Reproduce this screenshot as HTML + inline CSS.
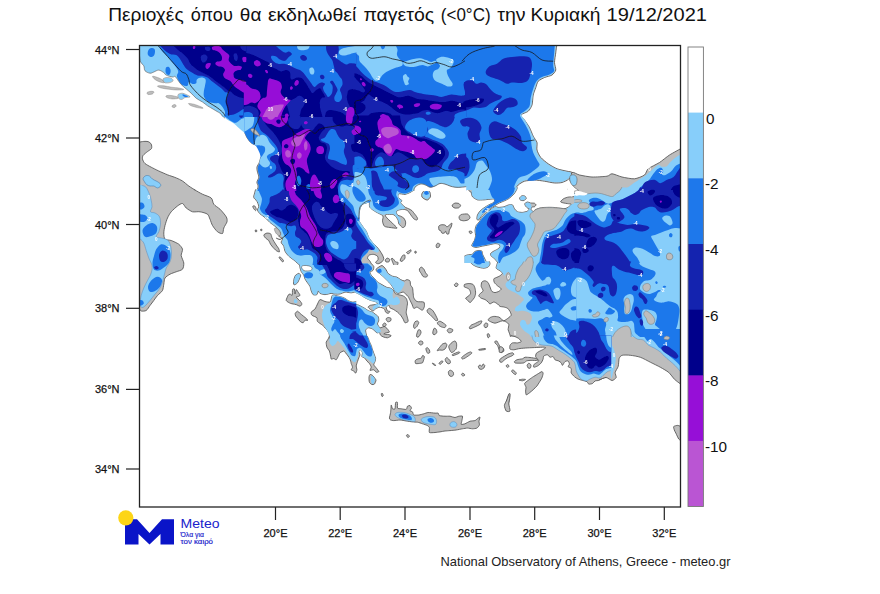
<!DOCTYPE html>
<html><head><meta charset="utf-8">
<style>
html,body{margin:0;padding:0;background:#fff;}
body{width:880px;height:594px;overflow:hidden;font-family:"Liberation Sans",sans-serif;}
svg{display:block;}
text{font-family:"Liberation Sans",sans-serif;}
</style></head><body>
<svg width="880" height="594" viewBox="0 0 880 594">
<rect width="880" height="594" fill="#fff"/>
<!-- TITLE -->
<g font-size="19" fill="#111"><text x="108.3" y="20.6" textLength="75.3" lengthAdjust="spacingAndGlyphs">Περιοχές</text><text x="190.8" y="20.6" textLength="42.0" lengthAdjust="spacingAndGlyphs">όπου</text><text x="239.8" y="20.6" textLength="21.6" lengthAdjust="spacingAndGlyphs">θα</text><text x="267.9" y="20.6" textLength="88.5" lengthAdjust="spacingAndGlyphs">εκδηλωθεί</text><text x="363.4" y="20.6" textLength="70.8" lengthAdjust="spacingAndGlyphs">παγετός</text><text x="440.8" y="20.6" textLength="49.8" lengthAdjust="spacingAndGlyphs">(&lt;0°C)</text><text x="497.2" y="20.6" textLength="28.4" lengthAdjust="spacingAndGlyphs">την</text><text x="530.6" y="20.6" textLength="69.8" lengthAdjust="spacingAndGlyphs">Κυριακή</text><text x="606.6" y="20.6" textLength="100.4" lengthAdjust="spacingAndGlyphs">19/12/2021</text></g>
<defs><filter id="soft" x="-2%" y="-2%" width="104%" height="104%"><feGaussianBlur stdDeviation="0.4"/></filter><clipPath id="mapclip"><rect x="139.5" y="45.5" width="541" height="461.5"/></clipPath></defs>
<g clip-path="url(#mapclip)" id="map"><g filter="url(#soft)">
<path d="M464.5,43.8 C464.5,43.8 557.0,43.8 557.0,43.8 C557.0,43.8 556.0,50.3 555.8,52.5 C555.5,54.7 554.5,60.5 554.5,62.5 C554.5,64.5 556.0,68.5 555.8,70.0 C555.5,71.5 553.3,74.1 552.0,75.0 C550.7,75.9 546.1,76.8 544.5,77.5 C542.9,78.2 539.3,80.1 538.2,81.2 C537.2,82.4 536.3,85.9 535.8,87.5 C535.2,89.1 533.7,93.0 533.2,95.0 C532.8,97.0 532.6,103.1 532.0,105.0 C531.4,106.9 529.6,110.1 528.2,111.2 C526.9,112.4 521.2,114.0 520.8,115.0 C520.3,116.0 523.5,118.5 524.5,120.0 C525.5,121.5 528.5,125.6 529.5,127.5 C530.5,129.4 532.4,134.5 533.2,136.2 C534.1,138.0 536.6,140.9 537.0,142.5 C537.4,144.1 536.6,148.2 537.0,150.0 C537.4,151.8 539.4,155.9 540.8,157.5 C542.1,159.1 546.4,162.4 548.2,163.8 C550.1,165.1 554.8,167.9 557.0,168.8 C559.2,169.6 565.2,170.8 567.0,171.2 C568.8,171.7 571.7,171.6 572.0,172.5 C572.3,173.4 570.7,177.6 569.5,178.8 C568.3,179.9 563.8,182.0 562.0,182.5 C560.2,183.0 556.5,183.1 554.5,183.0 C552.5,182.9 546.8,181.6 544.5,181.2 C542.2,180.9 536.8,180.0 534.5,180.0 C532.2,180.0 526.4,180.7 524.5,181.2 C522.6,181.8 519.4,184.0 518.2,185.0 C517.1,186.0 514.5,190.0 514.5,190.0 C514.5,190.0 464.5,190.0 464.5,190.0 C464.5,190.0 464.5,43.8 464.5,43.8Z" fill="#bdbdbd"/>
<path d="M557.0,43.8C557.0,43.8 556.0,50.3 555.8,52.5C555.5,54.7 554.5,60.5 554.5,62.5C554.5,64.5 556.0,68.5 555.8,70.0C555.5,71.5 553.3,74.1 552.0,75.0C550.7,75.9 546.1,76.8 544.5,77.5C542.9,78.2 539.3,80.1 538.2,81.2C537.2,82.4 536.3,85.9 535.8,87.5C535.2,89.1 533.7,93.0 533.2,95.0C532.8,97.0 532.6,103.1 532.0,105.0C531.4,106.9 529.6,110.1 528.2,111.2C526.9,112.4 521.2,114.0 520.8,115.0C520.3,116.0 523.5,118.5 524.5,120.0C525.5,121.5 528.5,125.6 529.5,127.5C530.5,129.4 532.4,134.5 533.2,136.2C534.1,138.0 536.6,140.9 537.0,142.5C537.4,144.1 536.6,148.2 537.0,150.0C537.4,151.8 539.4,155.9 540.8,157.5C542.1,159.1 546.4,162.4 548.2,163.8C550.1,165.1 554.8,167.9 557.0,168.8C559.2,169.6 565.2,170.8 567.0,171.2C568.8,171.7 571.7,171.6 572.0,172.5C572.3,173.4 570.7,177.6 569.5,178.8C568.3,179.9 563.8,182.0 562.0,182.5C560.2,183.0 556.5,183.1 554.5,183.0C552.5,182.9 546.8,181.6 544.5,181.2C542.2,180.9 536.8,180.0 534.5,180.0C532.2,180.0 526.4,180.7 524.5,181.2C522.6,181.8 519.4,184.0 518.2,185.0C517.1,186.0 514.5,190.0 514.5,190.0" fill="none" stroke="#4a4a4a" stroke-width="0.8" stroke-linejoin="round"/>
<path d="M572.0,172.5 C573.2,171.6 577.2,174.5 579.5,175.0 C581.8,175.5 588.8,176.9 592.0,177.0 C595.2,177.1 604.7,176.6 607.0,176.2 C609.3,175.9 610.2,173.7 612.0,173.8 C613.8,173.8 619.4,176.4 622.0,177.0 C624.6,177.6 631.9,179.0 634.5,178.8 C637.1,178.5 642.9,176.2 644.5,175.0 C646.1,173.8 646.5,170.2 648.2,168.8 C650.0,167.3 657.0,164.1 659.5,162.5 C662.0,160.9 666.9,156.7 669.5,155.0 C672.1,153.3 682.0,148.0 682.0,148.0 C682.0,148.0 682.0,190.0 682.0,190.0 C682.0,190.0 568.2,190.0 568.2,190.0 C568.2,190.0 569.1,184.5 569.5,182.5 C569.9,180.5 570.8,173.4 572.0,172.5Z" fill="#bdbdbd"/>
<path d="M572.0,172.5C573.2,171.6 577.2,174.5 579.5,175.0C581.8,175.5 588.8,176.9 592.0,177.0C595.2,177.1 604.7,176.6 607.0,176.2C609.3,175.9 610.2,173.7 612.0,173.8C613.8,173.8 619.4,176.4 622.0,177.0C624.6,177.6 631.9,179.0 634.5,178.8C637.1,178.5 642.9,176.2 644.5,175.0C646.1,173.8 646.5,170.2 648.2,168.8C650.0,167.3 657.0,164.1 659.5,162.5C662.0,160.9 666.9,156.7 669.5,155.0C672.1,153.3 682.0,148.0 682.0,148.0M568.2,190.0C568.2,190.0 569.1,184.5 569.5,182.5C569.9,180.5 570.8,173.4 572.0,172.5" fill="none" stroke="#4a4a4a" stroke-width="0.8" stroke-linejoin="round"/>
<path d="M389.4,418.1 C389.4,417.4 390.4,413.8 390.6,412.5 C390.8,411.2 391.1,405.4 391.2,405.0 C391.4,404.6 392.1,408.4 392.5,408.8 C392.9,409.1 394.7,409.4 395.0,408.8 C395.3,408.1 395.4,403.1 395.6,402.5 C395.9,401.9 397.3,401.9 397.5,402.5 C397.7,403.1 397.1,407.5 397.5,408.1 C397.9,408.8 400.4,408.6 401.2,408.8 C402.1,408.9 405.6,409.6 406.2,409.4 C406.9,409.1 407.1,406.6 407.5,406.2 C407.9,405.9 409.6,405.4 410.0,405.6 C410.4,405.8 411.5,407.6 411.5,408.1 C411.5,408.6 409.9,410.2 410.0,410.6 C410.1,411.0 412.1,411.4 412.5,411.9 C412.9,412.3 413.1,414.7 413.8,415.0 C414.4,415.3 417.8,415.1 418.8,415.0 C419.8,414.9 422.8,414.0 423.8,413.8 C424.7,413.5 427.0,412.6 428.1,412.5 C429.2,412.4 434.0,413.1 435.0,413.1 C436.0,413.2 437.7,412.9 438.1,413.1 C438.6,413.4 438.7,415.3 439.4,415.6 C440.1,415.9 443.9,416.2 445.0,416.2 C446.1,416.3 449.0,416.1 450.0,416.2 C451.0,416.4 454.1,417.5 455.0,417.5 C455.9,417.5 458.0,416.4 458.8,416.2 C459.5,416.1 462.2,415.8 462.5,416.2 C462.8,416.7 462.0,419.8 461.9,420.6 C461.8,421.4 460.9,424.1 461.2,424.4 C461.6,424.7 464.1,424.1 465.0,423.8 C465.9,423.4 469.0,421.6 470.0,421.2 C471.0,420.9 474.2,420.9 475.0,420.6 C475.8,420.3 477.6,418.5 478.1,418.1 C478.6,417.8 479.9,416.9 480.0,417.2 C480.1,417.6 479.1,420.5 479.0,421.2 C478.9,422.0 479.6,424.3 479.4,425.0 C479.2,425.7 477.6,427.8 476.9,428.1 C476.2,428.5 473.4,428.8 472.5,428.8 C471.6,428.8 468.5,428.1 467.5,428.1 C466.5,428.1 463.6,428.6 462.5,428.8 C461.4,428.9 457.5,429.8 456.2,430.0 C455.0,430.2 451.1,430.5 450.0,430.6 C448.9,430.7 446.0,430.9 445.0,431.0 C444.0,431.1 441.0,431.7 440.0,431.9 C439.0,432.0 436.1,432.4 435.0,432.5 C433.9,432.6 429.9,433.0 429.4,432.5 C428.8,432.0 429.6,428.2 429.4,427.5 C429.2,426.8 428.2,426.0 427.5,425.6 C426.8,425.2 423.5,424.1 422.5,423.8 C421.5,423.4 418.5,422.4 417.5,422.2 C416.5,422.1 413.6,422.0 412.5,421.9 C411.4,421.8 407.5,421.2 406.2,421.0 C405.0,420.8 401.2,420.0 400.0,420.0 C398.8,420.0 394.7,420.6 393.8,420.6 C392.8,420.6 391.1,420.2 390.6,420.0 C390.2,419.8 389.4,418.9 389.4,418.1Z" fill="#bdbdbd" stroke="#4a4a4a" stroke-width="0.8" stroke-linejoin="round"/>
<path d="M406.5,435.2 C406.5,434.9 407.8,434.5 408.1,434.6 C408.5,434.8 409.4,436.2 409.4,436.5 C409.3,436.8 408.1,437.6 407.8,437.5 C407.4,437.4 406.5,435.6 406.5,435.2Z" fill="#bdbdbd" stroke="#4a4a4a" stroke-width="0.8" stroke-linejoin="round"/>
<path d="M472.5,187.4 C472.5,187.4 471.2,190.7 471.2,191.8 C471.2,192.8 471.8,195.8 472.5,196.8 C473.2,197.7 476.2,199.5 477.5,199.9 C478.8,200.2 482.3,199.9 483.8,199.9 C485.2,199.8 488.8,199.3 490.0,199.2 C491.2,199.2 493.9,198.9 494.4,199.2 C494.8,199.6 494.4,201.7 493.8,202.4 C493.1,203.0 489.9,204.2 488.8,204.9 C487.6,205.5 484.8,207.3 483.8,208.0 C482.7,208.7 480.7,210.3 480.0,211.1 C479.3,211.9 477.9,213.9 477.5,214.9 C477.1,215.8 476.7,218.7 476.9,219.2 C477.0,219.8 478.2,220.3 478.8,219.9 C479.3,219.4 481.1,216.4 481.9,215.5 C482.7,214.6 484.7,212.6 485.6,211.8 C486.6,210.9 488.9,209.4 490.0,208.6 C491.1,207.9 494.0,206.1 495.0,205.5 C496.0,204.9 497.7,203.8 498.8,203.2 C499.8,202.7 502.6,201.7 503.8,201.1 C504.9,200.6 507.6,199.4 508.8,198.6 C509.9,197.8 512.9,195.2 513.8,194.2 C514.6,193.3 515.8,191.3 516.2,190.5 C516.7,189.7 517.5,187.4 517.5,187.4 C517.5,187.4 472.5,187.4 472.5,187.4Z" fill="#bdbdbd"/>
<path d="M472.5,187.4C472.5,187.4 471.2,190.7 471.2,191.8C471.2,192.8 471.8,195.8 472.5,196.8C473.2,197.7 476.2,199.5 477.5,199.9C478.8,200.2 482.3,199.9 483.8,199.9C485.2,199.8 488.8,199.3 490.0,199.2C491.2,199.2 493.9,198.9 494.4,199.2C494.8,199.6 494.4,201.7 493.8,202.4C493.1,203.0 489.9,204.2 488.8,204.9C487.6,205.5 484.8,207.3 483.8,208.0C482.7,208.7 480.7,210.3 480.0,211.1C479.3,211.9 477.9,213.9 477.5,214.9C477.1,215.8 476.7,218.7 476.9,219.2C477.0,219.8 478.2,220.3 478.8,219.9C479.3,219.4 481.1,216.4 481.9,215.5C482.7,214.6 484.7,212.6 485.6,211.8C486.6,210.9 488.9,209.4 490.0,208.6C491.1,207.9 494.0,206.1 495.0,205.5C496.0,204.9 497.7,203.8 498.8,203.2C499.8,202.7 502.6,201.7 503.8,201.1C504.9,200.6 507.6,199.4 508.8,198.6C509.9,197.8 512.9,195.2 513.8,194.2C514.6,193.3 515.8,191.3 516.2,190.5C516.7,189.7 517.5,187.4 517.5,187.4" fill="none" stroke="#4a4a4a" stroke-width="0.8" stroke-linejoin="round"/>
<path d="M467.5,187.4 C467.5,187.4 468.2,189.9 468.8,190.5 C469.3,191.1 471.1,192.4 471.9,192.4 C472.6,192.3 474.5,190.5 475.0,189.9 C475.5,189.3 476.2,187.4 476.2,187.4 C476.2,187.4 467.5,187.4 467.5,187.4Z" fill="#bdbdbd"/>
<path d="M467.5,187.4C467.5,187.4 468.2,189.9 468.8,190.5C469.3,191.1 471.1,192.4 471.9,192.4C472.6,192.3 474.5,190.5 475.0,189.9C475.5,189.3 476.2,187.4 476.2,187.4" fill="none" stroke="#4a4a4a" stroke-width="0.8" stroke-linejoin="round"/>
<path d="M519.6,198.0 C519.8,197.5 521.2,196.0 521.9,195.8 C522.5,195.5 524.5,195.8 525.0,196.1 C525.5,196.5 526.4,198.1 526.2,198.6 C526.1,199.1 524.4,200.3 523.8,200.5 C523.1,200.7 521.1,200.5 520.6,200.2 C520.1,200.0 519.5,198.5 519.6,198.0Z" fill="#bdbdbd" stroke="#4a4a4a" stroke-width="0.8" stroke-linejoin="round"/>
<path d="M524.8,203.6 C525.0,203.1 526.8,202.1 527.5,202.0 C528.2,201.9 529.8,202.9 530.6,203.0 C531.4,203.1 533.7,203.0 534.4,203.2 C535.0,203.5 536.0,204.5 536.0,204.9 C536.0,205.3 534.9,206.5 534.4,206.8 C533.9,207.0 532.3,206.7 531.9,207.0 C531.4,207.3 531.1,209.4 530.6,209.5 C530.1,209.6 528.1,208.4 527.5,208.0 C526.9,207.6 525.9,206.6 525.6,206.1 C525.3,205.6 524.5,204.1 524.8,203.6Z" fill="#bdbdbd" stroke="#4a4a4a" stroke-width="0.8" stroke-linejoin="round"/>
<path d="M495.0,206.8 C496.0,206.5 497.7,207.4 498.8,207.4 C499.8,207.4 502.6,207.0 503.8,206.8 C504.9,206.5 507.7,205.1 508.8,204.9 C509.8,204.7 511.8,204.4 512.5,204.9 C513.2,205.3 513.8,207.8 514.4,208.6 C515.0,209.4 516.6,211.3 517.5,211.8 C518.4,212.2 521.3,212.4 522.5,212.4 C523.7,212.3 526.6,211.6 527.5,211.1 C528.4,210.7 529.3,208.6 530.0,208.6 C530.7,208.7 532.5,211.6 533.1,211.8 C533.7,211.9 534.2,210.3 535.0,209.9 C535.8,209.4 538.7,208.3 540.0,208.0 C541.3,207.7 544.8,207.4 546.2,207.4 C547.7,207.3 551.0,207.3 552.5,207.4 C554.0,207.4 557.3,207.9 558.8,208.0 C560.2,208.1 563.8,208.8 565.0,208.6 C566.2,208.5 568.0,207.3 568.8,206.8 C569.5,206.2 571.4,204.6 571.2,204.2 C571.1,203.9 568.4,203.8 567.5,203.6 C566.6,203.5 564.6,203.2 563.8,203.0 C562.9,202.8 560.6,202.3 560.6,201.8 C560.6,201.2 562.8,199.2 563.8,198.6 C564.7,198.1 567.3,197.2 568.8,197.0 C570.2,196.8 576.2,196.5 576.2,196.5 C576.2,196.5 576.2,263.0 576.2,263.0 C576.2,263.0 498.1,263.0 498.1,263.0 C498.1,263.0 495.2,259.4 494.4,258.6 C493.6,257.8 491.7,256.7 491.2,256.1 C490.8,255.5 490.3,254.2 490.6,253.6 C490.9,253.0 492.9,251.6 493.8,251.1 C494.6,250.6 496.8,249.8 497.5,249.2 C498.2,248.7 499.9,247.3 500.0,246.8 C500.1,246.2 499.3,244.6 498.8,244.2 C498.2,243.9 496.2,243.6 495.0,243.6 C493.8,243.7 490.2,244.6 488.8,244.9 C487.3,245.2 484.0,245.8 482.5,246.1 C481.0,246.4 477.5,247.4 476.2,247.4 C475.0,247.4 472.3,246.6 471.9,246.1 C471.4,245.7 472.2,244.3 472.5,243.6 C472.8,243.0 474.0,241.4 474.4,240.5 C474.7,239.6 475.6,236.7 475.6,235.5 C475.7,234.3 474.9,231.7 475.0,230.5 C475.1,229.3 475.7,226.5 476.2,225.5 C476.8,224.5 478.7,222.7 479.4,221.8 C480.0,220.8 481.1,218.3 481.9,217.4 C482.6,216.4 484.7,214.5 485.6,213.6 C486.6,212.8 488.9,210.7 490.0,209.9 C491.1,209.1 494.0,207.0 495.0,206.8Z" fill="#bdbdbd"/>
<path d="M495.0,206.8C496.0,206.5 497.7,207.4 498.8,207.4C499.8,207.4 502.6,207.0 503.8,206.8C504.9,206.5 507.7,205.1 508.8,204.9C509.8,204.7 511.8,204.4 512.5,204.9C513.2,205.3 513.8,207.8 514.4,208.6C515.0,209.4 516.6,211.3 517.5,211.8C518.4,212.2 521.3,212.4 522.5,212.4C523.7,212.3 526.6,211.6 527.5,211.1C528.4,210.7 529.3,208.6 530.0,208.6C530.7,208.7 532.5,211.6 533.1,211.8C533.7,211.9 534.2,210.3 535.0,209.9C535.8,209.4 538.7,208.3 540.0,208.0C541.3,207.7 544.8,207.4 546.2,207.4C547.7,207.3 551.0,207.3 552.5,207.4C554.0,207.4 557.3,207.9 558.8,208.0C560.2,208.1 563.8,208.8 565.0,208.6C566.2,208.5 568.0,207.3 568.8,206.8C569.5,206.2 571.4,204.6 571.2,204.2C571.1,203.9 568.4,203.8 567.5,203.6C566.6,203.5 564.6,203.2 563.8,203.0C562.9,202.8 560.6,202.3 560.6,201.8C560.6,201.2 562.8,199.2 563.8,198.6C564.7,198.1 567.3,197.2 568.8,197.0C570.2,196.8 576.2,196.5 576.2,196.5M498.1,263.0C498.1,263.0 495.2,259.4 494.4,258.6C493.6,257.8 491.7,256.7 491.2,256.1C490.8,255.5 490.3,254.2 490.6,253.6C490.9,253.0 492.9,251.6 493.8,251.1C494.6,250.6 496.8,249.8 497.5,249.2C498.2,248.7 499.9,247.3 500.0,246.8C500.1,246.2 499.3,244.6 498.8,244.2C498.2,243.9 496.2,243.6 495.0,243.6C493.8,243.7 490.2,244.6 488.8,244.9C487.3,245.2 484.0,245.8 482.5,246.1C481.0,246.4 477.5,247.4 476.2,247.4C475.0,247.4 472.3,246.6 471.9,246.1C471.4,245.7 472.2,244.3 472.5,243.6C472.8,243.0 474.0,241.4 474.4,240.5C474.7,239.6 475.6,236.7 475.6,235.5C475.7,234.3 474.9,231.7 475.0,230.5C475.1,229.3 475.7,226.5 476.2,225.5C476.8,224.5 478.7,222.7 479.4,221.8C480.0,220.8 481.1,218.3 481.9,217.4C482.6,216.4 484.7,214.5 485.6,213.6C486.6,212.8 488.9,210.7 490.0,209.9C491.1,209.1 494.0,207.0 495.0,206.8" fill="none" stroke="#4a4a4a" stroke-width="0.8" stroke-linejoin="round"/>
<path d="M464.4,256.1 C464.4,256.1 466.6,255.1 467.5,254.9 C468.4,254.7 471.7,254.6 472.5,254.2 C473.3,253.9 473.7,252.2 474.4,251.8 C475.0,251.3 477.2,250.6 478.1,250.5 C479.0,250.4 481.4,250.7 481.9,251.1 C482.4,251.6 482.2,253.4 482.5,254.2 C482.8,255.1 483.9,257.0 484.4,258.0 C484.9,259.0 486.9,263.0 486.9,263.0 C486.9,263.0 464.4,263.0 464.4,263.0 C464.4,263.0 464.4,256.1 464.4,256.1Z" fill="#bdbdbd"/>
<path d="M464.4,256.1C464.4,256.1 466.6,255.1 467.5,254.9C468.4,254.7 471.7,254.6 472.5,254.2C473.3,253.9 473.7,252.2 474.4,251.8C475.0,251.3 477.2,250.6 478.1,250.5C479.0,250.4 481.4,250.7 481.9,251.1C482.4,251.6 482.2,253.4 482.5,254.2C482.8,255.1 483.9,257.0 484.4,258.0C484.9,259.0 486.9,263.0 486.9,263.0" fill="none" stroke="#4a4a4a" stroke-width="0.8" stroke-linejoin="round"/>
<path d="M459.0,217.0 C459.1,216.4 460.3,214.8 461.2,214.5 C462.2,214.2 466.5,213.7 467.5,214.0 C468.5,214.3 469.9,216.7 470.0,217.4 C470.1,218.1 468.9,219.5 468.1,219.9 C467.4,220.3 464.7,220.8 463.8,220.8 C462.8,220.8 460.6,220.3 460.0,219.9 C459.4,219.4 458.9,217.6 459.0,217.0Z" fill="#bdbdbd" stroke="#4a4a4a" stroke-width="0.8" stroke-linejoin="round"/>
<path d="M469.0,231.5 C469.1,231.2 470.9,231.0 471.2,231.1 C471.6,231.3 472.4,232.3 472.2,232.6 C472.1,232.9 470.6,233.8 470.2,233.6 C469.9,233.5 468.9,231.8 469.0,231.5Z" fill="#bdbdbd" stroke="#4a4a4a" stroke-width="0.8" stroke-linejoin="round"/>
<path d="M498.1,261.4 C498.1,261.4 497.1,263.7 496.9,264.5 C496.7,265.3 495.9,267.5 496.2,268.2 C496.6,269.0 499.3,270.2 500.0,270.8 C500.7,271.3 502.5,272.7 502.5,273.2 C502.5,273.8 500.7,275.2 500.0,275.8 C499.3,276.3 497.0,277.3 496.2,277.6 C495.5,278.0 494.0,278.3 493.8,278.9 C493.5,279.5 493.9,281.8 494.4,282.6 C494.8,283.4 496.7,285.0 497.5,285.8 C498.3,286.5 501.1,288.2 501.2,288.9 C501.4,289.5 499.5,290.9 498.8,291.4 C498.0,291.8 495.8,292.6 495.0,292.6 C494.2,292.6 492.5,292.0 491.9,291.4 C491.3,290.7 490.4,288.0 490.0,287.0 C489.6,286.0 488.7,283.4 488.1,282.6 C487.5,281.9 485.7,280.8 485.0,280.8 C484.3,280.7 482.3,281.3 481.9,282.0 C481.4,282.7 481.1,285.4 481.2,286.4 C481.4,287.4 483.2,289.9 483.1,290.8 C483.1,291.6 481.1,292.7 480.6,293.2 C480.1,293.8 478.7,295.2 478.8,295.8 C478.8,296.3 480.5,297.8 481.2,298.2 C482.0,298.7 484.2,299.1 485.0,299.5 C485.8,299.9 487.5,301.5 488.1,302.0 C488.7,302.5 489.3,303.9 490.0,303.9 C490.7,303.9 492.9,302.0 493.8,302.0 C494.6,302.0 496.8,303.4 497.5,303.9 C498.2,304.4 499.3,306.0 500.0,306.4 C500.7,306.7 502.9,306.8 503.8,307.0 C504.6,307.2 506.8,307.7 507.5,308.2 C508.2,308.8 509.6,310.6 510.0,311.4 C510.4,312.2 511.4,314.4 511.2,315.1 C511.1,315.9 509.3,317.1 508.8,317.6 C508.2,318.1 506.8,319.1 506.2,319.5 C505.7,319.9 504.3,320.8 503.8,320.8 C503.2,320.7 501.8,319.3 501.2,318.9 C500.7,318.4 499.6,317.3 498.8,317.0 C497.9,316.7 494.8,316.3 493.8,316.4 C492.7,316.4 490.7,317.2 490.0,317.6 C489.3,318.1 488.0,319.6 488.1,320.1 C488.3,320.6 490.4,321.6 491.2,322.0 C492.1,322.4 494.1,323.2 495.0,323.2 C495.9,323.2 497.9,322.3 498.8,322.0 C499.6,321.7 501.6,320.8 502.5,320.8 C503.4,320.8 505.5,321.6 506.2,322.0 C507.0,322.4 508.5,323.6 508.8,324.5 C509.0,325.4 508.1,328.5 508.1,329.5 C508.2,330.5 509.1,332.4 509.4,333.2 C509.7,334.1 510.6,337.0 510.6,337.0 C510.6,337.0 576.2,337.0 576.2,337.0 C576.2,337.0 576.2,261.4 576.2,261.4 C576.2,261.4 498.1,261.4 498.1,261.4Z" fill="#bdbdbd"/>
<path d="M498.1,261.4C498.1,261.4 497.1,263.7 496.9,264.5C496.7,265.3 495.9,267.5 496.2,268.2C496.6,269.0 499.3,270.2 500.0,270.8C500.7,271.3 502.5,272.7 502.5,273.2C502.5,273.8 500.7,275.2 500.0,275.8C499.3,276.3 497.0,277.3 496.2,277.6C495.5,278.0 494.0,278.3 493.8,278.9C493.5,279.5 493.9,281.8 494.4,282.6C494.8,283.4 496.7,285.0 497.5,285.8C498.3,286.5 501.1,288.2 501.2,288.9C501.4,289.5 499.5,290.9 498.8,291.4C498.0,291.8 495.8,292.6 495.0,292.6C494.2,292.6 492.5,292.0 491.9,291.4C491.3,290.7 490.4,288.0 490.0,287.0C489.6,286.0 488.7,283.4 488.1,282.6C487.5,281.9 485.7,280.8 485.0,280.8C484.3,280.7 482.3,281.3 481.9,282.0C481.4,282.7 481.1,285.4 481.2,286.4C481.4,287.4 483.2,289.9 483.1,290.8C483.1,291.6 481.1,292.7 480.6,293.2C480.1,293.8 478.7,295.2 478.8,295.8C478.8,296.3 480.5,297.8 481.2,298.2C482.0,298.7 484.2,299.1 485.0,299.5C485.8,299.9 487.5,301.5 488.1,302.0C488.7,302.5 489.3,303.9 490.0,303.9C490.7,303.9 492.9,302.0 493.8,302.0C494.6,302.0 496.8,303.4 497.5,303.9C498.2,304.4 499.3,306.0 500.0,306.4C500.7,306.7 502.9,306.8 503.8,307.0C504.6,307.2 506.8,307.7 507.5,308.2C508.2,308.8 509.6,310.6 510.0,311.4C510.4,312.2 511.4,314.4 511.2,315.1C511.1,315.9 509.3,317.1 508.8,317.6C508.2,318.1 506.8,319.1 506.2,319.5C505.7,319.9 504.3,320.8 503.8,320.8C503.2,320.7 501.8,319.3 501.2,318.9C500.7,318.4 499.6,317.3 498.8,317.0C497.9,316.7 494.8,316.3 493.8,316.4C492.7,316.4 490.7,317.2 490.0,317.6C489.3,318.1 488.0,319.6 488.1,320.1C488.3,320.6 490.4,321.6 491.2,322.0C492.1,322.4 494.1,323.2 495.0,323.2C495.9,323.2 497.9,322.3 498.8,322.0C499.6,321.7 501.6,320.8 502.5,320.8C503.4,320.8 505.5,321.6 506.2,322.0C507.0,322.4 508.5,323.6 508.8,324.5C509.0,325.4 508.1,328.5 508.1,329.5C508.2,330.5 509.1,332.4 509.4,333.2C509.7,334.1 510.6,337.0 510.6,337.0" fill="none" stroke="#4a4a4a" stroke-width="0.8" stroke-linejoin="round"/>
<path d="M469.4,261.4 C469.4,261.4 471.6,263.8 472.5,264.5 C473.4,265.2 476.2,266.6 477.5,267.0 C478.8,267.4 482.5,268.2 483.8,268.2 C485.0,268.2 487.4,267.5 488.1,267.0 C488.9,266.5 489.9,264.5 490.0,263.9 C490.1,263.2 489.4,261.4 489.4,261.4 C489.4,261.4 469.4,261.4 469.4,261.4Z" fill="#bdbdbd"/>
<path d="M469.4,261.4C469.4,261.4 471.6,263.8 472.5,264.5C473.4,265.2 476.2,266.6 477.5,267.0C478.8,267.4 482.5,268.2 483.8,268.2C485.0,268.2 487.4,267.5 488.1,267.0C488.9,266.5 489.9,264.5 490.0,263.9C490.1,263.2 489.4,261.4 489.4,261.4" fill="none" stroke="#4a4a4a" stroke-width="0.8" stroke-linejoin="round"/>
<path d="M464.4,284.5 C464.9,284.1 467.7,283.5 468.8,283.5 C469.8,283.5 472.4,283.9 473.1,284.5 C473.9,285.1 474.7,287.2 475.0,288.2 C475.3,289.3 475.7,292.2 475.6,293.2 C475.6,294.3 474.8,296.8 474.4,297.6 C473.9,298.5 472.4,300.2 471.9,300.8 C471.4,301.3 470.6,302.8 470.0,302.6 C469.4,302.5 467.4,300.0 466.9,299.5 C466.4,299.0 465.4,298.7 465.6,298.2 C465.8,297.8 468.2,296.3 468.8,295.8 C469.3,295.2 470.6,294.0 470.6,293.2 C470.7,292.5 469.9,290.2 469.4,289.5 C468.9,288.8 466.8,287.9 466.2,287.6 C465.7,287.3 464.6,287.4 464.4,287.0 C464.2,286.6 463.9,284.9 464.4,284.5Z" fill="#bdbdbd" stroke="#4a4a4a" stroke-width="0.8" stroke-linejoin="round"/>
<path d="M469.4,327.6 C469.5,327.2 470.5,325.6 471.2,325.1 C472.0,324.6 474.7,323.7 475.6,323.2 C476.6,322.8 478.6,321.6 479.4,321.4 C480.1,321.1 481.7,320.7 481.9,321.0 C482.0,321.3 481.2,323.3 480.6,323.9 C480.0,324.5 477.8,325.5 476.9,326.0 C475.9,326.5 473.3,327.7 472.5,328.0 C471.7,328.3 470.4,328.9 470.0,328.9 C469.6,328.8 469.2,328.1 469.4,327.6Z" fill="#bdbdbd" stroke="#4a4a4a" stroke-width="0.8" stroke-linejoin="round"/>
<path d="M484.0,325.1 C484.1,324.6 485.2,323.1 485.6,323.0 C486.1,322.9 487.6,323.4 487.8,323.9 C487.9,324.3 487.6,326.6 487.2,327.0 C486.9,327.4 485.4,327.8 485.0,327.6 C484.6,327.4 483.9,325.7 484.0,325.1Z" fill="#bdbdbd" stroke="#4a4a4a" stroke-width="0.8" stroke-linejoin="round"/>
<path d="M138.8,142.2 C138.8,142.2 142.5,141.5 143.8,141.4 C145.0,141.3 147.1,141.3 148.1,141.6 C149.1,142.0 150.8,143.2 151.2,144.1 C151.7,145.0 152.0,147.5 151.5,148.5 C151.0,149.5 148.6,150.7 147.5,151.6 C146.4,152.5 143.8,154.4 143.1,155.4 C142.5,156.4 142.2,158.0 142.5,159.1 C142.8,160.2 143.8,162.4 145.0,163.5 C146.2,164.6 149.4,166.2 151.2,167.2 C153.1,168.2 156.6,170.0 158.8,171.0 C160.9,172.0 165.2,173.8 167.5,174.8 C169.8,175.7 174.2,177.0 176.2,177.9 C178.2,178.7 180.8,179.9 182.5,181.0 C184.2,182.1 187.1,184.8 188.8,186.0 C190.4,187.2 194.2,189.5 195.0,190.0 C195.8,190.5 194.0,189.4 195.0,190.0 C196.0,190.6 200.3,193.2 202.5,194.2 C204.7,195.3 209.8,196.7 211.2,198.0 C212.8,199.3 212.6,202.8 213.8,204.2 C214.9,205.8 218.3,207.6 220.0,209.2 C221.7,210.9 225.3,215.1 226.2,216.8 C227.2,218.4 227.3,220.2 227.0,221.8 C226.7,223.2 224.3,226.4 223.8,228.0 C223.2,229.6 223.3,233.0 222.5,233.5 C221.7,234.0 218.8,232.8 217.5,231.8 C216.2,230.7 213.5,227.2 212.5,225.5 C211.5,223.8 210.7,220.8 210.0,219.2 C209.3,217.8 208.8,215.2 207.5,214.2 C206.2,213.2 202.0,212.1 200.0,211.8 C198.0,211.4 194.3,212.2 192.5,211.8 C190.7,211.2 187.6,209.1 186.2,208.0 C184.9,206.9 183.7,203.8 182.5,203.5 C181.3,203.2 179.0,204.9 177.5,206.0 C176.0,207.1 172.6,210.2 171.2,211.8 C169.9,213.3 168.3,216.2 167.5,218.0 C166.7,219.8 165.5,223.5 165.0,225.5 C164.5,227.5 163.8,231.2 163.8,233.0 C163.8,234.8 164.0,238.2 165.0,239.2 C166.0,240.2 169.4,239.8 171.2,240.5 C173.1,241.2 177.2,243.1 178.8,244.2 C180.2,245.4 182.2,247.8 182.5,249.2 C182.8,250.8 181.1,253.7 181.2,255.5 C181.4,257.3 183.6,261.2 183.8,263.0 C183.9,264.8 183.5,268.1 182.5,269.2 C181.5,270.4 177.9,271.1 176.2,271.8 C174.6,272.4 171.5,273.4 170.0,274.2 C168.5,275.1 165.8,276.7 165.0,278.0 C164.2,279.3 164.1,282.6 163.8,284.2 C163.4,285.9 163.3,289.0 162.5,290.5 C161.7,292.0 158.7,294.2 157.5,295.5 C156.3,296.8 154.8,299.2 153.8,300.5 C152.8,301.8 151.0,304.2 150.0,305.5 C149.0,306.8 147.4,309.8 146.2,310.5 C145.1,311.2 142.2,311.3 141.2,311.0 C140.3,310.7 139.0,308.0 139.0,308.0 C139.0,308.0 138.8,142.2 138.8,142.2Z" fill="#bdbdbd"/>
<path d="M138.8,142.2C138.8,142.2 142.5,141.5 143.8,141.4C145.0,141.3 147.1,141.3 148.1,141.6C149.1,142.0 150.8,143.2 151.2,144.1C151.7,145.0 152.0,147.5 151.5,148.5C151.0,149.5 148.6,150.7 147.5,151.6C146.4,152.5 143.8,154.4 143.1,155.4C142.5,156.4 142.2,158.0 142.5,159.1C142.8,160.2 143.8,162.4 145.0,163.5C146.2,164.6 149.4,166.2 151.2,167.2C153.1,168.2 156.6,170.0 158.8,171.0C160.9,172.0 165.2,173.8 167.5,174.8C169.8,175.7 174.2,177.0 176.2,177.9C178.2,178.7 180.8,179.9 182.5,181.0C184.2,182.1 187.1,184.8 188.8,186.0C190.4,187.2 194.2,189.5 195.0,190.0C195.8,190.5 194.0,189.4 195.0,190.0C196.0,190.6 200.3,193.2 202.5,194.2C204.7,195.3 209.8,196.7 211.2,198.0C212.8,199.3 212.6,202.8 213.8,204.2C214.9,205.8 218.3,207.6 220.0,209.2C221.7,210.9 225.3,215.1 226.2,216.8C227.2,218.4 227.3,220.2 227.0,221.8C226.7,223.2 224.3,226.4 223.8,228.0C223.2,229.6 223.3,233.0 222.5,233.5C221.7,234.0 218.8,232.8 217.5,231.8C216.2,230.7 213.5,227.2 212.5,225.5C211.5,223.8 210.7,220.8 210.0,219.2C209.3,217.8 208.8,215.2 207.5,214.2C206.2,213.2 202.0,212.1 200.0,211.8C198.0,211.4 194.3,212.2 192.5,211.8C190.7,211.2 187.6,209.1 186.2,208.0C184.9,206.9 183.7,203.8 182.5,203.5C181.3,203.2 179.0,204.9 177.5,206.0C176.0,207.1 172.6,210.2 171.2,211.8C169.9,213.3 168.3,216.2 167.5,218.0C166.7,219.8 165.5,223.5 165.0,225.5C164.5,227.5 163.8,231.2 163.8,233.0C163.8,234.8 164.0,238.2 165.0,239.2C166.0,240.2 169.4,239.8 171.2,240.5C173.1,241.2 177.2,243.1 178.8,244.2C180.2,245.4 182.2,247.8 182.5,249.2C182.8,250.8 181.1,253.7 181.2,255.5C181.4,257.3 183.6,261.2 183.8,263.0C183.9,264.8 183.5,268.1 182.5,269.2C181.5,270.4 177.9,271.1 176.2,271.8C174.6,272.4 171.5,273.4 170.0,274.2C168.5,275.1 165.8,276.7 165.0,278.0C164.2,279.3 164.1,282.6 163.8,284.2C163.4,285.9 163.3,289.0 162.5,290.5C161.7,292.0 158.7,294.2 157.5,295.5C156.3,296.8 154.8,299.2 153.8,300.5C152.8,301.8 151.0,304.2 150.0,305.5C149.0,306.8 147.4,309.8 146.2,310.5C145.1,311.2 142.2,311.3 141.2,311.0C140.3,310.7 139.0,308.0 139.0,308.0" fill="none" stroke="#4a4a4a" stroke-width="0.8" stroke-linejoin="round"/>
<path d="M329.8,335.4 C329.8,335.4 328.5,338.3 328.1,339.1 C327.7,339.9 326.4,341.3 326.2,342.2 C326.1,343.2 326.5,346.2 326.9,347.2 C327.2,348.3 328.9,350.0 329.4,351.0 C329.8,352.0 330.4,355.1 330.6,356.0 C330.8,356.9 330.9,358.8 331.2,359.1 C331.6,359.4 333.2,358.4 333.8,358.5 C334.3,358.6 335.7,360.0 336.2,359.8 C336.8,359.5 337.7,357.4 338.1,356.6 C338.6,355.8 339.3,353.5 340.0,352.9 C340.7,352.2 343.1,351.0 343.8,351.0 C344.4,351.0 345.1,352.3 345.6,352.9 C346.1,353.5 347.6,355.3 348.1,356.0 C348.6,356.7 349.6,358.2 350.0,359.1 C350.4,360.0 351.0,362.6 351.2,363.5 C351.5,364.4 352.5,366.5 352.5,367.2 C352.5,368.0 351.1,369.3 351.2,369.8 C351.4,370.2 353.2,370.6 353.8,371.0 C354.3,371.4 355.3,373.4 355.6,373.2 C356.0,373.1 356.8,370.6 356.9,369.8 C356.9,368.9 356.2,366.9 356.2,366.0 C356.3,365.1 357.2,362.6 357.5,361.6 C357.8,360.7 358.5,358.7 358.8,357.9 C359.0,357.1 360.0,355.6 360.0,354.8 C360.0,353.9 358.7,351.6 358.8,351.0 C358.8,350.4 360.2,349.5 360.6,349.8 C361.1,350.0 362.4,352.1 362.5,352.9 C362.6,353.7 361.7,356.0 361.9,356.6 C362.1,357.2 363.8,357.4 364.4,357.9 C365.0,358.4 366.3,360.3 366.9,361.0 C367.5,361.7 368.9,362.8 369.4,363.5 C369.9,364.2 371.2,366.4 371.2,367.2 C371.3,368.1 369.7,370.1 370.0,370.4 C370.3,370.7 373.0,369.5 373.8,369.8 C374.5,370.0 375.7,372.0 376.2,372.2 C376.8,372.5 378.8,372.1 378.8,371.6 C378.8,371.1 376.8,368.7 376.2,367.9 C375.7,367.1 373.9,365.5 373.8,364.8 C373.6,364.0 374.8,362.4 375.0,361.6 C375.2,360.9 375.7,359.3 375.6,358.5 C375.6,357.7 374.7,355.8 374.4,354.8 C374.0,353.7 372.9,350.8 372.5,349.8 C372.1,348.7 371.6,346.3 371.2,345.4 C370.9,344.4 369.7,342.5 369.4,341.6 C369.0,340.8 368.5,338.6 368.1,337.9 C367.8,337.1 366.2,335.4 366.2,335.4 C366.2,335.4 329.8,335.4 329.8,335.4Z" fill="#bdbdbd"/>
<path d="M329.8,335.4C329.8,335.4 328.5,338.3 328.1,339.1C327.7,339.9 326.4,341.3 326.2,342.2C326.1,343.2 326.5,346.2 326.9,347.2C327.2,348.3 328.9,350.0 329.4,351.0C329.8,352.0 330.4,355.1 330.6,356.0C330.8,356.9 330.9,358.8 331.2,359.1C331.6,359.4 333.2,358.4 333.8,358.5C334.3,358.6 335.7,360.0 336.2,359.8C336.8,359.5 337.7,357.4 338.1,356.6C338.6,355.8 339.3,353.5 340.0,352.9C340.7,352.2 343.1,351.0 343.8,351.0C344.4,351.0 345.1,352.3 345.6,352.9C346.1,353.5 347.6,355.3 348.1,356.0C348.6,356.7 349.6,358.2 350.0,359.1C350.4,360.0 351.0,362.6 351.2,363.5C351.5,364.4 352.5,366.5 352.5,367.2C352.5,368.0 351.1,369.3 351.2,369.8C351.4,370.2 353.2,370.6 353.8,371.0C354.3,371.4 355.3,373.4 355.6,373.2C356.0,373.1 356.8,370.6 356.9,369.8C356.9,368.9 356.2,366.9 356.2,366.0C356.3,365.1 357.2,362.6 357.5,361.6C357.8,360.7 358.5,358.7 358.8,357.9C359.0,357.1 360.0,355.6 360.0,354.8C360.0,353.9 358.7,351.6 358.8,351.0C358.8,350.4 360.2,349.5 360.6,349.8C361.1,350.0 362.4,352.1 362.5,352.9C362.6,353.7 361.7,356.0 361.9,356.6C362.1,357.2 363.8,357.4 364.4,357.9C365.0,358.4 366.3,360.3 366.9,361.0C367.5,361.7 368.9,362.8 369.4,363.5C369.9,364.2 371.2,366.4 371.2,367.2C371.3,368.1 369.7,370.1 370.0,370.4C370.3,370.7 373.0,369.5 373.8,369.8C374.5,370.0 375.7,372.0 376.2,372.2C376.8,372.5 378.8,372.1 378.8,371.6C378.8,371.1 376.8,368.7 376.2,367.9C375.7,367.1 373.9,365.5 373.8,364.8C373.6,364.0 374.8,362.4 375.0,361.6C375.2,360.9 375.7,359.3 375.6,358.5C375.6,357.7 374.7,355.8 374.4,354.8C374.0,353.7 372.9,350.8 372.5,349.8C372.1,348.7 371.6,346.3 371.2,345.4C370.9,344.4 369.7,342.5 369.4,341.6C369.0,340.8 368.5,338.6 368.1,337.9C367.8,337.1 366.2,335.4 366.2,335.4" fill="none" stroke="#4a4a4a" stroke-width="0.8" stroke-linejoin="round"/>
<path d="M369.0,377.2 C369.1,376.3 369.6,374.7 370.0,374.5 C370.4,374.3 371.9,374.9 372.5,375.4 C373.1,375.8 374.6,377.9 375.0,378.5 C375.4,379.1 376.1,379.7 376.0,380.4 C375.9,381.0 374.9,383.6 374.4,384.1 C373.9,384.6 372.5,384.7 371.9,384.5 C371.3,384.3 369.7,383.1 369.4,382.2 C369.0,381.4 368.9,378.2 369.0,377.2Z" fill="#bdbdbd" stroke="#4a4a4a" stroke-width="0.8" stroke-linejoin="round"/>
<path d="M381.2,393.8 C381.3,393.4 382.3,393.3 382.5,393.5 C382.7,393.7 383.3,395.4 383.2,395.8 C383.2,396.1 382.2,396.7 382.0,396.5 C381.8,396.3 381.2,394.1 381.2,393.8Z" fill="#bdbdbd" stroke="#4a4a4a" stroke-width="0.8" stroke-linejoin="round"/>
<path d="M418.4,343.1 C418.3,342.7 419.5,341.2 420.0,341.0 C420.5,340.8 422.2,341.2 422.5,341.5 C422.8,341.8 423.1,343.3 422.9,343.8 C422.7,344.2 421.1,345.1 420.6,345.0 C420.1,344.9 418.4,343.6 418.4,343.1Z" fill="#bdbdbd" stroke="#4a4a4a" stroke-width="0.8" stroke-linejoin="round"/>
<path d="M425.9,348.8 C426.0,348.3 426.8,347.4 427.2,347.5 C427.7,347.6 429.1,349.4 429.4,350.0 C429.7,350.6 429.9,352.1 429.8,352.5 C429.6,352.9 428.1,353.5 427.8,353.4 C427.4,353.2 426.7,351.8 426.5,351.2 C426.3,350.7 425.8,349.2 425.9,348.8Z" fill="#bdbdbd" stroke="#4a4a4a" stroke-width="0.8" stroke-linejoin="round"/>
<path d="M415.2,360.6 C415.5,360.1 416.8,359.3 417.5,359.0 C418.2,358.7 420.7,358.5 421.2,358.1 C421.8,357.7 422.1,355.8 422.5,355.6 C422.9,355.4 424.2,356.1 424.4,356.5 C424.5,356.9 424.0,358.6 423.8,359.4 C423.5,360.1 423.1,362.3 422.5,362.8 C421.9,363.2 419.6,363.4 418.8,363.5 C417.9,363.6 416.0,363.8 415.6,363.5 C415.2,363.2 415.0,361.1 415.2,360.6Z" fill="#bdbdbd" stroke="#4a4a4a" stroke-width="0.8" stroke-linejoin="round"/>
<path d="M437.2,350.6 C437.2,350.3 439.4,347.6 440.0,346.9 C440.6,346.1 441.8,344.4 442.5,344.0 C443.2,343.6 445.1,343.0 445.6,343.1 C446.1,343.2 446.9,344.3 446.9,345.0 C446.8,345.7 445.8,348.1 445.2,348.8 C444.7,349.4 443.1,350.1 442.5,350.2 C441.9,350.4 440.6,350.0 440.0,350.0 C439.4,350.0 437.2,351.0 437.2,350.6Z" fill="#bdbdbd" stroke="#4a4a4a" stroke-width="0.8" stroke-linejoin="round"/>
<path d="M448.8,346.2 C449.0,345.4 451.1,343.1 451.9,342.5 C452.6,341.9 454.4,340.9 455.0,341.0 C455.6,341.1 456.5,342.8 456.6,343.8 C456.8,344.7 456.6,347.8 456.2,348.8 C455.9,349.7 454.3,351.1 453.8,351.5 C453.2,351.9 452.0,352.7 451.5,352.5 C451.0,352.3 450.1,350.7 449.8,350.0 C449.4,349.3 448.5,347.1 448.8,346.2Z" fill="#bdbdbd" stroke="#4a4a4a" stroke-width="0.8" stroke-linejoin="round"/>
<path d="M445.2,359.4 C445.4,358.9 446.3,357.4 446.9,357.5 C447.4,357.6 449.6,360.0 450.0,360.6 C450.4,361.3 450.5,362.8 450.2,363.1 C450.0,363.5 448.6,363.9 448.1,363.8 C447.6,363.6 446.3,362.4 446.0,361.9 C445.7,361.4 445.1,359.9 445.2,359.4Z" fill="#bdbdbd" stroke="#4a4a4a" stroke-width="0.8" stroke-linejoin="round"/>
<path d="M439.0,363.1 C439.2,362.7 441.4,361.0 441.9,360.9 C442.3,360.7 443.1,361.5 442.9,361.9 C442.7,362.3 440.7,364.2 440.2,364.4 C439.8,364.5 438.8,363.5 439.0,363.1Z" fill="#bdbdbd" stroke="#4a4a4a" stroke-width="0.8" stroke-linejoin="round"/>
<path d="M432.8,363.1 C433.1,363.3 435.4,364.7 435.6,365.0 C435.9,365.3 435.4,365.8 435.0,365.6 C434.6,365.5 432.8,364.0 432.5,363.8 C432.2,363.5 432.4,363.0 432.8,363.1Z" fill="#bdbdbd" stroke="#4a4a4a" stroke-width="0.8" stroke-linejoin="round"/>
<path d="M461.5,357.8 C461.6,357.4 463.1,356.2 463.8,355.6 C464.4,355.1 466.7,353.6 467.5,353.1 C468.3,352.7 470.1,351.9 470.6,351.9 C471.1,351.9 472.1,352.7 471.9,353.1 C471.7,353.6 469.6,355.0 468.8,355.6 C467.9,356.2 465.7,357.7 465.0,358.1 C464.3,358.5 462.9,359.0 462.5,359.0 C462.1,359.0 461.4,358.1 461.5,357.8Z" fill="#bdbdbd" stroke="#4a4a4a" stroke-width="0.8" stroke-linejoin="round"/>
<path d="M448.4,371.9 C448.5,371.3 449.7,370.2 450.2,370.2 C450.8,370.2 452.7,371.3 453.1,371.9 C453.5,372.4 453.7,374.5 453.5,375.0 C453.3,375.5 451.8,376.5 451.2,376.5 C450.7,376.5 449.3,375.8 449.0,375.2 C448.7,374.7 448.2,372.5 448.4,371.9Z" fill="#bdbdbd" stroke="#4a4a4a" stroke-width="0.8" stroke-linejoin="round"/>
<path d="M461.5,374.8 C461.5,374.4 462.3,373.1 462.8,373.1 C463.2,373.2 465.0,374.7 465.0,375.0 C465.0,375.3 463.5,376.0 463.1,376.0 C462.7,376.0 461.5,375.1 461.5,374.8Z" fill="#bdbdbd" stroke="#4a4a4a" stroke-width="0.8" stroke-linejoin="round"/>
<path d="M478.4,366.2 C478.5,365.8 479.6,365.0 480.0,365.0 C480.4,365.0 481.5,366.4 481.9,366.2 C482.2,366.1 482.8,364.1 483.1,364.0 C483.5,363.9 484.7,365.1 484.8,365.6 C484.8,366.1 484.2,367.7 483.8,368.1 C483.3,368.6 481.8,369.3 481.2,369.4 C480.7,369.4 479.3,368.9 479.0,368.5 C478.7,368.1 478.3,366.7 478.4,366.2Z" fill="#bdbdbd" stroke="#4a4a4a" stroke-width="0.8" stroke-linejoin="round"/>
<path d="M494.8,341.5 C494.9,341.3 496.4,340.7 496.9,341.0 C497.3,341.3 498.3,343.6 498.8,344.4 C499.2,345.1 500.1,347.0 500.6,347.5 C501.2,348.0 503.1,348.3 503.5,348.8 C503.9,349.2 504.0,350.8 503.8,351.2 C503.5,351.7 501.8,352.6 501.2,352.5 C500.7,352.4 499.8,350.8 499.4,350.0 C498.9,349.2 498.0,346.4 497.5,345.6 C497.0,344.8 495.6,343.6 495.2,343.1 C494.9,342.6 494.6,341.7 494.8,341.5Z" fill="#bdbdbd" stroke="#4a4a4a" stroke-width="0.8" stroke-linejoin="round"/>
<path d="M499.6,360.0 C499.8,359.6 500.7,358.6 501.2,358.1 C501.8,357.7 503.6,356.7 504.4,356.2 C505.2,355.8 507.2,354.4 508.1,354.0 C509.1,353.6 511.8,352.7 512.5,352.8 C513.2,352.8 513.9,354.0 513.8,354.4 C513.6,354.8 512.0,355.9 511.2,356.2 C510.5,356.6 508.3,357.3 507.5,357.8 C506.7,358.2 505.0,359.5 504.4,360.0 C503.7,360.5 502.4,362.0 501.9,362.2 C501.4,362.5 500.3,362.1 500.0,361.9 C499.7,361.6 499.5,360.4 499.6,360.0Z" fill="#bdbdbd" stroke="#4a4a4a" stroke-width="0.8" stroke-linejoin="round"/>
<path d="M506.0,366.0 C506.0,365.7 507.1,364.6 507.5,364.6 C507.9,364.6 509.1,365.7 509.1,366.0 C509.2,366.3 508.1,367.5 507.8,367.5 C507.4,367.5 506.0,366.3 506.0,366.0Z" fill="#bdbdbd" stroke="#4a4a4a" stroke-width="0.8" stroke-linejoin="round"/>
<path d="M487.1,334.4 C487.2,333.9 488.4,333.5 488.8,333.8 C489.1,334.0 489.8,335.8 489.8,336.2 C489.7,336.7 488.4,338.0 488.1,337.8 C487.8,337.5 487.1,334.8 487.1,334.4Z" fill="#bdbdbd" stroke="#4a4a4a" stroke-width="0.8" stroke-linejoin="round"/>
<path d="M505.6,405.0 C505.5,404.4 506.5,401.2 506.9,400.0 C507.2,398.8 508.4,395.7 508.8,395.0 C509.1,394.3 509.7,393.9 509.8,394.4 C509.8,394.8 509.6,397.5 509.4,398.8 C509.2,400.0 508.6,404.3 508.1,405.0 C507.7,405.7 505.8,405.6 505.6,405.0Z" fill="#bdbdbd" stroke="#4a4a4a" stroke-width="0.8" stroke-linejoin="round"/>
<path d="M479.0,349.4 C479.7,349.2 484.3,348.5 485.0,348.5 C485.7,348.5 485.9,349.3 485.2,349.5 C484.6,349.7 480.1,350.3 479.4,350.2 C478.6,350.2 478.3,349.6 479.0,349.4Z" fill="#bdbdbd" stroke="#4a4a4a" stroke-width="0.8" stroke-linejoin="round"/>
<path d="M452.5,354.4 C453.2,353.9 457.9,352.0 458.8,351.9 C459.6,351.7 460.0,352.7 459.4,353.1 C458.7,353.6 453.9,355.5 453.1,355.6 C452.3,355.8 451.8,354.8 452.5,354.4Z" fill="#bdbdbd" stroke="#4a4a4a" stroke-width="0.8" stroke-linejoin="round"/>
<path d="M510.6,335.4 C510.6,335.4 514.1,336.3 515.0,336.6 C515.9,337.0 518.0,337.9 518.8,338.5 C519.5,339.1 521.4,341.1 521.2,341.6 C521.1,342.1 518.5,342.7 517.5,342.9 C516.5,343.0 513.4,342.6 512.5,342.9 C511.6,343.2 510.3,344.6 510.0,345.4 C509.7,346.1 509.6,348.6 510.0,349.1 C510.4,349.6 512.6,349.8 513.8,349.8 C514.9,349.7 518.4,348.7 520.0,348.5 C521.6,348.3 525.6,348.0 527.5,347.9 C529.4,347.8 534.4,347.6 536.2,347.5 C538.1,347.4 542.7,347.2 543.8,347.2 C544.8,347.3 545.8,347.6 545.6,347.9 C545.5,348.2 543.3,349.3 542.5,349.8 C541.7,350.2 539.5,351.2 538.8,351.6 C538.0,352.1 536.6,352.9 536.2,353.5 C535.9,354.1 535.5,356.0 535.6,356.6 C535.8,357.3 537.1,358.6 537.5,359.1 C537.9,359.6 538.9,360.6 538.8,361.0 C538.6,361.4 536.8,362.4 536.2,362.9 C535.7,363.3 534.0,364.2 533.8,364.8 C533.5,365.3 533.3,367.1 533.8,367.2 C534.2,367.4 536.6,366.5 537.5,366.0 C538.4,365.5 540.6,363.7 541.2,362.9 C541.9,362.1 542.8,359.9 543.1,359.1 C543.4,358.3 543.2,356.5 543.8,356.0 C544.3,355.5 546.8,354.6 547.5,354.8 C548.2,354.9 549.3,357.0 550.0,357.2 C550.7,357.5 552.5,356.3 553.1,356.6 C553.7,356.9 554.3,359.2 555.0,359.8 C555.7,360.3 558.0,360.6 558.8,361.0 C559.5,361.4 560.8,362.4 561.2,362.9 C561.7,363.4 562.1,365.5 562.5,365.4 C562.9,365.2 564.3,362.1 565.0,361.6 C565.7,361.1 567.6,360.7 568.1,361.0 C568.6,361.3 569.4,363.5 569.4,364.1 C569.4,364.8 567.9,366.1 568.1,366.6 C568.3,367.1 570.9,367.8 571.2,368.5 C571.6,369.2 570.9,371.9 571.2,372.9 C571.6,373.8 573.6,375.9 574.4,376.6 C575.2,377.4 577.2,378.7 578.1,379.1 C579.1,379.6 581.5,380.1 582.5,380.4 C583.5,380.7 586.1,381.2 586.9,381.6 C587.6,382.1 588.1,383.9 588.8,384.1 C589.4,384.3 591.8,383.9 592.5,383.5 C593.2,383.1 594.3,381.4 595.0,381.0 C595.7,380.6 597.9,380.7 598.8,380.4 C599.6,380.1 601.6,378.9 602.5,378.5 C603.4,378.1 605.2,377.5 606.2,377.2 C607.3,377.0 611.2,376.0 611.2,376.0 C611.2,376.0 611.2,335.4 611.2,335.4 C611.2,335.4 510.6,335.4 510.6,335.4Z" fill="#bdbdbd"/>
<path d="M510.6,335.4C510.6,335.4 514.1,336.3 515.0,336.6C515.9,337.0 518.0,337.9 518.8,338.5C519.5,339.1 521.4,341.1 521.2,341.6C521.1,342.1 518.5,342.7 517.5,342.9C516.5,343.0 513.4,342.6 512.5,342.9C511.6,343.2 510.3,344.6 510.0,345.4C509.7,346.1 509.6,348.6 510.0,349.1C510.4,349.6 512.6,349.8 513.8,349.8C514.9,349.7 518.4,348.7 520.0,348.5C521.6,348.3 525.6,348.0 527.5,347.9C529.4,347.8 534.4,347.6 536.2,347.5C538.1,347.4 542.7,347.2 543.8,347.2C544.8,347.3 545.8,347.6 545.6,347.9C545.5,348.2 543.3,349.3 542.5,349.8C541.7,350.2 539.5,351.2 538.8,351.6C538.0,352.1 536.6,352.9 536.2,353.5C535.9,354.1 535.5,356.0 535.6,356.6C535.8,357.3 537.1,358.6 537.5,359.1C537.9,359.6 538.9,360.6 538.8,361.0C538.6,361.4 536.8,362.4 536.2,362.9C535.7,363.3 534.0,364.2 533.8,364.8C533.5,365.3 533.3,367.1 533.8,367.2C534.2,367.4 536.6,366.5 537.5,366.0C538.4,365.5 540.6,363.7 541.2,362.9C541.9,362.1 542.8,359.9 543.1,359.1C543.4,358.3 543.2,356.5 543.8,356.0C544.3,355.5 546.8,354.6 547.5,354.8C548.2,354.9 549.3,357.0 550.0,357.2C550.7,357.5 552.5,356.3 553.1,356.6C553.7,356.9 554.3,359.2 555.0,359.8C555.7,360.3 558.0,360.6 558.8,361.0C559.5,361.4 560.8,362.4 561.2,362.9C561.7,363.4 562.1,365.5 562.5,365.4C562.9,365.2 564.3,362.1 565.0,361.6C565.7,361.1 567.6,360.7 568.1,361.0C568.6,361.3 569.4,363.5 569.4,364.1C569.4,364.8 567.9,366.1 568.1,366.6C568.3,367.1 570.9,367.8 571.2,368.5C571.6,369.2 570.9,371.9 571.2,372.9C571.6,373.8 573.6,375.9 574.4,376.6C575.2,377.4 577.2,378.7 578.1,379.1C579.1,379.6 581.5,380.1 582.5,380.4C583.5,380.7 586.1,381.2 586.9,381.6C587.6,382.1 588.1,383.9 588.8,384.1C589.4,384.3 591.8,383.9 592.5,383.5C593.2,383.1 594.3,381.4 595.0,381.0C595.7,380.6 597.9,380.7 598.8,380.4C599.6,380.1 601.6,378.9 602.5,378.5C603.4,378.1 605.2,377.5 606.2,377.2C607.3,377.0 611.2,376.0 611.2,376.0" fill="none" stroke="#4a4a4a" stroke-width="0.8" stroke-linejoin="round"/>
<path d="M524.6,383.5 C524.9,382.7 527.2,381.1 528.1,380.4 C529.0,379.6 531.4,378.0 532.5,377.2 C533.6,376.5 536.4,374.8 537.5,374.1 C538.6,373.5 541.2,371.7 541.9,371.6 C542.5,371.6 543.1,372.8 543.1,373.5 C543.1,374.2 542.3,376.9 541.9,377.9 C541.4,378.9 540.0,381.3 539.4,382.2 C538.8,383.2 537.6,385.1 536.9,386.0 C536.1,386.9 534.0,388.9 533.1,389.8 C532.2,390.6 530.2,392.3 529.4,392.9 C528.6,393.5 526.7,395.0 526.2,394.8 C525.8,394.5 525.7,391.9 525.6,391.0 C525.6,390.1 526.1,388.1 526.0,387.2 C525.9,386.4 524.4,384.3 524.6,383.5Z" fill="#bdbdbd" stroke="#4a4a4a" stroke-width="0.8" stroke-linejoin="round"/>
<path d="M504.4,405.4 C504.4,404.1 506.4,401.1 506.9,399.8 C507.4,398.4 508.4,394.8 508.8,394.1 C509.1,393.4 509.9,393.2 510.0,393.8 C510.1,394.3 509.9,397.4 509.8,398.5 C509.6,399.6 508.7,402.0 508.8,403.5 C508.8,405.0 510.3,410.1 510.0,411.0 C509.7,411.9 506.9,411.7 506.2,411.0 C505.6,410.3 504.3,406.7 504.4,405.4Z" fill="#bdbdbd" stroke="#4a4a4a" stroke-width="0.8" stroke-linejoin="round"/>
<path d="M511.5,371.0 C511.5,370.6 512.6,369.8 513.1,370.0 C513.7,370.2 516.0,372.4 516.2,372.9 C516.5,373.4 515.9,374.4 515.6,374.5 C515.3,374.6 514.0,373.9 513.5,373.5 C513.0,373.1 511.5,371.4 511.5,371.0Z" fill="#bdbdbd" stroke="#4a4a4a" stroke-width="0.8" stroke-linejoin="round"/>
<path d="M527.1,365.4 C527.2,364.8 528.3,363.3 528.8,363.2 C529.2,363.2 530.8,364.4 531.0,365.0 C531.2,365.6 530.6,367.9 530.2,368.2 C529.9,368.6 528.5,368.2 528.1,367.9 C527.8,367.5 527.1,365.9 527.1,365.4Z" fill="#bdbdbd" stroke="#4a4a4a" stroke-width="0.8" stroke-linejoin="round"/>
<path d="M514.4,361.6 C514.6,361.3 515.9,360.1 516.9,359.8 C517.8,359.4 521.6,359.0 522.5,358.8 C523.4,358.5 524.1,357.4 525.0,357.2 C525.9,357.1 528.7,357.4 530.0,357.5 C531.3,357.6 535.4,358.2 536.2,358.5 C537.1,358.8 538.1,360.2 537.5,360.4 C536.9,360.6 532.5,360.3 531.2,360.4 C530.0,360.4 527.8,360.5 526.9,360.8 C526.0,361.0 524.7,362.6 523.8,362.9 C522.8,363.2 519.8,363.2 518.8,363.2 C517.7,363.2 515.5,363.1 515.0,362.9 C514.5,362.7 514.2,362.0 514.4,361.6Z" fill="#bdbdbd" stroke="#4a4a4a" stroke-width="0.8" stroke-linejoin="round"/>
<path d="M499.4,347.2 C499.7,346.6 501.4,346.8 501.9,347.0 C502.4,347.2 503.5,348.5 503.5,349.1 C503.5,349.7 502.7,351.6 502.2,352.0 C501.8,352.4 499.7,352.8 499.4,352.2 C499.0,351.7 499.1,347.9 499.4,347.2Z" fill="#bdbdbd" stroke="#4a4a4a" stroke-width="0.8" stroke-linejoin="round"/>
<path d="M519.0,380.0 C519.0,379.8 521.7,379.3 522.5,379.2 C523.3,379.2 525.6,379.3 525.6,379.5 C525.6,379.7 523.3,380.7 522.5,380.8 C521.7,380.8 519.0,380.2 519.0,380.0Z" fill="#bdbdbd" stroke="#4a4a4a" stroke-width="0.8" stroke-linejoin="round"/>
<path d="M610.1,329.0 C610.1,329.0 681.8,329.0 681.8,329.0 C681.8,329.0 681.8,384.9 681.8,384.9 C681.8,384.9 676.3,381.0 674.7,379.5 C673.2,378.0 670.3,373.8 668.7,372.4 C667.0,371.0 662.7,368.6 660.6,367.4 C658.5,366.2 652.9,363.5 650.5,362.3 C648.1,361.1 642.8,358.1 640.4,357.3 C638.0,356.4 632.4,355.5 630.3,355.3 C628.2,355.0 623.5,354.9 622.2,355.3 C620.9,355.6 619.7,357.0 619.2,358.3 C618.7,359.6 618.7,364.7 618.2,366.4 C617.7,368.0 615.4,371.1 615.2,372.4 C614.9,373.7 616.5,376.5 616.2,377.5 C615.8,378.4 613.3,380.5 612.1,380.5 C610.9,380.5 607.5,377.6 606.1,377.5 C604.6,377.4 600.8,379.3 600.0,379.5 C599.2,379.7 599.0,379.5 599.0,379.5 C599.0,379.5 599.0,329.0 599.0,329.0 C599.0,329.0 610.1,329.0 610.1,329.0Z" fill="#bdbdbd"/>
<path d="M681.8,384.9C681.8,384.9 676.3,381.0 674.7,379.5C673.2,378.0 670.3,373.8 668.7,372.4C667.0,371.0 662.7,368.6 660.6,367.4C658.5,366.2 652.9,363.5 650.5,362.3C648.1,361.1 642.8,358.1 640.4,357.3C638.0,356.4 632.4,355.5 630.3,355.3C628.2,355.0 623.5,354.9 622.2,355.3C620.9,355.6 619.7,357.0 619.2,358.3C618.7,359.6 618.7,364.7 618.2,366.4C617.7,368.0 615.4,371.1 615.2,372.4C614.9,373.7 616.5,376.5 616.2,377.5C615.8,378.4 613.3,380.5 612.1,380.5C610.9,380.5 607.5,377.6 606.1,377.5C604.6,377.4 600.8,379.3 600.0,379.5C599.2,379.7 599.0,379.5 599.0,379.5" fill="none" stroke="#4a4a4a" stroke-width="0.8" stroke-linejoin="round"/>
<path d="M673.7,426.6 C674.1,426.0 676.8,425.3 677.8,425.4 C678.7,425.4 681.8,427.0 681.8,427.0 C681.8,427.0 681.8,441.1 681.8,441.1 C681.8,441.1 679.5,440.0 678.8,439.1 C678.1,438.1 676.3,434.1 675.8,433.0 C675.2,432.0 674.6,430.8 674.3,430.0 C674.1,429.2 673.3,427.1 673.7,426.6Z" fill="#bdbdbd"/>
<path d="M673.7,426.6C674.1,426.0 676.8,425.3 677.8,425.4C678.7,425.4 681.8,427.0 681.8,427.0M681.8,441.1C681.8,441.1 679.5,440.0 678.8,439.1C678.1,438.1 676.3,434.1 675.8,433.0C675.2,432.0 674.6,430.8 674.3,430.0C674.1,429.2 673.3,427.1 673.7,426.6" fill="none" stroke="#4a4a4a" stroke-width="0.8" stroke-linejoin="round"/>
<path d="M152.5,76.4 C152.7,76.0 154.7,76.5 156.2,77.0 C157.8,77.5 160.5,78.6 161.9,79.5 C163.2,80.4 164.7,82.2 164.4,82.6 C164.1,83.0 161.6,82.5 160.0,82.0 C158.4,81.5 156.2,80.4 155.0,79.5 C153.8,78.6 152.3,76.8 152.5,76.4Z" fill="#bdbdbd" stroke="#777" stroke-width="0.4" stroke-linejoin="round"/>
<path d="M157.5,86.0 C157.9,85.6 161.5,85.5 163.8,85.8 C166.0,86.0 168.8,86.9 171.2,87.2 C173.8,87.6 176.7,87.6 178.8,88.0 C180.8,88.4 184.0,89.2 183.8,89.5 C183.5,89.8 180.0,90.0 177.5,90.0 C175.0,90.0 171.5,89.6 168.8,89.2 C166.0,88.9 163.1,88.5 161.2,88.0 C159.4,87.5 157.1,86.4 157.5,86.0Z" fill="#bdbdbd" stroke="#777" stroke-width="0.4" stroke-linejoin="round"/>
<path d="M147.1,92.6 C147.4,92.1 148.9,91.5 150.0,91.4 C151.1,91.2 153.3,91.3 153.8,91.8 C154.2,92.2 153.4,93.4 152.5,93.9 C151.6,94.3 149.0,94.7 148.1,94.5 C147.2,94.3 146.8,93.1 147.1,92.6Z" fill="#bdbdbd" stroke="#777" stroke-width="0.4" stroke-linejoin="round"/>
<path d="M166.2,95.8 C167.0,95.4 169.4,95.3 171.2,95.5 C173.1,95.7 176.4,96.5 177.5,97.0 C178.6,97.5 178.7,98.2 177.8,98.5 C176.8,98.8 173.7,99.0 171.9,98.9 C170.1,98.7 167.8,98.1 166.9,97.6 C165.9,97.1 165.5,96.1 166.2,95.8Z" fill="#bdbdbd" stroke="#777" stroke-width="0.4" stroke-linejoin="round"/>
<path d="M172.1,105.8 C172.4,105.3 173.7,104.5 174.4,104.5 C175.1,104.5 176.2,105.2 176.2,105.8 C176.3,106.2 175.4,107.2 174.8,107.5 C174.1,107.8 172.9,107.5 172.5,107.2 C172.1,107.0 171.8,106.2 172.1,105.8Z" fill="#bdbdbd" stroke="#777" stroke-width="0.4" stroke-linejoin="round"/>
<path d="M188.5,103.5 C188.9,103.2 191.8,103.8 193.8,104.2 C195.7,104.7 198.4,105.7 200.0,106.4 C201.6,107.0 203.5,108.0 203.1,108.2 C202.7,108.5 199.5,108.0 197.5,107.6 C195.5,107.2 192.8,106.4 191.2,105.8 C189.8,105.1 188.1,103.8 188.5,103.5Z" fill="#bdbdbd" stroke="#777" stroke-width="0.4" stroke-linejoin="round"/>
<path d="M209.6,99.8 C209.8,99.5 212.2,100.1 213.8,100.5 C215.3,100.9 218.1,101.8 218.8,102.2 C219.4,102.7 218.5,103.3 217.5,103.2 C216.5,103.2 213.8,102.6 212.5,102.0 C211.2,101.4 209.4,100.0 209.6,99.8Z" fill="#bdbdbd" stroke="#777" stroke-width="0.4" stroke-linejoin="round"/>
<path d="M163.1,78.9 C163.6,78.2 164.9,77.7 166.2,77.6 C167.6,77.5 170.1,77.7 171.2,78.2 C172.4,78.8 173.3,80.0 173.1,80.8 C172.9,81.5 171.2,82.2 170.0,82.6 C168.8,83.0 166.7,83.2 165.6,83.0 C164.5,82.8 163.9,82.1 163.5,81.4 C163.1,80.7 162.7,79.5 163.1,78.9Z" fill="#bdbdbd" stroke="#777" stroke-width="0.4" stroke-linejoin="round"/>
<path d="M178.1,94.5 C178.8,93.7 180.9,93.1 182.5,93.2 C184.1,93.4 186.2,94.5 187.5,95.1 C188.8,95.8 190.4,96.6 190.0,97.0 C189.6,97.4 186.4,97.2 185.0,97.6 C183.6,98.0 183.0,99.4 181.9,99.5 C180.8,99.6 179.1,99.1 178.5,98.2 C177.9,97.4 177.5,95.3 178.1,94.5Z" fill="#bdbdbd" stroke="#777" stroke-width="0.4" stroke-linejoin="round"/>
<path d="M244.4,115.4 C244.4,115.4 356.2,115.4 356.2,115.4 C356.2,115.4 356.2,191.0 356.2,191.0 C356.2,191.0 256.9,191.0 256.9,191.0 C256.9,191.0 258.1,187.5 258.1,186.0 C258.1,184.5 256.8,183.7 256.9,182.2 C257.0,180.8 258.6,178.9 258.8,177.2 C258.9,175.6 257.8,173.9 257.5,172.2 C257.2,170.6 256.6,168.9 256.9,167.2 C257.2,165.6 258.8,163.8 259.4,162.2 C260.0,160.7 260.1,159.0 260.6,157.9 C261.1,156.7 261.8,156.5 262.5,155.4 C263.2,154.2 264.7,152.5 265.0,151.0 C265.3,149.5 265.2,147.6 264.4,146.6 C263.5,145.7 261.6,145.7 260.0,145.4 C258.4,145.1 256.5,145.2 255.0,144.8 C253.5,144.3 252.5,143.9 251.2,142.9 C250.0,141.8 248.5,140.1 247.5,138.5 C246.5,136.9 245.5,134.5 245.0,133.5 C244.5,132.5 244.4,132.2 244.4,132.2 C244.4,132.2 244.4,115.4 244.4,115.4Z" fill="#bdbdbd"/>
<path d="M256.9,191.0C256.9,191.0 258.1,187.5 258.1,186.0C258.1,184.5 256.8,183.7 256.9,182.2C257.0,180.8 258.6,178.9 258.8,177.2C258.9,175.6 257.8,173.9 257.5,172.2C257.2,170.6 256.6,168.9 256.9,167.2C257.2,165.6 258.8,163.8 259.4,162.2C260.0,160.7 260.1,159.0 260.6,157.9C261.1,156.7 261.8,156.5 262.5,155.4C263.2,154.2 264.7,152.5 265.0,151.0C265.3,149.5 265.2,147.6 264.4,146.6C263.5,145.7 261.6,145.7 260.0,145.4C258.4,145.1 256.5,145.2 255.0,144.8C253.5,144.3 252.5,143.9 251.2,142.9C250.0,141.8 248.5,140.1 247.5,138.5C246.5,136.9 245.5,134.5 245.0,133.5C244.5,132.5 244.4,132.2 244.4,132.2" fill="none" stroke="#555" stroke-width="0.8" stroke-linejoin="round"/>
<path d="M255.6,189.4 C255.6,189.4 356.2,189.4 356.2,189.4 C356.2,189.4 356.2,265.0 356.2,265.0 C356.2,265.0 299.4,265.0 299.4,265.0 C299.4,265.0 295.5,261.5 293.8,260.0 C292.0,258.5 290.2,257.7 288.8,256.2 C287.3,254.8 285.8,252.9 285.0,251.2 C284.2,249.6 284.4,247.7 283.8,246.2 C283.1,244.8 281.5,243.8 281.2,242.5 C281.0,241.2 282.9,239.8 282.5,238.8 C282.1,237.7 279.1,237.1 278.8,236.2 C278.4,235.4 280.6,234.8 280.6,233.8 C280.6,232.7 279.7,231.2 278.8,230.0 C277.8,228.8 276.5,227.5 275.0,226.2 C273.5,225.0 271.7,224.0 270.0,222.5 C268.3,221.0 266.7,219.0 265.0,217.5 C263.3,216.0 261.2,215.0 260.0,213.8 C258.8,212.5 257.7,211.2 257.5,210.0 C257.3,208.8 258.9,207.7 258.8,206.2 C258.6,204.8 257.7,202.7 256.9,201.2 C256.0,199.8 254.2,198.8 253.8,197.5 C253.3,196.2 254.1,195.1 254.4,193.8 C254.7,192.4 255.6,189.4 255.6,189.4 C255.6,189.4 255.6,189.4 255.6,189.4Z" fill="#bdbdbd"/>
<path d="M299.4,265.0C299.4,265.0 295.5,261.5 293.8,260.0C292.0,258.5 290.2,257.7 288.8,256.2C287.3,254.8 285.8,252.9 285.0,251.2C284.2,249.6 284.4,247.7 283.8,246.2C283.1,244.8 281.5,243.8 281.2,242.5C281.0,241.2 282.9,239.8 282.5,238.8C282.1,237.7 279.1,237.1 278.8,236.2C278.4,235.4 280.6,234.8 280.6,233.8C280.6,232.7 279.7,231.2 278.8,230.0C277.8,228.8 276.5,227.5 275.0,226.2C273.5,225.0 271.7,224.0 270.0,222.5C268.3,221.0 266.7,219.0 265.0,217.5C263.3,216.0 261.2,215.0 260.0,213.8C258.8,212.5 257.7,211.2 257.5,210.0C257.3,208.8 258.9,207.7 258.8,206.2C258.6,204.8 257.7,202.7 256.9,201.2C256.0,199.8 254.2,198.8 253.8,197.5C253.3,196.2 254.1,195.1 254.4,193.8C254.7,192.4 255.6,189.4 255.6,189.4" fill="none" stroke="#4a4a4a" stroke-width="0.8" stroke-linejoin="round"/>
<path d="M263.8,235.0 C263.9,234.4 266.1,233.3 266.9,233.1 C267.7,233.0 270.0,233.2 270.6,233.8 C271.2,234.3 271.5,236.6 271.9,237.5 C272.2,238.4 273.2,240.4 273.8,241.2 C274.3,242.1 275.7,244.1 276.2,245.0 C276.8,245.9 278.4,247.9 278.8,248.8 C279.1,249.6 279.7,251.7 279.4,251.9 C279.1,252.1 277.0,251.1 276.2,250.6 C275.5,250.1 273.8,248.2 273.1,247.5 C272.5,246.8 271.1,245.2 270.6,244.4 C270.1,243.6 269.3,241.4 268.8,240.6 C268.2,239.9 266.2,238.8 265.6,238.1 C265.0,237.5 263.6,235.6 263.8,235.0Z" fill="#bdbdbd" stroke="#4a4a4a" stroke-width="0.8" stroke-linejoin="round"/>
<path d="M252.8,206.2 C252.9,205.9 254.3,205.7 254.8,206.0 C255.2,206.3 256.1,208.2 256.2,208.8 C256.4,209.3 255.9,210.6 255.6,210.6 C255.3,210.6 254.1,209.3 253.8,208.8 C253.4,208.2 252.6,206.6 252.8,206.2Z" fill="#bdbdbd" stroke="#4a4a4a" stroke-width="0.8" stroke-linejoin="round"/>
<path d="M279.0,257.5 C278.8,257.0 280.1,256.9 280.6,257.2 C281.1,257.6 283.3,260.1 283.5,260.6 C283.7,261.2 283.0,262.2 282.5,261.9 C282.0,261.5 279.2,258.0 279.0,257.5Z" fill="#bdbdbd" stroke="#4a4a4a" stroke-width="0.8" stroke-linejoin="round"/>
<path d="M255.2,230.2 C255.4,230.0 256.3,229.9 256.5,230.0 C256.7,230.1 256.9,231.3 256.8,231.5 C256.6,231.7 255.7,231.9 255.5,231.8 C255.3,231.6 255.1,230.5 255.2,230.2Z" fill="#bdbdbd" stroke="#4a4a4a" stroke-width="0.8" stroke-linejoin="round"/>
<path d="M260.6,229.4 C260.7,229.2 261.6,229.1 261.8,229.2 C261.9,229.4 262.0,230.3 261.9,230.5 C261.8,230.7 260.9,230.8 260.8,230.6 C260.6,230.5 260.5,229.5 260.6,229.4Z" fill="#bdbdbd" stroke="#4a4a4a" stroke-width="0.8" stroke-linejoin="round"/>
<path d="M299.4,263.4 C299.4,263.4 299.8,266.8 300.0,267.8 C300.2,268.7 300.8,270.6 301.2,271.5 C301.7,272.4 303.3,274.4 303.8,275.2 C304.2,276.1 304.6,278.1 305.0,279.0 C305.4,279.9 306.9,281.9 307.5,282.8 C308.1,283.6 309.6,285.6 310.0,286.5 C310.4,287.4 310.9,289.9 311.2,290.9 C311.6,291.8 312.5,294.2 313.1,294.6 C313.8,295.1 316.3,295.1 316.9,294.6 C317.5,294.2 317.8,291.0 318.1,290.9 C318.5,290.7 319.2,292.9 320.0,293.4 C320.8,293.8 323.7,294.6 325.0,294.6 C326.3,294.6 330.2,293.4 331.2,293.4 C332.3,293.3 333.4,293.9 334.4,294.0 C335.4,294.1 338.8,294.2 340.0,294.0 C341.2,293.8 343.7,292.3 345.0,292.1 C346.3,292.0 349.9,292.8 351.2,292.8 C352.6,292.7 356.2,291.5 356.2,291.5 C356.2,291.5 356.2,263.4 356.2,263.4 C356.2,263.4 299.4,263.4 299.4,263.4Z" fill="#bdbdbd"/>
<path d="M299.4,263.4C299.4,263.4 299.8,266.8 300.0,267.8C300.2,268.7 300.8,270.6 301.2,271.5C301.7,272.4 303.3,274.4 303.8,275.2C304.2,276.1 304.6,278.1 305.0,279.0C305.4,279.9 306.9,281.9 307.5,282.8C308.1,283.6 309.6,285.6 310.0,286.5C310.4,287.4 310.9,289.9 311.2,290.9C311.6,291.8 312.5,294.2 313.1,294.6C313.8,295.1 316.3,295.1 316.9,294.6C317.5,294.2 317.8,291.0 318.1,290.9C318.5,290.7 319.2,292.9 320.0,293.4C320.8,293.8 323.7,294.6 325.0,294.6C326.3,294.6 330.2,293.4 331.2,293.4C332.3,293.3 333.4,293.9 334.4,294.0C335.4,294.1 338.8,294.2 340.0,294.0C341.2,293.8 343.7,292.3 345.0,292.1C346.3,292.0 349.9,292.8 351.2,292.8C352.6,292.7 356.2,291.5 356.2,291.5" fill="none" stroke="#4a4a4a" stroke-width="0.8" stroke-linejoin="round"/>
<path d="M293.5,284.0 C293.4,283.3 293.8,280.0 294.0,279.0 C294.2,278.0 295.1,275.9 295.6,275.2 C296.2,274.6 298.2,273.4 298.8,273.4 C299.3,273.4 300.6,274.6 300.6,275.2 C300.7,275.9 299.7,278.1 299.4,279.0 C299.0,279.9 298.0,282.1 297.5,282.8 C297.0,283.4 295.5,284.5 295.0,284.6 C294.5,284.8 293.6,284.7 293.5,284.0Z" fill="#bdbdbd" stroke="#4a4a4a" stroke-width="0.8" stroke-linejoin="round"/>
<path d="M286.2,300.2 C286.2,299.4 287.7,296.0 288.1,295.2 C288.6,294.5 289.5,294.0 290.0,294.0 C290.5,294.0 292.0,295.8 292.2,295.2 C292.5,294.7 292.3,290.4 292.5,289.6 C292.7,288.9 294.1,288.5 294.4,289.0 C294.7,289.5 294.8,293.9 295.0,294.0 C295.2,294.1 295.9,289.8 296.2,289.6 C296.6,289.4 297.7,291.5 298.1,292.1 C298.6,292.8 300.0,294.7 300.0,295.2 C300.0,295.8 298.6,296.3 298.1,296.5 C297.7,296.7 296.0,296.6 296.2,297.1 C296.5,297.6 299.3,300.1 300.0,300.9 C300.7,301.7 301.9,303.4 301.9,304.0 C301.9,304.6 300.7,306.2 300.0,306.2 C299.3,306.3 297.1,304.9 296.2,304.6 C295.4,304.4 293.8,304.1 293.1,304.0 C292.5,303.9 291.2,303.6 290.6,303.4 C290.0,303.2 288.6,302.5 288.1,302.1 C287.6,301.8 286.2,301.1 286.2,300.2Z" fill="#bdbdbd" stroke="#4a4a4a" stroke-width="0.8" stroke-linejoin="round"/>
<path d="M295.2,313.4 C295.5,312.8 296.9,311.2 297.5,311.2 C298.1,311.2 299.3,312.8 300.0,313.4 C300.7,313.9 302.3,315.2 303.1,315.9 C303.9,316.5 306.4,318.5 306.9,319.0 C307.4,319.5 307.7,320.4 307.5,320.5 C307.3,320.6 305.5,320.0 305.0,320.2 C304.5,320.5 303.6,322.6 303.1,322.8 C302.6,322.9 301.3,322.3 300.6,321.8 C300.0,321.2 298.1,319.1 297.5,318.4 C296.9,317.7 295.9,316.5 295.6,315.9 C295.4,315.3 295.0,313.9 295.2,313.4Z" fill="#bdbdbd" stroke="#4a4a4a" stroke-width="0.8" stroke-linejoin="round"/>
<path d="M332.5,295.2 C333.2,294.9 336.2,295.6 337.5,295.9 C338.8,296.2 342.4,297.2 343.8,297.8 C345.1,298.3 347.7,300.4 348.8,300.9 C349.8,301.4 351.6,302.1 352.5,302.1 C353.4,302.2 356.2,301.5 356.2,301.5 C356.2,301.5 356.2,339.0 356.2,339.0 C356.2,339.0 330.0,339.0 330.0,339.0 C330.0,339.0 329.2,333.9 328.8,332.8 C328.3,331.6 327.0,329.9 326.2,329.0 C325.5,328.1 323.5,326.1 322.5,325.2 C321.5,324.4 318.2,322.4 317.5,321.5 C316.8,320.6 317.5,318.5 316.9,317.8 C316.2,317.0 312.5,315.9 311.9,315.2 C311.2,314.6 310.9,312.9 311.2,312.1 C311.6,311.4 314.3,309.9 315.0,309.0 C315.7,308.1 316.9,305.1 317.5,304.0 C318.1,302.9 319.1,299.9 320.0,299.6 C320.9,299.3 323.8,301.2 325.0,301.5 C326.2,301.8 329.3,302.4 330.0,302.1 C330.7,301.8 331.0,299.8 331.2,299.0 C331.5,298.2 331.8,295.6 332.5,295.2Z" fill="#bdbdbd"/>
<path d="M332.5,295.2C333.2,294.9 336.2,295.6 337.5,295.9C338.8,296.2 342.4,297.2 343.8,297.8C345.1,298.3 347.7,300.4 348.8,300.9C349.8,301.4 351.6,302.1 352.5,302.1C353.4,302.2 356.2,301.5 356.2,301.5M330.0,339.0C330.0,339.0 329.2,333.9 328.8,332.8C328.3,331.6 327.0,329.9 326.2,329.0C325.5,328.1 323.5,326.1 322.5,325.2C321.5,324.4 318.2,322.4 317.5,321.5C316.8,320.6 317.5,318.5 316.9,317.8C316.2,317.0 312.5,315.9 311.9,315.2C311.2,314.6 310.9,312.9 311.2,312.1C311.6,311.4 314.3,309.9 315.0,309.0C315.7,308.1 316.9,305.1 317.5,304.0C318.1,302.9 319.1,299.9 320.0,299.6C320.9,299.3 323.8,301.2 325.0,301.5C326.2,301.8 329.3,302.4 330.0,302.1C330.7,301.8 331.0,299.8 331.2,299.0C331.5,298.2 331.8,295.6 332.5,295.2" fill="none" stroke="#4a4a4a" stroke-width="0.8" stroke-linejoin="round"/>
<path d="M354.4,189.4 C354.4,189.4 415.0,189.4 415.0,189.4 C415.0,189.4 411.2,191.9 410.0,192.5 C408.8,193.1 406.3,194.2 405.0,194.4 C403.7,194.5 399.6,193.4 398.8,193.8 C397.9,194.1 397.8,196.7 398.1,197.5 C398.5,198.3 401.6,200.0 401.9,200.6 C402.2,201.2 400.6,202.0 400.6,202.5 C400.7,203.0 401.9,204.4 402.5,205.0 C403.1,205.6 404.9,207.1 405.6,207.5 C406.4,207.9 408.0,208.4 408.8,208.8 C409.5,209.1 411.1,210.0 411.9,210.6 C412.6,211.3 414.3,213.5 415.0,214.4 C415.7,215.2 417.3,217.5 417.5,218.1 C417.7,218.8 417.3,219.9 416.9,220.0 C416.4,220.1 414.6,219.5 413.8,218.8 C412.9,218.0 410.7,214.7 410.0,213.8 C409.3,212.8 408.2,211.1 407.5,210.6 C406.8,210.1 404.8,209.4 403.8,209.4 C402.7,209.3 399.6,209.7 398.8,210.0 C397.9,210.3 396.4,211.3 396.2,211.9 C396.1,212.5 397.0,214.5 397.5,215.0 C398.0,215.5 399.9,215.9 400.6,216.2 C401.4,216.6 403.2,217.5 403.8,218.1 C404.3,218.8 405.5,220.9 405.6,221.9 C405.8,222.8 405.4,225.6 405.0,226.2 C404.6,226.9 403.2,227.8 402.5,227.5 C401.8,227.2 399.3,224.6 398.8,223.8 C398.2,222.9 398.6,220.9 398.1,220.0 C397.7,219.1 395.7,216.3 395.0,215.6 C394.3,215.0 393.5,214.5 392.5,214.4 C391.5,214.2 387.1,214.2 386.2,214.4 C385.4,214.6 385.3,215.6 385.6,216.2 C385.9,216.9 387.9,218.9 388.8,219.8 C389.6,220.6 391.7,222.5 392.5,223.2 C393.3,224.0 394.7,225.4 395.2,226.0 C395.8,226.6 397.5,228.1 396.9,228.2 C396.3,228.4 391.5,227.7 390.0,227.5 C388.5,227.3 385.2,227.0 384.4,226.2 C383.5,225.5 382.6,222.3 382.5,221.2 C382.4,220.2 383.2,217.6 383.1,216.9 C383.1,216.1 382.5,215.4 381.9,215.0 C381.3,214.6 379.1,213.6 378.1,213.1 C377.2,212.6 374.7,211.3 373.8,210.6 C372.8,210.0 370.5,208.3 370.0,207.5 C369.5,206.7 369.2,204.7 369.4,203.8 C369.5,202.8 371.5,199.5 371.2,199.4 C371.0,199.2 368.5,201.9 367.5,202.5 C366.5,203.1 363.4,203.6 362.5,204.4 C361.6,205.1 360.4,207.5 360.0,208.8 C359.6,210.0 359.0,213.8 358.8,215.0 C358.5,216.2 358.0,217.9 358.1,218.8 C358.3,219.6 359.5,221.6 360.0,222.5 C360.5,223.4 361.8,225.2 362.5,226.2 C363.2,227.3 365.5,229.9 366.2,231.2 C367.0,232.6 368.0,236.2 368.8,237.5 C369.5,238.8 371.6,241.5 372.5,242.5 C373.4,243.5 375.4,245.4 376.2,246.2 C377.1,247.1 378.6,249.0 379.4,250.0 C380.1,251.0 382.0,254.0 382.5,255.0 C383.0,256.0 383.8,257.9 383.8,258.8 C383.7,259.6 382.5,261.3 381.9,261.9 C381.2,262.5 378.9,263.7 378.1,263.8 C377.4,263.8 375.6,263.0 375.6,262.5 C375.6,262.0 377.9,260.1 378.1,259.4 C378.3,258.6 378.0,256.8 377.5,256.2 C377.0,255.7 374.7,254.5 373.8,254.4 C372.8,254.2 370.1,254.6 369.4,255.0 C368.6,255.4 367.4,257.4 367.5,258.1 C367.6,258.9 369.5,260.4 370.0,261.2 C370.5,262.1 371.9,265.0 371.9,265.0 C371.9,265.0 354.4,265.0 354.4,265.0 C354.4,265.0 354.4,189.4 354.4,189.4Z" fill="#bdbdbd"/>
<path d="M415.0,189.4C415.0,189.4 411.2,191.9 410.0,192.5C408.8,193.1 406.3,194.2 405.0,194.4C403.7,194.5 399.6,193.4 398.8,193.8C397.9,194.1 397.8,196.7 398.1,197.5C398.5,198.3 401.6,200.0 401.9,200.6C402.2,201.2 400.6,202.0 400.6,202.5C400.7,203.0 401.9,204.4 402.5,205.0C403.1,205.6 404.9,207.1 405.6,207.5C406.4,207.9 408.0,208.4 408.8,208.8C409.5,209.1 411.1,210.0 411.9,210.6C412.6,211.3 414.3,213.5 415.0,214.4C415.7,215.2 417.3,217.5 417.5,218.1C417.7,218.8 417.3,219.9 416.9,220.0C416.4,220.1 414.6,219.5 413.8,218.8C412.9,218.0 410.7,214.7 410.0,213.8C409.3,212.8 408.2,211.1 407.5,210.6C406.8,210.1 404.8,209.4 403.8,209.4C402.7,209.3 399.6,209.7 398.8,210.0C397.9,210.3 396.4,211.3 396.2,211.9C396.1,212.5 397.0,214.5 397.5,215.0C398.0,215.5 399.9,215.9 400.6,216.2C401.4,216.6 403.2,217.5 403.8,218.1C404.3,218.8 405.5,220.9 405.6,221.9C405.8,222.8 405.4,225.6 405.0,226.2C404.6,226.9 403.2,227.8 402.5,227.5C401.8,227.2 399.3,224.6 398.8,223.8C398.2,222.9 398.6,220.9 398.1,220.0C397.7,219.1 395.7,216.3 395.0,215.6C394.3,215.0 393.5,214.5 392.5,214.4C391.5,214.2 387.1,214.2 386.2,214.4C385.4,214.6 385.3,215.6 385.6,216.2C385.9,216.9 387.9,218.9 388.8,219.8C389.6,220.6 391.7,222.5 392.5,223.2C393.3,224.0 394.7,225.4 395.2,226.0C395.8,226.6 397.5,228.1 396.9,228.2C396.3,228.4 391.5,227.7 390.0,227.5C388.5,227.3 385.2,227.0 384.4,226.2C383.5,225.5 382.6,222.3 382.5,221.2C382.4,220.2 383.2,217.6 383.1,216.9C383.1,216.1 382.5,215.4 381.9,215.0C381.3,214.6 379.1,213.6 378.1,213.1C377.2,212.6 374.7,211.3 373.8,210.6C372.8,210.0 370.5,208.3 370.0,207.5C369.5,206.7 369.2,204.7 369.4,203.8C369.5,202.8 371.5,199.5 371.2,199.4C371.0,199.2 368.5,201.9 367.5,202.5C366.5,203.1 363.4,203.6 362.5,204.4C361.6,205.1 360.4,207.5 360.0,208.8C359.6,210.0 359.0,213.8 358.8,215.0C358.5,216.2 358.0,217.9 358.1,218.8C358.3,219.6 359.5,221.6 360.0,222.5C360.5,223.4 361.8,225.2 362.5,226.2C363.2,227.3 365.5,229.9 366.2,231.2C367.0,232.6 368.0,236.2 368.8,237.5C369.5,238.8 371.6,241.5 372.5,242.5C373.4,243.5 375.4,245.4 376.2,246.2C377.1,247.1 378.6,249.0 379.4,250.0C380.1,251.0 382.0,254.0 382.5,255.0C383.0,256.0 383.8,257.9 383.8,258.8C383.7,259.6 382.5,261.3 381.9,261.9C381.2,262.5 378.9,263.7 378.1,263.8C377.4,263.8 375.6,263.0 375.6,262.5C375.6,262.0 377.9,260.1 378.1,259.4C378.3,258.6 378.0,256.8 377.5,256.2C377.0,255.7 374.7,254.5 373.8,254.4C372.8,254.2 370.1,254.6 369.4,255.0C368.6,255.4 367.4,257.4 367.5,258.1C367.6,258.9 369.5,260.4 370.0,261.2C370.5,262.1 371.9,265.0 371.9,265.0" fill="none" stroke="#4a4a4a" stroke-width="0.8" stroke-linejoin="round"/>
<path d="M421.9,193.8 C422.1,193.1 423.1,191.4 423.8,191.0 C424.4,190.6 426.8,189.8 427.5,190.0 C428.2,190.2 429.7,191.7 430.0,192.5 C430.3,193.3 430.7,196.0 430.4,196.9 C430.1,197.8 428.2,199.8 427.5,200.0 C426.8,200.2 425.0,199.4 424.4,199.0 C423.7,198.6 422.2,197.5 421.9,196.9 C421.6,196.3 421.7,194.4 421.9,193.8Z" fill="#bdbdbd" stroke="#4a4a4a" stroke-width="0.8" stroke-linejoin="round"/>
<path d="M452.2,205.0 C452.5,204.6 454.2,203.3 455.0,203.1 C455.8,202.9 458.1,203.2 458.8,203.5 C459.4,203.8 460.6,205.1 460.6,205.6 C460.6,206.1 459.4,207.5 458.8,207.8 C458.1,208.0 455.7,208.2 455.0,208.1 C454.3,208.0 453.1,207.2 452.8,206.9 C452.4,206.5 452.0,205.4 452.2,205.0Z" fill="#bdbdbd" stroke="#4a4a4a" stroke-width="0.8" stroke-linejoin="round"/>
<path d="M438.8,226.2 C439.0,225.6 440.5,224.9 441.2,224.8 C442.0,224.6 444.3,224.8 445.0,225.0 C445.7,225.2 446.4,226.8 446.9,226.9 C447.3,226.9 448.2,226.1 448.8,225.6 C449.3,225.2 451.6,223.0 451.9,223.1 C452.2,223.3 451.5,226.1 451.2,226.9 C451.0,227.7 449.7,229.2 449.4,230.0 C449.1,230.8 449.0,233.3 448.8,233.8 C448.5,234.2 447.2,234.3 446.9,234.0 C446.5,233.7 445.9,231.4 445.6,231.2 C445.3,231.1 444.8,232.9 444.4,233.1 C443.9,233.3 442.3,233.4 441.9,233.1 C441.4,232.8 441.0,231.0 440.6,230.6 C440.3,230.3 439.2,230.5 439.0,230.0 C438.8,229.5 438.5,226.9 438.8,226.2Z" fill="#bdbdbd" stroke="#4a4a4a" stroke-width="0.8" stroke-linejoin="round"/>
<path d="M436.2,245.0 C436.4,244.5 437.3,243.2 437.8,243.1 C438.2,243.1 439.9,243.9 440.0,244.4 C440.1,244.9 439.2,246.9 438.8,247.2 C438.3,247.6 436.8,247.8 436.5,247.5 C436.2,247.2 436.1,245.5 436.2,245.0Z" fill="#bdbdbd" stroke="#4a4a4a" stroke-width="0.8" stroke-linejoin="round"/>
<path d="M385.2,260.0 C385.4,259.6 386.7,258.2 387.2,258.1 C387.8,258.1 389.6,258.9 389.8,259.4 C389.9,259.8 389.2,261.6 388.8,261.9 C388.3,262.2 386.4,262.1 386.0,261.9 C385.6,261.7 385.1,260.4 385.2,260.0Z" fill="#bdbdbd" stroke="#4a4a4a" stroke-width="0.8" stroke-linejoin="round"/>
<path d="M391.5,258.5 C391.6,258.1 392.6,258.4 393.1,258.8 C393.6,259.1 395.0,261.4 395.6,261.9 C396.2,262.3 397.9,262.1 398.1,262.5 C398.3,262.9 397.5,265.0 397.5,265.0 C397.5,265.0 393.8,265.0 393.8,265.0 C393.8,265.0 392.8,262.6 392.5,261.9 C392.2,261.1 391.4,258.9 391.5,258.5Z" fill="#bdbdbd"/>
<path d="M391.5,258.5C391.6,258.1 392.6,258.4 393.1,258.8C393.6,259.1 395.0,261.4 395.6,261.9C396.2,262.3 397.9,262.1 398.1,262.5C398.3,262.9 397.5,265.0 397.5,265.0M393.8,265.0C393.8,265.0 392.8,262.6 392.5,261.9C392.2,261.1 391.4,258.9 391.5,258.5" fill="none" stroke="#4a4a4a" stroke-width="0.8" stroke-linejoin="round"/>
<path d="M400.2,260.0 C400.4,259.3 402.0,256.2 402.5,255.6 C403.0,255.0 404.5,254.7 404.8,255.0 C405.0,255.3 405.2,257.5 405.0,258.1 C404.8,258.8 403.6,260.2 403.1,260.6 C402.7,261.0 401.3,261.6 401.0,261.5 C400.7,261.4 400.1,260.7 400.2,260.0Z" fill="#bdbdbd" stroke="#4a4a4a" stroke-width="0.8" stroke-linejoin="round"/>
<path d="M406.5,252.5 C406.6,252.2 408.2,251.3 408.8,251.0 C409.3,250.7 410.8,249.6 411.0,249.8 C411.2,249.9 411.0,251.4 410.6,251.9 C410.3,252.3 408.6,253.7 408.1,253.8 C407.6,253.8 406.4,252.8 406.5,252.5Z" fill="#bdbdbd" stroke="#4a4a4a" stroke-width="0.8" stroke-linejoin="round"/>
<path d="M414.8,251.5 C414.9,251.3 415.8,251.1 416.0,251.2 C416.2,251.4 416.4,252.7 416.2,252.9 C416.1,253.1 415.2,253.3 415.0,253.1 C414.8,253.0 414.6,251.7 414.8,251.5Z" fill="#bdbdbd" stroke="#4a4a4a" stroke-width="0.8" stroke-linejoin="round"/>
<path d="M354.4,263.4 C354.4,263.4 371.2,263.4 371.2,263.4 C371.2,263.4 373.5,265.7 373.8,266.5 C374.0,267.3 373.6,269.6 373.1,270.2 C372.7,270.9 370.2,271.5 370.0,272.1 C369.8,272.7 370.7,274.4 371.2,275.2 C371.8,276.1 374.3,278.2 375.0,279.0 C375.7,279.8 376.7,281.5 377.5,282.1 C378.3,282.8 380.9,284.0 381.9,284.6 C382.9,285.2 385.2,286.7 386.2,287.1 C387.3,287.6 390.4,287.9 391.2,288.4 C392.1,288.8 393.3,290.3 393.8,290.9 C394.2,291.5 394.5,292.9 395.0,293.4 C395.5,293.8 397.2,294.3 398.1,294.6 C399.1,294.9 402.2,295.4 403.1,295.9 C404.1,296.3 405.7,297.6 406.2,298.4 C406.8,299.2 407.4,301.7 407.5,302.8 C407.6,303.8 407.0,306.6 406.9,307.8 C406.7,308.9 406.2,311.6 406.2,312.8 C406.3,313.9 407.3,316.7 407.5,317.8 C407.7,318.8 408.4,320.9 408.1,321.5 C407.8,322.1 405.6,323.0 405.0,322.8 C404.4,322.5 403.6,319.9 403.1,319.0 C402.6,318.1 401.3,316.1 400.6,315.2 C400.0,314.4 398.3,312.8 397.5,312.1 C396.7,311.5 394.6,310.1 393.8,309.6 C392.9,309.1 390.6,308.3 390.0,307.8 C389.4,307.2 389.2,305.3 388.8,305.2 C388.3,305.2 386.4,306.5 386.2,307.1 C386.1,307.8 387.1,310.4 387.5,310.9 C387.9,311.4 389.9,311.2 390.0,311.5 C390.1,311.8 388.6,313.3 388.1,313.4 C387.6,313.4 386.1,312.6 385.6,312.1 C385.2,311.6 385.0,309.6 384.4,309.0 C383.7,308.4 380.9,307.2 380.0,307.1 C379.1,307.1 377.1,307.9 376.2,308.4 C375.4,308.8 373.8,310.7 373.1,310.9 C372.5,311.0 371.2,310.1 370.6,309.6 C370.0,309.2 368.1,307.6 368.1,307.1 C368.1,306.6 369.8,305.5 370.6,305.2 C371.4,305.0 374.1,304.8 375.0,304.6 C375.9,304.4 378.1,303.7 378.1,303.4 C378.1,303.0 375.9,301.9 375.0,301.5 C374.1,301.1 371.2,300.7 370.0,300.2 C368.8,299.8 366.2,298.4 365.0,297.8 C363.8,297.1 361.2,295.3 360.0,294.6 C358.8,294.0 355.7,292.5 355.0,292.1 C354.3,291.8 354.4,291.8 354.4,291.8 C354.4,291.8 354.4,263.4 354.4,263.4Z" fill="#bdbdbd"/>
<path d="M371.2,263.4C371.2,263.4 373.5,265.7 373.8,266.5C374.0,267.3 373.6,269.6 373.1,270.2C372.7,270.9 370.2,271.5 370.0,272.1C369.8,272.7 370.7,274.4 371.2,275.2C371.8,276.1 374.3,278.2 375.0,279.0C375.7,279.8 376.7,281.5 377.5,282.1C378.3,282.8 380.9,284.0 381.9,284.6C382.9,285.2 385.2,286.7 386.2,287.1C387.3,287.6 390.4,287.9 391.2,288.4C392.1,288.8 393.3,290.3 393.8,290.9C394.2,291.5 394.5,292.9 395.0,293.4C395.5,293.8 397.2,294.3 398.1,294.6C399.1,294.9 402.2,295.4 403.1,295.9C404.1,296.3 405.7,297.6 406.2,298.4C406.8,299.2 407.4,301.7 407.5,302.8C407.6,303.8 407.0,306.6 406.9,307.8C406.7,308.9 406.2,311.6 406.2,312.8C406.3,313.9 407.3,316.7 407.5,317.8C407.7,318.8 408.4,320.9 408.1,321.5C407.8,322.1 405.6,323.0 405.0,322.8C404.4,322.5 403.6,319.9 403.1,319.0C402.6,318.1 401.3,316.1 400.6,315.2C400.0,314.4 398.3,312.8 397.5,312.1C396.7,311.5 394.6,310.1 393.8,309.6C392.9,309.1 390.6,308.3 390.0,307.8C389.4,307.2 389.2,305.3 388.8,305.2C388.3,305.2 386.4,306.5 386.2,307.1C386.1,307.8 387.1,310.4 387.5,310.9C387.9,311.4 389.9,311.2 390.0,311.5C390.1,311.8 388.6,313.3 388.1,313.4C387.6,313.4 386.1,312.6 385.6,312.1C385.2,311.6 385.0,309.6 384.4,309.0C383.7,308.4 380.9,307.2 380.0,307.1C379.1,307.1 377.1,307.9 376.2,308.4C375.4,308.8 373.8,310.7 373.1,310.9C372.5,311.0 371.2,310.1 370.6,309.6C370.0,309.2 368.1,307.6 368.1,307.1C368.1,306.6 369.8,305.5 370.6,305.2C371.4,305.0 374.1,304.8 375.0,304.6C375.9,304.4 378.1,303.7 378.1,303.4C378.1,303.0 375.9,301.9 375.0,301.5C374.1,301.1 371.2,300.7 370.0,300.2C368.8,299.8 366.2,298.4 365.0,297.8C363.8,297.1 361.2,295.3 360.0,294.6C358.8,294.0 355.7,292.5 355.0,292.1C354.3,291.8 354.4,291.8 354.4,291.8" fill="none" stroke="#4a4a4a" stroke-width="0.8" stroke-linejoin="round"/>
<path d="M376.2,269.0 C376.8,268.3 380.8,265.5 381.9,265.5 C383.0,265.5 384.9,268.1 385.6,269.0 C386.4,269.9 387.3,272.5 388.1,273.4 C388.9,274.2 391.5,275.8 392.5,276.2 C393.5,276.7 395.9,276.7 396.9,277.1 C397.8,277.5 399.8,279.2 400.6,279.6 C401.5,280.1 403.6,280.9 404.4,280.9 C405.1,280.9 406.2,279.6 406.9,279.6 C407.5,279.6 409.6,280.2 410.0,280.9 C410.4,281.5 410.3,284.4 410.6,285.2 C410.9,286.1 412.2,286.9 412.5,287.8 C412.8,288.6 413.0,291.6 413.1,292.8 C413.3,293.9 413.3,296.7 413.8,297.8 C414.2,298.8 415.7,301.0 416.9,301.5 C418.0,302.0 422.9,301.5 423.8,302.1 C424.6,302.7 424.5,305.6 424.4,306.5 C424.2,307.4 423.0,310.0 422.5,310.2 C422.0,310.5 420.7,309.4 420.0,309.0 C419.3,308.6 417.6,307.2 416.9,307.1 C416.1,307.1 414.3,308.7 413.8,308.4 C413.2,308.0 412.3,304.9 411.9,304.0 C411.4,303.1 410.4,301.1 410.0,300.2 C409.6,299.4 408.6,297.2 408.1,296.5 C407.6,295.8 406.2,294.5 405.6,294.0 C405.0,293.5 404.0,292.2 403.1,292.1 C402.2,292.1 399.1,293.4 398.1,293.4 C397.2,293.3 395.5,292.0 395.0,291.5 C394.5,291.0 394.3,289.9 393.8,289.0 C393.2,288.1 391.4,285.0 390.6,284.0 C389.8,283.0 387.8,281.1 386.9,280.2 C386.0,279.4 384.0,277.3 383.1,276.5 C382.2,275.7 380.1,274.0 379.4,273.4 C378.6,272.8 377.2,272.0 376.9,271.5 C376.5,271.0 375.7,269.7 376.2,269.0Z" fill="#bdbdbd" stroke="#4a4a4a" stroke-width="0.8" stroke-linejoin="round"/>
<path d="M354.4,304.0 C354.4,304.0 357.7,304.8 358.8,305.2 C359.8,305.7 362.6,307.1 363.8,307.8 C364.9,308.4 367.7,310.4 368.8,310.9 C369.8,311.4 371.8,311.8 372.5,312.1 C373.2,312.5 374.3,313.5 375.0,314.0 C375.7,314.5 377.7,315.8 378.1,316.5 C378.6,317.2 378.8,319.4 378.8,320.2 C378.7,321.1 377.4,323.1 377.5,324.0 C377.6,324.9 379.2,327.5 380.0,327.8 C380.8,328.0 383.5,326.4 384.4,326.5 C385.2,326.6 386.9,328.3 387.5,329.0 C388.1,329.7 389.5,331.7 389.4,332.1 C389.2,332.6 386.9,332.5 386.2,332.8 C385.6,333.0 383.5,333.8 383.8,334.0 C384.0,334.2 387.9,334.4 388.8,334.6 C389.6,334.8 391.4,335.5 391.2,335.9 C391.1,336.2 388.4,337.6 387.5,337.8 C386.6,337.9 384.6,337.4 383.8,337.1 C382.9,336.8 381.1,335.8 380.6,335.2 C380.1,334.7 379.8,332.8 379.4,332.5 C378.9,332.2 377.7,333.2 376.9,332.8 C376.1,332.3 373.5,329.6 372.5,329.0 C371.5,328.4 368.9,327.6 368.1,327.8 C367.3,327.9 365.8,329.5 365.6,330.2 C365.4,331.0 366.0,333.0 366.2,334.0 C366.5,335.0 367.5,339.0 367.5,339.0 C367.5,339.0 354.4,339.0 354.4,339.0 C354.4,339.0 354.4,304.0 354.4,304.0Z" fill="#bdbdbd"/>
<path d="M354.4,304.0C354.4,304.0 357.7,304.8 358.8,305.2C359.8,305.7 362.6,307.1 363.8,307.8C364.9,308.4 367.7,310.4 368.8,310.9C369.8,311.4 371.8,311.8 372.5,312.1C373.2,312.5 374.3,313.5 375.0,314.0C375.7,314.5 377.7,315.8 378.1,316.5C378.6,317.2 378.8,319.4 378.8,320.2C378.7,321.1 377.4,323.1 377.5,324.0C377.6,324.9 379.2,327.5 380.0,327.8C380.8,328.0 383.5,326.4 384.4,326.5C385.2,326.6 386.9,328.3 387.5,329.0C388.1,329.7 389.5,331.7 389.4,332.1C389.2,332.6 386.9,332.5 386.2,332.8C385.6,333.0 383.5,333.8 383.8,334.0C384.0,334.2 387.9,334.4 388.8,334.6C389.6,334.8 391.4,335.5 391.2,335.9C391.1,336.2 388.4,337.6 387.5,337.8C386.6,337.9 384.6,337.4 383.8,337.1C382.9,336.8 381.1,335.8 380.6,335.2C380.1,334.7 379.8,332.8 379.4,332.5C378.9,332.2 377.7,333.2 376.9,332.8C376.1,332.3 373.5,329.6 372.5,329.0C371.5,328.4 368.9,327.6 368.1,327.8C367.3,327.9 365.8,329.5 365.6,330.2C365.4,331.0 366.0,333.0 366.2,334.0C366.5,335.0 367.5,339.0 367.5,339.0" fill="none" stroke="#4a4a4a" stroke-width="0.8" stroke-linejoin="round"/>
<path d="M419.4,269.0 C419.6,268.5 420.7,267.1 421.2,267.1 C421.8,267.1 423.2,268.3 423.8,269.0 C424.3,269.7 425.2,272.0 425.6,272.8 C426.1,273.5 427.4,274.7 427.5,275.2 C427.6,275.8 426.8,277.0 426.2,277.1 C425.7,277.3 423.7,276.9 423.1,276.5 C422.5,276.1 421.6,274.0 421.2,273.4 C420.9,272.8 420.0,272.0 419.8,271.5 C419.5,271.0 419.2,269.5 419.4,269.0Z" fill="#bdbdbd" stroke="#4a4a4a" stroke-width="0.8" stroke-linejoin="round"/>
<path d="M454.4,284.6 C454.5,284.2 455.8,283.0 456.2,283.0 C456.7,283.0 458.1,283.8 458.1,284.2 C458.2,284.7 457.2,286.3 456.9,286.5 C456.5,286.7 455.3,286.5 455.0,286.2 C454.7,286.0 454.2,285.0 454.4,284.6Z" fill="#bdbdbd" stroke="#4a4a4a" stroke-width="0.8" stroke-linejoin="round"/>
<path d="M427.1,310.2 C427.3,309.7 428.7,308.4 429.4,308.4 C430.0,308.4 431.8,309.6 432.5,310.2 C433.2,310.9 434.5,313.1 435.0,314.0 C435.5,314.9 436.6,317.0 436.9,317.8 C437.2,318.5 437.9,319.9 437.8,320.2 C437.6,320.6 436.2,320.8 435.6,320.5 C435.1,320.2 433.8,318.4 433.1,317.8 C432.5,317.1 430.6,315.2 430.0,314.6 C429.4,314.0 428.1,313.3 427.8,312.8 C427.4,312.2 426.9,310.8 427.1,310.2Z" fill="#bdbdbd" stroke="#4a4a4a" stroke-width="0.8" stroke-linejoin="round"/>
<path d="M437.2,322.8 C437.4,322.3 439.2,321.2 440.0,321.2 C440.8,321.3 443.1,322.9 443.8,323.4 C444.4,323.8 445.9,324.8 446.0,325.2 C446.1,325.7 445.5,327.3 445.0,327.5 C444.5,327.7 442.6,327.4 441.9,327.1 C441.1,326.9 439.3,325.8 438.8,325.2 C438.2,324.7 437.1,323.2 437.2,322.8Z" fill="#bdbdbd" stroke="#4a4a4a" stroke-width="0.8" stroke-linejoin="round"/>
<path d="M447.2,330.2 C447.3,329.7 448.7,328.4 449.4,328.4 C450.0,328.3 452.5,329.2 452.8,329.6 C453.0,330.1 452.3,331.8 451.9,332.1 C451.4,332.5 449.3,333.0 448.8,332.8 C448.2,332.5 447.2,330.8 447.2,330.2Z" fill="#bdbdbd" stroke="#4a4a4a" stroke-width="0.8" stroke-linejoin="round"/>
<path d="M413.5,325.9 C413.6,325.1 414.5,322.3 415.0,321.8 C415.5,321.2 417.1,320.8 417.5,320.9 C417.9,321.0 418.8,322.1 418.8,322.8 C418.7,323.4 417.4,325.8 416.9,326.5 C416.4,327.2 414.8,328.4 414.4,328.4 C414.0,328.3 413.4,326.6 413.5,325.9Z" fill="#bdbdbd" stroke="#4a4a4a" stroke-width="0.8" stroke-linejoin="round"/>
<path d="M416.5,335.2 C416.6,334.4 417.7,330.9 418.1,330.2 C418.6,329.6 419.9,329.7 420.2,330.0 C420.6,330.3 421.1,332.0 421.0,332.8 C420.9,333.5 419.5,336.0 419.0,336.5 C418.5,337.0 417.3,337.3 417.0,337.1 C416.7,337.0 416.4,336.1 416.5,335.2Z" fill="#bdbdbd" stroke="#4a4a4a" stroke-width="0.8" stroke-linejoin="round"/>
<path d="M432.8,332.1 C432.9,331.4 433.6,328.7 434.0,328.4 C434.4,328.0 435.7,328.6 436.0,329.0 C436.3,329.4 437.0,331.5 436.9,332.1 C436.8,332.8 435.4,334.4 435.0,334.6 C434.6,334.9 433.4,334.5 433.1,334.2 C432.9,334.0 432.6,332.8 432.8,332.1Z" fill="#bdbdbd" stroke="#4a4a4a" stroke-width="0.8" stroke-linejoin="round"/>
<path d="M386.0,319.0 C386.0,318.5 387.5,317.6 388.1,317.5 C388.7,317.4 390.7,318.0 391.0,318.4 C391.3,318.8 391.0,320.5 390.6,320.9 C390.2,321.3 388.3,322.0 387.8,321.8 C387.2,321.5 386.0,319.5 386.0,319.0Z" fill="#bdbdbd" stroke="#4a4a4a" stroke-width="0.8" stroke-linejoin="round"/>
<path d="M382.8,324.6 C382.9,324.2 384.0,323.0 384.4,323.0 C384.8,323.0 386.2,323.8 386.2,324.2 C386.3,324.7 385.4,326.3 385.0,326.5 C384.6,326.7 383.4,326.5 383.1,326.2 C382.9,326.0 382.6,325.0 382.8,324.6Z" fill="#bdbdbd" stroke="#4a4a4a" stroke-width="0.8" stroke-linejoin="round"/>
<path d="M250.0,129.8 C250.2,129.0 252.5,128.1 253.8,128.5 C255.0,128.9 256.6,131.0 257.5,132.2 C258.4,133.5 259.6,135.6 259.4,136.0 C259.2,136.4 257.4,135.3 256.2,134.8 C255.1,134.2 253.5,133.7 252.5,132.9 C251.5,132.0 249.8,130.5 250.0,129.8Z" fill="#bdbdbd"/>
<path d="M464.5,43.8 C464.5,43.8 556.2,43.8 556.2,43.8 C556.2,43.8 555.4,49.4 555.0,52.5 C554.6,55.6 553.8,59.6 553.8,62.5 C553.8,65.4 555.4,68.0 555.0,70.0 C554.6,72.0 553.2,73.3 551.5,74.5 C549.8,75.7 546.8,76.0 544.5,77.0 C542.2,78.0 539.3,79.0 537.8,80.8 C536.2,82.5 536.1,85.1 535.2,87.5 C534.4,89.9 533.4,92.1 532.8,95.0 C532.1,97.9 532.3,102.4 531.5,105.0 C530.7,107.6 529.4,109.2 527.8,110.8 C526.1,112.3 522.0,113.0 521.5,114.5 C521.0,116.0 523.2,117.3 524.5,119.5 C525.8,121.7 527.6,124.7 529.0,127.5 C530.4,130.3 531.5,133.8 532.8,136.2 C534.0,138.8 535.7,140.2 536.2,142.5 C536.8,144.8 535.6,147.5 536.2,150.0 C536.9,152.5 538.1,155.1 540.0,157.5 C541.9,159.9 544.9,162.3 547.8,164.2 C550.6,166.2 553.9,168.0 557.0,169.2 C560.1,170.5 564.2,171.1 566.5,171.8 C568.8,172.4 570.6,171.9 571.0,173.0 C571.4,174.1 570.2,176.8 568.8,178.2 C567.2,179.7 564.4,181.1 562.0,181.8 C559.6,182.4 557.4,182.5 554.5,182.2 C551.6,182.0 547.8,181.0 544.5,180.5 C541.2,180.0 537.8,179.2 534.5,179.2 C531.2,179.2 527.3,179.6 524.5,180.5 C521.7,181.4 519.5,182.9 517.8,184.5 C516.0,186.1 514.0,190.0 514.0,190.0 C514.0,190.0 464.5,190.0 464.5,190.0 C464.5,190.0 464.5,43.8 464.5,43.8Z" fill="#87cefa"/>
<path d="M624.5,190.0 C624.5,190.0 631.2,184.8 634.5,182.5 C637.8,180.2 641.6,178.3 644.5,176.2 C647.4,174.2 649.7,171.9 652.0,170.0 C654.3,168.1 656.6,165.5 658.2,165.0 C659.9,164.5 660.6,166.5 662.0,166.8 C663.4,167.0 665.2,167.1 666.5,166.5 C667.8,165.9 668.4,164.2 669.5,163.0 C670.6,161.8 671.9,160.6 673.2,159.5 C674.6,158.4 676.0,157.2 677.5,156.2 C679.0,155.3 682.0,153.8 682.0,153.8 C682.0,153.8 682.0,190.0 682.0,190.0 C682.0,190.0 624.5,190.0 624.5,190.0Z" fill="#87cefa"/>
<path d="M570.0,176.2 C570.6,174.7 573.3,174.6 574.5,175.0 C575.7,175.4 576.8,177.1 577.0,178.8 C577.2,180.4 576.8,184.0 575.8,185.0 C574.7,186.0 571.7,186.0 570.8,184.5 C569.8,183.0 569.4,177.8 570.0,176.2Z" fill="#87cefa" stroke="#555" stroke-width="0.5" stroke-linejoin="round"/>
<path d="M395.0,414.4 C395.2,413.7 396.0,412.8 397.5,412.5 C399.0,412.2 401.7,412.2 403.8,412.5 C405.8,412.8 408.2,413.6 410.0,414.4 C411.8,415.1 413.5,415.7 414.4,416.9 C415.2,418.0 415.7,420.6 415.0,421.2 C414.3,421.9 411.9,421.2 410.0,421.0 C408.1,420.8 405.6,420.2 403.8,419.8 C401.9,419.3 400.0,418.7 398.8,418.1 C397.5,417.6 396.9,417.1 396.2,416.5 C395.6,415.9 394.8,415.0 395.0,414.4Z" fill="#87cefa" stroke="#4a7ab0" stroke-width="0.4" stroke-linejoin="round"/>
<path d="M421.2,419.4 C421.5,418.6 422.5,418.0 423.8,417.5 C425.0,417.0 427.0,416.5 428.8,416.5 C430.5,416.5 433.1,416.6 434.4,417.2 C435.7,417.9 436.3,419.4 436.5,420.6 C436.7,421.8 436.5,423.8 435.6,424.4 C434.8,425.0 432.8,424.5 431.2,424.4 C429.7,424.2 427.7,423.9 426.2,423.5 C424.8,423.1 423.3,422.6 422.5,421.9 C421.7,421.2 421.0,420.1 421.2,419.4Z" fill="#87cefa" stroke="#4a7ab0" stroke-width="0.4" stroke-linejoin="round"/>
<path d="M450.0,423.8 C450.3,423.1 451.0,422.2 451.9,421.9 C452.7,421.6 454.2,421.5 455.0,421.9 C455.8,422.3 456.8,423.5 456.9,424.4 C457.0,425.2 456.4,426.4 455.6,426.9 C454.9,427.4 453.4,427.4 452.5,427.2 C451.6,427.1 450.7,426.6 450.2,426.0 C449.8,425.4 449.7,424.4 450.0,423.8Z" fill="#87cefa" stroke="#4a7ab0" stroke-width="0.4" stroke-linejoin="round"/>
<path d="M472.9,187.4 C472.9,187.4 471.6,190.2 471.6,191.8 C471.6,193.3 471.9,195.2 472.9,196.5 C473.9,197.8 475.7,199.0 477.5,199.5 C479.3,200.0 481.7,199.6 483.8,199.5 C485.8,199.4 488.2,199.0 490.0,198.9 C491.8,198.8 493.9,198.4 494.6,199.0 C495.3,199.6 495.1,201.4 494.1,202.4 C493.2,203.4 490.7,204.1 489.0,205.1 C487.3,206.1 485.5,207.2 484.0,208.2 C482.5,209.3 481.3,210.2 480.2,211.4 C479.2,212.5 478.4,213.9 477.9,215.1 C477.4,216.4 477.3,218.2 477.4,218.9 C477.5,219.6 477.8,219.9 478.5,219.2 C479.2,218.6 480.5,216.5 481.6,215.2 C482.8,214.0 484.0,212.6 485.4,211.5 C486.7,210.4 488.2,209.4 489.8,208.4 C491.3,207.3 493.3,206.2 494.8,205.2 C496.2,204.3 497.0,203.6 498.5,202.9 C500.0,202.1 501.8,201.5 503.5,200.8 C505.2,200.0 506.9,199.4 508.5,198.2 C510.1,197.1 512.1,195.3 513.4,194.0 C514.6,192.7 515.2,191.6 515.9,190.5 C516.5,189.4 517.1,187.4 517.1,187.4 C517.1,187.4 472.9,187.4 472.9,187.4Z" fill="#87cefa"/>
<path d="M520.1,198.0 C520.3,197.4 521.2,196.5 522.0,196.2 C522.8,196.0 524.1,196.1 524.8,196.5 C525.4,196.9 525.9,198.0 525.8,198.6 C525.6,199.2 524.4,199.8 523.6,200.0 C522.8,200.2 521.5,200.2 520.9,199.9 C520.3,199.5 519.9,198.6 520.1,198.0Z" fill="#87cefa"/>
<path d="M525.2,203.8 C525.5,203.2 526.6,202.6 527.5,202.5 C528.4,202.4 529.7,202.7 530.4,203.4 C531.0,204.1 531.4,205.8 531.4,206.8 C531.4,207.7 531.0,208.9 530.4,209.0 C529.8,209.1 528.5,208.1 527.8,207.6 C527.0,207.1 526.4,206.6 526.0,206.0 C525.6,205.4 525.0,204.3 525.2,203.8Z" fill="#87cefa"/>
<path d="M495.0,207.1 C496.4,206.7 497.3,207.8 498.8,207.8 C500.2,207.8 502.1,207.5 503.8,207.1 C505.4,206.7 507.3,205.6 508.8,205.2 C510.2,204.9 511.4,204.6 512.2,205.2 C513.1,205.9 513.3,207.7 514.1,208.9 C515.0,210.0 516.0,211.5 517.4,212.1 C518.8,212.8 520.8,212.9 522.5,212.8 C524.2,212.6 526.3,212.1 527.5,211.5 C528.7,210.9 528.9,209.0 529.9,209.1 C530.8,209.2 532.3,211.9 533.1,212.1 C534.0,212.3 533.9,210.9 535.0,210.2 C536.1,209.6 538.1,208.8 540.0,208.4 C541.9,208.0 544.2,207.9 546.2,207.8 C548.3,207.6 550.4,207.6 552.5,207.8 C554.6,207.9 556.7,208.2 558.8,208.4 C560.8,208.6 563.3,209.2 565.0,209.0 C566.7,208.8 567.9,207.8 569.0,207.0 C570.1,206.2 570.7,204.8 571.9,204.2 C573.1,203.7 576.2,203.6 576.2,203.6 C576.2,203.6 576.2,263.0 576.2,263.0 C576.2,263.0 498.5,263.0 498.5,263.0 C498.5,263.0 495.9,259.8 494.8,258.6 C493.6,257.5 492.2,256.9 491.6,256.1 C491.0,255.3 490.6,254.5 491.0,253.8 C491.4,253.0 492.9,252.1 494.0,251.4 C495.1,250.7 496.7,250.3 497.8,249.5 C498.8,248.7 500.2,247.7 500.4,246.8 C500.6,245.8 499.9,244.5 499.0,243.9 C498.1,243.3 496.7,243.1 495.0,243.2 C493.3,243.4 490.8,244.1 488.8,244.5 C486.7,244.9 484.6,245.3 482.5,245.8 C480.4,246.2 478.0,247.0 476.2,247.0 C474.5,247.0 472.8,246.4 472.2,245.9 C471.7,245.3 472.5,244.5 472.9,243.6 C473.3,242.7 474.2,241.9 474.8,240.5 C475.3,239.1 475.9,237.2 476.0,235.5 C476.1,233.8 475.3,232.2 475.4,230.5 C475.5,228.8 475.9,226.9 476.6,225.5 C477.4,224.1 478.8,223.2 479.8,221.9 C480.7,220.6 481.2,219.0 482.2,217.6 C483.3,216.3 484.6,215.1 485.9,213.9 C487.2,212.6 488.6,211.4 490.1,210.2 C491.6,209.1 493.6,207.5 495.0,207.1Z" fill="#87cefa"/>
<path d="M464.4,256.5 C464.4,256.5 466.1,255.6 467.5,255.2 C468.9,254.9 471.3,255.1 472.5,254.6 C473.7,254.1 473.7,252.8 474.6,252.1 C475.6,251.5 477.0,251.0 478.1,250.9 C479.3,250.8 481.0,250.9 481.6,251.5 C482.3,252.1 481.7,253.2 482.1,254.2 C482.5,255.3 483.3,256.5 484.0,258.0 C484.7,259.5 486.4,263.0 486.4,263.0 C486.4,263.0 464.4,263.0 464.4,263.0 C464.4,263.0 464.4,256.5 464.4,256.5Z" fill="#87cefa"/>
<path d="M498.5,261.4 C498.5,261.4 497.6,263.4 497.2,264.5 C496.9,265.6 496.1,267.2 496.6,268.2 C497.1,269.2 499.2,269.7 500.2,270.5 C501.3,271.3 502.1,272.4 502.8,273.2 C503.4,274.1 503.8,275.8 504.4,275.8 C505.0,275.8 505.6,273.9 506.2,273.2 C506.9,272.6 507.5,271.9 508.1,272.0 C508.8,272.1 509.7,272.8 510.0,273.9 C510.3,274.9 510.3,277.1 510.0,278.2 C509.7,279.4 508.9,279.8 508.1,280.8 C507.4,281.7 505.9,282.8 505.6,283.9 C505.3,284.9 505.7,286.1 506.2,287.0 C506.8,287.9 507.7,288.8 508.8,289.5 C509.8,290.2 511.2,290.8 512.5,291.4 C513.8,292.0 515.0,292.5 516.2,293.2 C517.5,294.0 518.8,294.8 520.0,295.8 C521.2,296.7 523.4,297.8 523.8,298.9 C524.1,299.9 522.7,301.0 521.9,302.0 C521.0,303.0 519.8,304.2 518.8,305.1 C517.7,306.1 516.2,306.7 515.6,307.6 C515.0,308.6 514.7,310.1 515.0,310.8 C515.3,311.4 516.2,311.4 517.5,311.4 C518.8,311.4 521.0,310.8 522.5,310.8 C524.0,310.8 525.0,311.0 526.2,311.4 C527.5,311.8 529.1,312.3 530.0,313.2 C530.9,314.2 531.7,315.8 531.9,317.0 C532.1,318.2 531.7,319.6 531.2,320.8 C530.8,321.9 530.1,323.2 529.4,323.9 C528.6,324.5 527.5,324.9 526.9,324.5 C526.2,324.1 526.2,322.1 525.6,321.4 C525.0,320.6 524.0,320.1 523.1,320.1 C522.3,320.1 521.1,320.6 520.6,321.4 C520.1,322.1 519.8,323.4 520.0,324.5 C520.2,325.6 521.0,327.1 521.9,328.2 C522.7,329.4 523.9,330.4 525.0,331.4 C526.1,332.3 527.7,332.9 528.8,333.9 C529.8,334.8 531.2,337.0 531.2,337.0 C531.2,337.0 576.2,337.0 576.2,337.0 C576.2,337.0 576.2,261.4 576.2,261.4 C576.2,261.4 498.5,261.4 498.5,261.4Z" fill="#87cefa"/>
<path d="M469.9,261.4 C469.9,261.4 471.5,263.4 472.8,264.2 C474.0,265.1 475.7,266.0 477.5,266.6 C479.3,267.2 482.0,267.9 483.8,267.9 C485.5,267.9 486.9,267.4 487.9,266.8 C488.9,266.1 489.4,264.8 489.6,263.9 C489.8,263.0 489.0,261.4 489.0,261.4 C489.0,261.4 469.9,261.4 469.9,261.4Z" fill="#87cefa"/>
<path d="M574.4,261.4 L681.2,261.4 L681.2,337.0 L574.4,337.0Z" fill="#87cefa"/>
<path d="M139.0,185.5 C139.0,185.5 143.8,185.3 145.5,186.8 C147.2,188.2 148.5,192.0 149.5,194.2 C150.5,196.5 150.8,198.4 151.2,200.5 C151.7,202.6 152.1,204.9 152.0,206.8 C151.9,208.6 150.0,210.7 150.5,211.8 C151.0,212.8 153.5,212.2 155.0,213.0 C156.5,213.8 158.6,214.9 159.5,216.8 C160.4,218.6 160.6,221.8 160.5,224.2 C160.4,226.8 159.5,229.7 158.8,231.8 C158.0,233.8 155.8,235.7 156.2,236.8 C156.7,237.8 159.4,237.5 161.2,238.0 C163.1,238.5 166.0,238.8 167.5,240.0 C169.0,241.2 169.8,243.1 170.5,245.5 C171.2,247.9 171.6,251.5 171.5,254.2 C171.4,257.0 170.9,259.5 170.0,261.8 C169.1,264.0 167.2,265.9 166.2,268.0 C165.3,270.1 165.1,272.0 164.5,274.2 C163.9,276.5 163.2,279.5 162.5,281.8 C161.8,284.0 161.2,285.9 160.0,288.0 C158.8,290.1 156.7,292.2 155.0,294.2 C153.3,296.3 151.6,298.6 150.0,300.5 C148.4,302.4 146.8,304.3 145.5,305.5 C144.2,306.7 142.9,307.7 142.0,307.5 C141.1,307.3 140.1,306.2 140.0,304.2 C139.9,302.2 140.6,298.2 141.2,295.5 C141.9,292.8 142.7,290.5 143.8,288.0 C144.8,285.5 146.2,283.0 147.5,280.5 C148.8,278.0 150.5,275.5 151.2,273.0 C152.0,270.5 152.4,268.0 152.0,265.5 C151.6,263.0 149.7,260.5 148.8,258.0 C147.8,255.5 147.1,253.0 146.2,250.5 C145.4,248.0 144.7,244.9 143.8,243.0 C142.8,241.1 141.3,240.1 140.5,239.2 C139.7,238.4 139.0,238.0 139.0,238.0 C139.0,238.0 139.0,185.5 139.0,185.5Z" fill="#87cefa"/>
<path d="M139.0,185.5C139.0,185.5 143.8,185.3 145.5,186.8C147.2,188.2 148.5,192.0 149.5,194.2C150.5,196.5 150.8,198.4 151.2,200.5C151.7,202.6 152.1,204.9 152.0,206.8C151.9,208.6 150.0,210.7 150.5,211.8C151.0,212.8 153.5,212.2 155.0,213.0C156.5,213.8 158.6,214.9 159.5,216.8C160.4,218.6 160.6,221.8 160.5,224.2C160.4,226.8 159.5,229.7 158.8,231.8C158.0,233.8 155.8,235.7 156.2,236.8C156.7,237.8 159.4,237.5 161.2,238.0C163.1,238.5 166.0,238.8 167.5,240.0C169.0,241.2 169.8,243.1 170.5,245.5C171.2,247.9 171.6,251.5 171.5,254.2C171.4,257.0 170.9,259.5 170.0,261.8C169.1,264.0 167.2,265.9 166.2,268.0C165.3,270.1 165.1,272.0 164.5,274.2C163.9,276.5 163.2,279.5 162.5,281.8C161.8,284.0 161.2,285.9 160.0,288.0C158.8,290.1 156.7,292.2 155.0,294.2C153.3,296.3 151.6,298.6 150.0,300.5C148.4,302.4 146.8,304.3 145.5,305.5C144.2,306.7 142.9,307.7 142.0,307.5C141.1,307.3 140.1,306.2 140.0,304.2C139.9,302.2 140.6,298.2 141.2,295.5C141.9,292.8 142.7,290.5 143.8,288.0C144.8,285.5 146.2,283.0 147.5,280.5C148.8,278.0 150.5,275.5 151.2,273.0C152.0,270.5 152.4,268.0 152.0,265.5C151.6,263.0 149.7,260.5 148.8,258.0C147.8,255.5 147.1,253.0 146.2,250.5C145.4,248.0 144.7,244.9 143.8,243.0C142.8,241.1 141.3,240.1 140.5,239.2C139.7,238.4 139.0,238.0 139.0,238.0" fill="none" stroke="#4a7ab0" stroke-width="0.4" stroke-linejoin="round"/>
<path d="M330.6,335.4 C330.6,335.4 329.5,338.4 329.4,339.8 C329.3,341.1 329.5,342.5 330.0,343.5 C330.5,344.5 331.6,345.9 332.5,346.0 C333.4,346.1 334.8,345.0 335.6,344.1 C336.5,343.3 336.8,341.2 337.5,341.0 C338.2,340.8 339.1,341.9 340.0,342.9 C340.9,343.8 342.2,345.4 343.1,346.6 C344.1,347.9 344.8,349.0 345.6,350.4 C346.5,351.7 347.4,353.5 348.1,354.8 C348.9,356.0 349.3,356.8 350.0,357.9 C350.7,358.9 351.7,360.3 352.5,361.0 C353.3,361.7 354.3,362.6 355.0,362.2 C355.7,361.9 356.4,360.4 356.9,359.1 C357.4,357.9 357.8,356.1 358.1,354.8 C358.4,353.4 358.3,351.8 358.8,351.0 C359.2,350.2 360.0,349.7 360.6,350.0 C361.2,350.3 362.2,351.8 362.5,352.9 C362.8,354.0 361.9,355.9 362.2,356.6 C362.6,357.4 363.5,357.1 364.4,357.5 C365.2,357.9 366.5,358.4 367.5,359.1 C368.5,359.8 369.7,360.9 370.6,361.6 C371.6,362.4 372.4,363.6 373.1,363.5 C373.9,363.4 374.6,361.8 375.0,361.0 C375.4,360.2 375.5,359.5 375.4,358.5 C375.2,357.5 374.6,356.2 374.1,354.8 C373.6,353.3 372.8,351.3 372.2,349.8 C371.7,348.2 371.5,346.7 371.0,345.4 C370.5,344.0 369.6,342.9 369.1,341.6 C368.6,340.4 368.4,338.9 367.9,337.9 C367.4,336.8 366.0,335.4 366.0,335.4 C366.0,335.4 330.6,335.4 330.6,335.4Z" fill="#87cefa"/>
<path d="M371.0,376.6 C371.2,375.9 371.9,375.6 372.5,376.0 C373.1,376.4 374.5,377.9 374.8,379.1 C375.0,380.3 374.2,382.5 373.8,383.2 C373.3,384.0 372.3,384.0 371.9,383.5 C371.4,383.0 371.1,381.5 371.0,380.4 C370.9,379.2 370.8,377.4 371.0,376.6Z" fill="#87cefa"/>
<path d="M531.9,335.4 C531.9,335.4 532.4,338.5 533.1,339.8 C533.9,341.0 534.9,342.0 536.2,342.9 C537.6,343.7 539.6,344.3 541.2,344.8 C542.9,345.2 544.6,345.2 546.2,345.4 C547.9,345.6 549.8,345.6 551.2,346.0 C552.7,346.4 553.8,347.1 555.0,347.9 C556.2,348.6 557.4,349.5 558.8,350.4 C560.1,351.2 561.7,351.9 563.1,352.9 C564.6,353.8 566.1,355.0 567.5,356.0 C568.9,357.0 570.1,358.1 571.2,359.1 C572.4,360.2 573.6,361.0 574.4,362.2 C575.1,363.5 575.3,365.2 575.6,366.6 C575.9,368.1 575.7,369.4 576.2,371.0 C576.8,372.6 577.9,374.6 578.8,376.0 C579.6,377.4 580.0,378.3 581.2,379.1 C582.5,380.0 584.8,381.0 586.2,381.0 C587.7,381.0 588.5,379.8 590.0,379.1 C591.5,378.5 593.3,377.5 595.0,377.2 C596.7,377.0 598.5,378.3 600.0,377.9 C601.5,377.5 602.5,375.8 603.8,374.8 C605.0,373.7 606.2,372.4 607.5,371.6 C608.8,370.9 611.2,370.4 611.2,370.4 C611.2,370.4 611.2,335.4 611.2,335.4 C611.2,335.4 531.9,335.4 531.9,335.4Z" fill="#87cefa"/>
<path d="M531.9,335.4C531.9,335.4 532.4,338.5 533.1,339.8C533.9,341.0 534.9,342.0 536.2,342.9C537.6,343.7 539.6,344.3 541.2,344.8C542.9,345.2 544.6,345.2 546.2,345.4C547.9,345.6 549.8,345.6 551.2,346.0C552.7,346.4 553.8,347.1 555.0,347.9C556.2,348.6 557.4,349.5 558.8,350.4C560.1,351.2 561.7,351.9 563.1,352.9C564.6,353.8 566.1,355.0 567.5,356.0C568.9,357.0 570.1,358.1 571.2,359.1C572.4,360.2 573.6,361.0 574.4,362.2C575.1,363.5 575.3,365.2 575.6,366.6C575.9,368.1 575.7,369.4 576.2,371.0C576.8,372.6 577.9,374.6 578.8,376.0C579.6,377.4 580.0,378.3 581.2,379.1C582.5,380.0 584.8,381.0 586.2,381.0C587.7,381.0 588.5,379.8 590.0,379.1C591.5,378.5 593.3,377.5 595.0,377.2C596.7,377.0 598.5,378.3 600.0,377.9C601.5,377.5 602.5,375.8 603.8,374.8C605.0,373.7 606.2,372.4 607.5,371.6C608.8,370.9 611.2,370.4 611.2,370.4" fill="none" stroke="#4a7ab0" stroke-width="0.4" stroke-linejoin="round"/>
<path d="M609.1,329.0 C609.1,329.0 610.1,333.5 610.5,336.1 C610.9,338.6 611.1,341.8 611.7,344.1 C612.3,346.5 613.5,348.0 614.1,350.2 C614.8,352.4 615.6,354.7 615.8,357.3 C615.9,359.8 615.4,363.0 614.9,365.4 C614.5,367.7 614.0,369.7 613.3,371.4 C612.7,373.1 611.3,382.7 610.9,375.7 C610.5,368.6 610.9,329.0 610.9,329.0 C610.9,329.0 609.1,329.0 609.1,329.0Z" fill="#87cefa"/>
<path d="M630.3,329.0 C630.3,329.0 631.1,333.4 632.3,335.1 C633.5,336.7 635.5,338.2 637.4,339.1 C639.2,339.9 641.6,339.1 643.4,340.1 C645.3,341.1 646.6,343.8 648.5,345.2 C650.3,346.5 652.5,347.0 654.5,348.2 C656.6,349.4 658.6,350.5 660.6,352.2 C662.6,353.9 664.6,356.4 666.7,358.3 C668.7,360.1 670.9,361.6 672.7,363.3 C674.6,365.0 676.3,366.7 677.8,368.4 C679.3,370.1 681.8,373.4 681.8,373.4 C681.8,373.4 681.8,329.0 681.8,329.0 C681.8,329.0 630.3,329.0 630.3,329.0Z" fill="#87cefa"/>
<path d="M630.3,329.0C630.3,329.0 631.1,333.4 632.3,335.1C633.5,336.7 635.5,338.2 637.4,339.1C639.2,339.9 641.6,339.1 643.4,340.1C645.3,341.1 646.6,343.8 648.5,345.2C650.3,346.5 652.5,347.0 654.5,348.2C656.6,349.4 658.6,350.5 660.6,352.2C662.6,353.9 664.6,356.4 666.7,358.3C668.7,360.1 670.9,361.6 672.7,363.3C674.6,365.0 676.3,366.7 677.8,368.4C679.3,370.1 681.8,373.4 681.8,373.4" fill="none" stroke="#4a7ab0" stroke-width="0.4" stroke-linejoin="round"/>
<path d="M138.8,44.5 C138.8,44.5 246.2,44.5 246.2,44.5 C246.2,44.5 246.2,117.0 246.2,117.0 C246.2,117.0 222.5,117.0 222.5,117.0 C222.5,117.0 221.5,114.5 220.0,113.2 C218.5,112.0 215.8,110.8 213.8,109.5 C211.7,108.2 209.4,107.0 207.5,105.8 C205.6,104.5 204.4,103.2 202.5,102.0 C200.6,100.8 198.1,99.7 196.2,98.2 C194.4,96.8 192.9,94.8 191.2,93.2 C189.6,91.7 187.9,90.3 186.2,88.9 C184.6,87.4 182.7,86.1 181.2,84.5 C179.8,82.9 178.5,80.9 177.5,79.5 C176.5,78.1 175.8,76.8 175.0,76.4 C174.2,76.0 174.0,77.2 172.5,77.0 C171.0,76.8 167.7,75.9 166.2,75.1 C164.8,74.4 165.0,73.5 163.8,72.6 C162.5,71.8 160.4,70.2 158.8,70.1 C157.1,70.0 155.2,71.5 153.8,72.0 C152.3,72.5 151.5,73.5 150.0,73.2 C148.5,73.0 146.0,72.0 145.0,70.8 C144.0,69.5 144.5,67.2 143.8,65.8 C143.0,64.3 141.3,63.7 140.6,62.0 C139.9,60.3 139.8,57.0 139.5,55.8 C139.2,54.5 138.8,54.5 138.8,54.5 C138.8,54.5 138.8,44.5 138.8,44.5Z" fill="#87cefa"/>
<path d="M163.8,79.1 C164.1,78.6 165.0,78.2 166.2,78.1 C167.5,78.0 170.0,78.2 171.0,78.6 C172.0,79.1 172.7,80.2 172.5,80.8 C172.3,81.3 170.9,81.8 169.8,82.1 C168.6,82.4 166.7,82.7 165.8,82.5 C164.8,82.3 164.3,81.7 164.0,81.1 C163.7,80.6 163.4,79.6 163.8,79.1Z" fill="#87cefa"/>
<path d="M178.6,94.8 C179.2,94.1 181.1,93.6 182.5,93.8 C183.9,93.9 186.2,95.0 187.2,95.5 C188.3,96.0 189.4,96.6 189.0,96.9 C188.6,97.1 186.2,96.8 185.0,97.1 C183.8,97.5 182.8,98.8 181.8,98.9 C180.8,99.0 179.5,98.6 179.0,97.9 C178.5,97.2 178.0,95.4 178.6,94.8Z" fill="#87cefa"/>
<path d="M222.5,115.4 C222.5,115.4 225.6,118.4 227.5,119.8 C229.4,121.1 231.9,122.1 233.8,123.5 C235.6,124.9 236.7,126.1 238.8,127.9 C240.8,129.6 246.2,134.1 246.2,134.1 C246.2,134.1 246.2,115.4 246.2,115.4 C246.2,115.4 222.5,115.4 222.5,115.4Z" fill="#87cefa"/>
<path d="M256.1,189.4 C256.1,189.4 356.2,189.4 356.2,189.4 C356.2,189.4 356.2,265.0 356.2,265.0 C356.2,265.0 299.9,265.0 299.9,265.0 C299.9,265.0 296.0,261.5 294.2,260.0 C292.5,258.5 290.7,257.7 289.2,256.2 C287.8,254.8 286.3,252.9 285.5,251.2 C284.7,249.6 284.8,247.7 284.2,246.2 C283.7,244.8 282.2,243.8 282.0,242.5 C281.8,241.2 283.1,239.9 283.0,238.8 C282.9,237.6 281.5,236.6 281.2,235.6 C281.0,234.7 281.6,234.1 281.2,233.1 C280.9,232.2 280.2,231.1 279.2,230.0 C278.3,228.9 277.0,227.5 275.5,226.2 C274.0,225.0 272.2,224.0 270.5,222.5 C268.8,221.0 267.2,219.0 265.5,217.5 C263.8,216.0 261.8,215.0 260.5,213.8 C259.2,212.5 258.2,211.2 258.0,210.0 C257.8,208.8 259.4,207.7 259.2,206.2 C259.1,204.8 258.2,202.7 257.4,201.2 C256.6,199.8 254.9,198.8 254.5,197.5 C254.1,196.2 255.0,193.8 255.0,193.8 C255.0,193.8 256.1,189.4 256.1,189.4Z" fill="#87cefa"/>
<path d="M299.8,263.4 C299.8,263.4 300.1,266.4 300.4,267.8 C300.7,269.1 301.0,270.2 301.6,271.5 C302.2,272.8 303.5,274.0 304.1,275.2 C304.8,276.5 304.8,277.8 305.4,279.0 C306.0,280.2 307.0,281.5 307.9,282.8 C308.7,284.0 309.8,285.2 310.4,286.5 C311.0,287.8 311.1,289.3 311.6,290.6 C312.1,291.9 312.5,293.6 313.4,294.2 C314.2,294.9 315.9,294.9 316.6,294.2 C317.4,293.6 317.4,290.6 318.0,290.4 C318.6,290.2 319.1,292.4 320.2,293.0 C321.4,293.6 323.2,294.2 325.0,294.2 C326.8,294.2 329.7,293.1 331.2,293.0 C332.8,292.9 332.9,293.5 334.4,293.6 C335.8,293.7 338.2,293.9 340.0,293.6 C341.8,293.3 343.1,292.0 345.0,291.8 C346.9,291.5 349.4,292.5 351.2,292.4 C353.1,292.3 356.2,291.1 356.2,291.1 C356.2,291.1 356.2,263.4 356.2,263.4 C356.2,263.4 299.8,263.4 299.8,263.4Z" fill="#87cefa"/>
<path d="M293.9,283.6 C293.8,282.8 294.0,280.3 294.4,279.0 C294.7,277.7 295.1,276.5 295.9,275.6 C296.6,274.8 298.0,273.9 298.8,273.9 C299.5,273.9 300.1,274.6 300.1,275.5 C300.2,276.4 299.5,277.8 299.0,279.0 C298.5,280.2 297.9,281.6 297.2,282.5 C296.6,283.4 295.7,283.9 295.1,284.1 C294.6,284.3 294.0,284.5 293.9,283.6Z" fill="#87cefa"/>
<path d="M294.0,300.2 C294.2,299.7 295.0,299.1 295.6,299.2 C296.2,299.4 297.4,300.2 297.5,300.9 C297.6,301.5 297.0,302.7 296.5,303.0 C296.0,303.3 294.8,303.2 294.4,302.8 C294.0,302.3 293.8,300.8 294.0,300.2Z" fill="#87cefa"/>
<path d="M332.5,295.5 C333.5,294.6 335.6,295.7 337.5,296.1 C339.4,296.5 341.9,297.2 343.8,298.0 C345.6,298.8 347.3,300.4 348.8,301.1 C350.2,301.9 351.2,302.3 352.5,302.4 C353.8,302.5 356.2,301.8 356.2,301.8 C356.2,301.8 356.2,339.0 356.2,339.0 C356.2,339.0 330.6,339.0 330.6,339.0 C330.6,339.0 329.6,335.5 329.0,334.0 C328.4,332.5 327.6,331.5 326.9,330.2 C326.2,329.0 325.4,328.0 324.8,326.5 C324.1,325.0 323.6,323.2 323.1,321.5 C322.6,319.8 322.0,318.2 321.9,316.5 C321.8,314.8 322.1,313.0 322.5,311.5 C322.9,310.0 323.3,308.9 324.0,307.8 C324.7,306.6 325.7,305.7 326.9,304.6 C328.1,303.6 330.3,303.0 331.2,301.5 C332.2,300.0 331.5,296.4 332.5,295.5Z" fill="#87cefa"/>
<path d="M354.4,189.4 C354.4,189.4 414.8,189.4 414.8,189.4 C414.8,189.4 411.6,191.5 410.0,192.2 C408.4,193.0 406.8,193.8 405.0,194.0 C403.2,194.2 400.1,192.9 399.0,193.5 C397.9,194.1 397.9,196.3 398.4,197.5 C398.8,198.7 401.3,199.8 401.6,200.6 C402.0,201.5 400.3,201.8 400.4,202.5 C400.5,203.2 401.5,204.2 402.2,205.0 C403.0,205.8 404.5,206.8 404.8,207.5 C405.0,208.2 404.8,208.8 403.8,209.1 C402.8,209.5 400.0,209.3 398.8,209.8 C397.5,210.2 396.2,211.0 396.0,211.9 C395.8,212.8 396.8,214.3 397.5,215.2 C398.2,216.2 399.5,216.5 400.0,217.8 C400.5,219.0 400.8,221.6 400.6,222.5 C400.5,223.4 399.4,223.5 399.0,223.1 C398.6,222.7 399.0,221.2 398.4,220.0 C397.8,218.8 396.2,216.6 395.2,215.6 C394.3,214.6 394.0,214.4 392.5,214.1 C391.0,213.9 387.8,214.0 386.2,214.1 C384.7,214.2 384.5,215.0 383.1,214.8 C381.8,214.5 379.7,213.6 378.1,212.9 C376.6,212.1 375.1,211.3 373.8,210.4 C372.4,209.5 370.9,208.6 370.2,207.5 C369.6,206.4 369.5,205.0 369.6,203.8 C369.8,202.5 371.4,200.2 371.0,200.0 C370.6,199.8 368.9,202.0 367.5,202.8 C366.1,203.5 363.7,203.6 362.5,204.6 C361.3,205.6 360.8,207.0 360.2,208.8 C359.7,210.5 359.3,213.3 359.0,215.0 C358.7,216.7 359.1,218.0 358.4,218.8 C357.6,219.5 354.4,219.4 354.4,219.4 C354.4,219.4 354.4,189.4 354.4,189.4Z" fill="#87cefa"/>
<path d="M354.4,219.4 C354.4,219.4 357.4,218.2 358.4,218.8 C359.4,219.3 359.5,221.2 360.2,222.5 C361.0,223.8 361.7,224.8 362.8,226.2 C363.8,227.7 365.5,229.4 366.5,231.2 C367.5,233.1 368.0,235.6 369.0,237.5 C370.0,239.4 371.5,241.0 372.8,242.5 C374.0,244.0 375.2,245.2 376.2,246.5 C377.2,247.8 378.5,249.2 378.8,250.2 C379.0,251.2 378.3,252.3 377.5,252.5 C376.7,252.7 375.0,251.8 373.8,251.2 C372.5,250.7 371.0,248.8 370.0,249.0 C369.0,249.2 368.3,251.5 367.5,252.5 C366.7,253.5 365.8,254.2 365.0,255.0 C364.2,255.8 363.1,256.5 362.5,257.5 C361.9,258.5 361.2,260.0 361.2,261.2 C361.2,262.5 362.5,265.0 362.5,265.0 C362.5,265.0 354.4,265.0 354.4,265.0 C354.4,265.0 354.4,219.4 354.4,219.4Z" fill="#87cefa"/>
<path d="M422.8,193.8 C423.0,193.0 423.6,192.0 424.4,191.5 C425.2,191.0 426.6,190.7 427.5,191.0 C428.4,191.3 429.1,192.2 429.5,193.1 C429.9,194.0 430.1,195.5 429.8,196.5 C429.4,197.5 428.1,198.7 427.2,199.0 C426.4,199.3 425.5,198.6 424.8,198.1 C424.0,197.7 423.1,197.0 422.8,196.2 C422.4,195.5 422.5,194.5 422.8,193.8Z" fill="#87cefa"/>
<path d="M354.4,263.4 C354.4,263.4 370.0,263.4 370.0,263.4 C370.0,263.4 372.2,266.0 372.5,267.1 C372.8,268.3 372.4,269.4 371.9,270.2 C371.4,271.1 369.5,271.3 369.4,272.1 C369.2,273.0 370.1,274.1 371.0,275.2 C371.9,276.4 373.7,277.9 374.8,279.0 C375.8,280.1 376.1,281.1 377.2,282.1 C378.4,283.1 380.1,284.0 381.6,284.9 C383.1,285.8 384.7,286.8 386.2,287.4 C387.8,288.0 389.9,288.0 391.0,288.6 C392.1,289.2 392.9,289.8 393.1,290.9 C393.4,292.0 392.4,294.0 392.5,295.2 C392.6,296.5 393.1,298.2 393.8,298.4 C394.4,298.6 395.4,296.5 396.2,296.5 C397.1,296.5 398.1,297.4 398.8,298.4 C399.4,299.3 400.1,301.1 400.0,302.1 C399.9,303.2 399.2,304.1 398.1,304.6 C397.1,305.1 395.0,305.2 393.8,305.2 C392.5,305.2 391.6,304.6 390.6,304.6 C389.7,304.6 389.0,304.8 388.1,305.2 C387.3,305.7 386.7,306.8 385.6,307.1 C384.6,307.4 382.9,307.2 381.9,307.1 C380.8,307.1 380.3,306.7 379.4,306.9 C378.4,307.0 377.2,307.5 376.2,308.0 C375.3,308.5 374.4,310.0 373.8,310.0 C373.1,310.0 372.3,308.6 372.5,307.8 C372.7,306.9 374.1,305.6 375.0,304.9 C375.9,304.2 378.1,304.1 378.1,303.6 C378.1,303.1 376.4,302.3 375.0,301.8 C373.6,301.2 371.7,301.1 370.0,300.5 C368.3,299.9 366.7,298.9 365.0,298.0 C363.3,297.1 361.7,295.8 360.0,294.9 C358.3,293.9 355.9,292.8 355.0,292.4 C354.1,291.9 354.4,292.1 354.4,292.1 C354.4,292.1 354.4,263.4 354.4,263.4Z" fill="#87cefa"/>
<path d="M377.5,269.6 C378.2,269.0 380.6,267.8 381.9,267.8 C383.1,267.8 384.0,268.6 385.0,269.6 C386.0,270.6 386.5,272.6 387.8,273.8 C389.0,274.9 390.7,275.9 392.2,276.5 C393.8,277.1 395.5,276.9 396.9,277.5 C398.3,278.1 399.4,279.1 400.6,280.0 C401.9,280.9 404.0,281.6 404.4,282.8 C404.8,283.9 403.8,285.8 403.1,287.1 C402.5,288.5 401.5,289.9 400.6,290.9 C399.8,291.8 399.1,292.7 398.1,292.8 C397.2,292.8 395.7,291.9 395.0,291.2 C394.3,290.6 394.5,290.0 393.8,288.8 C393.0,287.5 391.8,285.4 390.6,284.0 C389.5,282.6 388.1,281.5 386.9,280.2 C385.6,279.0 384.3,277.6 383.1,276.5 C381.9,275.4 380.6,274.2 379.6,273.4 C378.7,272.5 377.9,272.1 377.5,271.5 C377.1,270.9 376.8,270.2 377.5,269.6Z" fill="#87cefa"/>
<path d="M354.4,304.2 C354.4,304.2 357.2,304.9 358.8,305.5 C360.3,306.1 362.1,307.1 363.8,308.0 C365.4,308.9 367.3,310.4 368.8,311.1 C370.2,311.9 371.5,312.0 372.5,312.5 C373.5,313.0 373.9,313.5 374.8,314.2 C375.6,315.0 377.2,315.8 377.8,316.8 C378.3,317.8 378.4,319.0 378.2,320.2 C378.1,321.5 376.8,322.8 377.0,324.0 C377.2,325.2 378.8,326.5 379.5,327.8 C380.2,329.0 381.0,330.5 381.0,331.2 C381.0,332.0 380.2,332.3 379.5,332.5 C378.8,332.7 378.0,333.0 376.9,332.4 C375.8,331.8 374.2,329.6 372.8,328.8 C371.3,327.9 369.4,327.2 368.1,327.4 C366.9,327.6 365.6,328.9 365.2,330.0 C364.9,331.1 365.6,332.5 365.9,334.0 C366.2,335.5 367.1,339.0 367.1,339.0 C367.1,339.0 354.4,339.0 354.4,339.0 C354.4,339.0 354.4,304.2 354.4,304.2Z" fill="#87cefa"/>
<path d="M533.1,212.0 C533.9,211.4 533.9,210.8 535.0,210.1 C536.1,209.5 538.1,208.7 540.0,208.2 C541.9,207.8 544.2,207.7 546.2,207.6 C548.3,207.5 550.4,207.5 552.5,207.6 C554.6,207.7 556.7,208.0 558.8,208.2 C560.8,208.5 563.6,208.5 565.0,208.9 C566.4,209.2 567.1,209.5 566.9,210.5 C566.7,211.5 564.7,213.4 563.8,214.9 C562.8,216.3 562.3,217.7 561.2,219.2 C560.2,220.8 558.8,222.7 557.5,224.2 C556.2,225.8 555.2,227.6 553.8,228.6 C552.3,229.7 550.3,230.0 548.8,230.5 C547.2,231.0 545.5,230.8 544.4,231.8 C543.2,232.7 542.7,234.7 541.9,236.1 C541.0,237.6 540.1,239.0 539.4,240.5 C538.6,242.0 537.6,243.4 537.5,244.9 C537.4,246.3 538.6,247.9 538.8,249.2 C538.9,250.6 538.5,252.0 538.1,253.0 C537.7,254.0 537.1,255.0 536.2,255.5 C535.4,256.0 534.2,256.8 533.1,256.1 C532.1,255.5 530.9,253.3 530.0,251.8 C529.1,250.2 527.9,248.2 527.5,246.8 C527.1,245.3 527.1,244.2 527.5,243.0 C527.9,241.8 529.2,240.7 530.0,239.2 C530.8,237.8 531.8,235.9 532.5,234.2 C533.2,232.6 534.0,230.9 534.4,229.2 C534.8,227.6 535.3,225.7 535.0,224.2 C534.7,222.8 533.3,221.8 532.5,220.5 C531.7,219.2 530.3,217.9 530.0,216.8 C529.7,215.6 530.1,214.4 530.6,213.6 C531.1,212.8 532.4,212.6 533.1,212.0Z" fill="#bdbdbd" stroke="#777" stroke-width="0.5" stroke-linejoin="round"/>
<path d="M525.0,263.0 C525.0,263.0 526.0,259.7 526.9,258.6 C527.7,257.6 529.1,256.9 530.0,256.8 C530.9,256.6 532.0,257.0 532.5,258.0 C533.0,259.0 533.1,263.0 533.1,263.0 C533.1,263.0 525.0,263.0 525.0,263.0Z" fill="#bdbdbd"/>
<path d="M525.0,263.0C525.0,263.0 526.0,259.7 526.9,258.6C527.7,257.6 529.1,256.9 530.0,256.8C530.9,256.6 532.0,257.0 532.5,258.0C533.0,259.0 533.1,263.0 533.1,263.0" fill="none" stroke="#777" stroke-width="0.5" stroke-linejoin="round"/>
<path d="M523.8,261.4 C523.8,261.4 522.7,263.4 521.9,264.5 C521.0,265.6 519.6,267.0 518.8,268.2 C517.9,269.5 517.4,270.8 516.9,272.0 C516.4,273.2 515.9,274.5 515.6,275.8 C515.3,277.0 515.6,278.7 515.0,279.5 C514.4,280.3 512.5,280.2 511.9,280.8 C511.2,281.3 510.8,282.0 511.0,282.6 C511.2,283.2 512.2,284.0 513.1,284.5 C514.0,285.0 515.8,285.0 516.2,285.8 C516.7,286.5 515.5,287.9 515.6,288.9 C515.7,289.8 516.1,291.1 516.9,291.4 C517.6,291.7 519.3,291.5 520.0,290.8 C520.7,290.0 520.7,288.2 521.2,287.0 C521.8,285.8 522.2,284.5 523.1,283.2 C524.1,282.0 525.7,281.0 526.9,279.5 C528.0,278.0 529.2,276.2 530.0,274.5 C530.8,272.8 531.4,271.2 531.9,269.5 C532.4,267.8 532.9,265.9 533.1,264.5 C533.3,263.1 533.1,261.4 533.1,261.4 C533.1,261.4 523.8,261.4 523.8,261.4Z" fill="#bdbdbd"/>
<path d="M523.8,261.4C523.8,261.4 522.7,263.4 521.9,264.5C521.0,265.6 519.6,267.0 518.8,268.2C517.9,269.5 517.4,270.8 516.9,272.0C516.4,273.2 515.9,274.5 515.6,275.8C515.3,277.0 515.6,278.7 515.0,279.5C514.4,280.3 512.5,280.2 511.9,280.8C511.2,281.3 510.8,282.0 511.0,282.6C511.2,283.2 512.2,284.0 513.1,284.5C514.0,285.0 515.8,285.0 516.2,285.8C516.7,286.5 515.5,287.9 515.6,288.9C515.7,289.8 516.1,291.1 516.9,291.4C517.6,291.7 519.3,291.5 520.0,290.8C520.7,290.0 520.7,288.2 521.2,287.0C521.8,285.8 522.2,284.5 523.1,283.2C524.1,282.0 525.7,281.0 526.9,279.5C528.0,278.0 529.2,276.2 530.0,274.5C530.8,272.8 531.4,271.2 531.9,269.5C532.4,267.8 532.9,265.9 533.1,264.5C533.3,263.1 533.1,261.4 533.1,261.4" fill="none" stroke="#777" stroke-width="0.5" stroke-linejoin="round"/>
<path d="M506.5,275.8 C506.7,274.7 507.5,272.8 508.1,272.6 C508.7,272.4 509.7,273.5 510.0,274.5 C510.3,275.5 510.1,277.8 509.8,278.9 C509.4,279.9 508.6,280.8 508.1,280.8 C507.6,280.8 507.1,279.7 506.9,278.9 C506.6,278.0 506.3,276.8 506.5,275.8Z" fill="#bdbdbd" stroke="#777" stroke-width="0.5" stroke-linejoin="round"/>
<path d="M534.8,332.0 C534.9,330.9 535.7,330.4 536.2,330.5 C536.8,330.6 537.7,331.5 538.1,332.6 C538.5,333.7 538.8,337.0 538.8,337.0 C538.8,337.0 535.6,337.0 535.6,337.0 C535.6,337.0 534.6,333.1 534.8,332.0Z" fill="#bdbdbd"/>
<path d="M534.8,332.0C534.9,330.9 535.7,330.4 536.2,330.5C536.8,330.6 537.7,331.5 538.1,332.6C538.5,333.7 538.8,337.0 538.8,337.0M535.6,337.0C535.6,337.0 534.6,333.1 534.8,332.0" fill="none" stroke="#777" stroke-width="0.5" stroke-linejoin="round"/>
<path d="M464.5,43.8 C464.5,43.8 555.0,43.8 555.0,43.8 C555.0,43.8 554.3,51.5 554.0,55.0 C553.7,58.5 553.2,62.3 553.2,65.0 C553.2,67.7 554.6,69.7 554.0,71.2 C553.4,72.8 551.5,73.5 549.5,74.5 C547.5,75.5 544.2,75.9 542.0,77.0 C539.8,78.1 538.0,79.3 536.5,81.2 C535.0,83.2 534.2,86.0 533.2,88.8 C532.3,91.5 531.4,94.6 530.8,97.5 C530.1,100.4 530.5,104.0 529.5,106.2 C528.5,108.5 526.1,109.8 524.5,111.2 C522.9,112.7 520.2,113.3 520.0,115.0 C519.8,116.7 522.0,119.0 523.2,121.2 C524.5,123.5 526.2,126.0 527.5,128.8 C528.8,131.5 530.1,134.8 530.8,137.5 C531.4,140.2 531.1,142.5 531.5,145.0 C531.9,147.5 532.3,150.0 533.2,152.5 C534.2,155.0 536.0,157.9 537.0,160.0 C538.0,162.1 539.9,163.3 539.5,165.0 C539.1,166.7 536.6,168.3 534.5,170.0 C532.4,171.7 529.5,173.8 527.0,175.0 C524.5,176.2 521.4,176.2 519.5,177.5 C517.6,178.8 516.8,180.4 515.8,182.5 C514.7,184.6 513.2,190.0 513.2,190.0 C513.2,190.0 464.5,190.0 464.5,190.0 C464.5,190.0 464.5,43.8 464.5,43.8Z" fill="#1e78eb"/>
<path d="M527.5,180.0 C527.5,178.9 531.9,175.2 534.5,173.8 C537.1,172.3 541.0,171.2 543.2,171.2 C545.5,171.2 548.5,172.7 548.2,173.8 C548.0,174.8 544.3,176.4 542.0,177.5 C539.7,178.6 536.9,180.1 534.5,180.5 C532.1,180.9 527.5,181.1 527.5,180.0Z" fill="#1e78eb"/>
<path d="M637.0,190.0 C637.0,190.0 642.5,185.4 644.5,183.8 C646.5,182.1 647.5,181.6 649.0,180.0 C650.5,178.4 651.9,175.8 653.2,174.0 C654.6,172.2 655.9,170.3 657.2,169.2 C658.6,168.2 660.2,167.5 661.2,167.8 C662.2,168.0 663.1,169.9 663.2,171.0 C663.4,172.1 661.6,173.8 662.0,174.5 C662.4,175.2 663.9,175.6 665.5,175.0 C667.1,174.4 669.8,172.5 671.5,171.0 C673.2,169.5 674.0,167.1 675.8,165.8 C677.5,164.4 682.0,163.0 682.0,163.0 C682.0,163.0 682.0,190.0 682.0,190.0 C682.0,190.0 637.0,190.0 637.0,190.0Z" fill="#1e78eb"/>
<path d="M398.5,415.0 C398.7,414.3 400.0,413.7 401.2,413.5 C402.5,413.3 404.7,413.5 406.2,414.0 C407.8,414.5 409.7,415.4 410.6,416.2 C411.6,417.1 412.2,418.8 411.9,419.4 C411.6,420.0 410.1,420.1 408.8,420.0 C407.4,419.9 405.2,419.4 403.8,419.0 C402.3,418.6 400.9,418.2 400.0,417.5 C399.1,416.8 398.3,415.7 398.5,415.0Z" fill="#1e78eb"/>
<path d="M427.5,419.4 C427.7,418.8 429.1,418.2 430.0,418.1 C430.9,418.1 432.5,418.5 433.1,419.0 C433.8,419.5 434.2,420.6 434.0,421.2 C433.8,421.9 432.8,422.6 431.9,422.8 C431.0,422.9 429.5,422.4 428.8,421.9 C428.0,421.3 427.3,420.0 427.5,419.4Z" fill="#1e78eb"/>
<path d="M488.8,187.4 C488.8,187.4 489.5,190.2 490.0,191.8 C490.5,193.3 491.1,195.4 491.9,196.8 C492.7,198.1 494.5,198.8 494.8,199.9 C495.0,200.9 494.1,202.1 493.1,203.0 C492.1,203.9 490.1,204.6 488.8,205.5 C487.4,206.4 486.1,207.5 485.0,208.6 C483.9,209.8 482.1,211.8 481.9,212.4 C481.7,213.0 482.8,212.9 483.8,212.4 C484.7,211.9 486.1,210.2 487.5,209.2 C488.9,208.3 490.4,207.6 491.9,206.8 C493.3,205.9 495.0,204.8 496.2,204.0 C497.5,203.2 498.1,202.8 499.4,202.2 C500.6,201.7 502.2,201.2 503.8,200.5 C505.3,199.8 507.2,199.1 508.8,198.0 C510.3,196.9 512.1,195.4 513.1,193.6 C514.2,191.9 515.0,187.4 515.0,187.4 C515.0,187.4 488.8,187.4 488.8,187.4Z" fill="#1e78eb"/>
<path d="M482.5,218.0 C483.6,216.8 484.8,215.4 486.2,214.2 C487.7,213.1 489.4,211.9 491.2,211.1 C493.1,210.4 495.4,210.0 497.5,209.9 C499.6,209.8 501.9,210.1 503.8,210.5 C505.6,210.9 507.5,211.4 508.8,212.4 C510.0,213.3 510.2,215.2 511.2,216.1 C512.3,217.1 513.5,217.3 515.0,218.0 C516.5,218.7 518.4,219.5 520.0,220.5 C521.6,221.5 523.4,222.8 524.4,224.2 C525.3,225.7 525.5,227.6 525.6,229.2 C525.7,230.9 525.5,232.8 525.0,234.2 C524.5,235.7 523.2,236.5 522.5,238.0 C521.8,239.5 521.2,241.3 520.6,243.0 C520.0,244.7 519.7,246.5 518.8,248.0 C517.8,249.5 516.4,250.7 515.0,251.8 C513.6,252.8 512.1,253.5 510.6,254.2 C509.2,255.0 507.6,255.5 506.2,256.1 C504.9,256.8 503.5,256.9 502.5,258.0 C501.5,259.1 500.0,263.0 500.0,263.0 C500.0,263.0 498.8,263.0 498.8,263.0 C498.8,263.0 498.0,259.7 498.1,258.0 C498.2,256.3 498.6,254.5 499.4,253.0 C500.1,251.5 501.8,250.5 502.5,249.2 C503.2,248.0 504.1,246.4 503.8,245.5 C503.4,244.6 502.1,244.0 500.6,243.6 C499.2,243.2 497.0,242.9 495.0,243.0 C493.0,243.1 490.8,243.8 488.8,244.2 C486.7,244.7 484.6,245.1 482.5,245.5 C480.4,245.9 477.9,246.7 476.2,246.8 C474.6,246.8 472.8,246.8 472.5,245.8 C472.2,244.7 473.8,242.2 474.4,240.5 C475.0,238.8 475.8,237.2 476.0,235.5 C476.2,233.8 475.4,232.2 475.5,230.5 C475.6,228.8 476.2,227.0 476.9,225.5 C477.6,224.0 478.8,223.0 479.8,221.8 C480.7,220.5 481.4,219.2 482.5,218.0Z" fill="#1e78eb"/>
<path d="M576.2,212.4 C576.2,212.4 573.8,213.0 572.5,213.6 C571.2,214.2 570.0,215.0 568.8,216.1 C567.5,217.3 566.0,218.9 565.0,220.5 C564.0,222.1 563.8,224.0 562.5,225.5 C561.2,227.0 559.2,228.3 557.5,229.2 C555.8,230.2 554.2,230.5 552.5,231.1 C550.8,231.8 548.8,232.2 547.5,233.0 C546.2,233.8 545.7,234.9 545.0,236.1 C544.3,237.4 543.6,238.9 543.1,240.5 C542.6,242.1 542.2,243.6 541.9,245.5 C541.6,247.4 541.6,249.7 541.2,251.8 C540.9,253.8 540.3,256.1 540.0,258.0 C539.7,259.9 539.4,263.0 539.4,263.0 C539.4,263.0 576.2,263.0 576.2,263.0 C576.2,263.0 576.2,212.4 576.2,212.4Z" fill="#1e78eb"/>
<path d="M472.5,254.9 C473.1,254.1 474.1,252.7 475.0,252.0 C475.9,251.3 477.0,251.0 478.1,250.9 C479.2,250.8 480.8,250.9 481.5,251.5 C482.2,252.1 481.9,253.2 482.2,254.2 C482.6,255.3 483.3,256.5 483.8,258.0 C484.2,259.5 485.0,263.0 485.0,263.0 C485.0,263.0 473.8,263.0 473.8,263.0 C473.8,263.0 474.8,259.7 474.4,258.6 C474.0,257.6 471.6,257.4 471.2,256.8 C470.9,256.1 471.9,255.7 472.5,254.9Z" fill="#1e78eb"/>
<path d="M540.0,261.4 C540.0,261.4 537.6,263.8 536.9,265.1 C536.1,266.5 535.5,267.9 535.6,269.5 C535.7,271.1 536.8,273.0 537.5,274.5 C538.2,276.0 539.2,277.2 540.0,278.2 C540.8,279.3 541.7,280.5 542.5,280.8 C543.3,281.0 544.2,279.3 545.0,279.5 C545.8,279.7 547.3,281.1 547.5,282.0 C547.7,282.9 547.3,284.4 546.2,285.1 C545.2,285.9 542.9,286.0 541.2,286.4 C539.6,286.8 537.9,287.1 536.2,287.6 C534.6,288.1 532.6,288.7 531.2,289.5 C529.9,290.3 528.4,291.6 528.1,292.6 C527.8,293.7 528.6,294.9 529.4,295.8 C530.1,296.6 532.4,296.8 532.5,297.6 C532.6,298.5 530.9,299.7 530.0,300.8 C529.1,301.8 527.5,302.8 526.9,303.9 C526.2,304.9 525.9,306.0 526.2,307.0 C526.6,308.0 527.5,309.4 528.8,310.1 C530.0,310.9 532.1,311.2 533.8,311.4 C535.4,311.6 537.1,311.6 538.8,311.4 C540.4,311.2 542.3,310.5 543.8,310.1 C545.2,309.7 546.5,308.7 547.5,308.9 C548.5,309.1 549.2,310.2 550.0,311.4 C550.8,312.5 552.5,314.7 552.5,315.8 C552.5,316.8 551.0,317.4 550.0,317.6 C549.0,317.8 547.5,316.8 546.2,317.0 C545.0,317.2 543.8,318.2 542.5,318.9 C541.2,319.5 539.5,320.0 538.8,320.8 C538.0,321.5 537.8,322.2 538.1,323.2 C538.4,324.3 539.9,325.6 540.6,327.0 C541.4,328.4 541.8,329.7 542.5,331.4 C543.2,333.0 545.0,337.0 545.0,337.0 C545.0,337.0 576.2,337.0 576.2,337.0 C576.2,337.0 576.2,261.4 576.2,261.4 C576.2,261.4 540.0,261.4 540.0,261.4Z" fill="#1e78eb"/>
<path d="M473.8,261.4 C473.8,261.4 475.2,263.4 476.2,263.9 C477.3,264.4 479.0,264.7 480.0,264.5 C481.0,264.3 482.0,263.1 482.5,262.6 C483.0,262.1 483.1,261.4 483.1,261.4 C483.1,261.4 473.8,261.4 473.8,261.4Z" fill="#1e78eb"/>
<path d="M574.9,189.0 L681.2,189.0 L681.2,263.0 L574.9,263.0Z" fill="#1e78eb"/>
<path d="M574.4,278.0 C574.4,278.0 577.4,277.2 578.8,277.2 C580.1,277.3 581.2,277.7 582.5,278.2 C583.8,278.8 585.3,279.7 586.2,280.8 C587.2,281.8 587.6,283.1 588.1,284.5 C588.6,285.9 588.9,287.5 589.4,288.9 C589.9,290.2 590.1,291.5 591.2,292.6 C592.4,293.8 594.6,294.7 596.2,295.8 C597.9,296.8 599.6,297.6 601.2,298.9 C602.9,300.1 604.6,301.9 606.2,303.2 C607.9,304.6 609.8,306.1 611.2,307.0 C612.7,307.9 614.0,308.0 615.0,308.9 C616.0,309.7 617.0,310.6 617.5,312.0 C618.0,313.4 618.1,315.5 618.1,317.0 C618.1,318.5 617.0,319.9 617.5,320.8 C618.0,321.6 619.6,321.8 621.2,322.0 C622.9,322.2 625.8,322.0 627.5,321.8 C629.2,321.5 630.2,320.5 631.2,320.8 C632.3,321.0 633.2,322.0 633.8,323.2 C634.3,324.5 634.2,326.7 634.4,328.2 C634.6,329.8 634.5,331.5 635.0,332.6 C635.5,333.8 636.7,334.4 637.5,335.1 C638.3,335.9 640.0,337.0 640.0,337.0 C640.0,337.0 650.0,337.0 650.0,337.0 C650.0,337.0 648.3,333.5 647.5,332.0 C646.7,330.5 645.7,329.5 645.0,328.2 C644.3,327.0 643.5,326.0 643.1,324.5 C642.7,323.0 642.7,321.2 642.5,319.5 C642.3,317.8 641.9,316.0 641.9,314.5 C641.9,313.0 642.0,311.6 642.5,310.8 C643.0,309.9 643.8,309.6 645.0,309.5 C646.2,309.4 648.3,309.7 650.0,310.1 C651.7,310.5 653.9,311.1 655.0,312.0 C656.1,312.9 656.7,314.3 656.9,315.8 C657.1,317.2 656.6,319.3 656.2,320.8 C655.9,322.2 654.8,323.5 655.0,324.5 C655.2,325.5 656.2,325.9 657.5,327.0 C658.8,328.1 660.8,330.1 662.5,331.4 C664.2,332.6 666.0,333.6 667.5,334.5 C669.0,335.4 671.2,337.0 671.2,337.0 C671.2,337.0 675.0,337.0 675.0,337.0 C675.0,337.0 674.6,334.1 675.0,332.0 C675.4,329.9 676.9,327.0 677.5,324.5 C678.1,322.0 678.4,319.5 678.8,317.0 C679.1,314.5 679.6,311.6 679.4,309.5 C679.2,307.4 678.6,305.8 677.5,304.5 C676.4,303.2 674.2,302.5 672.5,302.0 C670.8,301.5 669.2,301.3 667.5,301.4 C665.8,301.5 664.2,302.5 662.5,302.6 C660.8,302.7 659.0,302.5 657.5,302.0 C656.0,301.5 654.0,300.4 653.8,299.5 C653.5,298.6 655.5,297.5 656.2,296.4 C657.0,295.2 657.3,293.6 658.1,292.6 C659.0,291.7 661.1,291.2 661.2,290.8 C661.4,290.3 659.8,289.9 658.8,290.1 C657.7,290.3 656.5,291.4 655.0,292.0 C653.5,292.6 651.6,293.7 650.0,293.9 C648.4,294.1 646.9,293.7 645.6,293.2 C644.4,292.8 643.4,292.1 642.5,291.4 C641.6,290.6 640.3,289.9 640.0,288.9 C639.7,287.8 640.2,286.2 640.6,285.1 C641.0,284.1 641.8,283.4 642.5,282.6 C643.2,281.9 643.8,281.2 645.0,280.8 C646.2,280.3 648.5,280.8 650.0,280.1 C651.5,279.5 652.8,278.1 653.8,277.0 C654.7,275.9 655.6,274.3 655.6,273.2 C655.6,272.2 654.9,271.5 653.8,270.8 C652.6,270.0 650.4,269.5 648.8,268.9 C647.1,268.2 645.2,267.7 643.8,267.0 C642.3,266.3 640.8,265.4 640.0,264.5 C639.2,263.6 638.8,261.4 638.8,261.4 C638.8,261.4 574.4,261.4 574.4,261.4 C574.4,261.4 574.4,278.0 574.4,278.0Z" fill="#1e78eb"/>
<path d="M605.2,313.2 C605.0,312.4 606.8,310.4 607.5,309.5 C608.2,308.6 608.5,307.6 609.4,307.6 C610.2,307.6 611.6,308.9 612.5,309.5 C613.4,310.1 615.0,310.6 615.0,311.4 C615.0,312.1 613.5,313.4 612.5,313.9 C611.5,314.4 610.0,314.6 608.8,314.5 C607.5,314.4 605.5,314.1 605.2,313.2Z" fill="#1e78eb"/>
<path d="M588.5,310.1 C588.7,309.6 589.4,308.8 590.0,308.9 C590.6,308.9 591.7,309.9 591.9,310.5 C592.0,311.1 591.5,312.3 591.0,312.6 C590.5,312.9 589.4,312.7 589.0,312.2 C588.6,311.8 588.3,310.7 588.5,310.1Z" fill="#1e78eb"/>
<path d="M574.4,318.9 C574.4,318.9 577.8,318.3 580.0,318.2 C582.2,318.2 585.0,318.4 587.5,318.5 C590.0,318.6 592.7,318.9 595.0,318.9 C597.3,318.8 599.6,317.9 601.2,318.2 C602.9,318.6 604.2,319.7 605.0,320.8 C605.8,321.8 606.2,323.0 606.2,324.5 C606.2,326.0 605.1,327.9 605.0,329.5 C604.9,331.1 605.7,332.6 605.6,333.9 C605.5,335.1 604.4,337.0 604.4,337.0 C604.4,337.0 574.4,337.0 574.4,337.0 C574.4,337.0 574.4,318.9 574.4,318.9Z" fill="#1e78eb"/>
<path d="M655.2,282.0 C655.4,281.6 656.5,281.2 656.9,281.4 C657.3,281.5 657.9,282.6 657.8,283.0 C657.6,283.4 656.7,284.2 656.2,284.0 C655.8,283.8 655.1,282.4 655.2,282.0Z" fill="#1e78eb"/>
<path d="M662.8,286.4 C662.9,286.0 664.4,285.6 665.0,285.8 C665.6,285.9 666.4,286.7 666.2,287.0 C666.1,287.3 664.6,287.9 664.0,287.8 C663.4,287.6 662.6,286.7 662.8,286.4Z" fill="#1e78eb"/>
<path d="M139.0,202.5 C139.0,202.5 142.1,202.3 143.0,203.0 C143.9,203.7 144.7,205.7 144.5,206.8 C144.3,207.8 142.9,208.8 142.0,209.2 C141.1,209.7 139.0,209.2 139.0,209.2 C139.0,209.2 139.0,202.5 139.0,202.5Z" fill="#1e78eb"/>
<path d="M139.0,214.2 C139.0,214.2 143.6,214.3 145.0,215.0 C146.4,215.7 147.6,217.4 147.5,218.5 C147.4,219.6 145.9,221.2 144.5,221.8 C143.1,222.3 139.0,221.8 139.0,221.8 C139.0,221.8 139.0,214.2 139.0,214.2Z" fill="#1e78eb"/>
<path d="M142.5,230.5 C142.7,228.6 144.6,226.8 146.2,225.5 C147.9,224.2 150.7,222.8 152.5,223.0 C154.3,223.2 156.4,225.1 157.0,226.8 C157.6,228.4 157.2,231.5 156.2,233.0 C155.3,234.5 153.1,235.4 151.2,236.0 C149.4,236.6 146.5,237.7 145.0,236.8 C143.5,235.8 142.3,232.4 142.5,230.5Z" fill="#1e78eb"/>
<path d="M153.8,256.8 C154.4,254.5 155.0,251.3 156.2,249.2 C157.5,247.2 159.4,244.7 161.2,244.2 C163.1,243.8 166.0,245.2 167.5,246.8 C169.0,248.3 170.2,251.0 170.5,253.5 C170.8,256.0 170.4,259.5 169.5,261.8 C168.6,264.0 166.8,265.3 165.0,266.8 C163.2,268.2 160.6,270.1 158.8,270.5 C156.9,270.9 154.8,270.5 153.8,269.2 C152.7,268.0 152.5,265.1 152.5,263.0 C152.5,260.9 153.1,259.0 153.8,256.8Z" fill="#1e78eb"/>
<path d="M148.0,286.8 C148.2,284.9 149.7,282.2 151.2,280.5 C152.8,278.8 155.7,276.8 157.5,276.8 C159.3,276.7 161.6,278.3 162.0,280.0 C162.4,281.7 161.2,284.9 160.0,286.8 C158.8,288.6 156.7,290.2 155.0,291.0 C153.3,291.8 151.2,292.5 150.0,291.8 C148.8,291.0 147.8,288.6 148.0,286.8Z" fill="#1e78eb"/>
<path d="M139.0,300.0 C139.0,300.0 141.7,299.9 142.5,300.5 C143.3,301.1 144.0,302.7 143.8,303.5 C143.5,304.3 142.0,305.2 141.2,305.5 C140.5,305.8 139.0,305.5 139.0,305.5 C139.0,305.5 139.0,300.0 139.0,300.0Z" fill="#1e78eb"/>
<path d="M340.0,335.4 C340.0,335.4 341.1,338.4 341.9,339.8 C342.6,341.1 343.5,342.1 344.4,343.5 C345.2,344.9 346.0,346.4 346.9,347.9 C347.7,349.3 348.5,351.0 349.4,352.2 C350.2,353.5 350.9,354.8 351.9,355.4 C352.8,356.0 354.3,356.5 355.0,356.0 C355.7,355.5 355.9,353.4 356.2,352.2 C356.6,351.1 356.5,349.9 356.9,349.1 C357.3,348.4 358.0,348.0 358.8,347.9 C359.5,347.8 360.4,347.9 361.2,348.5 C362.1,349.1 362.9,350.6 363.8,351.6 C364.6,352.7 365.3,353.9 366.2,354.8 C367.2,355.6 368.4,356.5 369.4,356.6 C370.3,356.7 371.4,356.3 371.9,355.4 C372.4,354.4 372.6,352.5 372.5,351.0 C372.4,349.5 371.8,348.1 371.2,346.6 C370.7,345.2 369.9,343.6 369.4,342.2 C368.9,340.9 368.5,339.6 368.1,338.5 C367.7,337.4 366.9,335.4 366.9,335.4 C366.9,335.4 340.0,335.4 340.0,335.4Z" fill="#1e78eb"/>
<path d="M543.1,335.4 C543.1,335.4 543.6,338.5 544.4,339.8 C545.1,341.0 546.1,342.1 547.5,342.9 C548.9,343.6 550.9,343.6 552.5,344.1 C554.1,344.6 555.6,345.3 556.9,346.0 C558.1,346.7 558.9,347.7 560.0,348.5 C561.1,349.3 562.4,350.1 563.8,351.0 C565.1,351.9 566.7,353.1 568.1,354.1 C569.6,355.2 571.1,356.1 572.5,357.2 C573.9,358.4 575.3,359.5 576.2,361.0 C577.2,362.5 577.5,364.4 578.1,366.0 C578.8,367.6 579.1,369.1 580.0,370.4 C580.9,371.6 582.3,372.8 583.8,373.5 C585.2,374.2 587.1,374.8 588.8,374.8 C590.4,374.8 592.1,373.5 593.8,373.5 C595.4,373.5 597.3,375.0 598.8,374.8 C600.2,374.5 601.2,373.2 602.5,372.2 C603.8,371.3 604.8,369.9 606.2,369.1 C607.7,368.4 611.2,367.9 611.2,367.9 C611.2,367.9 611.2,335.4 611.2,335.4 C611.2,335.4 543.1,335.4 543.1,335.4Z" fill="#1e78eb"/>
<path d="M635.4,329.0 C635.4,329.0 637.0,332.9 638.4,334.0 C639.7,335.2 641.9,334.9 643.4,336.1 C644.9,337.2 646.3,340.6 647.5,341.1 C648.7,341.6 649.3,338.9 650.5,339.1 C651.7,339.3 653.2,340.8 654.5,342.1 C655.9,343.5 656.9,345.7 658.6,347.2 C660.3,348.7 662.8,349.7 664.6,351.2 C666.5,352.7 668.0,354.7 669.7,356.3 C671.4,357.8 673.2,359.0 674.7,360.3 C676.3,361.6 677.6,363.0 678.8,364.3 C680.0,365.7 681.8,368.4 681.8,368.4 C681.8,368.4 681.8,329.0 681.8,329.0 C681.8,329.0 635.4,329.0 635.4,329.0Z" fill="#1e78eb"/>
<path d="M158.1,44.5 C158.1,44.5 160.3,48.8 161.9,50.8 C163.4,52.7 165.7,54.4 167.5,56.4 C169.3,58.4 170.7,60.2 172.5,62.6 C174.3,65.0 177.4,68.6 178.1,70.8 C178.9,72.9 176.8,74.1 176.9,75.8 C177.0,77.4 177.8,79.2 178.8,80.8 C179.7,82.3 181.0,84.3 182.5,85.1 C184.0,86.0 186.5,86.3 187.5,85.8 C188.5,85.2 187.9,82.3 188.8,82.0 C189.6,81.7 191.2,83.7 192.5,83.9 C193.8,84.1 195.5,84.0 196.2,83.2 C197.0,82.5 196.0,80.4 196.9,79.5 C197.7,78.6 199.8,77.6 201.2,77.6 C202.7,77.6 205.0,78.1 205.6,79.5 C206.2,80.9 205.3,83.7 205.0,85.8 C204.7,87.8 203.9,90.0 203.8,92.0 C203.6,94.0 203.5,96.0 204.4,97.6 C205.2,99.3 207.0,101.1 208.8,102.0 C210.5,102.9 213.3,103.0 215.0,103.2 C216.7,103.5 217.5,102.6 218.8,103.2 C220.0,103.9 221.5,105.5 222.5,107.0 C223.5,108.5 224.7,110.3 225.0,112.0 C225.3,113.7 224.4,117.0 224.4,117.0 C224.4,117.0 246.2,117.0 246.2,117.0 C246.2,117.0 246.2,44.5 246.2,44.5 C246.2,44.5 158.1,44.5 158.1,44.5Z" fill="#1e78eb"/>
<path d="M148.8,49.5 C149.3,48.8 150.3,48.1 151.2,48.0 C152.2,47.9 153.8,48.2 154.4,48.9 C155.0,49.5 155.1,50.9 155.0,52.0 C154.9,53.1 154.5,54.9 153.8,55.8 C153.0,56.6 151.6,57.1 150.6,57.0 C149.7,56.9 148.6,56.0 148.1,55.1 C147.6,54.3 147.6,52.9 147.8,52.0 C147.9,51.1 148.2,50.2 148.8,49.5Z" fill="#1e78eb"/>
<path d="M166.0,67.6 C166.5,66.8 168.0,66.6 168.8,67.0 C169.5,67.4 170.4,69.0 170.6,70.1 C170.8,71.3 170.5,73.1 170.0,73.9 C169.5,74.6 168.2,75.1 167.5,74.8 C166.8,74.4 165.9,73.2 165.6,72.0 C165.4,70.8 165.5,68.5 166.0,67.6Z" fill="#1e78eb"/>
<path d="M182.5,94.5 C183.0,94.4 185.3,95.1 186.2,95.5 C187.2,95.9 188.3,96.5 188.1,96.8 C187.9,97.0 185.8,97.1 185.0,97.0 C184.2,96.9 183.5,96.4 183.1,96.0 C182.7,95.6 182.0,94.6 182.5,94.5Z" fill="#1e78eb"/>
<path d="M224.4,115.4 C224.4,115.4 226.2,117.5 227.5,118.5 C228.8,119.5 230.6,120.9 231.9,121.6 C233.1,122.4 234.0,122.9 235.0,122.9 C236.0,122.9 237.1,122.2 238.1,121.6 C239.2,121.0 239.9,119.9 241.2,119.1 C242.6,118.4 246.2,117.2 246.2,117.2 C246.2,117.2 246.2,115.4 246.2,115.4 C246.2,115.4 224.4,115.4 224.4,115.4Z" fill="#1e78eb"/>
<path d="M244.4,115.4 C244.4,115.4 356.2,115.4 356.2,115.4 C356.2,115.4 356.2,191.0 356.2,191.0 C356.2,191.0 257.5,191.0 257.5,191.0 C257.5,191.0 258.8,187.5 258.8,186.0 C258.8,184.5 257.4,183.7 257.5,182.2 C257.6,180.8 259.4,178.9 259.5,177.2 C259.6,175.6 258.5,173.9 258.2,172.2 C258.0,170.6 257.5,168.9 257.8,167.2 C258.0,165.6 259.5,163.8 260.0,162.2 C260.5,160.7 260.7,159.3 260.6,157.9 C260.6,156.4 260.3,155.1 259.8,153.5 C259.2,151.9 258.3,149.9 257.5,148.5 C256.7,147.1 256.0,145.9 255.0,145.0 C254.0,144.1 252.5,144.0 251.2,142.9 C250.0,141.8 248.5,140.1 247.5,138.5 C246.5,136.9 245.5,134.5 245.0,133.5 C244.5,132.5 244.4,132.2 244.4,132.2 C244.4,132.2 244.4,115.4 244.4,115.4Z" fill="#1e78eb"/>
<path d="M258.1,189.4 C258.1,189.4 259.4,192.2 260.0,193.8 C260.6,195.3 261.7,197.1 261.9,198.8 C262.1,200.4 261.6,202.1 261.2,203.8 C260.9,205.4 259.8,207.2 260.0,208.8 C260.2,210.3 261.5,212.0 262.5,213.1 C263.5,214.3 265.0,214.6 266.2,215.6 C267.5,216.7 268.8,218.2 270.0,219.4 C271.2,220.5 272.5,221.5 273.8,222.5 C275.0,223.5 276.2,224.6 277.5,225.6 C278.8,226.7 280.3,227.5 281.2,228.8 C282.2,230.0 282.5,231.8 283.1,233.1 C283.8,234.5 284.3,235.7 285.0,236.9 C285.7,238.0 286.9,238.6 287.5,240.0 C288.1,241.4 288.1,243.3 288.8,245.0 C289.4,246.7 290.2,248.5 291.2,250.0 C292.3,251.5 293.5,252.8 295.0,253.8 C296.5,254.7 298.1,255.4 300.0,255.6 C301.9,255.8 304.4,255.0 306.2,255.0 C308.1,255.0 310.1,254.9 311.2,255.6 C312.4,256.4 312.9,257.8 313.1,259.4 C313.3,260.9 312.5,265.0 312.5,265.0 C312.5,265.0 356.2,265.0 356.2,265.0 C356.2,265.0 356.2,189.4 356.2,189.4 C356.2,189.4 258.1,189.4 258.1,189.4Z" fill="#1e78eb"/>
<path d="M313.1,263.4 C313.1,263.4 314.1,266.6 315.0,267.8 C315.9,268.9 317.9,269.2 318.8,270.2 C319.6,271.3 319.0,272.8 320.0,274.0 C321.0,275.2 323.5,276.5 325.0,277.8 C326.5,279.0 327.5,280.2 328.8,281.5 C330.0,282.8 331.2,284.1 332.5,285.2 C333.8,286.4 335.0,287.5 336.2,288.4 C337.5,289.2 338.8,289.8 340.0,290.2 C341.2,290.7 342.3,290.7 343.8,290.9 C345.2,291.1 346.7,291.7 348.8,291.5 C350.8,291.3 356.2,289.6 356.2,289.6 C356.2,289.6 356.2,263.4 356.2,263.4 C356.2,263.4 313.1,263.4 313.1,263.4Z" fill="#1e78eb"/>
<path d="M304.0,275.2 C304.2,274.5 305.1,273.2 306.2,272.8 C307.4,272.3 309.5,272.2 310.6,272.5 C311.8,272.8 312.9,273.8 313.1,274.6 C313.3,275.5 312.7,276.9 311.9,277.5 C311.0,278.1 309.3,278.4 308.1,278.4 C307.0,278.4 305.7,278.0 305.0,277.5 C304.3,277.0 303.8,276.0 304.0,275.2Z" fill="#1e78eb"/>
<path d="M335.0,296.8 C336.2,296.2 338.3,296.8 340.0,297.1 C341.7,297.5 343.4,298.3 345.0,299.0 C346.6,299.7 347.5,300.9 349.4,301.5 C351.2,302.1 356.2,302.8 356.2,302.8 C356.2,302.8 356.2,339.0 356.2,339.0 C356.2,339.0 341.2,339.0 341.2,339.0 C341.2,339.0 340.6,336.4 340.0,335.2 C339.4,334.1 338.3,333.2 337.5,332.1 C336.7,331.1 335.8,329.1 335.0,329.0 C334.2,328.9 333.1,331.5 332.5,331.5 C331.9,331.5 331.2,330.0 331.2,329.0 C331.2,328.0 332.0,326.5 332.5,325.2 C333.0,324.0 334.3,322.8 334.4,321.5 C334.5,320.2 333.6,319.0 333.1,317.8 C332.6,316.5 331.8,315.2 331.2,314.0 C330.7,312.8 330.0,311.7 330.0,310.2 C330.0,308.8 330.8,306.9 331.2,305.2 C331.7,303.6 331.9,301.7 332.5,300.2 C333.1,298.8 333.8,297.3 335.0,296.8Z" fill="#1e78eb"/>
<path d="M354.4,44.5 L466.2,44.5 L466.2,117.0 L354.4,117.0Z" fill="#1e78eb"/>
<path d="M354.4,115.4 L466.2,115.4 L466.2,191.0 L354.4,191.0Z" fill="#1e78eb"/>
<path d="M368.1,189.4 C368.1,189.4 369.3,193.0 370.0,195.0 C370.7,197.0 371.9,199.4 372.5,201.2 C373.1,203.1 372.8,204.8 373.8,206.2 C374.7,207.7 376.5,209.2 378.1,210.0 C379.8,210.8 381.8,211.2 383.8,211.2 C385.7,211.2 388.1,210.6 390.0,210.0 C391.9,209.4 393.5,208.5 395.0,207.5 C396.5,206.5 398.2,205.2 398.8,203.8 C399.3,202.3 398.5,200.2 398.1,198.8 C397.7,197.3 396.4,196.6 396.2,195.0 C396.1,193.4 397.5,189.4 397.5,189.4 C397.5,189.4 368.1,189.4 368.1,189.4Z" fill="#1e78eb"/>
<path d="M397.5,189.4 C397.5,189.4 397.1,191.2 398.4,191.9 C399.6,192.6 403.1,193.5 405.0,193.5 C406.9,193.5 408.4,192.4 409.8,191.8 C411.1,191.1 413.2,189.4 413.2,189.4 C413.2,189.4 397.5,189.4 397.5,189.4Z" fill="#1e78eb"/>
<path d="M354.4,189.4 C354.4,189.4 364.4,189.4 364.4,189.4 C364.4,189.4 365.2,192.2 365.0,193.8 C364.8,195.3 364.0,197.5 363.1,198.8 C362.3,200.0 361.1,201.2 360.0,201.5 C358.9,201.8 357.2,200.7 356.2,200.6 C355.3,200.6 354.4,201.2 354.4,201.2 C354.4,201.2 354.4,189.4 354.4,189.4Z" fill="#1e78eb"/>
<path d="M354.4,216.9 C354.4,216.9 355.5,218.8 356.2,220.0 C357.0,221.2 357.8,222.9 358.8,224.4 C359.7,225.8 360.8,227.2 361.9,228.8 C362.9,230.3 364.0,232.0 365.0,233.8 C366.0,235.5 367.0,237.7 368.1,239.4 C369.3,241.0 370.7,242.4 371.9,243.8 C373.0,245.1 374.7,246.5 375.0,247.5 C375.3,248.5 374.6,249.8 373.8,250.0 C372.9,250.2 371.0,248.3 370.0,248.8 C369.0,249.2 368.3,251.5 367.5,252.5 C366.7,253.5 365.8,254.2 365.0,255.0 C364.2,255.8 363.1,256.5 362.5,257.5 C361.9,258.5 361.2,260.0 361.2,261.2 C361.2,262.5 362.5,265.0 362.5,265.0 C362.5,265.0 354.4,265.0 354.4,265.0 C354.4,265.0 354.4,216.9 354.4,216.9Z" fill="#1e78eb"/>
<path d="M424.4,191.9 C424.9,191.5 426.8,190.9 427.5,191.2 C428.2,191.6 429.0,193.1 428.8,193.8 C428.5,194.4 427.0,195.0 426.2,195.0 C425.5,195.0 424.7,194.3 424.4,193.8 C424.1,193.2 423.9,192.3 424.4,191.9Z" fill="#1e78eb"/>
<path d="M354.4,263.4 C354.4,263.4 367.5,263.4 367.5,263.4 C367.5,263.4 370.5,265.5 371.2,266.5 C372.0,267.5 372.2,268.8 371.9,269.6 C371.6,270.5 369.7,271.0 369.4,271.8 C369.0,272.5 369.5,273.3 369.8,274.0 C370.0,274.7 369.9,275.0 370.6,275.9 C371.4,276.7 373.3,277.9 374.4,279.0 C375.4,280.1 376.4,281.4 376.9,282.8 C377.4,284.1 377.5,285.8 377.5,287.1 C377.5,288.5 376.7,289.6 376.9,290.9 C377.1,292.1 377.8,293.6 378.8,294.6 C379.7,295.7 381.2,296.4 382.5,297.1 C383.8,297.9 385.4,298.2 386.2,299.0 C387.1,299.8 387.6,301.1 387.5,302.1 C387.4,303.2 386.6,304.6 385.6,305.2 C384.7,305.9 382.9,306.1 381.9,305.9 C380.8,305.7 379.9,304.8 379.4,304.0 C378.9,303.2 379.5,301.6 378.8,300.9 C378.0,300.1 376.5,300.1 375.0,299.6 C373.5,299.1 371.7,298.4 370.0,297.8 C368.3,297.1 366.7,296.6 365.0,295.9 C363.3,295.1 361.7,294.2 360.0,293.4 C358.3,292.5 355.9,291.4 355.0,290.9 C354.1,290.4 354.4,290.5 354.4,290.5 C354.4,290.5 354.4,263.4 354.4,263.4Z" fill="#1e78eb"/>
<path d="M377.2,270.2 C377.6,269.7 378.7,268.9 379.4,268.8 C380.0,268.6 380.9,269.1 381.2,269.6 C381.6,270.2 381.8,271.6 381.5,272.1 C381.2,272.7 380.0,273.0 379.4,273.0 C378.7,273.0 377.9,272.6 377.5,272.1 C377.1,271.7 376.9,270.8 377.2,270.2Z" fill="#1e78eb"/>
<path d="M354.4,305.2 C354.4,305.2 357.4,306.3 358.8,307.1 C360.1,308.0 361.5,309.2 362.5,310.2 C363.5,311.3 364.0,312.5 365.0,313.4 C366.0,314.2 367.5,314.7 368.8,315.2 C370.0,315.8 371.5,315.8 372.5,316.5 C373.5,317.2 374.7,318.4 375.0,319.6 C375.3,320.9 375.0,323.0 374.4,324.0 C373.8,325.0 372.4,325.7 371.2,325.9 C370.1,326.1 368.6,325.8 367.5,325.2 C366.4,324.7 365.3,323.7 364.4,322.8 C363.4,321.8 362.7,319.9 361.9,319.6 C361.0,319.3 359.9,319.9 359.4,320.9 C358.9,321.8 358.6,323.7 358.8,325.2 C358.9,326.8 359.4,328.8 360.0,330.2 C360.6,331.7 361.8,332.5 362.5,334.0 C363.2,335.5 364.4,339.0 364.4,339.0 C364.4,339.0 354.4,339.0 354.4,339.0 C354.4,339.0 354.4,305.2 354.4,305.2Z" fill="#1e78eb"/>
<path d="M574.0,191.8 C574.0,191.8 576.1,191.5 577.5,191.8 C578.9,192.0 580.6,192.8 582.5,193.0 C584.4,193.2 586.7,193.1 588.8,193.0 C590.8,192.9 592.9,192.4 595.0,192.4 C597.1,192.4 599.2,192.6 601.2,193.0 C603.3,193.4 605.6,194.4 607.5,194.9 C609.4,195.3 611.0,196.1 612.5,195.8 C614.0,195.4 615.0,194.0 616.2,193.0 C617.5,192.0 619.0,190.8 620.0,189.9 C621.0,188.9 622.1,187.4 622.1,187.4 C622.1,187.4 640.0,187.4 640.0,187.4 C640.0,187.4 638.8,190.0 637.5,191.1 C636.2,192.3 634.2,193.3 632.5,194.2 C630.8,195.2 629.2,195.9 627.5,196.8 C625.8,197.6 624.2,198.6 622.5,199.2 C620.8,199.9 619.2,200.0 617.5,200.5 C615.8,201.0 614.2,201.9 612.5,202.4 C610.8,202.9 609.2,203.9 607.5,203.6 C605.8,203.3 604.2,201.4 602.5,200.5 C600.8,199.6 599.2,198.4 597.5,198.0 C595.8,197.6 594.0,197.6 592.5,198.0 C591.0,198.4 589.0,199.5 588.8,200.5 C588.5,201.5 590.4,202.8 591.2,204.2 C592.1,205.7 594.2,208.1 593.8,209.2 C593.3,210.4 590.6,210.5 588.8,211.1 C586.9,211.8 584.4,212.8 582.5,213.0 C580.6,213.2 578.9,212.4 577.5,212.4 C576.1,212.4 574.0,213.0 574.0,213.0 C574.0,213.0 574.0,191.8 574.0,191.8Z" fill="#87cefa"/>
<path d="M464.5,178.8 C464.5,178.8 467.8,177.7 469.5,176.2 C471.2,174.8 473.2,172.3 474.5,170.0 C475.8,167.7 475.8,164.1 477.0,162.5 C478.2,160.9 480.5,160.1 482.0,160.5 C483.5,160.9 484.4,163.2 485.8,165.0 C487.1,166.8 489.0,168.8 490.0,171.2 C491.0,173.8 492.3,176.9 492.0,180.0 C491.7,183.1 488.2,190.0 488.2,190.0 C488.2,190.0 464.5,190.0 464.5,190.0 C464.5,190.0 464.5,178.8 464.5,178.8Z" fill="#87cefa"/>
<path d="M545.0,280.8 C544.9,279.6 545.5,278.2 546.2,277.6 C547.0,277.0 548.5,276.6 549.4,277.0 C550.2,277.4 551.1,279.0 551.2,280.1 C551.4,281.3 550.7,283.2 550.0,283.9 C549.3,284.6 547.7,284.8 546.9,284.2 C546.0,283.7 545.1,281.9 545.0,280.8Z" fill="#87cefa"/>
<path d="M560.2,284.5 C560.5,283.8 561.5,282.6 562.2,282.2 C563.0,281.9 564.3,282.1 565.0,282.6 C565.7,283.1 566.5,284.5 566.2,285.1 C566.0,285.8 564.6,286.2 563.8,286.4 C562.9,286.6 561.6,286.7 561.0,286.4 C560.4,286.1 560.0,285.2 560.2,284.5Z" fill="#87cefa"/>
<path d="M553.5,290.1 C553.9,289.2 555.3,288.3 556.2,288.0 C557.2,287.7 558.6,287.6 559.4,288.5 C560.1,289.4 560.6,291.6 560.6,293.2 C560.6,294.9 560.0,297.2 559.4,298.2 C558.8,299.3 557.6,300.1 556.9,299.8 C556.1,299.4 555.3,297.5 554.8,296.4 C554.2,295.3 554.0,294.3 553.8,293.2 C553.5,292.2 553.1,291.0 553.5,290.1Z" fill="#87cefa"/>
<path d="M576.2,278.2 C576.2,278.2 574.0,280.5 573.1,282.0 C572.3,283.5 571.6,285.3 571.2,287.0 C570.9,288.7 570.8,290.5 571.0,292.0 C571.2,293.5 571.6,294.8 572.5,295.8 C573.4,296.7 576.2,297.6 576.2,297.6 C576.2,297.6 576.2,278.2 576.2,278.2Z" fill="#87cefa"/>
<path d="M576.2,298.9 C576.2,298.9 573.8,299.0 572.5,299.5 C571.2,300.0 570.0,301.1 568.8,302.0 C567.5,302.9 566.1,304.0 565.0,305.1 C563.9,306.3 562.8,307.7 561.9,308.9 C560.9,310.0 559.5,311.1 559.4,312.0 C559.3,312.9 560.3,313.7 561.2,314.5 C562.2,315.3 563.8,316.3 565.0,317.0 C566.2,317.7 567.5,318.4 568.8,318.9 C570.0,319.4 571.2,319.8 572.5,320.1 C573.8,320.4 576.2,320.8 576.2,320.8 C576.2,320.8 576.2,298.9 576.2,298.9Z" fill="#87cefa"/>
<path d="M551.2,323.9 C551.5,322.7 552.7,321.7 553.8,321.4 C554.8,321.1 556.2,321.5 557.5,322.0 C558.8,322.5 560.1,323.5 561.2,324.5 C562.4,325.5 563.6,327.0 564.4,328.2 C565.1,329.5 565.5,330.5 565.6,332.0 C565.7,333.5 565.0,337.0 565.0,337.0 C565.0,337.0 556.9,337.0 556.9,337.0 C556.9,337.0 556.4,333.5 555.6,332.0 C554.9,330.5 553.2,329.6 552.5,328.2 C551.8,326.9 551.0,325.0 551.2,323.9Z" fill="#87cefa"/>
<path d="M594.4,211.1 C594.5,210.1 596.4,210.3 597.5,209.9 C598.6,209.5 600.1,209.4 601.2,208.6 C602.4,207.9 603.2,206.2 604.4,205.5 C605.5,204.8 607.1,204.0 608.1,204.2 C609.2,204.5 610.4,205.6 610.6,206.8 C610.8,207.9 610.0,209.8 609.4,211.1 C608.8,212.5 607.5,213.5 606.9,214.9 C606.2,216.2 606.2,218.1 605.6,219.2 C605.0,220.4 604.1,221.6 603.1,221.8 C602.2,221.9 601.0,220.8 600.0,219.9 C599.0,218.9 597.8,217.6 596.9,216.1 C595.9,214.7 594.3,212.2 594.4,211.1Z" fill="#87cefa"/>
<path d="M662.2,218.0 C662.5,217.1 663.8,216.1 665.0,215.8 C666.2,215.4 668.2,215.4 669.4,216.1 C670.5,216.8 671.4,218.6 671.9,219.9 C672.4,221.1 672.8,222.7 672.5,223.6 C672.2,224.6 670.9,225.5 670.0,225.5 C669.1,225.5 667.9,224.4 666.9,223.6 C665.8,222.9 664.5,222.1 663.8,221.1 C663.0,220.2 662.0,218.9 662.2,218.0Z" fill="#87cefa"/>
<path d="M681.2,228.6 C681.2,228.6 676.9,227.9 675.0,228.0 C673.1,228.1 671.7,228.7 670.0,229.2 C668.3,229.8 666.7,230.5 665.0,231.1 C663.3,231.8 661.7,232.4 660.0,233.0 C658.3,233.6 656.5,234.4 655.0,234.9 C653.5,235.4 651.6,235.2 651.2,236.1 C650.9,237.1 652.4,239.0 653.1,240.5 C653.9,242.0 654.8,243.4 655.6,244.9 C656.5,246.3 657.4,247.9 658.1,249.2 C658.9,250.6 659.8,251.9 660.0,253.0 C660.2,254.1 660.2,255.6 659.4,256.1 C658.5,256.6 656.6,256.6 655.0,256.1 C653.4,255.6 651.7,254.0 650.0,253.0 C648.3,252.0 646.7,250.7 645.0,249.9 C643.3,249.0 641.7,248.4 640.0,248.0 C638.3,247.6 636.2,247.3 635.0,247.8 C633.8,248.2 632.6,249.4 632.5,250.5 C632.4,251.6 633.5,253.0 634.4,254.2 C635.2,255.5 636.6,256.5 637.5,258.0 C638.4,259.5 640.0,263.0 640.0,263.0 C640.0,263.0 681.2,263.0 681.2,263.0 C681.2,263.0 681.2,228.6 681.2,228.6Z" fill="#87cefa"/>
<path d="M623.5,299.5 C623.7,298.0 624.5,296.7 625.6,295.8 C626.7,294.8 628.8,293.9 630.0,293.9 C631.2,293.9 632.5,294.6 633.1,295.8 C633.8,296.9 633.9,299.1 633.8,300.8 C633.6,302.4 632.9,304.1 632.5,305.8 C632.1,307.4 631.9,309.4 631.2,310.8 C630.6,312.1 629.8,313.4 628.8,313.9 C627.7,314.4 625.8,314.6 625.0,313.9 C624.2,313.1 624.1,311.1 624.0,309.5 C623.9,307.9 624.5,306.2 624.4,304.5 C624.3,302.8 623.3,301.0 623.5,299.5Z" fill="#87cefa"/>
<path d="M138.8,184.8 C138.8,184.8 140.9,184.8 141.9,185.4 C142.8,186.0 144.1,187.6 144.4,188.5 C144.7,189.4 143.8,191.0 143.8,191.0 C143.8,191.0 138.8,191.0 138.8,191.0 C138.8,191.0 138.8,184.8 138.8,184.8Z" fill="#87cefa"/>
<path d="M553.8,335.4 C553.8,335.4 554.8,338.4 555.6,339.8 C556.5,341.1 557.6,342.2 558.8,343.5 C559.9,344.8 561.2,346.1 562.5,347.2 C563.8,348.4 565.0,349.3 566.2,350.4 C567.5,351.4 569.0,352.8 570.0,353.5 C571.0,354.2 572.3,355.1 572.5,354.8 C572.7,354.4 572.0,352.7 571.2,351.6 C570.5,350.6 569.3,349.6 568.1,348.5 C567.0,347.4 565.5,346.0 564.4,344.8 C563.2,343.5 562.1,342.2 561.2,341.0 C560.4,339.8 559.8,338.2 559.4,337.2 C559.0,336.3 558.8,335.4 558.8,335.4 C558.8,335.4 553.8,335.4 553.8,335.4Z" fill="#87cefa"/>
<path d="M143.1,178.5 C143.3,177.5 144.6,176.2 145.6,175.8 C146.7,175.3 148.2,175.4 149.4,176.0 C150.5,176.6 151.4,178.3 152.5,179.1 C153.6,180.0 155.0,180.3 156.2,181.0 C157.5,181.7 159.3,182.7 160.0,183.5 C160.7,184.3 161.0,185.3 160.6,186.0 C160.2,186.7 158.6,187.9 157.5,187.9 C156.4,187.9 155.0,186.3 153.8,186.0 C152.5,185.7 151.1,186.2 150.0,186.0 C148.9,185.8 147.8,185.5 146.9,184.8 C145.9,184.0 145.0,182.7 144.4,181.6 C143.8,180.6 142.9,179.5 143.1,178.5Z" fill="#87cefa" stroke="#3a6a9a" stroke-width="0.5" stroke-linejoin="round"/>
<path d="M244.4,115.4 C244.4,115.4 254.4,115.4 254.4,115.4 C254.4,115.4 254.3,119.2 254.0,121.0 C253.7,122.8 253.3,124.8 252.5,126.0 C251.7,127.2 250.4,127.7 249.4,128.5 C248.3,129.3 247.1,130.2 246.2,130.8 C245.4,131.3 244.4,131.6 244.4,131.6 C244.4,131.6 244.4,115.4 244.4,115.4Z" fill="#87cefa"/>
<path d="M255.0,145.0 C254.3,144.1 255.2,141.1 255.6,139.8 C256.0,138.4 256.4,137.5 257.5,136.6 C258.6,135.8 260.9,134.6 262.5,134.8 C264.1,134.9 265.7,136.0 266.9,137.2 C268.0,138.5 268.4,140.8 269.4,142.2 C270.3,143.7 271.6,144.9 272.5,146.0 C273.4,147.1 274.9,148.1 275.0,149.1 C275.1,150.2 274.1,151.4 273.1,152.2 C272.2,153.1 270.4,153.4 269.4,154.1 C268.3,154.9 267.1,155.7 266.9,156.6 C266.7,157.6 267.6,158.7 268.1,159.8 C268.6,160.8 269.9,161.8 270.0,162.9 C270.1,163.9 269.5,165.2 268.8,166.0 C268.0,166.8 266.7,167.4 265.6,167.5 C264.6,167.6 263.4,167.2 262.5,166.6 C261.6,166.1 260.5,164.9 260.0,164.1 C259.5,163.4 259.3,163.3 259.4,162.2 C259.5,161.2 260.1,159.0 260.6,157.9 C261.1,156.7 261.8,156.5 262.5,155.4 C263.2,154.2 264.7,152.5 265.0,151.0 C265.3,149.5 265.2,147.6 264.4,146.6 C263.5,145.7 261.6,145.6 260.0,145.4 C258.4,145.1 255.7,145.9 255.0,145.0Z" fill="#87cefa"/>
<path d="M269.6,166.6 C269.7,166.1 270.9,165.8 271.2,166.0 C271.6,166.2 272.1,167.4 272.0,167.9 C271.9,168.4 271.0,169.3 270.6,169.1 C270.2,168.9 269.5,167.1 269.6,166.6Z" fill="#87cefa"/>
<path d="M350.0,189.4 C350.0,189.4 350.2,193.0 350.6,195.0 C351.0,197.0 351.9,199.2 352.5,201.2 C353.1,203.3 353.8,205.4 354.4,207.5 C355.0,209.6 356.2,213.8 356.2,213.8 C356.2,213.8 356.2,189.4 356.2,189.4 C356.2,189.4 350.0,189.4 350.0,189.4Z" fill="#87cefa"/>
<path d="M319.0,272.1 C319.1,271.4 320.2,270.5 321.2,270.0 C322.2,269.5 324.2,269.0 325.0,269.2 C325.8,269.5 326.5,270.5 326.2,271.2 C326.0,272.0 324.7,273.2 323.8,273.8 C322.8,274.3 321.4,274.9 320.6,274.6 C319.8,274.4 318.9,272.9 319.0,272.1Z" fill="#87cefa"/>
<path d="M340.0,330.2 C340.2,329.7 341.2,328.9 341.9,329.0 C342.5,329.1 343.9,330.2 344.0,330.9 C344.1,331.5 343.1,332.7 342.5,333.0 C341.9,333.3 341.0,333.0 340.6,332.5 C340.2,332.0 339.8,330.8 340.0,330.2Z" fill="#87cefa"/>
<path d="M354.4,44.5 C354.4,44.5 380.0,44.5 380.0,44.5 C380.0,44.5 381.1,48.2 381.9,48.9 C382.6,49.5 383.8,49.0 384.4,48.2 C385.0,47.5 385.6,44.5 385.6,44.5 C385.6,44.5 395.0,44.5 395.0,44.5 C395.0,44.5 397.2,47.8 397.5,49.5 C397.8,51.2 396.7,53.0 396.9,54.5 C397.1,56.0 397.8,57.0 398.8,58.2 C399.7,59.5 402.0,60.8 402.5,62.0 C403.0,63.2 402.9,64.8 401.9,65.8 C400.8,66.7 398.0,67.0 396.2,67.6 C394.5,68.2 392.9,68.8 391.2,69.5 C389.6,70.2 387.7,71.1 386.2,72.0 C384.8,72.9 383.6,73.9 382.5,75.1 C381.4,76.4 380.4,78.6 379.4,79.5 C378.3,80.4 377.3,81.0 376.2,80.8 C375.2,80.5 374.2,79.5 373.1,78.2 C372.1,77.0 371.1,74.9 370.0,73.2 C368.9,71.6 367.5,69.7 366.2,68.2 C365.0,66.8 363.6,65.8 362.5,64.5 C361.4,63.2 360.0,62.2 359.4,60.8 C358.8,59.3 359.5,57.0 358.8,55.8 C358.0,54.5 355.7,53.5 355.0,53.0 C354.3,52.5 354.4,52.6 354.4,52.6 C354.4,52.6 354.4,44.5 354.4,44.5Z" fill="#87cefa"/>
<path d="M403.1,62.6 C403.5,61.8 405.7,61.4 407.5,60.8 C409.3,60.1 411.7,59.3 413.8,58.9 C415.8,58.5 417.9,58.0 420.0,58.2 C422.1,58.5 424.4,59.5 426.2,60.1 C428.1,60.8 429.8,61.9 431.2,62.0 C432.7,62.1 434.2,60.6 435.0,60.8 C435.8,60.9 436.7,62.0 436.2,62.6 C435.8,63.2 434.0,63.9 432.5,64.5 C431.0,65.1 429.2,66.3 427.5,66.4 C425.8,66.5 424.4,65.1 422.5,65.1 C420.6,65.1 418.3,66.1 416.2,66.4 C414.2,66.7 411.9,67.1 410.0,67.0 C408.1,66.9 406.1,66.5 405.0,65.8 C403.9,65.0 402.7,63.5 403.1,62.6Z" fill="#87cefa"/>
<path d="M436.2,59.5 C436.7,58.6 438.5,57.7 440.0,57.2 C441.5,56.8 443.3,56.8 445.0,57.0 C446.7,57.2 448.5,57.6 450.0,58.2 C451.5,58.9 453.3,59.6 453.8,60.8 C454.2,61.9 453.1,63.9 452.5,65.1 C451.9,66.4 450.9,67.4 450.0,68.2 C449.1,69.1 447.3,69.1 446.9,70.1 C446.5,71.2 447.0,72.9 447.5,74.5 C448.0,76.1 449.2,78.0 450.0,79.5 C450.8,81.0 452.2,82.2 452.5,83.2 C452.8,84.3 452.7,85.5 451.9,86.0 C451.0,86.5 449.1,86.7 447.5,86.4 C445.9,86.0 444.2,84.6 442.5,83.9 C440.8,83.1 439.0,82.8 437.5,82.0 C436.0,81.2 434.5,80.1 433.8,78.9 C433.0,77.6 432.6,75.9 432.8,74.5 C432.9,73.1 433.5,71.7 434.4,70.8 C435.3,69.8 437.2,69.7 438.1,68.9 C439.1,68.0 440.1,66.8 440.0,65.8 C439.9,64.7 438.1,63.7 437.5,62.6 C436.9,61.6 435.8,60.4 436.2,59.5Z" fill="#87cefa"/>
<path d="M403.1,75.8 C403.5,74.9 404.9,73.8 405.6,73.9 C406.4,74.0 406.9,75.6 407.5,76.4 C408.1,77.1 409.3,77.4 409.4,78.2 C409.5,79.1 408.2,80.4 408.1,81.4 C408.0,82.3 409.2,83.2 408.8,83.9 C408.3,84.5 406.4,85.4 405.6,85.1 C404.8,84.8 404.4,83.0 404.0,82.0 C403.6,81.0 403.3,79.9 403.1,78.9 C403.0,77.8 402.7,76.6 403.1,75.8Z" fill="#87cefa"/>
<path d="M428.5,130.4 C429.1,129.6 431.0,128.5 432.5,128.2 C434.0,128.0 435.9,128.6 437.5,129.1 C439.1,129.7 440.6,130.7 441.9,131.6 C443.2,132.6 444.7,133.8 445.2,134.8 C445.8,135.7 445.7,136.8 445.0,137.5 C444.3,138.2 442.7,138.8 441.2,138.8 C439.8,138.7 437.8,137.9 436.2,137.2 C434.7,136.6 433.1,135.5 431.9,134.8 C430.6,134.0 429.3,133.6 428.8,132.9 C428.2,132.1 427.9,131.1 428.5,130.4Z" fill="#87cefa"/>
<path d="M429.4,178.5 C430.0,177.5 432.8,177.6 435.0,177.2 C437.2,176.9 440.0,176.8 442.5,176.6 C445.0,176.4 447.7,175.9 450.0,176.0 C452.3,176.1 454.8,176.5 456.2,177.2 C457.7,178.0 457.9,179.3 458.8,180.4 C459.6,181.4 460.0,183.1 461.2,183.5 C462.5,183.9 466.2,182.9 466.2,182.9 C466.2,182.9 466.2,187.9 466.2,187.9 C466.2,187.9 463.1,187.9 461.2,187.9 C459.4,187.9 456.9,188.1 455.0,187.9 C453.1,187.7 451.7,187.1 450.0,186.6 C448.3,186.1 446.7,185.2 445.0,184.8 C443.3,184.3 441.7,183.8 440.0,184.1 C438.3,184.4 436.5,186.7 435.0,186.6 C433.5,186.5 432.2,184.9 431.2,183.5 C430.3,182.1 428.8,179.5 429.4,178.5Z" fill="#87cefa"/>
<path d="M411.9,191.0 C411.9,191.0 412.6,187.2 413.8,186.0 C414.9,184.8 417.0,183.8 418.8,183.5 C420.5,183.2 423.0,183.5 424.4,184.1 C425.7,184.8 426.6,186.1 426.9,187.2 C427.2,188.4 426.2,191.0 426.2,191.0 C426.2,191.0 411.9,191.0 411.9,191.0Z" fill="#87cefa"/>
<path d="M354.4,172.2 C354.4,172.2 357.5,171.2 358.8,171.6 C360.0,172.0 360.8,173.6 361.9,174.8 C362.9,175.9 364.2,177.0 365.0,178.5 C365.8,180.0 366.5,181.4 366.9,183.5 C367.3,185.6 367.5,191.0 367.5,191.0 C367.5,191.0 354.4,191.0 354.4,191.0 C354.4,191.0 354.4,172.2 354.4,172.2Z" fill="#87cefa"/>
<path d="M570.6,308.2 C570.7,307.6 572.2,306.7 573.1,306.4 C574.1,306.1 576.2,306.4 576.2,306.4 C576.2,306.4 576.2,310.1 576.2,310.1 C576.2,310.1 573.4,310.8 572.5,310.5 C571.6,310.2 570.5,308.9 570.6,308.2Z" fill="#1e78eb"/>
<path d="M574.0,187.0 C574.0,187.0 621.9,187.0 621.9,187.0 C621.9,187.0 620.9,189.4 620.0,190.5 C619.1,191.6 617.5,192.6 616.2,193.6 C615.0,194.6 614.0,196.2 612.5,196.5 C611.0,196.8 609.4,196.0 607.5,195.5 C605.6,195.0 603.3,194.0 601.2,193.6 C599.2,193.2 597.1,193.0 595.0,193.0 C592.9,193.0 590.8,193.4 588.8,193.6 C586.7,193.8 584.4,194.4 582.5,194.2 C580.6,194.1 578.9,193.1 577.5,193.0 C576.1,192.9 574.0,193.6 574.0,193.6 C574.0,193.6 574.0,187.0 574.0,187.0Z" fill="#bdbdbd"/>
<path d="M621.9,187.0C621.9,187.0 620.9,189.4 620.0,190.5C619.1,191.6 617.5,192.6 616.2,193.6C615.0,194.6 614.0,196.2 612.5,196.5C611.0,196.8 609.4,196.0 607.5,195.5C605.6,195.0 603.3,194.0 601.2,193.6C599.2,193.2 597.1,193.0 595.0,193.0C592.9,193.0 590.8,193.4 588.8,193.6C586.7,193.8 584.4,194.4 582.5,194.2C580.6,194.1 578.9,193.1 577.5,193.0C576.1,192.9 574.0,193.6 574.0,193.6" fill="none" stroke="#777" stroke-width="0.5" stroke-linejoin="round"/>
<path d="M577.8,205.5 C578.0,204.6 579.3,203.5 580.6,203.0 C581.9,202.5 584.2,202.4 585.6,202.8 C587.0,203.1 588.6,204.0 589.0,204.9 C589.4,205.8 589.0,207.3 588.1,208.0 C587.2,208.7 585.2,209.0 583.8,209.0 C582.3,209.0 580.4,208.8 579.4,208.2 C578.4,207.7 577.5,206.4 577.8,205.5Z" fill="#bdbdbd" stroke="#777" stroke-width="0.5" stroke-linejoin="round"/>
<path d="M574.4,199.9 C574.4,199.9 576.9,199.4 578.1,199.5 C579.4,199.6 581.5,200.1 581.9,200.5 C582.3,200.9 581.6,201.7 580.6,202.0 C579.7,202.3 577.3,202.3 576.2,202.4 C575.2,202.4 574.4,202.4 574.4,202.4 C574.4,202.4 574.4,199.9 574.4,199.9Z" fill="#bdbdbd"/>
<path d="M574.4,199.9C574.4,199.9 576.9,199.4 578.1,199.5C579.4,199.6 581.5,200.1 581.9,200.5C582.3,200.9 581.6,201.7 580.6,202.0C579.7,202.3 577.3,202.3 576.2,202.4C575.2,202.4 574.4,202.4 574.4,202.4" fill="none" stroke="#777" stroke-width="0.5" stroke-linejoin="round"/>
<path d="M669.0,234.9 C669.1,234.2 670.0,233.1 670.6,233.0 C671.2,232.9 672.3,233.8 672.5,234.5 C672.7,235.2 672.3,236.6 671.9,237.0 C671.4,237.4 670.2,237.4 669.8,237.0 C669.3,236.6 668.9,235.5 669.0,234.9Z" fill="#1e78eb"/>
<path d="M678.5,246.8 C678.9,245.8 681.2,245.5 681.2,245.5 C681.2,245.5 681.2,252.0 681.2,252.0 C681.2,252.0 679.5,252.0 679.0,251.1 C678.5,250.2 678.1,247.7 678.5,246.8Z" fill="#1e78eb"/>
<path d="M589.4,203.6 C589.7,202.9 591.1,201.8 592.5,201.5 C593.9,201.2 595.9,201.8 597.5,201.8 C599.1,201.7 600.6,200.9 601.9,201.1 C603.1,201.3 604.9,202.3 605.0,203.0 C605.1,203.7 603.8,204.8 602.5,205.2 C601.2,205.7 599.0,205.2 597.5,205.5 C596.0,205.8 594.9,206.6 593.8,206.8 C592.6,206.9 591.4,206.6 590.6,206.1 C589.9,205.6 589.1,204.4 589.4,203.6Z" fill="#1423af"/>
<path d="M567.8,179.2 C567.8,179.2 568.8,179.1 569.4,179.9 C570.0,180.7 570.5,182.7 571.4,184.0 C572.4,185.3 573.8,186.8 575.0,187.8 C576.2,188.9 578.5,189.9 578.5,190.4 C578.4,190.9 574.6,190.9 574.6,190.9 C574.6,190.9 567.8,190.9 567.8,190.9 C567.8,190.9 567.8,179.2 567.8,179.2Z" fill="#ffffff"/>
<path d="M567.8,179.2C567.8,179.2 568.8,179.1 569.4,179.9C570.0,180.7 570.5,182.7 571.4,184.0C572.4,185.3 573.8,186.8 575.0,187.8C576.2,188.9 578.5,189.9 578.5,190.4C578.4,190.9 574.6,190.9 574.6,190.9" fill="none" stroke="#555" stroke-width="0.6" stroke-linejoin="round"/>
<path d="M575.0,191.8 C575.4,191.0 577.3,191.0 578.8,191.1 C580.2,191.2 582.3,192.0 583.8,192.4 C585.2,192.8 587.3,193.1 587.5,193.6 C587.7,194.1 586.2,195.0 585.0,195.2 C583.8,195.5 581.5,194.8 580.0,194.9 C578.5,194.9 577.1,196.0 576.2,195.5 C575.4,195.0 574.6,192.5 575.0,191.8Z" fill="#ffffff"/>
<path d="M666.5,255.5 C666.6,254.5 667.3,253.6 668.1,253.2 C668.9,252.9 670.5,253.0 671.2,253.6 C672.0,254.2 672.8,255.8 672.8,256.8 C672.8,257.7 672.2,259.1 671.2,259.5 C670.3,259.9 668.0,259.9 667.2,259.2 C666.5,258.6 666.4,256.5 666.5,255.5Z" fill="#bdbdbd" stroke="#666" stroke-width="0.5" stroke-linejoin="round"/>
<path d="M250.6,129.5 C250.7,128.8 252.6,128.1 253.8,128.5 C254.9,128.9 256.5,130.8 257.5,132.0 C258.5,133.2 259.9,135.5 259.8,136.0 C259.6,136.5 258.0,135.5 256.9,135.0 C255.8,134.5 254.2,133.8 253.1,132.9 C252.1,132.0 250.5,130.2 250.6,129.5Z" fill="#bdbdbd" stroke="#666" stroke-width="0.5" stroke-linejoin="round"/>
<path d="M274.4,228.8 C274.6,228.0 275.9,227.6 276.9,228.1 C277.8,228.6 279.4,230.7 280.0,231.9 C280.6,233.0 280.9,234.4 280.6,235.0 C280.3,235.6 279.0,235.7 278.1,235.2 C277.3,234.8 276.2,233.6 275.6,232.5 C275.0,231.4 274.2,229.5 274.4,228.8Z" fill="#bdbdbd" stroke="#666" stroke-width="0.5" stroke-linejoin="round"/>
<path d="M345.8,191.9 C345.9,190.8 347.0,190.3 347.5,190.6 C348.0,190.9 348.8,192.6 349.0,193.8 C349.2,194.9 348.9,197.2 348.5,197.8 C348.1,198.3 347.0,198.2 346.5,197.2 C346.0,196.3 345.6,193.0 345.8,191.9Z" fill="#bdbdbd" stroke="#666" stroke-width="0.5" stroke-linejoin="round"/>
<path d="M322.1,284.6 C322.4,284.0 323.5,283.5 324.4,283.4 C325.3,283.3 326.9,283.5 327.5,284.0 C328.1,284.5 328.3,285.9 327.9,286.5 C327.5,287.1 325.9,287.6 325.0,287.8 C324.1,287.9 323.0,287.6 322.5,287.1 C322.0,286.6 321.8,285.2 322.1,284.6Z" fill="#bdbdbd" stroke="#666" stroke-width="0.5" stroke-linejoin="round"/>
<path d="M356.5,181.6 C356.6,180.9 357.6,180.3 358.1,180.4 C358.7,180.5 359.5,181.6 359.8,182.2 C360.0,182.9 359.8,184.1 359.4,184.5 C359.0,184.9 357.7,185.0 357.2,184.5 C356.8,184.0 356.4,182.3 356.5,181.6Z" fill="#bdbdbd" stroke="#666" stroke-width="0.5" stroke-linejoin="round"/>
<path d="M569.9,196.0 C570.1,195.7 571.9,195.1 573.0,194.8 C574.0,194.4 575.2,194.1 576.0,193.7 C576.9,193.4 576.9,193.1 578.1,192.9 C579.3,192.8 581.7,192.6 583.2,192.7 C584.6,192.8 586.4,193.2 586.8,193.5 C587.1,193.9 586.3,194.7 585.2,195.0 C584.1,195.3 581.8,195.2 580.1,195.3 C578.4,195.4 576.4,195.4 575.0,195.6 C573.6,195.8 572.8,196.3 571.9,196.4 C571.1,196.5 569.7,196.3 569.9,196.0Z" fill="#ffffff"/>
<path d="M485.8,71.2 C486.2,69.8 487.6,67.5 489.5,66.2 C491.4,65.0 494.7,65.0 497.0,63.8 C499.3,62.5 500.8,59.9 503.2,58.8 C505.8,57.6 508.9,57.4 512.0,57.0 C515.1,56.6 519.1,56.2 522.0,56.2 C524.9,56.3 527.8,56.2 529.5,57.5 C531.2,58.8 531.8,61.2 532.0,63.8 C532.2,66.2 531.4,69.8 530.8,72.5 C530.1,75.2 529.7,78.2 528.2,80.0 C526.8,81.8 524.7,82.6 522.0,83.0 C519.3,83.4 514.5,82.4 512.0,82.5 C509.5,82.6 509.1,84.2 507.0,83.8 C504.9,83.3 502.0,81.0 499.5,80.0 C497.0,79.0 494.1,78.3 492.0,77.5 C489.9,76.7 488.0,76.0 487.0,75.0 C486.0,74.0 485.3,72.7 485.8,71.2Z" fill="#1423af"/>
<path d="M465.0,94.2 C465.2,90.5 464.5,90.5 464.2,88.8 C464.0,87.0 463.3,85.1 463.8,83.8 C464.2,82.4 465.5,81.0 467.0,80.5 C468.5,80.0 471.0,80.0 472.5,80.5 C474.0,81.0 474.8,83.4 476.2,83.8 C477.7,84.1 479.6,82.4 481.2,82.5 C482.9,82.6 484.8,83.2 486.2,84.2 C487.7,85.3 488.8,87.4 490.0,88.8 C491.2,90.1 492.3,91.5 493.8,92.5 C495.2,93.5 497.4,94.4 498.8,95.0 C500.1,95.6 501.5,95.5 501.8,96.2 C502.0,97.0 501.1,98.4 500.0,99.2 C498.9,100.1 496.7,100.5 495.0,101.2 C493.3,102.0 491.5,102.8 490.0,103.8 C488.5,104.7 487.9,106.0 486.2,106.8 C484.6,107.5 482.1,107.9 480.0,108.0 C477.9,108.1 475.8,107.2 473.8,107.5 C471.7,107.8 469.2,109.4 467.5,110.0 C465.8,110.6 463.2,111.2 463.2,111.2 C463.2,111.2 464.8,98.0 465.0,94.2Z" fill="#1423af"/>
<path d="M493.2,111.2 C493.0,109.6 495.3,106.9 497.0,105.0 C498.7,103.1 501.0,101.2 503.2,100.0 C505.5,98.8 508.5,97.5 510.8,97.5 C513.0,97.5 515.4,98.8 516.5,100.0 C517.6,101.2 518.0,103.3 517.5,104.5 C517.0,105.7 515.0,106.4 513.2,107.0 C511.5,107.6 508.7,107.1 507.0,108.0 C505.3,108.9 504.7,111.3 503.2,112.5 C501.8,113.7 499.9,115.2 498.2,115.0 C496.6,114.8 493.5,112.9 493.2,111.2Z" fill="#1423af"/>
<path d="M464.5,118.8 C465.8,117.6 469.7,117.6 472.0,118.0 C474.3,118.4 476.7,119.7 478.2,121.2 C479.8,122.8 481.3,125.4 481.5,127.5 C481.7,129.6 479.8,131.7 479.5,133.8 C479.2,135.8 480.6,138.5 480.0,140.0 C479.4,141.5 477.5,142.5 475.8,142.5 C474.0,142.5 470.9,141.5 469.5,140.0 C468.1,138.5 467.5,135.8 467.5,133.8 C467.5,131.7 470.0,129.0 469.5,127.5 C469.0,126.0 465.3,126.5 464.5,125.0 C463.7,123.5 463.2,119.9 464.5,118.8Z" fill="#1423af"/>
<path d="M489.5,125.0 C490.4,123.1 492.4,121.5 494.5,121.2 C496.6,121.0 499.5,122.9 502.0,123.8 C504.5,124.6 507.2,125.2 509.5,126.2 C511.8,127.3 513.9,128.3 515.8,130.0 C517.6,131.7 519.7,134.2 520.8,136.2 C521.8,138.3 521.0,140.6 522.0,142.5 C523.0,144.4 526.8,146.0 527.0,147.5 C527.2,149.0 525.1,151.0 523.2,151.2 C521.4,151.5 518.2,150.0 515.8,148.8 C513.2,147.5 511.0,145.2 508.2,143.8 C505.5,142.3 502.2,140.8 499.5,140.0 C496.8,139.2 493.8,140.0 492.0,138.8 C490.2,137.5 489.4,134.8 489.0,132.5 C488.6,130.2 488.6,126.9 489.5,125.0Z" fill="#1423af"/>
<path d="M464.5,156.2 C464.5,156.2 467.4,156.9 468.2,158.8 C469.1,160.6 469.7,164.8 469.5,167.5 C469.3,170.2 467.8,173.5 467.0,175.0 C466.2,176.5 464.5,176.2 464.5,176.2 C464.5,176.2 464.5,156.2 464.5,156.2Z" fill="#1423af"/>
<path d="M641.0,190.0 C641.0,190.0 642.7,184.8 644.0,183.2 C645.3,181.7 647.1,181.0 649.0,180.5 C650.9,180.0 653.4,179.5 655.2,180.0 C657.1,180.5 658.4,183.2 660.2,183.2 C662.1,183.2 664.3,181.0 666.5,180.0 C668.7,179.0 671.6,178.5 673.5,177.0 C675.4,175.5 676.3,173.0 677.8,171.0 C679.2,169.0 682.0,165.0 682.0,165.0 C682.0,165.0 682.0,190.0 682.0,190.0 C682.0,190.0 641.0,190.0 641.0,190.0Z" fill="#1423af"/>
<path d="M401.9,415.6 C402.1,415.1 403.4,414.6 404.4,414.6 C405.3,414.6 406.8,415.1 407.5,415.6 C408.2,416.1 408.7,417.0 408.5,417.5 C408.3,418.0 407.1,418.5 406.2,418.5 C405.4,418.5 403.9,418.2 403.1,417.8 C402.4,417.3 401.7,416.1 401.9,415.6Z" fill="#1423af"/>
<path d="M487.5,220.5 C488.0,218.9 488.8,216.9 490.0,215.5 C491.2,214.1 493.4,212.8 495.0,212.4 C496.6,212.0 498.2,212.3 499.4,213.0 C500.5,213.7 501.4,215.5 501.9,216.8 C502.4,218.0 501.8,219.8 502.5,220.5 C503.2,221.2 504.8,221.3 506.2,221.1 C507.7,220.9 509.6,219.5 511.2,219.2 C512.9,219.0 514.9,219.1 516.2,219.9 C517.6,220.6 518.8,222.1 519.4,223.6 C520.0,225.2 520.1,227.5 520.0,229.2 C519.9,231.0 519.4,232.8 518.8,234.2 C518.1,235.7 517.1,236.8 516.2,238.0 C515.4,239.2 514.6,240.5 513.8,241.8 C512.9,243.0 512.1,244.0 511.2,245.5 C510.4,247.0 509.6,249.2 508.8,250.5 C507.9,251.8 507.0,253.0 506.2,253.0 C505.5,253.0 504.5,251.5 504.4,250.5 C504.3,249.5 505.3,247.9 505.6,246.8 C505.9,245.6 506.8,244.7 506.2,243.6 C505.7,242.6 503.9,241.1 502.5,240.5 C501.1,239.9 499.7,239.7 498.1,239.9 C496.6,240.1 494.7,241.5 493.1,241.8 C491.6,242.0 489.8,241.8 488.8,241.1 C487.7,240.5 486.8,239.1 486.9,238.0 C487.0,236.9 488.5,235.5 489.4,234.2 C490.2,233.0 491.9,231.5 491.9,230.5 C491.9,229.5 490.2,228.9 489.4,228.0 C488.5,227.1 487.2,226.1 486.9,224.9 C486.6,223.6 487.0,222.1 487.5,220.5Z" fill="#1423af"/>
<path d="M576.2,216.1 C576.2,216.1 573.6,216.6 572.5,217.4 C571.4,218.1 570.3,219.1 569.4,220.5 C568.4,221.9 567.8,223.8 566.9,225.5 C565.9,227.2 565.1,229.1 563.8,230.5 C562.4,231.9 560.6,232.8 558.8,233.6 C556.9,234.5 554.4,234.9 552.5,235.5 C550.6,236.1 548.8,236.5 547.5,237.4 C546.2,238.2 545.6,238.9 545.0,240.5 C544.4,242.1 544.1,244.7 543.8,246.8 C543.4,248.8 543.4,250.9 543.1,253.0 C542.8,255.1 542.2,257.6 541.9,259.2 C541.6,260.9 541.2,263.0 541.2,263.0 C541.2,263.0 576.2,263.0 576.2,263.0 C576.2,263.0 576.2,216.1 576.2,216.1Z" fill="#1423af"/>
<path d="M541.2,261.4 C541.2,261.4 541.5,263.4 542.5,263.9 C543.5,264.4 545.8,264.3 547.5,264.5 C549.2,264.7 550.8,264.9 552.5,265.1 C554.2,265.3 556.0,265.2 557.5,265.8 C559.0,266.3 560.0,267.4 561.2,268.2 C562.5,269.1 563.8,270.5 565.0,270.8 C566.2,271.0 567.5,269.9 568.8,269.5 C570.0,269.1 571.2,268.7 572.5,268.2 C573.8,267.8 576.2,267.0 576.2,267.0 C576.2,267.0 576.2,261.4 576.2,261.4 C576.2,261.4 541.2,261.4 541.2,261.4Z" fill="#1423af"/>
<path d="M531.9,292.0 C532.3,291.3 533.6,290.5 535.0,290.1 C536.4,289.7 538.3,289.4 540.0,289.5 C541.7,289.6 543.5,290.1 545.0,290.8 C546.5,291.4 547.7,292.2 548.8,293.2 C549.8,294.3 550.5,295.8 551.2,297.0 C552.0,298.2 552.7,299.7 553.1,300.8 C553.5,301.8 554.3,302.9 553.8,303.2 C553.2,303.6 551.2,303.0 550.0,302.6 C548.8,302.2 547.4,300.9 546.2,300.8 C545.1,300.6 544.1,301.5 543.1,302.0 C542.2,302.5 541.2,303.9 540.6,303.9 C540.0,303.9 539.9,302.8 539.4,302.0 C538.9,301.2 538.1,299.9 537.5,298.9 C536.9,297.8 536.5,296.5 535.6,295.8 C534.8,295.0 533.1,294.9 532.5,294.2 C531.9,293.6 531.5,292.7 531.9,292.0Z" fill="#1423af"/>
<path d="M545.2,329.5 C545.5,329.0 546.3,328.2 546.9,328.2 C547.5,328.3 548.6,329.2 548.8,329.8 C548.9,330.3 548.0,331.2 547.5,331.4 C547.0,331.6 546.0,331.3 545.6,331.0 C545.2,330.7 545.0,330.0 545.2,329.5Z" fill="#1423af"/>
<path d="M568.1,337.0 C568.1,337.0 569.2,333.8 570.0,332.6 C570.8,331.5 572.1,330.6 573.1,330.1 C574.2,329.6 576.2,329.5 576.2,329.5 C576.2,329.5 576.2,337.0 576.2,337.0 C576.2,337.0 568.1,337.0 568.1,337.0Z" fill="#1423af"/>
<path d="M640.0,187.4 C640.0,187.4 638.8,190.0 637.5,191.1 C636.2,192.3 634.2,193.3 632.5,194.2 C630.8,195.2 629.2,195.9 627.5,196.8 C625.8,197.6 624.2,198.6 622.5,199.2 C620.8,199.9 619.2,200.0 617.5,200.5 C615.8,201.0 613.5,201.3 612.5,202.4 C611.5,203.4 611.6,205.2 611.2,206.8 C610.9,208.3 610.6,210.1 610.6,211.8 C610.6,213.4 610.7,215.3 611.2,216.8 C611.8,218.2 612.7,219.6 613.8,220.5 C614.8,221.4 616.2,222.4 617.5,222.4 C618.8,222.4 620.1,221.3 621.2,220.5 C622.4,219.7 624.1,218.4 624.4,217.4 C624.7,216.3 623.8,215.3 623.1,214.2 C622.5,213.2 621.1,212.1 620.6,211.1 C620.1,210.2 619.3,209.1 620.0,208.6 C620.7,208.1 623.5,207.8 625.0,208.0 C626.5,208.2 627.7,209.0 628.8,209.9 C629.8,210.7 630.2,212.2 631.2,213.0 C632.3,213.8 633.8,214.8 635.0,214.9 C636.2,215.0 637.7,214.4 638.8,213.6 C639.8,212.9 640.2,211.3 641.2,210.5 C642.3,209.7 643.5,209.2 645.0,208.6 C646.5,208.0 648.3,207.0 650.0,206.8 C651.7,206.5 653.8,206.8 655.0,207.4 C656.2,208.0 656.5,209.7 657.5,210.5 C658.5,211.3 659.6,212.2 661.2,212.4 C662.9,212.6 665.4,212.3 667.5,211.8 C669.6,211.2 672.1,210.1 673.8,209.2 C675.4,208.4 676.2,207.4 677.5,206.8 C678.8,206.1 681.2,205.5 681.2,205.5 C681.2,205.5 681.2,187.4 681.2,187.4 C681.2,187.4 640.0,187.4 640.0,187.4Z" fill="#1423af"/>
<path d="M613.8,220.5 C614.7,220.4 616.0,221.8 617.5,222.4 C619.0,223.0 620.8,223.6 622.5,224.0 C624.2,224.4 625.8,224.8 627.5,224.9 C629.2,224.9 630.8,224.4 632.5,224.2 C634.2,224.1 635.8,224.1 637.5,224.2 C639.2,224.4 640.8,224.6 642.5,224.9 C644.2,225.2 646.4,225.6 647.5,226.1 C648.6,226.6 649.6,227.3 649.4,228.0 C649.2,228.7 647.6,229.9 646.2,230.5 C644.9,231.1 642.9,231.5 641.2,231.5 C639.6,231.5 637.9,231.0 636.2,230.5 C634.6,230.0 632.9,228.8 631.2,228.6 C629.6,228.4 627.9,228.7 626.2,229.2 C624.6,229.8 622.9,231.2 621.2,231.8 C619.6,232.3 617.7,232.6 616.2,232.6 C614.8,232.6 613.3,232.7 612.5,231.8 C611.7,230.8 611.4,228.2 611.2,226.8 C611.1,225.3 611.5,224.0 611.9,223.0 C612.3,222.0 612.8,220.6 613.8,220.5Z" fill="#1423af"/>
<path d="M574.4,213.6 C574.4,213.6 576.1,213.6 577.5,213.9 C578.9,214.1 580.8,214.5 582.5,215.1 C584.2,215.7 586.0,216.5 587.5,217.4 C589.0,218.3 589.8,219.4 591.2,220.5 C592.7,221.6 594.2,223.1 596.2,224.2 C598.3,225.4 601.7,227.1 603.8,227.4 C605.8,227.7 607.3,226.6 608.8,226.1 C610.2,225.6 611.2,224.4 612.5,224.2 C613.8,224.1 615.4,224.5 616.2,225.5 C617.1,226.5 617.5,229.3 617.5,230.5 C617.5,231.7 617.1,232.2 616.2,232.6 C615.4,233.1 614.0,232.8 612.5,233.2 C611.0,233.7 608.9,234.3 607.5,235.1 C606.1,235.9 604.6,237.1 604.4,238.0 C604.2,238.9 605.1,239.9 606.2,240.5 C607.4,241.1 609.6,241.1 611.2,241.8 C612.9,242.4 614.8,243.2 616.2,244.2 C617.7,245.3 618.8,246.5 620.0,248.0 C621.2,249.5 622.5,251.3 623.8,253.0 C625.0,254.7 626.4,256.3 627.5,258.0 C628.6,259.7 630.6,263.0 630.6,263.0 C630.6,263.0 574.4,263.0 574.4,263.0 C574.4,263.0 574.4,213.6 574.4,213.6Z" fill="#1423af"/>
<path d="M574.4,261.4 C574.4,261.4 631.2,261.4 631.2,261.4 C631.2,261.4 629.6,264.6 630.0,265.8 C630.4,266.9 632.1,267.6 633.8,268.2 C635.4,268.9 638.4,269.0 640.0,269.5 C641.6,270.0 642.7,270.5 643.1,271.4 C643.5,272.2 643.2,273.9 642.5,274.5 C641.8,275.1 640.2,275.2 638.8,275.1 C637.3,275.0 635.4,274.3 633.8,273.9 C632.1,273.5 630.4,273.0 628.8,272.6 C627.1,272.2 625.4,271.9 623.8,271.4 C622.1,270.9 620.4,270.4 618.8,269.5 C617.1,268.6 614.9,266.2 613.8,265.8 C612.6,265.3 612.2,266.0 611.9,267.0 C611.6,268.0 611.8,270.3 611.9,272.0 C612.0,273.7 612.0,275.6 612.5,277.0 C613.0,278.4 614.3,278.9 615.0,280.1 C615.7,281.4 616.6,282.9 616.9,284.5 C617.2,286.1 617.1,287.8 616.9,289.5 C616.7,291.2 616.2,293.4 615.6,294.5 C615.0,295.6 614.0,296.3 613.1,296.4 C612.3,296.5 611.2,296.0 610.6,295.1 C610.0,294.3 609.7,292.7 609.4,291.4 C609.1,290.0 609.2,288.1 608.8,287.0 C608.3,285.9 607.8,285.0 606.9,284.5 C605.9,284.0 604.4,284.1 603.1,283.9 C601.9,283.7 600.4,283.1 599.4,283.2 C598.3,283.4 597.8,283.9 596.9,284.5 C595.9,285.1 594.5,286.9 593.8,287.0 C593.0,287.1 592.5,286.0 592.5,285.1 C592.5,284.3 594.0,283.1 593.8,282.0 C593.5,280.9 592.3,279.5 591.2,278.2 C590.2,277.0 588.8,275.6 587.5,274.5 C586.2,273.4 585.0,272.3 583.8,271.4 C582.5,270.4 581.6,269.4 580.0,268.9 C578.4,268.4 574.4,268.2 574.4,268.2 C574.4,268.2 574.4,261.4 574.4,261.4Z" fill="#1423af"/>
<path d="M600.9,288.9 C601.0,288.1 602.0,287.0 602.8,286.8 C603.5,286.5 605.0,287.0 605.4,287.6 C605.8,288.2 605.5,289.9 605.0,290.5 C604.5,291.1 602.9,291.6 602.2,291.4 C601.6,291.1 600.8,289.6 600.9,288.9Z" fill="#1423af"/>
<path d="M597.8,295.1 C598.0,294.4 598.9,293.1 599.8,292.9 C600.6,292.6 602.2,292.9 602.8,293.5 C603.3,294.1 603.5,295.6 603.1,296.4 C602.8,297.1 601.4,297.7 600.6,297.9 C599.8,298.0 598.9,297.7 598.4,297.2 C597.9,296.8 597.5,295.9 597.8,295.1Z" fill="#1423af"/>
<path d="M632.1,287.6 C632.2,286.8 633.0,285.7 633.8,285.4 C634.5,285.1 636.1,285.2 636.9,285.8 C637.6,286.3 638.2,287.7 638.1,288.5 C638.0,289.3 637.1,290.4 636.2,290.8 C635.4,291.1 633.8,291.0 633.1,290.5 C632.4,290.0 632.0,288.5 632.1,287.6Z" fill="#1423af"/>
<path d="M638.5,293.9 C638.7,293.3 639.2,292.1 640.0,292.2 C640.8,292.4 642.2,293.9 643.1,294.8 C644.1,295.6 644.9,296.6 645.6,297.6 C646.4,298.6 647.4,299.7 647.5,300.8 C647.6,301.8 646.8,303.5 646.2,303.9 C645.7,304.3 645.0,304.0 644.4,303.2 C643.8,302.5 643.2,300.4 642.5,299.5 C641.8,298.6 640.6,298.2 640.0,297.6 C639.4,297.0 639.0,296.4 638.8,295.8 C638.5,295.1 638.3,294.5 638.5,293.9Z" fill="#1423af"/>
<path d="M634.0,309.5 C634.1,308.4 634.9,306.9 635.6,306.6 C636.3,306.3 637.4,306.7 638.1,307.6 C638.9,308.5 639.5,310.5 640.0,312.0 C640.5,313.5 641.4,315.3 641.2,316.4 C641.1,317.4 640.1,318.2 639.4,318.2 C638.6,318.2 637.6,317.2 636.9,316.4 C636.1,315.5 635.5,314.4 635.0,313.2 C634.5,312.1 633.9,310.6 634.0,309.5Z" fill="#1423af"/>
<path d="M639.6,320.8 C639.7,319.8 640.7,318.9 641.2,319.1 C641.8,319.3 642.9,320.9 643.1,322.0 C643.3,323.1 642.9,325.0 642.5,325.5 C642.1,326.0 641.1,325.9 640.6,325.1 C640.1,324.3 639.5,321.8 639.6,320.8Z" fill="#1423af"/>
<path d="M578.8,322.0 C579.3,321.0 581.0,320.8 582.5,320.8 C584.0,320.8 585.8,321.4 587.5,322.0 C589.2,322.6 591.0,323.5 592.5,324.5 C594.0,325.5 595.2,326.9 596.2,328.2 C597.3,329.6 598.1,331.2 598.8,332.6 C599.4,334.1 600.0,337.0 600.0,337.0 C600.0,337.0 574.4,337.0 574.4,337.0 C574.4,337.0 574.4,333.9 574.4,333.9 C574.4,333.9 576.7,333.1 577.5,332.0 C578.3,330.9 579.2,328.7 579.4,327.0 C579.6,325.3 578.2,323.0 578.8,322.0Z" fill="#1423af"/>
<path d="M159.2,254.2 C159.7,252.6 161.2,250.7 162.5,250.5 C163.8,250.3 166.2,251.7 167.0,253.0 C167.8,254.3 168.0,257.0 167.5,258.5 C167.0,260.0 165.0,261.7 163.8,262.0 C162.5,262.3 160.8,261.8 160.0,260.5 C159.2,259.2 158.8,255.9 159.2,254.2Z" fill="#1423af"/>
<path d="M154.0,267.5 C154.0,266.9 155.7,265.9 156.5,266.0 C157.3,266.1 158.8,267.4 158.8,268.0 C158.7,268.6 157.0,269.6 156.2,269.5 C155.5,269.4 154.0,268.1 154.0,267.5Z" fill="#1423af"/>
<path d="M350.0,335.4 C350.0,335.4 351.5,337.5 352.5,338.5 C353.5,339.5 355.0,340.6 356.2,341.6 C357.5,342.7 358.8,343.8 360.0,344.8 C361.2,345.7 362.6,346.7 363.8,347.2 C364.9,347.8 366.1,348.2 366.9,347.9 C367.6,347.6 368.1,346.3 368.1,345.4 C368.1,344.4 367.4,343.3 366.9,342.2 C366.4,341.2 365.6,340.3 365.0,339.1 C364.4,338.0 363.1,335.4 363.1,335.4 C363.1,335.4 350.0,335.4 350.0,335.4Z" fill="#1423af"/>
<path d="M347.5,345.4 C347.5,344.3 348.2,343.4 348.8,343.5 C349.3,343.6 350.0,345.1 350.6,346.0 C351.2,346.9 352.1,348.1 352.5,349.1 C352.9,350.2 353.4,351.7 353.1,352.2 C352.9,352.8 351.7,352.7 351.0,352.2 C350.3,351.8 349.6,350.9 349.0,349.8 C348.4,348.6 347.5,346.4 347.5,345.4Z" fill="#1423af"/>
<path d="M565.0,335.4 C565.0,335.4 566.7,338.4 567.5,339.8 C568.3,341.1 569.1,342.2 570.0,343.5 C570.9,344.8 572.4,345.8 573.1,347.2 C573.9,348.7 573.9,350.6 574.4,352.2 C574.9,353.9 575.5,355.6 576.2,357.2 C577.0,358.9 578.0,360.6 578.8,362.2 C579.5,363.9 579.6,365.8 580.6,367.2 C581.7,368.7 583.4,370.2 585.0,371.0 C586.6,371.8 588.3,372.2 590.0,372.2 C591.7,372.2 593.3,371.1 595.0,371.0 C596.7,370.9 598.5,371.8 600.0,371.6 C601.5,371.4 602.5,370.6 603.8,369.8 C605.0,368.9 606.2,367.4 607.5,366.6 C608.8,365.9 611.2,365.4 611.2,365.4 C611.2,365.4 611.2,335.4 611.2,335.4 C611.2,335.4 565.0,335.4 565.0,335.4Z" fill="#1423af"/>
<path d="M661.6,347.2 C662.2,346.4 664.1,345.6 665.7,345.8 C667.2,345.9 669.0,347.1 670.7,348.2 C672.4,349.3 674.5,350.9 675.8,352.2 C677.0,353.6 678.4,355.2 678.4,356.3 C678.4,357.3 677.0,358.7 675.8,358.7 C674.5,358.7 672.4,357.2 670.7,356.3 C669.0,355.4 667.1,354.2 665.7,353.2 C664.2,352.2 662.9,351.2 662.2,350.2 C661.5,349.2 661.0,347.9 661.6,347.2Z" fill="#1423af"/>
<path d="M159.4,44.5 C159.4,44.5 162.0,47.9 163.8,49.5 C165.5,51.1 167.9,52.9 170.0,53.9 C172.1,54.8 174.6,54.3 176.2,55.1 C177.9,56.0 178.9,57.4 180.0,58.9 C181.1,60.4 182.0,62.5 183.1,64.2 C184.3,66.0 185.4,67.9 186.9,69.2 C188.3,70.6 190.1,71.6 191.9,72.6 C193.6,73.7 195.6,74.9 197.5,75.5 C199.4,76.1 201.5,75.6 203.1,76.0 C204.8,76.4 206.1,76.8 207.5,77.6 C208.9,78.4 209.8,79.6 211.2,80.8 C212.7,81.9 214.6,83.2 216.2,84.5 C217.9,85.8 219.8,87.0 221.2,88.2 C222.7,89.5 223.9,91.2 225.0,92.0 C226.1,92.8 227.8,92.4 228.1,93.2 C228.4,94.1 227.3,95.5 226.9,97.0 C226.5,98.5 225.6,100.3 225.6,102.0 C225.6,103.7 226.5,105.3 226.9,107.0 C227.3,108.7 228.0,110.8 228.1,112.0 C228.2,113.2 227.2,114.0 227.5,114.5 C227.8,115.0 228.8,115.2 230.0,115.1 C231.2,115.0 233.5,114.4 235.0,113.9 C236.5,113.4 237.5,112.7 238.8,112.0 C240.0,111.3 241.2,110.1 242.5,109.5 C243.8,108.9 246.2,108.2 246.2,108.2 C246.2,108.2 246.2,44.5 246.2,44.5 C246.2,44.5 159.4,44.5 159.4,44.5Z" fill="#1423af"/>
<path d="M239.0,115.4 C239.0,115.4 239.5,117.1 240.0,117.5 C240.5,117.9 241.7,118.1 242.2,117.8 C242.8,117.4 243.1,115.4 243.1,115.4 C243.1,115.4 239.0,115.4 239.0,115.4Z" fill="#1423af"/>
<path d="M244.4,44.5 L356.2,44.5 L356.2,117.0 L244.4,117.0Z" fill="#1423af"/>
<path d="M257.5,115.4 C257.5,115.4 257.3,119.2 257.5,121.0 C257.7,122.8 258.1,124.3 258.8,126.0 C259.4,127.7 260.0,129.5 261.2,131.0 C262.5,132.5 264.8,133.5 266.2,134.8 C267.7,136.0 268.8,137.1 270.0,138.5 C271.2,139.9 272.6,141.4 273.8,142.9 C274.9,144.3 276.1,145.7 276.9,147.2 C277.6,148.8 278.4,151.0 278.1,152.2 C277.8,153.5 276.1,154.0 275.0,154.8 C273.9,155.5 272.1,155.9 271.2,156.6 C270.4,157.4 269.9,158.3 270.0,159.1 C270.1,160.0 271.0,160.8 271.9,161.6 C272.7,162.5 274.3,163.2 275.0,164.1 C275.7,165.1 276.2,166.1 276.2,167.2 C276.2,168.4 275.7,170.0 275.0,171.0 C274.3,172.0 272.9,172.8 271.9,173.5 C270.8,174.2 269.4,174.8 268.8,175.4 C268.1,176.0 267.7,176.9 268.1,177.2 C268.5,177.6 270.1,177.6 271.2,177.2 C272.4,176.9 273.8,176.0 275.0,175.4 C276.2,174.8 277.5,173.6 278.8,173.5 C280.0,173.4 281.7,173.9 282.5,174.8 C283.3,175.6 283.6,177.0 283.8,178.5 C283.9,180.0 283.1,181.8 283.1,183.5 C283.1,185.2 283.4,187.2 283.8,188.5 C284.1,189.8 285.0,191.0 285.0,191.0 C285.0,191.0 356.2,191.0 356.2,191.0 C356.2,191.0 356.2,115.4 356.2,115.4 C356.2,115.4 257.5,115.4 257.5,115.4Z" fill="#1423af"/>
<path d="M282.5,189.4 C282.5,189.4 280.2,192.1 278.8,193.1 C277.3,194.2 275.2,194.9 273.8,195.6 C272.3,196.4 270.7,196.4 270.0,197.5 C269.3,198.6 269.9,200.8 269.4,202.5 C268.9,204.2 267.6,206.1 266.9,207.5 C266.1,208.9 264.9,209.5 265.0,210.6 C265.1,211.8 266.4,213.2 267.5,214.4 C268.6,215.5 270.4,216.5 271.9,217.5 C273.3,218.5 274.9,219.7 276.2,220.6 C277.6,221.6 278.5,222.6 280.0,223.1 C281.5,223.6 283.8,223.3 285.0,223.8 C286.2,224.2 286.5,225.2 287.5,225.6 C288.5,226.0 290.0,226.2 291.2,226.2 C292.5,226.2 294.2,225.2 295.0,225.6 C295.8,226.0 296.2,227.6 296.2,228.8 C296.2,229.9 295.1,231.2 295.0,232.5 C294.9,233.8 295.0,235.3 295.6,236.2 C296.2,237.2 297.8,237.3 298.8,238.1 C299.7,239.0 301.0,240.2 301.2,241.2 C301.5,242.3 300.5,243.4 300.0,244.4 C299.5,245.3 298.1,246.0 298.1,246.9 C298.1,247.7 299.1,248.9 300.0,249.4 C300.9,249.9 302.5,250.0 303.8,250.0 C305.0,250.0 306.2,249.2 307.5,249.4 C308.8,249.6 310.0,250.5 311.2,251.2 C312.5,252.0 314.0,252.7 315.0,253.8 C316.0,254.8 317.2,256.2 317.5,257.5 C317.8,258.8 316.9,260.0 316.9,261.2 C316.9,262.5 317.5,265.0 317.5,265.0 C317.5,265.0 356.2,265.0 356.2,265.0 C356.2,265.0 356.2,218.8 356.2,218.8 C356.2,218.8 354.1,215.6 353.1,213.8 C352.2,211.9 351.6,209.6 350.6,207.5 C349.7,205.4 348.4,203.3 347.5,201.2 C346.6,199.2 345.6,197.0 345.0,195.0 C344.4,193.0 343.8,189.4 343.8,189.4 C343.8,189.4 282.5,189.4 282.5,189.4Z" fill="#1423af"/>
<path d="M321.2,263.4 C321.2,263.4 322.9,266.2 323.8,267.8 C324.6,269.3 325.6,271.3 326.2,272.8 C326.9,274.2 326.7,275.2 327.5,276.5 C328.3,277.8 330.0,279.0 331.2,280.2 C332.5,281.5 333.8,282.9 335.0,284.0 C336.2,285.1 337.3,286.3 338.8,287.1 C340.2,288.0 342.1,288.8 343.8,289.0 C345.4,289.2 347.1,289.0 348.8,288.4 C350.4,287.8 352.5,285.9 353.8,285.2 C355.0,284.6 356.2,284.6 356.2,284.6 C356.2,284.6 356.2,263.4 356.2,263.4 C356.2,263.4 321.2,263.4 321.2,263.4Z" fill="#1423af"/>
<path d="M335.6,302.8 C336.6,301.9 337.0,300.7 338.1,300.2 C339.3,299.8 340.9,299.9 342.5,300.2 C344.1,300.6 345.8,301.6 347.5,302.1 C349.2,302.6 351.0,303.1 352.5,303.4 C354.0,303.7 356.2,304.0 356.2,304.0 C356.2,304.0 356.2,332.1 356.2,332.1 C356.2,332.1 353.5,332.0 352.5,331.5 C351.5,331.0 351.2,329.7 350.0,329.0 C348.8,328.3 346.5,328.0 345.0,327.1 C343.5,326.3 342.3,325.1 341.2,324.0 C340.2,322.9 339.8,321.5 338.8,320.2 C337.7,319.0 336.0,317.8 335.0,316.5 C334.0,315.2 333.1,314.0 332.5,312.8 C331.9,311.5 331.2,310.2 331.2,309.0 C331.2,307.8 331.8,306.3 332.5,305.2 C333.2,304.2 334.7,303.6 335.6,302.8Z" fill="#1423af"/>
<path d="M350.0,335.2 C350.5,334.2 351.5,333.0 352.5,332.5 C353.5,332.0 356.2,332.1 356.2,332.1 C356.2,332.1 356.2,339.0 356.2,339.0 C356.2,339.0 349.4,339.0 349.4,339.0 C349.4,339.0 349.5,336.3 350.0,335.2Z" fill="#1423af"/>
<path d="M354.4,64.5 C354.4,64.5 357.4,67.4 358.8,68.9 C360.1,70.3 361.0,71.8 362.5,73.2 C364.0,74.7 365.8,76.4 367.5,77.6 C369.2,78.9 370.8,79.9 372.5,80.8 C374.2,81.6 375.6,81.9 377.5,82.6 C379.4,83.4 381.9,84.2 383.8,85.1 C385.6,86.1 387.1,87.2 388.8,88.2 C390.4,89.3 392.1,90.8 393.8,91.4 C395.4,92.0 396.9,92.1 398.8,92.0 C400.6,91.9 403.1,91.1 405.0,90.8 C406.9,90.4 408.3,89.9 410.0,90.1 C411.7,90.3 413.3,91.5 415.0,92.0 C416.7,92.5 418.1,92.8 420.0,93.2 C421.9,93.7 424.4,94.2 426.2,94.5 C428.1,94.8 429.6,94.9 431.2,95.1 C432.9,95.3 434.6,95.4 436.2,95.8 C437.9,96.1 439.6,97.0 441.2,97.0 C442.9,97.0 444.6,96.2 446.2,95.8 C447.9,95.3 449.6,94.6 451.2,94.5 C452.9,94.4 454.6,94.9 456.2,95.1 C457.9,95.3 459.6,95.8 461.2,95.8 C462.9,95.8 466.2,95.1 466.2,95.1 C466.2,95.1 466.2,117.0 466.2,117.0 C466.2,117.0 354.4,117.0 354.4,117.0 C354.4,117.0 354.4,64.5 354.4,64.5Z" fill="#1423af"/>
<path d="M464.0,82.6 C464.3,81.7 466.2,82.0 466.2,82.0 C466.2,82.0 466.2,88.5 466.2,88.5 C466.2,88.5 464.8,88.6 464.4,87.6 C464.0,86.6 463.7,83.6 464.0,82.6Z" fill="#1423af"/>
<path d="M354.4,115.4 C354.4,115.4 455.0,115.4 455.0,115.4 C455.0,115.4 454.5,118.8 453.8,120.4 C453.0,121.9 451.9,123.6 450.6,124.8 C449.4,125.9 447.8,127.0 446.2,127.2 C444.7,127.5 443.1,126.7 441.2,126.0 C439.4,125.3 437.1,123.7 435.0,122.9 C432.9,122.0 430.2,121.1 428.8,121.0 C427.3,120.9 426.6,121.4 426.2,122.2 C425.9,123.1 426.6,124.8 426.9,126.0 C427.2,127.2 428.2,128.5 428.1,129.8 C428.0,131.0 426.8,132.4 426.2,133.5 C425.7,134.6 424.6,135.9 425.0,136.6 C425.4,137.4 427.5,137.4 428.8,137.9 C430.0,138.4 431.0,139.1 432.5,139.8 C434.0,140.4 435.8,140.9 437.5,141.6 C439.2,142.4 441.0,143.1 442.5,144.1 C444.0,145.2 445.2,146.5 446.2,147.9 C447.3,149.2 448.4,150.7 448.8,152.2 C449.1,153.8 448.8,155.8 448.1,157.2 C447.5,158.7 445.9,159.8 445.0,161.0 C444.1,162.2 443.1,163.5 442.5,164.8 C441.9,166.0 442.1,167.5 441.2,168.5 C440.4,169.5 439.0,170.4 437.5,171.0 C436.0,171.6 434.2,171.8 432.5,172.2 C430.8,172.7 429.0,172.9 427.5,173.5 C426.0,174.1 425.2,175.3 423.8,176.0 C422.3,176.7 420.4,177.7 418.8,177.9 C417.1,178.1 415.4,177.8 413.8,177.2 C412.1,176.7 410.2,175.5 408.8,174.8 C407.3,174.0 406.2,173.1 405.0,172.9 C403.8,172.7 402.5,173.8 401.2,173.5 C400.0,173.2 398.5,171.8 397.5,171.0 C396.5,170.2 395.8,169.3 395.0,168.5 C394.2,167.7 393.5,166.5 392.5,166.0 C391.5,165.5 390.0,165.3 388.8,165.4 C387.5,165.5 386.5,166.3 385.0,166.6 C383.5,167.0 381.7,167.3 380.0,167.5 C378.3,167.7 376.5,167.7 375.0,167.9 C373.5,168.0 372.5,168.4 371.2,168.5 C370.0,168.6 368.8,168.2 367.5,168.2 C366.2,168.2 365.0,168.4 363.8,168.5 C362.5,168.6 361.5,168.9 360.0,169.1 C358.5,169.3 355.9,169.6 355.0,169.8 C354.1,169.9 354.4,169.8 354.4,169.8 C354.4,169.8 354.4,115.4 354.4,115.4Z" fill="#1423af"/>
<path d="M370.6,171.6 C371.2,170.9 372.7,170.3 373.8,170.4 C374.8,170.5 376.0,171.1 376.9,172.2 C377.7,173.4 378.1,175.6 378.8,177.2 C379.4,178.9 379.9,180.6 380.6,182.2 C381.4,183.9 382.5,185.8 383.1,187.2 C383.8,188.7 384.4,191.0 384.4,191.0 C384.4,191.0 373.8,191.0 373.8,191.0 C373.8,191.0 372.4,187.9 371.9,186.0 C371.4,184.1 370.9,181.6 370.6,179.8 C370.3,177.9 370.0,176.1 370.0,174.8 C370.0,173.4 370.0,172.4 370.6,171.6Z" fill="#1423af"/>
<path d="M388.8,174.8 C388.5,175.7 390.2,176.4 391.2,177.2 C392.3,178.1 393.9,178.8 395.0,179.8 C396.1,180.7 397.7,181.8 398.1,182.9 C398.5,183.9 397.0,185.2 397.5,186.0 C398.0,186.8 399.8,187.5 401.2,187.9 C402.7,188.3 404.9,188.6 406.2,188.5 C407.6,188.4 409.0,188.0 409.4,187.2 C409.8,186.5 409.3,185.2 408.8,184.1 C408.2,183.1 407.3,182.1 406.2,181.0 C405.2,179.9 403.3,178.5 402.5,177.2 C401.7,176.0 402.1,174.5 401.2,173.5 C400.4,172.5 399.0,171.3 397.5,171.0 C396.0,170.7 394.0,171.0 392.5,171.6 C391.0,172.2 389.0,173.8 388.8,174.8Z" fill="#1423af"/>
<path d="M448.1,168.5 C447.9,167.5 449.1,165.0 450.0,163.5 C450.9,162.0 452.5,161.0 453.8,159.8 C455.0,158.5 456.2,156.9 457.5,156.0 C458.8,155.1 459.8,154.5 461.2,154.1 C462.7,153.7 466.2,153.5 466.2,153.5 C466.2,153.5 466.2,174.8 466.2,174.8 C466.2,174.8 463.8,172.9 462.5,172.2 C461.2,171.6 460.0,171.5 458.8,171.0 C457.5,170.5 456.2,169.3 455.0,169.1 C453.8,168.9 452.4,169.9 451.2,169.8 C450.1,169.6 448.3,169.5 448.1,168.5Z" fill="#1423af"/>
<path d="M460.0,121.6 C460.0,120.5 461.5,119.6 462.5,119.1 C463.5,118.6 466.2,118.5 466.2,118.5 C466.2,118.5 466.2,126.6 466.2,126.6 C466.2,126.6 463.5,126.8 462.5,126.0 C461.5,125.2 460.0,122.8 460.0,121.6Z" fill="#1423af"/>
<path d="M374.4,189.4 C374.4,189.4 374.4,192.7 375.0,193.8 C375.6,194.8 376.7,195.2 378.1,195.6 C379.6,196.0 382.3,195.9 383.8,196.2 C385.2,196.6 386.6,196.9 386.9,197.5 C387.2,198.1 386.5,199.5 385.6,200.0 C384.8,200.5 382.9,200.2 381.9,200.6 C380.8,201.0 379.6,201.7 379.4,202.5 C379.2,203.3 379.7,204.9 380.6,205.6 C381.6,206.4 383.4,207.0 385.0,207.1 C386.6,207.2 388.5,206.9 390.0,206.2 C391.5,205.6 393.0,204.4 393.8,203.1 C394.5,201.9 395.0,200.1 394.8,198.8 C394.5,197.4 393.1,196.2 392.5,195.0 C391.9,193.8 391.4,192.2 391.2,191.2 C391.1,190.3 391.9,189.4 391.9,189.4 C391.9,189.4 374.4,189.4 374.4,189.4Z" fill="#1423af"/>
<path d="M354.4,222.5 C354.4,222.5 355.9,224.8 356.9,226.2 C357.8,227.7 358.9,229.6 360.0,231.2 C361.1,232.9 362.6,234.6 363.8,236.2 C364.9,237.9 365.8,239.8 366.9,241.2 C367.9,242.7 368.9,243.8 370.0,245.0 C371.1,246.2 373.4,247.9 373.8,248.8 C374.1,249.6 372.9,249.9 371.9,250.0 C370.8,250.1 368.8,249.2 367.5,249.4 C366.2,249.6 365.3,250.3 364.4,251.2 C363.4,252.2 362.5,253.6 361.9,255.0 C361.2,256.4 360.6,257.7 360.6,259.4 C360.6,261.0 361.9,265.0 361.9,265.0 C361.9,265.0 354.4,265.0 354.4,265.0 C354.4,265.0 354.4,222.5 354.4,222.5Z" fill="#1423af"/>
<path d="M354.4,263.4 C354.4,263.4 362.5,263.4 362.5,263.4 C362.5,263.4 364.4,266.0 364.4,267.1 C364.4,268.3 363.4,269.5 362.5,270.2 C361.6,271.0 360.1,271.2 358.8,271.5 C357.4,271.8 354.4,271.8 354.4,271.8 C354.4,271.8 354.4,263.4 354.4,263.4Z" fill="#1423af"/>
<path d="M354.4,274.6 C354.4,274.6 358.3,275.2 360.0,275.9 C361.7,276.5 363.3,277.2 364.4,278.4 C365.4,279.5 366.0,281.2 366.2,282.8 C366.5,284.3 365.4,286.4 365.6,287.8 C365.8,289.1 366.5,290.1 367.5,290.9 C368.5,291.6 370.8,291.5 371.9,292.1 C372.9,292.8 373.9,293.9 373.8,294.6 C373.6,295.4 372.3,296.4 371.2,296.5 C370.2,296.6 369.0,295.8 367.5,295.2 C366.0,294.7 364.2,294.1 362.5,293.4 C360.8,292.6 358.9,291.5 357.5,290.9 C356.1,290.2 354.4,289.6 354.4,289.6 C354.4,289.6 354.4,274.6 354.4,274.6Z" fill="#1423af"/>
<path d="M354.4,305.9 C354.4,305.9 356.2,306.6 356.9,307.8 C357.5,308.9 358.0,311.1 358.1,312.8 C358.2,314.4 357.8,316.1 357.5,317.8 C357.2,319.4 356.8,321.7 356.2,322.8 C355.7,323.8 354.4,324.0 354.4,324.0 C354.4,324.0 354.4,305.9 354.4,305.9Z" fill="#1423af"/>
<path d="M354.4,332.1 C354.4,332.1 356.5,332.6 357.5,333.4 C358.5,334.1 359.9,335.6 360.6,336.5 C361.4,337.4 361.9,339.0 361.9,339.0 C361.9,339.0 354.4,339.0 354.4,339.0 C354.4,339.0 354.4,332.1 354.4,332.1Z" fill="#1423af"/>
<path d="M642.8,286.4 C642.9,285.4 643.5,284.7 644.4,284.2 C645.3,283.8 647.1,283.2 648.1,283.5 C649.1,283.8 650.1,284.8 650.4,285.8 C650.6,286.8 650.3,288.6 649.8,289.5 C649.2,290.4 647.9,291.3 646.9,291.4 C645.9,291.5 644.4,291.0 643.8,290.1 C643.1,289.3 642.6,287.4 642.8,286.4Z" fill="#bdbdbd" stroke="#777" stroke-width="0.5" stroke-linejoin="round"/>
<path d="M624.8,300.8 C625.0,299.8 625.6,298.6 626.2,298.2 C626.9,297.9 628.2,298.1 628.8,298.9 C629.3,299.6 629.5,301.3 629.8,302.6 C630.0,304.0 630.3,305.5 630.2,307.0 C630.2,308.5 629.9,310.2 629.4,311.4 C628.8,312.5 627.6,313.8 626.9,313.9 C626.1,314.0 625.3,313.1 625.0,312.0 C624.7,310.9 625.3,308.4 625.2,307.0 C625.2,305.6 624.6,304.9 624.5,303.9 C624.4,302.8 624.5,301.7 624.8,300.8Z" fill="#bdbdbd" stroke="#777" stroke-width="0.5" stroke-linejoin="round"/>
<path d="M643.8,313.2 C644.0,312.4 645.0,310.8 646.0,310.8 C647.0,310.8 648.8,312.3 650.0,313.2 C651.2,314.2 652.3,315.2 653.1,316.4 C653.9,317.5 654.7,318.9 654.8,320.1 C654.8,321.3 654.3,322.8 653.5,323.5 C652.7,324.2 651.0,324.5 650.0,324.2 C649.0,324.0 648.1,323.0 647.5,322.0 C646.9,321.0 646.8,319.3 646.2,318.2 C645.7,317.2 644.8,316.6 644.4,315.8 C644.0,314.9 643.5,314.1 643.8,313.2Z" fill="#bdbdbd" stroke="#777" stroke-width="0.5" stroke-linejoin="round"/>
<path d="M592.5,315.1 C592.9,314.6 594.8,314.4 595.6,313.9 C596.5,313.3 596.8,311.9 597.5,311.8 C598.2,311.6 599.5,312.6 599.8,313.2 C600.0,313.9 599.4,315.1 598.8,315.8 C598.1,316.4 596.6,316.8 595.6,317.0 C594.7,317.2 593.6,317.1 593.1,316.8 C592.6,316.4 592.1,315.6 592.5,315.1Z" fill="#bdbdbd" stroke="#777" stroke-width="0.5" stroke-linejoin="round"/>
<path d="M603.8,320.1 C603.9,319.4 604.9,318.0 605.6,317.6 C606.4,317.3 607.8,317.4 608.1,318.0 C608.5,318.6 608.3,320.3 607.8,321.0 C607.2,321.7 605.7,322.1 605.0,322.0 C604.3,321.9 603.6,320.9 603.8,320.1Z" fill="#bdbdbd" stroke="#777" stroke-width="0.5" stroke-linejoin="round"/>
<path d="M612.5,337.0 C612.5,337.0 614.0,334.0 615.0,332.6 C616.0,331.3 617.3,329.9 618.8,328.9 C620.2,327.8 622.2,326.8 623.8,326.4 C625.3,326.0 627.0,325.8 628.1,326.4 C629.3,327.0 630.1,328.4 630.6,330.1 C631.1,331.9 631.2,337.0 631.2,337.0 C631.2,337.0 612.5,337.0 612.5,337.0Z" fill="#bdbdbd"/>
<path d="M612.5,337.0C612.5,337.0 614.0,334.0 615.0,332.6C616.0,331.3 617.3,329.9 618.8,328.9C620.2,327.8 622.2,326.8 623.8,326.4C625.3,326.0 627.0,325.8 628.1,326.4C629.3,327.0 630.1,328.4 630.6,330.1C631.1,331.9 631.2,337.0 631.2,337.0" fill="none" stroke="#777" stroke-width="0.5" stroke-linejoin="round"/>
<path d="M664.0,337.7 C664.4,337.1 665.7,336.1 666.7,336.1 C667.6,336.1 669.5,337.1 669.7,337.7 C669.9,338.3 668.5,339.4 667.7,339.7 C666.8,340.0 665.3,339.6 664.6,339.3 C664.0,339.0 663.7,338.2 664.0,337.7Z" fill="#bdbdbd" stroke="#777" stroke-width="0.5" stroke-linejoin="round"/>
<path d="M550.0,246.8 C550.0,246.1 551.2,244.8 552.5,244.2 C553.8,243.7 555.8,243.9 557.5,243.6 C559.2,243.3 561.0,243.0 562.5,242.4 C564.0,241.8 565.1,240.4 566.2,239.9 C567.4,239.4 568.6,238.9 569.4,239.2 C570.1,239.6 570.9,240.9 570.6,241.8 C570.3,242.6 568.9,243.5 567.5,244.2 C566.1,245.0 564.2,245.6 562.5,246.1 C560.8,246.6 559.2,247.1 557.5,247.4 C555.8,247.7 553.8,248.1 552.5,248.0 C551.2,247.9 550.0,247.4 550.0,246.8Z" fill="#1e78eb"/>
<path d="M581.0,342.9 C581.1,341.9 581.8,340.4 582.5,340.0 C583.2,339.6 584.4,339.8 585.0,340.4 C585.6,341.0 586.3,342.5 586.2,343.5 C586.2,344.5 585.5,346.2 584.8,346.6 C584.0,347.0 582.5,346.6 581.9,346.0 C581.2,345.4 580.9,343.9 581.0,342.9Z" fill="#1e78eb"/>
<path d="M600.0,335.4 C600.0,335.4 600.6,338.4 601.2,339.8 C601.9,341.1 602.9,342.0 603.8,343.5 C604.6,345.0 605.4,347.1 606.2,348.5 C607.1,349.9 607.9,351.0 608.8,351.6 C609.6,352.2 611.2,352.2 611.2,352.2 C611.2,352.2 611.2,335.4 611.2,335.4 C611.2,335.4 600.0,335.4 600.0,335.4Z" fill="#1e78eb"/>
<path d="M274.4,44.5 C274.4,44.5 278.2,48.1 280.0,49.5 C281.8,50.9 283.5,52.3 285.0,52.6 C286.5,52.9 287.6,51.2 288.8,51.4 C289.9,51.6 291.9,52.9 291.9,53.9 C291.9,54.8 289.9,55.9 288.8,57.0 C287.6,58.1 286.5,60.3 285.0,60.8 C283.5,61.2 281.5,60.2 280.0,59.5 C278.5,58.8 277.6,57.0 276.2,56.4 C274.9,55.8 272.7,55.4 271.9,55.8 C271.0,56.1 270.8,57.2 271.2,58.2 C271.7,59.3 273.1,61.1 274.4,62.0 C275.6,62.9 277.0,63.6 278.8,63.9 C280.5,64.2 283.1,63.6 285.0,63.9 C286.9,64.2 288.3,65.0 290.0,65.8 C291.7,66.5 293.3,67.5 295.0,68.2 C296.7,69.0 298.5,69.3 300.0,70.1 C301.5,71.0 302.5,71.9 303.8,73.2 C305.0,74.6 306.2,76.6 307.5,78.2 C308.8,79.9 310.1,81.8 311.2,83.2 C312.4,84.7 313.3,86.8 314.4,87.0 C315.4,87.2 316.4,85.2 317.5,84.5 C318.6,83.8 320.0,82.7 321.2,82.6 C322.5,82.5 324.7,83.1 325.0,83.9 C325.3,84.6 323.3,85.9 323.1,87.0 C322.9,88.1 323.2,89.5 323.8,90.8 C324.3,92.0 325.5,93.5 326.2,94.5 C327.0,95.5 327.3,97.0 328.1,97.0 C329.0,97.0 330.5,95.5 331.2,94.5 C332.0,93.5 332.3,92.2 332.5,90.8 C332.7,89.3 332.9,87.2 332.5,85.8 C332.1,84.3 330.0,82.8 330.0,82.0 C330.0,81.2 331.7,80.3 332.5,80.8 C333.3,81.2 334.2,83.0 335.0,84.5 C335.8,86.0 337.3,88.0 337.5,89.5 C337.7,91.0 336.8,92.0 336.2,93.2 C335.7,94.5 334.6,95.8 334.4,97.0 C334.2,98.2 334.3,99.9 335.0,100.8 C335.7,101.6 337.6,102.4 338.8,102.0 C339.9,101.6 341.5,99.7 341.9,98.2 C342.3,96.8 341.6,94.7 341.2,93.2 C340.9,91.8 339.8,91.0 340.0,89.5 C340.2,88.0 342.2,86.2 342.5,84.5 C342.8,82.8 342.3,80.8 341.9,79.5 C341.5,78.2 340.7,78.0 340.0,77.0 C339.3,76.0 338.3,74.3 337.5,73.2 C336.7,72.2 335.6,72.0 335.0,70.8 C334.4,69.5 334.2,67.4 333.8,65.8 C333.3,64.1 333.1,62.2 332.5,60.8 C331.9,59.3 330.8,58.2 330.0,57.0 C329.2,55.8 328.1,54.5 327.5,53.2 C326.9,52.0 326.5,51.0 326.2,49.5 C326.0,48.0 326.2,44.5 326.2,44.5 C326.2,44.5 274.4,44.5 274.4,44.5Z" fill="#1e78eb"/>
<path d="M338.1,44.5 C338.1,44.5 338.9,47.8 338.8,49.5 C338.6,51.2 338.1,53.1 337.5,54.5 C336.9,55.9 334.9,56.8 335.0,57.6 C335.1,58.5 336.9,58.7 338.1,59.5 C339.4,60.3 341.1,61.8 342.5,62.6 C343.9,63.5 345.0,64.4 346.2,64.5 C347.5,64.6 348.3,63.4 350.0,63.2 C351.7,63.1 356.2,63.9 356.2,63.9 C356.2,63.9 356.2,44.5 356.2,44.5 C356.2,44.5 338.1,44.5 338.1,44.5Z" fill="#1e78eb"/>
<path d="M321.2,139.1 C321.8,138.5 323.9,138.4 325.0,137.2 C326.1,136.1 327.1,133.6 328.1,132.2 C329.2,130.9 330.1,129.5 331.2,129.1 C332.4,128.7 334.0,128.8 335.0,129.8 C336.0,130.7 336.7,133.3 337.5,134.8 C338.3,136.2 339.0,137.5 340.0,138.5 C341.0,139.5 342.9,139.8 343.8,141.0 C344.6,142.2 345.0,144.3 345.0,146.0 C345.0,147.7 343.8,149.3 343.8,151.0 C343.8,152.7 344.5,154.3 345.0,156.0 C345.5,157.7 346.7,159.5 346.9,161.0 C347.1,162.5 347.0,164.2 346.2,164.8 C345.5,165.3 343.8,164.5 342.5,164.1 C341.2,163.7 340.0,162.9 338.8,162.2 C337.5,161.6 336.2,160.8 335.0,160.4 C333.8,160.0 332.4,160.1 331.2,159.8 C330.1,159.4 328.5,159.5 328.1,158.5 C327.7,157.5 328.4,155.2 328.8,153.5 C329.1,151.8 330.0,150.1 330.0,148.5 C330.0,146.9 329.6,145.2 328.8,144.1 C327.9,143.1 326.1,142.8 325.0,142.2 C323.9,141.7 322.5,141.5 321.9,141.0 C321.2,140.5 320.7,139.8 321.2,139.1Z" fill="#1e78eb"/>
<path d="M339.4,186.0 C339.6,184.5 340.3,183.1 341.2,182.2 C342.2,181.4 343.5,181.0 345.0,181.0 C346.5,181.0 348.3,181.8 350.0,182.2 C351.7,182.7 354.0,183.2 355.0,183.5 C356.0,183.8 356.2,184.1 356.2,184.1 C356.2,184.1 356.2,191.0 356.2,191.0 C356.2,191.0 340.0,191.0 340.0,191.0 C340.0,191.0 339.2,187.5 339.4,186.0Z" fill="#1e78eb"/>
<path d="M352.8,166.0 C353.2,164.3 356.2,164.8 356.2,164.8 C356.2,164.8 356.2,176.6 356.2,176.6 C356.2,176.6 354.1,176.5 353.5,174.8 C352.9,173.0 352.3,167.7 352.8,166.0Z" fill="#1e78eb"/>
<path d="M282.1,131.0 C282.2,130.5 283.5,130.1 284.0,130.2 C284.5,130.4 285.1,131.3 285.0,131.8 C284.9,132.2 284.0,133.1 283.5,133.0 C283.0,132.9 282.0,131.5 282.1,131.0Z" fill="#1e78eb"/>
<path d="M326.2,238.8 C326.6,237.3 327.1,235.8 328.1,235.0 C329.2,234.2 330.9,234.1 332.5,233.8 C334.1,233.4 335.8,233.5 337.5,233.1 C339.2,232.7 341.0,232.0 342.5,231.2 C344.0,230.5 345.0,229.4 346.2,228.8 C347.5,228.1 349.0,227.1 350.0,227.5 C351.0,227.9 352.3,229.8 352.5,231.2 C352.7,232.7 351.0,234.8 351.2,236.2 C351.5,237.7 352.9,239.2 353.8,240.0 C354.6,240.8 356.2,241.2 356.2,241.2 C356.2,241.2 356.2,248.8 356.2,248.8 C356.2,248.8 353.5,249.2 352.5,250.0 C351.5,250.8 350.8,252.5 350.0,253.8 C349.2,255.0 348.5,256.6 347.5,257.5 C346.5,258.4 345.2,259.4 343.8,259.4 C342.3,259.4 340.2,258.2 338.8,257.5 C337.3,256.8 336.2,255.8 335.0,255.0 C333.8,254.2 332.4,253.5 331.2,252.5 C330.1,251.5 329.0,250.2 328.1,248.8 C327.3,247.3 326.6,245.4 326.2,243.8 C325.9,242.1 325.9,240.2 326.2,238.8Z" fill="#1e78eb"/>
<path d="M455.0,114.5 C455.7,113.8 457.5,113.1 458.8,112.6 C460.0,112.1 461.2,111.7 462.5,111.4 C463.8,111.1 466.2,110.8 466.2,110.8 C466.2,110.8 466.2,117.0 466.2,117.0 C466.2,117.0 454.4,117.0 454.4,117.0 C454.4,117.0 454.3,115.2 455.0,114.5Z" fill="#1e78eb"/>
<path d="M425.9,112.6 C426.3,112.2 427.9,111.6 428.8,111.8 C429.6,111.9 430.8,112.8 430.8,113.2 C430.8,113.8 429.5,114.6 428.8,114.8 C428.0,114.9 426.7,114.6 426.2,114.2 C425.8,113.9 425.5,113.0 425.9,112.6Z" fill="#1e78eb"/>
<path d="M354.4,157.2 C354.4,157.2 357.4,156.1 358.8,156.2 C360.1,156.4 361.4,157.1 362.5,157.9 C363.6,158.7 365.0,159.9 365.6,161.0 C366.2,162.1 366.6,163.7 366.2,164.8 C365.9,165.8 364.8,166.9 363.8,167.5 C362.7,168.1 361.6,168.2 360.0,168.5 C358.4,168.8 354.4,169.1 354.4,169.1 C354.4,169.1 354.4,157.2 354.4,157.2Z" fill="#1e78eb"/>
<path d="M375.0,162.9 C375.1,161.5 376.0,159.5 376.9,158.5 C377.7,157.5 379.0,156.6 380.0,156.6 C381.0,156.6 382.1,157.6 382.8,158.5 C383.4,159.4 383.9,161.0 384.0,162.2 C384.1,163.5 383.8,165.1 383.1,166.0 C382.5,166.9 381.1,167.4 380.0,167.5 C378.9,167.6 377.1,167.4 376.2,166.6 C375.4,165.9 374.9,164.2 375.0,162.9Z" fill="#1e78eb"/>
<path d="M405.0,127.2 C405.1,125.9 406.2,123.6 407.5,122.2 C408.8,120.9 410.6,119.9 412.5,119.1 C414.4,118.3 416.9,117.6 418.8,117.5 C420.6,117.4 422.4,117.7 423.8,118.5 C425.1,119.3 426.2,120.8 426.9,122.2 C427.5,123.7 427.5,125.6 427.5,127.2 C427.5,128.9 427.4,130.8 426.9,132.2 C426.4,133.7 425.7,135.3 424.4,136.0 C423.0,136.7 420.5,136.8 418.8,136.6 C417.0,136.4 415.2,135.5 413.8,134.8 C412.3,134.0 411.1,133.0 410.0,132.2 C408.9,131.5 407.7,131.2 406.9,130.4 C406.0,129.5 404.9,128.6 405.0,127.2Z" fill="#1e78eb"/>
<path d="M412.2,168.5 C412.4,167.5 413.0,166.3 413.8,165.8 C414.5,165.2 416.0,165.0 416.9,165.4 C417.8,165.7 418.8,166.8 419.0,167.9 C419.2,168.9 418.8,170.8 418.1,171.6 C417.5,172.5 415.9,172.9 415.0,172.9 C414.1,172.9 413.2,172.4 412.8,171.6 C412.3,170.9 412.1,169.5 412.2,168.5Z" fill="#1e78eb"/>
<path d="M348.0,330.9 C348.3,330.2 349.7,329.9 350.9,329.7 C352.1,329.4 353.7,329.4 355.0,329.2 C356.3,329.1 358.0,328.4 358.9,328.6 C359.8,328.8 360.4,329.9 360.3,330.5 C360.2,331.0 359.2,331.8 358.3,331.9 C357.4,332.0 356.1,331.3 355.0,331.3 C353.9,331.3 352.4,331.3 351.4,331.7 C350.5,332.1 349.9,333.9 349.4,333.7 C348.8,333.6 347.8,331.6 348.0,330.9Z" fill="#1e78eb"/>
<path d="M606.2,335.4 C606.2,335.4 606.5,339.2 606.9,341.0 C607.3,342.8 608.0,344.9 608.8,346.0 C609.5,347.1 611.2,347.9 611.2,347.9 C611.2,347.9 611.2,335.4 611.2,335.4 C611.2,335.4 606.2,335.4 606.2,335.4Z" fill="#87cefa"/>
<path d="M300.2,56.4 C300.6,55.6 302.1,54.9 303.1,54.9 C304.1,54.9 305.6,55.6 306.2,56.4 C306.9,57.1 307.2,58.5 306.9,59.2 C306.6,60.0 305.3,60.7 304.4,60.8 C303.4,60.8 301.9,60.2 301.2,59.5 C300.6,58.8 299.9,57.1 300.2,56.4Z" fill="#1423af"/>
<path d="M320.0,75.8 C320.3,75.1 321.8,74.6 322.5,74.8 C323.2,74.9 324.3,76.1 324.5,76.8 C324.7,77.4 324.1,78.5 323.5,78.9 C322.9,79.2 321.3,79.3 320.8,78.8 C320.2,78.2 319.7,76.4 320.0,75.8Z" fill="#1423af"/>
<path d="M296.9,44.5 C296.9,44.5 310.0,44.5 310.0,44.5 C310.0,44.5 309.6,47.3 308.8,48.2 C307.9,49.2 306.5,49.8 305.0,50.1 C303.5,50.4 301.2,50.4 300.0,50.1 C298.8,49.8 298.0,49.2 297.5,48.2 C297.0,47.3 296.9,44.5 296.9,44.5Z" fill="#87cefa"/>
<path d="M309.8,68.2 C310.3,67.7 311.7,67.2 312.5,67.6 C313.3,68.0 314.2,69.6 314.4,70.8 C314.5,71.9 314.1,73.7 313.5,74.2 C312.9,74.8 311.3,74.4 310.6,73.9 C309.9,73.3 309.5,71.9 309.4,71.0 C309.2,70.1 309.2,68.8 309.8,68.2Z" fill="#87cefa"/>
<path d="M339.0,51.4 C339.4,50.4 340.9,49.2 342.5,48.5 C344.1,47.8 346.7,47.4 348.8,47.0 C350.8,46.6 353.1,46.2 355.0,46.0 C356.9,45.8 359.1,45.2 360.0,45.8 C360.9,46.3 361.0,48.5 360.6,49.5 C360.2,50.5 358.9,51.4 357.5,52.0 C356.1,52.6 354.0,52.8 352.5,53.2 C351.0,53.7 350.2,54.1 348.8,54.5 C347.3,54.9 345.2,55.5 343.8,55.5 C342.3,55.5 340.8,55.2 340.0,54.5 C339.2,53.8 338.6,52.4 339.0,51.4Z" fill="#87cefa"/>
<path d="M341.2,187.2 C341.9,186.4 343.8,185.8 345.0,186.0 C346.2,186.2 348.0,187.7 348.8,188.5 C349.5,189.3 349.4,191.0 349.4,191.0 C349.4,191.0 341.2,191.0 341.2,191.0 C341.2,191.0 340.6,188.1 341.2,187.2Z" fill="#87cefa"/>
<path d="M330.2,243.1 C330.4,242.1 331.5,241.2 332.5,241.0 C333.5,240.8 335.2,241.2 336.2,241.9 C337.2,242.5 338.2,243.9 338.5,245.0 C338.8,246.1 338.7,248.1 338.1,248.8 C337.5,249.4 336.0,249.1 335.0,248.8 C334.0,248.4 332.7,247.8 331.9,246.9 C331.1,245.9 330.1,244.1 330.2,243.1Z" fill="#87cefa"/>
<path d="M463.2,102.2 C463.2,102.2 464.7,101.0 466.2,100.5 C467.8,100.0 470.4,99.6 472.5,99.2 C474.6,98.9 476.9,98.5 478.8,98.5 C480.6,98.5 483.1,98.3 483.8,99.0 C484.4,99.7 483.5,101.5 482.5,102.5 C481.5,103.5 479.4,104.3 477.5,105.0 C475.6,105.7 473.3,106.3 471.2,106.8 C469.2,107.2 466.3,107.3 465.0,107.5 C463.7,107.7 463.2,107.8 463.2,107.8 C463.2,107.8 463.2,102.2 463.2,102.2Z" fill="#00008b"/>
<path d="M670.8,190.0 C670.8,190.0 672.3,187.1 673.5,186.2 C674.7,185.4 676.3,185.4 677.8,185.0 C679.2,184.6 682.0,183.8 682.0,183.8 C682.0,183.8 682.0,190.0 682.0,190.0 C682.0,190.0 670.8,190.0 670.8,190.0Z" fill="#00008b"/>
<path d="M490.0,219.2 C490.4,217.9 491.5,215.7 492.5,214.9 C493.5,214.0 495.2,213.8 496.2,214.2 C497.2,214.7 498.2,216.1 498.5,217.4 C498.8,218.6 498.1,220.4 497.8,221.8 C497.4,223.1 496.2,224.6 496.2,225.5 C496.3,226.4 497.1,227.5 498.1,227.4 C499.2,227.3 500.9,225.7 502.5,224.9 C504.1,224.0 505.8,222.9 507.5,222.4 C509.2,221.9 511.4,221.5 512.5,221.8 C513.6,222.0 514.6,222.9 514.4,223.6 C514.2,224.4 512.4,225.2 511.2,226.1 C510.1,227.1 508.8,228.2 507.5,229.2 C506.2,230.3 505.0,231.3 503.8,232.4 C502.5,233.4 501.2,234.6 500.0,235.5 C498.8,236.4 497.6,237.5 496.2,238.0 C494.9,238.5 492.9,238.8 491.9,238.6 C490.8,238.4 489.8,237.7 490.0,236.8 C490.2,235.8 492.4,234.2 493.1,233.0 C493.9,231.8 494.6,230.4 494.4,229.2 C494.2,228.1 492.6,227.2 491.9,226.1 C491.1,225.1 490.3,224.1 490.0,223.0 C489.7,221.9 489.6,220.6 490.0,219.2Z" fill="#00008b"/>
<path d="M576.2,220.5 C576.2,220.5 572.6,220.5 571.2,221.1 C569.9,221.8 568.9,222.9 568.1,224.2 C567.4,225.6 566.6,227.8 566.9,229.2 C567.2,230.7 568.9,232.2 570.0,233.0 C571.1,233.8 572.7,233.9 573.8,234.2 C574.8,234.6 576.2,234.9 576.2,234.9 C576.2,234.9 576.2,220.5 576.2,220.5Z" fill="#00008b"/>
<path d="M556.2,251.8 C556.6,250.4 558.5,249.2 560.0,248.6 C561.5,248.0 563.5,247.8 565.0,248.0 C566.5,248.2 568.0,248.8 568.8,249.9 C569.5,250.9 569.6,252.9 569.4,254.2 C569.2,255.6 568.6,257.2 567.5,258.0 C566.4,258.8 564.1,259.5 562.5,259.2 C560.9,259.0 559.2,258.0 558.1,256.8 C557.1,255.5 555.9,253.1 556.2,251.8Z" fill="#00008b"/>
<path d="M571.2,253.0 C571.7,251.9 572.9,251.0 573.8,250.5 C574.6,250.0 576.2,249.9 576.2,249.9 C576.2,249.9 576.2,261.8 576.2,261.8 C576.2,261.8 574.0,261.9 573.1,261.1 C572.3,260.4 571.6,258.7 571.2,257.4 C570.9,256.0 570.8,254.1 571.2,253.0Z" fill="#00008b"/>
<path d="M535.6,291.4 C536.0,290.9 538.4,290.3 540.0,290.5 C541.6,290.7 543.8,291.8 545.0,292.6 C546.2,293.5 547.5,295.1 547.5,295.8 C547.5,296.4 546.0,296.5 545.0,296.4 C544.0,296.2 542.5,295.3 541.2,294.8 C540.0,294.2 538.4,293.8 537.5,293.2 C536.6,292.7 535.2,291.8 535.6,291.4Z" fill="#00008b"/>
<path d="M653.1,198.0 C653.5,196.6 655.9,196.0 657.5,195.5 C659.1,195.0 660.8,194.8 662.5,194.9 C664.2,195.0 666.0,195.4 667.5,196.1 C669.0,196.9 670.5,198.0 671.2,199.2 C672.0,200.5 672.3,202.3 671.9,203.6 C671.5,205.0 670.1,206.5 668.8,207.4 C667.4,208.2 665.4,208.7 663.8,208.6 C662.1,208.5 660.2,207.6 658.8,206.8 C657.3,205.9 655.9,205.1 655.0,203.6 C654.1,202.2 652.7,199.4 653.1,198.0Z" fill="#00008b"/>
<path d="M647.5,191.8 C647.7,190.8 650.0,190.1 651.2,189.9 C652.5,189.7 654.6,189.9 655.0,190.5 C655.4,191.1 654.6,192.8 653.8,193.6 C652.9,194.5 651.0,195.8 650.0,195.5 C649.0,195.2 647.3,192.7 647.5,191.8Z" fill="#00008b"/>
<path d="M672.5,187.4 C672.5,187.4 672.9,191.4 673.8,193.0 C674.6,194.6 676.2,195.9 677.5,196.8 C678.8,197.6 681.2,198.0 681.2,198.0 C681.2,198.0 681.2,187.4 681.2,187.4 C681.2,187.4 672.5,187.4 672.5,187.4Z" fill="#00008b"/>
<path d="M613.1,214.5 C613.3,214.1 614.6,213.8 615.0,214.0 C615.4,214.2 615.8,215.4 615.6,215.8 C615.4,216.1 614.2,216.5 613.8,216.2 C613.3,216.0 612.9,214.9 613.1,214.5Z" fill="#00008b"/>
<path d="M616.9,217.4 C617.2,217.0 618.9,216.7 619.4,217.0 C619.9,217.3 620.3,218.6 620.0,219.0 C619.7,219.4 618.0,219.8 617.5,219.5 C617.0,219.2 616.6,217.8 616.9,217.4Z" fill="#00008b"/>
<path d="M577.5,221.1 C577.9,220.2 579.8,219.9 581.2,219.9 C582.7,219.9 584.7,220.6 586.2,221.1 C587.8,221.6 589.8,222.3 590.6,223.0 C591.5,223.7 591.8,224.8 591.2,225.5 C590.7,226.2 589.0,227.0 587.5,227.4 C586.0,227.8 584.0,228.3 582.5,228.0 C581.0,227.7 579.6,226.6 578.8,225.5 C577.9,224.4 577.1,222.1 577.5,221.1Z" fill="#00008b"/>
<path d="M574.4,229.2 C574.4,229.2 577.2,230.6 578.8,231.1 C580.3,231.6 582.1,231.9 583.8,232.4 C585.4,232.9 587.6,233.6 588.8,234.2 C589.9,234.9 590.8,235.6 590.6,236.1 C590.4,236.6 588.9,237.4 587.5,237.4 C586.1,237.4 584.2,236.4 582.5,236.1 C580.8,235.8 578.9,235.5 577.5,235.5 C576.1,235.5 574.4,236.1 574.4,236.1 C574.4,236.1 574.4,229.2 574.4,229.2Z" fill="#00008b"/>
<path d="M588.8,238.6 C590.0,237.4 592.4,236.6 593.8,236.8 C595.1,236.9 596.7,238.1 596.9,239.2 C597.1,240.4 595.9,242.4 595.0,243.6 C594.1,244.9 592.5,246.1 591.2,246.8 C590.0,247.4 588.3,247.8 587.5,247.4 C586.7,247.0 586.0,245.7 586.2,244.2 C586.5,242.8 587.5,239.9 588.8,238.6Z" fill="#00008b"/>
<path d="M574.4,248.0 C574.4,248.0 577.6,248.4 578.8,249.2 C579.9,250.1 581.0,251.5 581.2,253.0 C581.5,254.5 580.4,256.3 580.0,258.0 C579.6,259.7 578.8,263.0 578.8,263.0 C578.8,263.0 574.4,263.0 574.4,263.0 C574.4,263.0 574.4,248.0 574.4,248.0Z" fill="#00008b"/>
<path d="M582.5,249.2 C583.0,248.5 585.2,247.8 586.2,248.0 C587.3,248.2 588.8,249.7 588.8,250.5 C588.8,251.3 587.2,252.7 586.2,253.0 C585.3,253.3 583.8,253.0 583.1,252.4 C582.5,251.8 582.0,250.0 582.5,249.2Z" fill="#00008b"/>
<path d="M587.5,268.2 C587.6,267.3 588.5,265.9 589.4,265.5 C590.2,265.1 591.8,265.3 592.5,265.8 C593.2,266.2 593.9,267.4 593.8,268.2 C593.6,269.1 592.7,270.5 591.9,271.0 C591.0,271.5 589.5,271.5 588.8,271.0 C588.0,270.5 587.4,269.2 587.5,268.2Z" fill="#00008b"/>
<path d="M586.2,354.8 C586.9,353.4 587.7,352.0 588.8,351.0 C589.8,350.0 591.2,349.0 592.5,348.5 C593.8,348.0 595.5,347.2 596.2,347.9 C597.0,348.5 597.1,350.8 596.9,352.2 C596.7,353.7 594.7,355.4 595.0,356.6 C595.3,357.9 597.3,359.6 598.8,359.8 C600.2,359.9 602.3,357.9 603.8,357.2 C605.2,356.6 606.7,355.8 607.5,356.0 C608.3,356.2 609.0,357.4 608.8,358.5 C608.5,359.6 607.3,361.6 606.2,362.9 C605.2,364.1 603.8,365.3 602.5,366.0 C601.2,366.7 599.9,367.4 598.8,367.2 C597.6,367.1 596.7,365.2 595.6,365.4 C594.6,365.6 593.6,368.1 592.5,368.5 C591.4,368.9 589.8,368.6 588.8,367.9 C587.7,367.1 586.9,365.6 586.2,364.1 C585.6,362.7 585.0,360.7 585.0,359.1 C585.0,357.6 585.6,356.1 586.2,354.8Z" fill="#00008b"/>
<path d="M577.1,352.2 C577.1,351.7 578.0,350.6 578.5,350.6 C579.0,350.6 580.0,351.7 580.0,352.2 C580.0,352.8 579.2,354.1 578.8,354.1 C578.3,354.1 577.2,352.8 577.1,352.2Z" fill="#00008b"/>
<path d="M172.5,44.5 C172.5,44.5 175.8,48.0 177.5,49.5 C179.2,51.0 180.8,51.8 182.5,53.2 C184.2,54.7 186.2,56.6 187.5,58.2 C188.8,59.9 189.0,61.8 190.0,63.2 C191.0,64.7 192.3,65.8 193.8,67.0 C195.2,68.2 197.1,69.7 198.8,70.8 C200.4,71.8 202.1,72.4 203.8,73.2 C205.4,74.1 207.1,74.7 208.8,75.8 C210.4,76.8 212.1,78.2 213.8,79.5 C215.4,80.8 217.1,82.0 218.8,83.2 C220.4,84.5 222.2,85.8 223.8,87.0 C225.3,88.2 226.9,89.9 228.1,90.8 C229.4,91.6 230.3,91.4 231.2,92.0 C232.2,92.6 232.5,93.7 233.8,94.5 C235.0,95.3 237.1,96.4 238.8,97.0 C240.4,97.6 242.5,97.9 243.8,98.2 C245.0,98.6 246.2,98.9 246.2,98.9 C246.2,98.9 246.2,44.5 246.2,44.5 C246.2,44.5 172.5,44.5 172.5,44.5Z" fill="#00008b"/>
<path d="M243.8,52.6 C243.8,52.6 248.1,53.4 250.0,53.9 C251.9,54.4 253.3,55.0 255.0,55.8 C256.7,56.5 258.3,57.4 260.0,58.2 C261.7,59.1 263.5,60.0 265.0,60.8 C266.5,61.5 267.6,61.6 268.8,62.6 C269.9,63.7 270.6,66.0 271.9,67.0 C273.1,68.0 274.7,68.1 276.2,68.9 C277.8,69.6 279.6,71.2 281.2,71.4 C282.9,71.6 284.8,69.9 286.2,70.1 C287.7,70.3 289.3,71.3 290.0,72.6 C290.7,74.0 290.2,77.1 290.6,78.2 C291.0,79.4 291.4,79.6 292.5,79.5 C293.6,79.4 295.9,77.8 297.5,77.6 C299.1,77.4 300.6,77.5 301.9,78.2 C303.1,79.0 304.1,80.8 305.0,82.0 C305.9,83.2 306.7,84.4 307.5,85.8 C308.3,87.1 309.2,88.9 310.0,90.1 C310.8,91.4 311.5,93.2 312.5,93.2 C313.5,93.2 315.0,91.0 316.2,90.1 C317.5,89.3 319.0,87.9 320.0,88.2 C321.0,88.6 321.7,90.5 322.5,92.0 C323.3,93.5 325.0,96.1 325.0,97.0 C325.0,97.9 323.3,97.0 322.5,97.6 C321.7,98.2 320.4,99.2 320.0,100.8 C319.6,102.3 319.8,105.1 320.0,107.0 C320.2,108.9 320.8,110.3 321.2,112.0 C321.7,113.7 322.5,117.0 322.5,117.0 C322.5,117.0 243.8,117.0 243.8,117.0 C243.8,117.0 243.8,52.6 243.8,52.6Z" fill="#00008b"/>
<path d="M348.8,90.1 C349.6,89.4 351.2,89.0 352.5,88.9 C353.8,88.8 356.2,89.5 356.2,89.5 C356.2,89.5 356.2,112.0 356.2,112.0 C356.2,112.0 353.8,110.8 352.5,109.5 C351.2,108.2 349.7,106.4 348.8,104.5 C347.8,102.6 347.1,100.1 346.9,98.2 C346.7,96.4 347.2,94.6 347.5,93.2 C347.8,91.9 347.9,90.9 348.8,90.1Z" fill="#00008b"/>
<path d="M326.2,112.0 C327.1,110.9 328.5,110.3 330.0,110.1 C331.5,109.9 333.3,110.4 335.0,110.8 C336.7,111.1 338.5,111.5 340.0,112.0 C341.5,112.5 342.7,113.0 343.8,113.9 C344.8,114.7 346.2,117.0 346.2,117.0 C346.2,117.0 325.0,117.0 325.0,117.0 C325.0,117.0 325.4,113.1 326.2,112.0Z" fill="#00008b"/>
<path d="M261.9,115.4 C261.9,115.4 262.7,119.0 263.8,121.0 C264.8,123.0 266.6,125.4 268.1,127.2 C269.7,129.1 271.7,130.6 273.1,132.2 C274.6,133.9 275.7,135.5 276.9,137.2 C278.0,139.0 279.2,141.0 280.0,142.9 C280.8,144.8 281.6,146.7 281.9,148.5 C282.1,150.3 282.0,152.0 281.5,153.5 C281.0,155.0 279.5,155.9 279.0,157.2 C278.5,158.6 278.1,160.2 278.2,161.6 C278.4,163.1 279.4,164.4 280.0,166.0 C280.6,167.6 281.1,169.6 281.9,171.0 C282.6,172.4 283.9,173.1 284.4,174.1 C284.9,175.2 285.0,175.9 285.0,177.2 C285.0,178.6 284.4,180.6 284.4,182.2 C284.4,183.9 284.8,185.8 285.0,187.2 C285.2,188.7 285.6,191.0 285.6,191.0 C285.6,191.0 338.1,191.0 338.1,191.0 C338.1,191.0 337.2,187.7 337.5,186.0 C337.8,184.3 339.0,182.5 340.0,181.0 C341.0,179.5 342.5,178.3 343.8,177.2 C345.0,176.2 346.5,175.6 347.5,174.8 C348.5,173.9 350.0,172.9 350.0,172.2 C350.0,171.6 348.8,171.2 347.5,171.0 C346.2,170.8 344.2,171.2 342.5,171.0 C340.8,170.8 339.2,170.4 337.5,169.8 C335.8,169.1 334.0,168.2 332.5,167.2 C331.0,166.3 329.8,165.2 328.8,164.1 C327.7,163.1 326.9,162.1 326.2,161.0 C325.6,159.9 325.0,158.7 325.0,157.2 C325.0,155.8 325.9,153.9 326.2,152.2 C326.6,150.6 327.1,148.7 326.9,147.2 C326.7,145.8 325.9,144.3 325.0,143.5 C324.1,142.7 322.3,143.1 321.2,142.2 C320.2,141.4 319.0,139.8 318.8,138.5 C318.5,137.2 319.4,136.0 320.0,134.8 C320.6,133.5 321.7,132.0 322.5,131.0 C323.3,130.0 325.0,129.5 325.0,128.5 C325.0,127.5 323.5,125.6 322.5,124.8 C321.5,123.9 319.8,123.3 318.8,123.5 C317.7,123.7 317.2,125.0 316.2,126.0 C315.3,127.0 314.2,128.7 313.1,129.8 C312.1,130.8 310.8,132.2 310.0,132.2 C309.2,132.2 309.2,130.4 308.1,129.8 C307.1,129.1 304.9,129.3 303.8,128.5 C302.6,127.7 301.9,126.0 301.2,124.8 C300.6,123.5 300.1,122.6 300.0,121.0 C299.9,119.4 300.6,115.4 300.6,115.4 C300.6,115.4 261.9,115.4 261.9,115.4Z" fill="#00008b"/>
<path d="M332.5,115.4 C332.5,115.4 332.5,119.4 333.1,121.0 C333.8,122.6 334.9,123.8 336.2,124.8 C337.6,125.7 339.6,126.5 341.2,126.6 C342.9,126.7 344.6,125.5 346.2,125.4 C347.9,125.3 349.6,126.1 351.2,126.0 C352.9,125.9 356.2,124.8 356.2,124.8 C356.2,124.8 356.2,115.4 356.2,115.4 C356.2,115.4 332.5,115.4 332.5,115.4Z" fill="#00008b"/>
<path d="M351.2,144.8 C351.9,143.5 356.2,143.5 356.2,143.5 C356.2,143.5 356.2,151.6 356.2,151.6 C356.2,151.6 353.3,152.1 352.5,151.0 C351.7,149.9 350.6,146.0 351.2,144.8Z" fill="#00008b"/>
<path d="M270.0,211.9 C270.0,211.0 271.9,210.5 273.1,210.0 C274.4,209.5 276.1,208.6 277.5,208.8 C278.9,208.9 280.0,210.6 281.2,210.6 C282.5,210.6 283.9,209.6 285.0,208.8 C286.1,207.9 286.9,206.2 288.1,205.6 C289.4,205.0 290.9,204.5 292.5,205.0 C294.1,205.5 296.6,207.3 297.5,208.8 C298.4,210.2 298.2,212.1 298.1,213.8 C298.0,215.4 297.6,217.5 296.9,218.8 C296.1,220.0 295.0,220.7 293.8,221.2 C292.5,221.8 290.8,222.1 289.4,221.9 C287.9,221.7 286.4,220.6 285.0,220.0 C283.6,219.4 282.6,218.6 281.2,218.1 C279.9,217.6 278.2,217.4 276.9,216.9 C275.5,216.4 274.3,215.8 273.1,215.0 C272.0,214.2 270.0,212.7 270.0,211.9Z" fill="#00008b"/>
<path d="M291.9,189.4 C291.9,189.4 292.0,193.2 292.5,195.0 C293.0,196.8 294.0,198.5 295.0,200.0 C296.0,201.5 297.9,202.3 298.8,203.8 C299.6,205.2 300.0,207.1 300.0,208.8 C300.0,210.4 299.1,212.1 298.8,213.8 C298.4,215.4 298.1,217.1 298.1,218.8 C298.1,220.4 298.4,222.3 298.8,223.8 C299.1,225.2 299.2,226.2 300.0,227.5 C300.8,228.8 302.5,230.0 303.8,231.2 C305.0,232.5 306.5,233.5 307.5,235.0 C308.5,236.5 309.4,238.3 310.0,240.0 C310.6,241.7 310.7,243.5 311.2,245.0 C311.8,246.5 312.1,247.7 313.1,248.8 C314.2,249.8 316.4,250.2 317.5,251.2 C318.6,252.3 319.7,253.5 320.0,255.0 C320.3,256.5 319.6,258.3 319.4,260.0 C319.2,261.7 318.8,265.0 318.8,265.0 C318.8,265.0 345.0,265.0 345.0,265.0 C345.0,265.0 342.5,262.2 341.2,261.2 C340.0,260.3 339.0,260.2 337.5,259.4 C336.0,258.5 334.0,257.4 332.5,256.2 C331.0,255.1 329.8,253.8 328.8,252.5 C327.7,251.2 326.9,250.2 326.2,248.8 C325.6,247.3 325.2,245.4 325.0,243.8 C324.8,242.1 324.8,240.4 325.0,238.8 C325.2,237.1 325.4,234.9 326.2,233.8 C327.1,232.6 328.5,232.3 330.0,231.9 C331.5,231.5 333.3,231.6 335.0,231.2 C336.7,230.9 338.5,230.8 340.0,230.0 C341.5,229.2 342.9,227.7 343.8,226.2 C344.6,224.8 345.0,222.9 345.0,221.2 C345.0,219.6 343.8,217.9 343.8,216.2 C343.8,214.6 345.0,212.9 345.0,211.2 C345.0,209.6 344.4,207.7 343.8,206.2 C343.1,204.8 341.9,204.0 341.2,202.5 C340.6,201.0 340.0,199.2 340.0,197.5 C340.0,195.8 340.9,193.9 341.2,192.5 C341.6,191.1 341.9,189.4 341.9,189.4 C341.9,189.4 291.9,189.4 291.9,189.4Z" fill="#00008b"/>
<path d="M346.2,215.0 C347.0,214.0 348.8,213.5 350.0,213.8 C351.2,214.0 352.9,215.0 353.8,216.2 C354.6,217.5 355.0,219.6 355.0,221.2 C355.0,222.9 354.6,225.2 353.8,226.2 C352.9,227.3 351.1,227.7 350.0,227.5 C348.9,227.3 347.6,226.2 346.9,225.0 C346.1,223.8 345.7,221.7 345.6,220.0 C345.5,218.3 345.5,216.0 346.2,215.0Z" fill="#00008b"/>
<path d="M326.2,263.4 C326.2,263.4 327.9,267.0 328.8,269.0 C329.6,271.0 330.2,273.4 331.2,275.2 C332.3,277.1 333.5,278.8 335.0,280.2 C336.5,281.7 338.3,283.6 340.0,284.0 C341.7,284.4 343.3,282.8 345.0,282.8 C346.7,282.8 348.5,284.2 350.0,284.0 C351.5,283.8 352.7,282.3 353.8,281.5 C354.8,280.7 356.2,279.0 356.2,279.0 C356.2,279.0 356.2,263.4 356.2,263.4 C356.2,263.4 326.2,263.4 326.2,263.4Z" fill="#00008b"/>
<path d="M342.5,307.8 C342.9,306.8 344.0,306.3 345.0,305.9 C346.0,305.5 347.5,305.1 348.8,305.2 C350.0,305.4 351.2,306.1 352.5,306.5 C353.8,306.9 356.2,307.8 356.2,307.8 C356.2,307.8 356.2,317.8 356.2,317.8 C356.2,317.8 353.8,316.8 352.5,316.5 C351.2,316.2 350.0,316.3 348.8,315.9 C347.5,315.5 346.0,314.7 345.0,314.0 C344.0,313.3 342.9,312.5 342.5,311.5 C342.1,310.5 342.1,308.7 342.5,307.8Z" fill="#00008b"/>
<path d="M354.4,73.2 C354.4,73.2 358.2,74.1 360.0,75.1 C361.8,76.2 363.3,78.1 365.0,79.5 C366.7,80.9 368.3,82.2 370.0,83.2 C371.7,84.3 373.3,84.9 375.0,85.8 C376.7,86.6 378.1,87.3 380.0,88.2 C381.9,89.2 384.2,90.3 386.2,91.4 C388.3,92.4 390.6,93.6 392.5,94.5 C394.4,95.4 395.8,96.6 397.5,97.0 C399.2,97.4 400.8,97.2 402.5,97.0 C404.2,96.8 405.8,95.8 407.5,95.8 C409.2,95.8 410.8,96.5 412.5,97.0 C414.2,97.5 415.6,98.5 417.5,98.9 C419.4,99.3 421.7,99.2 423.8,99.5 C425.8,99.8 427.9,100.4 430.0,100.8 C432.1,101.1 434.2,101.2 436.2,101.4 C438.3,101.6 440.6,102.0 442.5,102.0 C444.4,102.0 445.8,101.6 447.5,101.4 C449.2,101.2 450.8,100.6 452.5,100.8 C454.2,100.9 455.8,101.6 457.5,102.0 C459.2,102.4 461.0,103.0 462.5,103.2 C464.0,103.5 466.2,103.2 466.2,103.2 C466.2,103.2 466.2,110.1 466.2,110.1 C466.2,110.1 462.9,109.4 461.2,109.5 C459.6,109.6 457.9,110.3 456.2,110.8 C454.6,111.2 452.9,112.0 451.2,112.0 C449.6,112.0 447.7,110.8 446.2,110.8 C444.8,110.8 444.0,111.6 442.5,112.0 C441.0,112.4 439.2,113.2 437.5,113.2 C435.8,113.2 434.2,112.5 432.5,112.0 C430.8,111.5 429.2,110.3 427.5,110.1 C425.8,109.9 424.2,110.2 422.5,110.8 C420.8,111.3 419.2,112.7 417.5,113.2 C415.8,113.8 414.2,113.7 412.5,113.9 C410.8,114.1 409.2,114.5 407.5,114.5 C405.8,114.5 404.2,114.3 402.5,113.9 C400.8,113.5 399.2,112.9 397.5,112.0 C395.8,111.1 394.2,109.5 392.5,108.2 C390.8,107.0 389.2,105.5 387.5,104.5 C385.8,103.5 384.2,102.7 382.5,102.0 C380.8,101.3 379.2,101.0 377.5,100.1 C375.8,99.3 374.0,97.9 372.5,97.0 C371.0,96.1 369.8,94.5 368.8,94.5 C367.7,94.5 367.1,96.0 366.2,97.0 C365.4,98.0 364.8,99.9 363.8,100.8 C362.7,101.6 361.6,102.0 360.0,102.0 C358.4,102.0 354.4,100.8 354.4,100.8 C354.4,100.8 354.4,73.2 354.4,73.2Z" fill="#00008b"/>
<path d="M354.4,100.8 C354.4,100.8 358.3,101.4 360.0,102.0 C361.7,102.6 363.4,103.5 364.4,104.5 C365.3,105.5 365.9,107.0 365.6,108.2 C365.3,109.5 363.6,111.1 362.5,112.0 C361.4,112.9 360.1,113.5 358.8,113.9 C357.4,114.3 354.4,114.5 354.4,114.5 C354.4,114.5 354.4,100.8 354.4,100.8Z" fill="#00008b"/>
<path d="M367.5,117.0 C367.5,117.0 368.8,114.6 370.0,113.9 C371.2,113.1 373.3,112.9 375.0,112.6 C376.7,112.3 378.1,112.0 380.0,112.0 C381.9,112.0 384.4,112.2 386.2,112.6 C388.1,113.0 390.2,113.8 391.2,114.5 C392.3,115.2 392.5,117.0 392.5,117.0 C392.5,117.0 367.5,117.0 367.5,117.0Z" fill="#00008b"/>
<path d="M354.4,115.4 C354.4,115.4 400.0,115.4 400.0,115.4 C400.0,115.4 400.3,118.2 400.6,119.8 C400.9,121.3 401.1,123.1 401.9,124.8 C402.6,126.4 403.9,128.3 405.0,129.8 C406.1,131.2 407.3,132.5 408.8,133.5 C410.2,134.5 412.1,135.3 413.8,136.0 C415.4,136.7 417.1,137.5 418.8,137.9 C420.4,138.3 421.9,138.1 423.8,138.5 C425.6,138.9 427.9,139.6 430.0,140.4 C432.1,141.1 434.4,141.9 436.2,142.9 C438.1,143.8 439.9,144.9 441.2,146.0 C442.6,147.1 443.8,148.3 444.4,149.8 C445.0,151.2 445.3,153.2 445.0,154.8 C444.7,156.3 443.5,157.8 442.5,159.1 C441.5,160.5 440.0,161.7 438.8,162.9 C437.5,164.0 436.2,165.3 435.0,166.0 C433.8,166.7 432.5,167.4 431.2,167.2 C430.0,167.1 428.8,166.3 427.5,165.4 C426.2,164.4 424.8,162.7 423.8,161.6 C422.7,160.6 422.5,159.5 421.2,159.1 C420.0,158.7 417.9,159.2 416.2,159.1 C414.6,159.0 412.7,158.8 411.2,158.5 C409.8,158.2 408.8,157.9 407.5,157.2 C406.2,156.6 405.2,155.6 403.8,154.8 C402.3,153.9 400.2,152.5 398.8,152.2 C397.3,152.0 396.0,152.9 395.0,153.5 C394.0,154.1 393.5,155.7 392.5,156.0 C391.5,156.3 390.0,155.8 388.8,155.4 C387.5,155.0 386.1,154.0 385.0,153.5 C383.9,153.0 382.9,152.2 381.9,152.2 C380.8,152.2 379.9,152.7 378.8,153.5 C377.6,154.3 376.0,155.6 375.0,157.2 C374.0,158.9 373.2,161.8 372.5,163.5 C371.8,165.2 371.5,166.8 370.6,167.2 C369.8,167.7 368.2,167.0 367.5,166.0 C366.8,165.0 367.1,162.9 366.2,161.0 C365.4,159.1 364.0,156.2 362.5,154.8 C361.0,153.3 358.9,152.8 357.5,152.2 C356.1,151.7 354.4,151.6 354.4,151.6 C354.4,151.6 354.4,115.4 354.4,115.4Z" fill="#00008b"/>
<path d="M354.4,258.1 C354.4,258.1 357.0,258.2 358.1,258.8 C359.3,259.3 360.6,260.2 361.2,261.2 C361.9,262.3 361.9,265.0 361.9,265.0 C361.9,265.0 354.4,265.0 354.4,265.0 C354.4,265.0 354.4,258.1 354.4,258.1Z" fill="#00008b"/>
<path d="M354.4,263.4 C354.4,263.4 359.4,263.4 359.4,263.4 C359.4,263.4 360.7,265.6 360.6,266.5 C360.5,267.4 359.8,268.5 358.8,269.0 C357.7,269.5 354.4,269.6 354.4,269.6 C354.4,269.6 354.4,263.4 354.4,263.4Z" fill="#00008b"/>
<path d="M354.4,277.1 C354.4,277.1 357.4,277.8 358.8,278.4 C360.1,279.0 361.8,279.7 362.5,280.9 C363.2,282.0 363.3,283.9 363.1,285.2 C362.9,286.6 362.2,288.3 361.2,289.0 C360.3,289.7 358.6,289.7 357.5,289.6 C356.4,289.5 354.4,288.4 354.4,288.4 C354.4,288.4 354.4,277.1 354.4,277.1Z" fill="#00008b"/>
<path d="M201.2,55.8 C201.9,54.9 204.0,54.3 205.0,54.5 C206.0,54.7 207.3,56.0 207.5,57.0 C207.7,58.0 207.0,59.8 206.2,60.8 C205.5,61.7 204.0,62.8 203.1,62.6 C202.2,62.4 201.3,60.6 201.0,59.5 C200.7,58.4 200.6,56.6 201.2,55.8Z" fill="#1423af"/>
<path d="M205.0,47.2 C205.5,46.7 207.8,46.5 208.8,46.8 C209.7,47.0 210.6,48.2 210.6,48.9 C210.6,49.6 209.6,50.8 208.8,51.0 C207.9,51.2 206.2,50.8 205.6,50.1 C205.0,49.5 204.5,47.8 205.0,47.2Z" fill="#1423af"/>
<path d="M234.0,53.9 C234.5,53.3 235.9,53.0 236.5,53.5 C237.1,54.0 237.7,55.8 237.8,57.0 C237.8,58.2 237.4,60.2 236.9,60.8 C236.4,61.3 235.3,60.8 234.8,60.1 C234.2,59.5 233.9,58.0 233.8,57.0 C233.6,56.0 233.5,54.5 234.0,53.9Z" fill="#1423af"/>
<path d="M240.0,44.5 C240.0,44.5 246.2,44.5 246.2,44.5 C246.2,44.5 246.2,51.4 246.2,51.4 C246.2,51.4 243.4,50.8 242.5,50.1 C241.6,49.5 241.0,48.6 240.6,47.6 C240.2,46.7 240.0,44.5 240.0,44.5Z" fill="#1423af"/>
<path d="M287.5,107.0 C287.1,105.5 285.8,104.3 286.2,103.2 C286.7,102.2 288.5,101.6 290.0,100.8 C291.5,99.9 293.5,99.1 295.0,98.2 C296.5,97.4 297.5,96.0 298.8,95.8 C300.0,95.5 301.5,96.2 302.5,97.0 C303.5,97.8 304.8,99.3 305.0,100.8 C305.2,102.2 304.4,104.3 303.8,105.8 C303.1,107.2 301.9,108.0 301.2,109.5 C300.6,111.0 300.6,113.2 300.0,114.5 C299.4,115.8 297.5,117.0 297.5,117.0 C297.5,117.0 290.0,117.0 290.0,117.0 C290.0,117.0 289.2,113.7 288.8,112.0 C288.3,110.3 287.9,108.5 287.5,107.0Z" fill="#1423af"/>
<path d="M243.8,107.0 C243.8,107.0 247.1,105.8 248.8,105.8 C250.4,105.8 252.3,106.4 253.8,107.0 C255.2,107.6 256.7,108.5 257.5,109.5 C258.3,110.5 258.6,112.0 258.8,113.2 C258.9,114.5 258.1,117.0 258.1,117.0 C258.1,117.0 243.8,117.0 243.8,117.0 C243.8,117.0 243.8,107.0 243.8,107.0Z" fill="#1423af"/>
<path d="M288.1,119.8 C288.4,118.1 291.2,115.4 291.2,115.4 C291.2,115.4 300.0,115.4 300.0,115.4 C300.0,115.4 301.1,119.2 301.2,121.0 C301.4,122.8 301.2,124.6 300.6,126.0 C300.0,127.4 298.8,128.7 297.5,129.1 C296.2,129.5 294.5,129.1 293.1,128.5 C291.8,127.9 290.2,126.8 289.4,125.4 C288.5,123.9 287.8,121.4 288.1,119.8Z" fill="#1423af"/>
<path d="M296.9,177.2 C297.4,176.2 298.6,175.6 299.4,176.0 C300.1,176.4 301.0,178.3 301.2,179.8 C301.5,181.2 301.1,183.7 300.6,184.8 C300.1,185.8 298.8,186.4 298.1,186.0 C297.4,185.6 296.7,183.7 296.5,182.2 C296.3,180.8 296.4,178.3 296.9,177.2Z" fill="#1e78eb"/>
<path d="M306.2,186.0 C306.6,185.3 307.9,184.1 308.8,184.1 C309.6,184.1 311.0,185.2 311.2,186.0 C311.5,186.8 310.7,188.3 310.0,188.8 C309.3,189.2 307.5,189.0 306.9,188.5 C306.2,188.0 305.9,186.7 306.2,186.0Z" fill="#1e78eb"/>
<path d="M312.5,205.0 C313.1,203.9 314.6,202.3 315.6,201.9 C316.7,201.5 317.8,201.8 318.8,202.5 C319.7,203.2 320.2,205.0 321.2,206.2 C322.3,207.5 323.5,208.8 325.0,210.0 C326.5,211.2 328.3,213.2 330.0,213.8 C331.7,214.3 333.6,213.0 335.0,213.1 C336.4,213.2 337.9,213.4 338.1,214.4 C338.3,215.3 337.0,217.4 336.2,218.8 C335.5,220.1 334.6,221.1 333.8,222.5 C332.9,223.9 332.5,225.8 331.2,226.9 C330.0,227.9 327.9,228.6 326.2,228.8 C324.6,228.9 322.7,228.3 321.2,227.5 C319.8,226.7 318.5,225.2 317.5,223.8 C316.5,222.3 315.7,220.4 315.0,218.8 C314.3,217.1 313.6,215.4 313.1,213.8 C312.6,212.1 312.0,210.2 311.9,208.8 C311.8,207.3 311.9,206.1 312.5,205.0Z" fill="#1423af"/>
<path d="M343.8,263.4 C343.8,263.4 344.2,266.5 345.0,267.8 C345.8,269.0 347.3,270.2 348.8,270.9 C350.2,271.5 352.5,271.6 353.8,271.5 C355.0,271.4 356.2,270.2 356.2,270.2 C356.2,270.2 356.2,263.4 356.2,263.4 C356.2,263.4 343.8,263.4 343.8,263.4Z" fill="#1423af"/>
<path d="M353.1,76.9 C353.9,75.5 356.0,79.2 357.5,80.6 C359.0,82.1 360.6,84.0 361.9,85.6 C363.1,87.3 364.8,89.5 365.0,90.6 C365.2,91.8 364.2,92.5 363.1,92.5 C362.1,92.5 360.1,91.1 358.8,90.6 C357.4,90.1 355.9,89.7 355.0,89.4 C354.1,89.1 353.4,90.8 353.1,88.8 C352.8,86.7 352.4,78.2 353.1,76.9Z" fill="#1423af"/>
<path d="M243.8,112.6 C243.8,112.6 247.3,111.8 248.8,112.0 C250.2,112.2 251.8,113.0 252.5,113.9 C253.2,114.7 253.1,117.0 253.1,117.0 C253.1,117.0 243.8,117.0 243.8,117.0 C243.8,117.0 243.8,112.6 243.8,112.6Z" fill="#1e78eb"/>
<path d="M495.0,235.5 C495.4,234.7 496.9,233.1 498.1,232.4 C499.4,231.6 501.9,231.0 502.5,231.1 C503.1,231.2 502.5,232.3 501.9,233.0 C501.2,233.7 499.8,234.8 498.8,235.5 C497.7,236.2 496.2,237.0 495.6,237.0 C495.0,237.0 494.6,236.3 495.0,235.5Z" fill="#960fd7"/>
<path d="M659.8,201.1 C659.9,200.8 660.9,200.4 661.2,200.5 C661.6,200.6 662.0,201.6 661.9,202.0 C661.7,202.4 660.7,202.9 660.4,202.8 C660.0,202.6 659.6,201.5 659.8,201.1Z" fill="#960fd7"/>
<path d="M213.1,46.4 C214.5,46.1 218.4,45.9 220.0,46.4 C221.6,46.9 221.5,48.5 222.5,49.5 C223.5,50.5 225.1,51.6 226.2,52.6 C227.4,53.7 229.0,54.4 229.4,55.8 C229.8,57.1 228.0,59.1 228.8,60.8 C229.5,62.4 232.1,64.9 233.8,65.8 C235.4,66.6 237.4,65.5 238.8,65.8 C240.1,66.0 241.7,66.2 241.9,67.0 C242.1,67.8 240.9,69.7 240.0,70.8 C239.1,71.8 237.3,72.4 236.2,73.2 C235.2,74.1 234.0,74.9 233.8,75.8 C233.5,76.6 234.2,77.6 235.0,78.2 C235.8,78.9 237.3,79.1 238.8,79.5 C240.2,79.9 242.5,80.3 243.8,80.8 C245.0,81.2 246.2,82.0 246.2,82.0 C246.2,82.0 246.2,93.5 246.2,93.5 C246.2,93.5 243.8,92.7 242.5,92.0 C241.2,91.3 240.0,90.3 238.8,89.5 C237.5,88.7 236.0,87.9 235.0,87.0 C234.0,86.1 233.3,84.9 232.5,83.9 C231.7,82.8 231.2,81.7 230.0,80.8 C228.8,79.8 226.1,79.3 225.0,78.2 C223.9,77.2 223.1,75.9 223.1,74.5 C223.1,73.1 225.1,71.4 225.0,70.1 C224.9,68.9 223.5,67.6 222.5,67.0 C221.5,66.4 219.9,66.8 218.8,66.4 C217.6,66.0 216.0,65.2 215.6,64.5 C215.2,63.8 215.3,62.6 216.2,62.0 C217.2,61.4 220.3,61.6 221.2,60.8 C222.2,59.9 222.1,58.2 221.9,57.0 C221.7,55.8 220.9,54.3 220.0,53.2 C219.1,52.2 217.4,51.3 216.2,50.8 C215.1,50.2 213.9,50.5 213.1,50.1 C212.4,49.7 211.9,48.9 211.9,48.2 C211.9,47.6 211.8,46.7 213.1,46.4Z" fill="#960fd7"/>
<path d="M193.0,46.5 C193.3,46.0 194.9,45.9 195.2,46.2 C195.6,46.6 195.3,48.0 195.0,48.5 C194.7,49.0 193.6,49.3 193.2,49.0 C192.9,48.7 192.7,47.0 193.0,46.5Z" fill="#960fd7"/>
<path d="M206.2,63.9 C207.1,63.1 210.0,62.8 210.6,63.2 C211.2,63.7 210.5,65.4 210.0,66.4 C209.5,67.3 208.2,68.7 207.5,68.9 C206.8,69.1 205.8,68.5 205.6,67.6 C205.4,66.8 205.4,64.6 206.2,63.9Z" fill="#960fd7"/>
<path d="M242.5,57.6 C243.0,56.8 246.2,57.0 246.2,57.0 C246.2,57.0 246.2,62.0 246.2,62.0 C246.2,62.0 243.8,62.5 243.1,61.8 C242.5,61.0 242.0,58.4 242.5,57.6Z" fill="#960fd7"/>
<path d="M243.8,83.2 C243.8,83.2 246.2,84.3 247.5,85.1 C248.8,86.0 249.8,87.5 251.2,88.2 C252.7,89.0 254.9,88.9 256.2,89.5 C257.6,90.1 258.6,90.8 259.4,92.0 C260.1,93.2 260.7,95.5 260.6,97.0 C260.5,98.5 259.7,99.7 258.8,100.8 C257.8,101.8 256.2,102.9 255.0,103.2 C253.8,103.6 252.5,102.4 251.2,102.6 C250.0,102.8 248.8,104.1 247.5,104.5 C246.2,104.9 243.8,105.1 243.8,105.1 C243.8,105.1 243.8,83.2 243.8,83.2Z" fill="#960fd7"/>
<path d="M268.8,78.9 C269.8,77.8 271.9,79.0 273.8,79.5 C275.6,80.0 278.6,80.8 280.0,82.0 C281.4,83.2 281.8,85.3 281.9,87.0 C282.0,88.7 280.5,90.5 280.6,92.0 C280.7,93.5 281.6,94.6 282.5,95.8 C283.4,96.9 284.9,98.1 286.2,98.9 C287.6,99.6 290.3,99.4 290.6,100.1 C290.9,100.9 289.1,102.1 288.1,103.2 C287.2,104.4 285.9,105.5 285.0,107.0 C284.1,108.5 283.1,110.3 282.5,112.0 C281.9,113.7 281.2,117.0 281.2,117.0 C281.2,117.0 258.8,117.0 258.8,117.0 C258.8,117.0 260.8,113.7 260.6,112.0 C260.4,110.3 257.8,108.7 257.5,107.0 C257.2,105.3 257.9,103.5 258.8,102.0 C259.6,100.5 261.2,99.1 262.5,98.2 C263.8,97.4 265.5,98.0 266.2,97.0 C267.0,96.0 266.7,93.9 266.9,92.0 C267.1,90.1 267.2,87.9 267.5,85.8 C267.8,83.6 267.7,79.9 268.8,78.9Z" fill="#960fd7"/>
<path d="M254.0,62.0 C254.4,61.2 255.9,60.1 256.9,60.1 C257.9,60.1 259.4,61.2 260.0,62.0 C260.6,62.8 261.0,64.4 260.6,65.1 C260.2,65.9 258.5,66.4 257.5,66.4 C256.5,66.4 255.3,65.9 254.8,65.1 C254.2,64.4 253.6,62.8 254.0,62.0Z" fill="#960fd7"/>
<path d="M248.1,74.8 C248.4,74.2 249.9,73.7 250.6,73.9 C251.4,74.0 252.4,75.1 252.5,75.8 C252.6,76.4 251.9,77.6 251.2,77.9 C250.6,78.1 249.3,77.8 248.8,77.2 C248.2,76.7 247.8,75.3 248.1,74.8Z" fill="#960fd7"/>
<path d="M265.0,70.5 C265.1,70.0 266.4,69.8 266.9,70.1 C267.4,70.5 268.2,72.1 268.1,72.6 C268.1,73.1 267.0,73.6 266.5,73.2 C266.0,72.9 264.9,71.0 265.0,70.5Z" fill="#960fd7"/>
<path d="M294.8,82.0 C295.2,81.3 296.2,80.2 296.9,80.1 C297.5,80.0 298.5,80.6 298.8,81.4 C299.0,82.1 298.6,83.8 298.1,84.5 C297.6,85.2 296.2,85.8 295.6,85.8 C295.0,85.7 294.5,84.9 294.4,84.2 C294.2,83.6 294.3,82.7 294.8,82.0Z" fill="#960fd7"/>
<path d="M290.2,87.2 C290.5,86.8 291.4,86.2 291.9,86.4 C292.3,86.5 292.9,87.4 292.9,88.0 C292.8,88.6 291.9,89.5 291.5,89.8 C291.1,90.0 290.5,89.7 290.2,89.2 C290.0,88.8 290.0,87.7 290.2,87.2Z" fill="#960fd7"/>
<path d="M346.5,112.0 C346.8,110.5 347.3,109.1 348.1,108.2 C348.9,107.4 350.3,106.9 351.2,107.0 C352.2,107.1 353.5,107.8 354.0,108.9 C354.5,109.9 354.5,111.9 354.4,113.2 C354.2,114.6 353.1,117.0 353.1,117.0 C353.1,117.0 346.2,117.0 346.2,117.0 C346.2,117.0 346.2,113.5 346.5,112.0Z" fill="#960fd7"/>
<path d="M243.8,56.8 C243.8,56.8 245.6,57.0 246.0,57.6 C246.4,58.3 246.4,60.1 246.0,60.8 C245.6,61.4 243.8,61.4 243.8,61.4 C243.8,61.4 243.8,56.8 243.8,56.8Z" fill="#960fd7"/>
<path d="M285.2,114.2 C285.6,113.7 286.9,113.4 287.5,113.6 C288.1,113.9 288.8,115.2 288.8,115.8 C288.8,116.3 287.5,117.0 287.5,117.0 C287.5,117.0 285.2,117.0 285.2,117.0 C285.2,117.0 284.9,114.8 285.2,114.2Z" fill="#960fd7"/>
<path d="M261.2,115.4 C261.2,115.4 261.7,118.5 262.5,119.8 C263.3,121.0 264.8,122.1 266.2,122.9 C267.7,123.6 269.8,123.6 271.2,124.1 C272.7,124.6 273.6,125.5 275.0,126.0 C276.4,126.5 277.9,127.4 279.4,127.2 C280.8,127.1 282.5,126.2 283.8,125.4 C285.0,124.5 286.1,123.4 286.9,122.2 C287.6,121.1 288.0,119.6 288.1,118.5 C288.2,117.4 287.5,115.4 287.5,115.4 C287.5,115.4 261.2,115.4 261.2,115.4Z" fill="#960fd7"/>
<path d="M282.5,141.0 C283.4,139.8 285.8,139.2 287.5,138.5 C289.2,137.8 291.0,137.5 292.5,136.6 C294.0,135.8 294.8,134.4 296.2,133.5 C297.7,132.6 299.6,131.7 301.2,131.0 C302.9,130.3 304.7,129.2 306.2,129.1 C307.8,129.0 310.4,129.5 310.6,130.4 C310.8,131.2 308.4,132.9 307.5,134.1 C306.6,135.4 305.0,136.7 305.0,137.9 C305.0,139.0 306.7,139.9 307.5,141.0 C308.3,142.1 309.5,143.3 310.0,144.8 C310.5,146.2 310.8,148.1 310.6,149.8 C310.4,151.4 309.4,153.1 308.8,154.8 C308.1,156.4 307.1,158.1 306.9,159.8 C306.7,161.4 307.2,163.1 307.5,164.8 C307.8,166.4 308.4,168.3 308.8,169.8 C309.1,171.2 309.8,173.1 309.4,173.5 C309.0,173.9 307.4,173.1 306.2,172.2 C305.1,171.4 303.8,169.3 302.5,168.5 C301.2,167.7 299.8,167.2 298.8,167.2 C297.7,167.2 296.6,167.5 296.2,168.5 C295.9,169.5 296.9,171.8 296.9,173.5 C296.9,175.2 296.6,176.8 296.2,178.5 C295.9,180.2 295.0,181.8 295.0,183.5 C295.0,185.2 296.0,187.2 296.2,188.5 C296.5,189.8 296.2,191.0 296.2,191.0 C296.2,191.0 286.9,191.0 286.9,191.0 C286.9,191.0 285.8,188.7 285.6,187.2 C285.4,185.8 285.3,183.7 285.6,182.2 C285.9,180.8 286.8,179.8 287.5,178.5 C288.2,177.2 289.4,176.2 290.0,174.8 C290.6,173.3 291.5,171.2 291.2,169.8 C291.0,168.3 289.8,167.0 288.8,166.0 C287.7,165.0 286.0,164.8 285.0,163.5 C284.0,162.2 283.0,160.4 282.5,158.5 C282.0,156.6 282.0,154.3 281.9,152.2 C281.8,150.2 281.8,147.9 281.9,146.0 C282.0,144.1 281.6,142.2 282.5,141.0Z" fill="#960fd7"/>
<path d="M316.5,148.5 C316.8,147.5 317.8,146.6 318.8,146.2 C319.8,145.9 321.6,146.0 322.5,146.6 C323.4,147.2 324.0,148.6 324.1,149.8 C324.2,150.9 323.9,152.5 323.1,153.2 C322.4,154.0 320.8,154.2 319.8,154.1 C318.7,154.0 317.4,153.4 316.9,152.5 C316.3,151.6 316.2,149.5 316.5,148.5Z" fill="#960fd7"/>
<path d="M304.0,122.2 C304.2,121.8 305.4,121.0 306.0,121.0 C306.6,121.0 307.7,122.0 307.8,122.5 C307.8,123.0 307.0,124.0 306.5,124.2 C306.0,124.5 304.9,124.3 304.5,124.0 C304.1,123.7 303.8,122.8 304.0,122.2Z" fill="#960fd7"/>
<path d="M346.0,115.4 C346.0,115.4 345.8,119.5 346.2,121.0 C346.7,122.5 347.8,124.2 348.8,124.5 C349.7,124.8 351.2,123.9 351.9,122.9 C352.5,121.9 352.6,119.8 352.8,118.5 C352.9,117.2 352.5,115.4 352.5,115.4 C352.5,115.4 346.0,115.4 346.0,115.4Z" fill="#960fd7"/>
<path d="M351.5,131.6 C351.6,130.7 353.0,129.6 353.8,129.1 C354.5,128.6 356.2,128.5 356.2,128.5 C356.2,128.5 356.2,134.8 356.2,134.8 C356.2,134.8 353.9,135.3 353.1,134.8 C352.3,134.2 351.4,132.6 351.5,131.6Z" fill="#960fd7"/>
<path d="M310.6,179.8 C311.0,178.0 311.8,176.2 312.5,175.4 C313.2,174.5 314.2,174.2 315.0,174.8 C315.8,175.3 316.7,177.0 317.5,178.5 C318.3,180.0 319.4,181.9 320.0,183.5 C320.6,185.1 321.2,186.6 321.2,187.9 C321.2,189.1 320.0,191.0 320.0,191.0 C320.0,191.0 311.2,191.0 311.2,191.0 C311.2,191.0 310.1,187.9 310.0,186.0 C309.9,184.1 310.2,181.5 310.6,179.8Z" fill="#960fd7"/>
<path d="M329.8,185.4 C329.8,184.2 330.5,182.7 331.2,181.6 C332.0,180.6 333.4,179.3 334.4,179.1 C335.4,178.9 336.9,179.5 337.2,180.4 C337.6,181.2 336.8,182.9 336.2,184.1 C335.7,185.4 334.6,187.1 333.8,187.9 C332.9,188.6 331.7,188.9 331.0,188.5 C330.3,188.1 329.7,186.5 329.8,185.4Z" fill="#960fd7"/>
<path d="M342.2,174.8 C342.7,174.1 344.0,172.8 345.0,172.5 C346.0,172.2 347.5,172.4 348.1,172.9 C348.7,173.4 349.0,174.7 348.5,175.4 C348.0,176.1 346.0,176.8 345.0,177.0 C344.0,177.2 343.0,177.0 342.5,176.6 C342.0,176.2 341.8,175.4 342.2,174.8Z" fill="#960fd7"/>
<path d="M288.8,189.4 C288.8,189.4 294.4,189.4 294.4,189.4 C294.4,189.4 295.3,193.4 296.2,195.0 C297.2,196.6 298.9,197.5 300.0,198.8 C301.1,200.0 302.1,201.1 303.1,202.5 C304.2,203.9 305.4,205.4 306.2,206.9 C307.1,208.3 307.5,209.7 308.1,211.2 C308.8,212.8 309.2,214.6 310.0,216.2 C310.8,217.9 312.1,219.6 313.1,221.2 C314.2,222.9 315.5,224.6 316.2,226.2 C317.0,227.9 316.9,229.6 317.5,231.2 C318.1,232.9 319.1,234.7 320.0,236.2 C320.9,237.8 322.7,239.2 323.1,240.6 C323.5,242.1 323.2,244.0 322.5,245.0 C321.8,246.0 320.1,246.7 318.8,246.9 C317.4,247.1 315.5,247.0 314.4,246.2 C313.2,245.5 312.6,244.0 311.9,242.5 C311.1,241.0 310.7,239.2 310.0,237.5 C309.3,235.8 308.5,234.0 307.5,232.5 C306.5,231.0 304.9,229.8 303.8,228.8 C302.6,227.7 301.2,227.5 300.6,226.2 C300.0,225.0 299.9,222.9 300.0,221.2 C300.1,219.6 301.2,217.8 301.2,216.2 C301.2,214.7 300.6,213.3 300.0,211.9 C299.4,210.4 298.4,208.9 297.5,207.5 C296.6,206.1 295.4,205.0 294.4,203.8 C293.3,202.5 292.1,201.5 291.2,200.0 C290.4,198.5 289.8,196.8 289.4,195.0 C289.0,193.2 288.8,189.4 288.8,189.4Z" fill="#960fd7"/>
<path d="M313.1,189.4 C313.1,189.4 320.0,189.4 320.0,189.4 C320.0,189.4 321.7,193.5 321.9,195.0 C322.1,196.5 321.9,198.0 321.2,198.5 C320.6,199.0 319.2,198.7 318.1,198.1 C317.1,197.5 315.8,196.5 315.0,195.0 C314.2,193.5 313.1,189.4 313.1,189.4Z" fill="#960fd7"/>
<path d="M332.8,198.8 C332.9,197.6 333.7,196.3 334.4,195.6 C335.1,195.0 336.0,194.4 336.9,194.8 C337.7,195.1 339.1,196.4 339.4,197.5 C339.7,198.6 339.3,200.3 338.8,201.2 C338.2,202.2 337.1,203.0 336.2,203.1 C335.4,203.3 334.3,203.0 333.8,202.2 C333.2,201.5 332.6,199.9 332.8,198.8Z" fill="#960fd7"/>
<path d="M349.0,220.0 C349.2,219.2 350.4,218.6 351.0,218.8 C351.6,218.9 352.6,219.8 352.8,220.6 C352.9,221.4 352.4,223.0 351.9,223.5 C351.4,224.0 350.2,224.1 349.8,223.5 C349.3,222.9 348.8,220.8 349.0,220.0Z" fill="#960fd7"/>
<path d="M324.0,255.0 C324.1,253.9 325.4,253.0 326.2,252.8 C327.1,252.5 328.4,253.1 329.4,253.8 C330.3,254.4 331.5,255.7 331.9,256.9 C332.3,258.0 332.4,259.8 331.9,260.6 C331.4,261.5 329.8,262.1 328.8,261.9 C327.7,261.7 326.4,260.5 325.6,259.4 C324.8,258.2 323.9,256.1 324.0,255.0Z" fill="#960fd7"/>
<path d="M334.0,274.6 C334.2,273.9 334.6,272.9 335.6,272.5 C336.6,272.1 338.4,272.0 340.0,272.1 C341.6,272.2 343.4,272.7 345.0,273.0 C346.6,273.3 348.5,273.0 349.4,274.0 C350.2,275.0 350.0,277.5 350.0,279.0 C350.0,280.5 350.2,282.2 349.4,282.8 C348.5,283.3 346.5,282.4 345.0,282.1 C343.5,281.8 342.0,281.4 340.6,280.9 C339.3,280.4 337.9,279.6 336.9,279.0 C335.8,278.4 334.9,277.9 334.4,277.1 C333.9,276.4 333.8,275.4 334.0,274.6Z" fill="#960fd7"/>
<path d="M359.8,78.9 C359.8,78.5 360.6,78.2 361.0,78.2 C361.4,78.3 362.0,78.9 362.0,79.2 C362.0,79.6 361.4,80.3 361.0,80.2 C360.6,80.2 359.8,79.2 359.8,78.9Z" fill="#960fd7"/>
<path d="M361.9,82.6 C362.2,82.2 363.1,81.7 363.8,82.0 C364.4,82.3 365.4,83.8 365.6,84.5 C365.8,85.2 365.4,86.1 365.0,86.4 C364.6,86.6 363.6,86.3 363.1,86.0 C362.6,85.7 362.1,85.1 361.9,84.5 C361.7,83.9 361.6,83.0 361.9,82.6Z" fill="#960fd7"/>
<path d="M390.2,100.5 C390.4,100.1 391.8,99.9 392.2,100.1 C392.8,100.3 393.4,101.3 393.2,101.8 C393.1,102.2 392.0,103.0 391.5,102.8 C391.0,102.5 390.1,100.9 390.2,100.5Z" fill="#960fd7"/>
<path d="M397.1,105.8 C397.3,105.2 398.5,104.5 399.4,104.5 C400.3,104.5 401.9,105.2 402.5,105.8 C403.1,106.3 403.4,107.2 403.1,107.6 C402.8,108.1 401.5,108.5 400.6,108.5 C399.8,108.5 398.7,108.1 398.1,107.6 C397.5,107.2 396.9,106.3 397.1,105.8Z" fill="#960fd7"/>
<path d="M414.0,104.5 C414.4,104.0 415.9,103.4 416.9,103.2 C417.9,103.1 419.6,103.1 420.0,103.5 C420.4,103.9 419.9,105.2 419.4,105.8 C418.9,106.3 417.7,106.9 416.9,107.0 C416.0,107.1 414.9,106.8 414.4,106.4 C413.9,106.0 413.6,105.0 414.0,104.5Z" fill="#960fd7"/>
<path d="M430.0,105.8 C430.5,105.1 431.8,104.4 433.1,104.1 C434.5,103.8 436.7,103.7 438.1,103.9 C439.5,104.0 441.0,104.5 441.5,105.1 C442.0,105.8 441.8,106.9 441.2,107.6 C440.7,108.4 439.5,109.2 438.1,109.5 C436.8,109.8 434.4,109.5 433.1,109.2 C431.8,109.0 430.9,108.6 430.4,108.0 C429.9,107.4 429.5,106.4 430.0,105.8Z" fill="#960fd7"/>
<path d="M380.6,115.1 C381.1,114.6 382.2,113.9 383.1,113.9 C384.1,113.9 385.6,114.6 386.2,115.1 C386.9,115.6 386.9,117.0 386.9,117.0 C386.9,117.0 380.0,117.0 380.0,117.0 C380.0,117.0 380.1,115.6 380.6,115.1Z" fill="#960fd7"/>
<path d="M377.5,122.2 C377.8,120.5 379.0,119.0 380.0,117.9 C381.0,116.7 383.8,115.4 383.8,115.4 C383.8,115.4 388.1,115.4 388.1,115.4 C388.1,115.4 390.4,118.2 391.2,119.8 C392.1,121.3 392.1,123.5 393.1,124.8 C394.2,126.0 396.2,126.3 397.5,127.2 C398.8,128.2 400.0,129.1 400.6,130.4 C401.2,131.6 400.5,133.9 401.2,134.8 C402.0,135.6 403.5,135.2 405.0,135.4 C406.5,135.6 408.3,135.5 410.0,136.0 C411.7,136.5 413.3,137.6 415.0,138.5 C416.7,139.4 418.4,141.2 420.0,141.6 C421.6,142.0 423.1,140.6 424.4,141.0 C425.6,141.4 426.1,143.0 427.5,144.1 C428.9,145.3 431.2,146.8 432.5,147.9 C433.8,148.9 435.0,149.3 435.0,150.4 C435.0,151.4 433.5,153.0 432.5,154.1 C431.5,155.3 430.0,156.4 428.8,157.2 C427.5,158.1 426.5,158.9 425.0,159.1 C423.5,159.3 421.5,158.7 420.0,158.5 C418.5,158.3 417.3,158.5 416.2,157.9 C415.2,157.2 414.8,155.6 413.8,154.8 C412.7,153.9 411.5,153.4 410.0,152.9 C408.5,152.4 406.7,152.0 405.0,151.6 C403.3,151.2 401.5,150.8 400.0,150.4 C398.5,150.0 397.3,148.8 396.2,149.1 C395.2,149.4 394.6,151.1 393.8,152.2 C392.9,153.4 392.2,155.5 391.2,156.0 C390.3,156.5 389.2,156.0 388.1,155.4 C387.1,154.8 385.9,153.4 385.0,152.2 C384.1,151.1 383.5,149.3 382.5,148.5 C381.5,147.7 379.9,147.9 378.8,147.2 C377.6,146.6 376.1,145.8 375.6,144.8 C375.1,143.7 375.2,142.0 375.6,141.0 C376.0,140.0 377.5,139.8 378.1,138.5 C378.8,137.2 379.4,135.2 379.4,133.5 C379.4,131.8 378.4,130.4 378.1,128.5 C377.8,126.6 377.2,124.0 377.5,122.2Z" fill="#960fd7"/>
<path d="M354.4,125.4 C354.4,125.4 357.0,125.5 358.1,126.0 C359.2,126.5 360.6,127.5 361.0,128.5 C361.4,129.5 361.2,131.3 360.6,132.2 C360.0,133.2 358.5,133.9 357.5,134.1 C356.5,134.3 354.4,133.5 354.4,133.5 C354.4,133.5 354.4,125.4 354.4,125.4Z" fill="#960fd7"/>
<path d="M370.2,149.1 C370.6,148.6 371.9,148.1 372.5,148.2 C373.1,148.4 373.8,149.2 373.8,149.8 C373.8,150.3 373.0,151.4 372.5,151.6 C372.0,151.9 371.0,151.7 370.6,151.2 C370.2,150.8 369.9,149.6 370.2,149.1Z" fill="#960fd7"/>
<path d="M359.0,121.2 C359.1,121.0 360.1,120.7 360.5,120.8 C360.9,120.8 361.4,121.5 361.2,121.8 C361.1,122.0 360.1,122.3 359.8,122.2 C359.4,122.2 358.9,121.5 359.0,121.2Z" fill="#960fd7"/>
<path d="M356.2,283.4 C356.7,282.9 358.2,282.5 358.8,282.8 C359.3,283.0 359.7,284.1 359.6,284.6 C359.5,285.2 358.7,286.0 358.1,286.1 C357.6,286.3 356.6,286.0 356.2,285.5 C355.9,285.0 355.8,283.8 356.2,283.4Z" fill="#960fd7"/>
<path d="M234.4,72.0 C235.2,71.2 237.3,70.3 238.8,70.1 C240.2,70.0 242.2,70.3 243.1,71.0 C244.1,71.7 244.5,73.3 244.4,74.5 C244.3,75.7 243.4,77.4 242.5,78.2 C241.6,79.1 240.0,79.6 238.8,79.5 C237.5,79.4 235.9,78.4 235.0,77.6 C234.1,76.8 233.6,75.7 233.5,74.8 C233.4,73.8 233.5,72.8 234.4,72.0Z" fill="#00008b"/>
<path d="M276.2,121.0 C276.4,120.3 277.4,119.6 278.1,119.5 C278.9,119.4 280.3,119.8 280.6,120.4 C280.9,121.0 280.5,122.7 280.0,123.2 C279.5,123.8 278.1,123.9 277.5,123.5 C276.9,123.1 276.1,121.7 276.2,121.0Z" fill="#00008b"/>
<path d="M281.2,115.4 C281.2,115.4 281.9,117.6 282.5,117.9 C283.1,118.2 284.6,117.7 285.0,117.2 C285.4,116.8 284.8,115.4 284.8,115.4 C284.8,115.4 281.2,115.4 281.2,115.4Z" fill="#00008b"/>
<path d="M284.0,146.0 C284.2,145.4 285.5,144.2 286.2,144.1 C287.0,144.1 288.3,145.1 288.5,145.8 C288.7,146.4 288.1,147.5 287.5,147.9 C286.9,148.2 285.3,148.2 284.8,147.9 C284.2,147.6 283.8,146.6 284.0,146.0Z" fill="#00008b"/>
<path d="M290.2,160.4 C290.4,159.5 291.7,158.8 292.5,158.8 C293.3,158.7 294.7,159.2 295.0,160.0 C295.3,160.8 294.9,162.6 294.4,163.2 C293.9,163.9 292.6,164.6 291.9,164.1 C291.2,163.6 290.1,161.3 290.2,160.4Z" fill="#00008b"/>
<path d="M265.0,112.0 C265.8,110.5 266.4,109.2 267.5,108.2 C268.6,107.3 270.4,106.9 271.9,106.4 C273.3,105.9 274.7,105.4 276.2,105.1 C277.8,104.8 280.0,104.5 281.2,104.5 C282.5,104.5 283.6,104.3 283.8,105.1 C283.9,106.0 282.6,108.1 281.9,109.5 C281.1,110.9 280.1,112.0 279.4,113.2 C278.6,114.5 277.5,117.0 277.5,117.0 C277.5,117.0 262.5,117.0 262.5,117.0 C262.5,117.0 264.2,113.5 265.0,112.0Z" fill="#ba55d3"/>
<path d="M266.9,115.4 C266.9,115.4 267.4,117.8 268.1,118.5 C268.9,119.2 270.2,119.9 271.2,119.8 C272.3,119.6 273.6,118.6 274.4,117.9 C275.1,117.1 275.6,115.4 275.6,115.4 C275.6,115.4 266.9,115.4 266.9,115.4Z" fill="#ba55d3"/>
<path d="M291.2,142.9 C291.2,141.7 292.1,140.2 293.1,139.1 C294.2,138.1 296.0,137.4 297.5,136.6 C299.0,135.9 300.6,135.2 301.9,134.8 C303.1,134.3 304.7,133.7 305.0,134.1 C305.3,134.5 304.3,136.1 303.8,137.2 C303.2,138.4 302.5,139.8 301.9,141.0 C301.2,142.2 300.8,143.8 300.0,144.8 C299.2,145.7 298.0,146.4 296.9,146.6 C295.7,146.8 294.1,146.6 293.1,146.0 C292.2,145.4 291.2,144.0 291.2,142.9Z" fill="#ba55d3"/>
<path d="M304.4,142.9 C304.8,141.9 305.7,140.7 306.2,141.0 C306.8,141.3 307.4,143.4 307.5,144.8 C307.6,146.1 307.3,148.2 306.9,149.1 C306.5,150.1 305.5,150.8 305.0,150.4 C304.5,150.0 304.1,147.9 304.0,146.6 C303.9,145.4 304.0,143.8 304.4,142.9Z" fill="#ba55d3"/>
<path d="M285.2,152.2 C285.5,151.2 286.7,150.1 287.5,150.0 C288.3,149.9 289.7,150.7 290.2,151.6 C290.8,152.5 291.2,154.4 291.0,155.4 C290.8,156.4 289.6,157.4 288.8,157.5 C287.9,157.6 286.6,157.1 286.0,156.2 C285.4,155.4 285.0,153.3 285.2,152.2Z" fill="#ba55d3"/>
<path d="M297.2,154.1 C297.6,153.3 298.7,152.2 299.4,152.2 C300.1,152.2 301.2,153.3 301.5,154.1 C301.8,155.0 301.7,156.5 301.2,157.2 C300.8,158.0 299.7,158.8 299.0,158.8 C298.3,158.7 297.5,157.8 297.2,157.0 C297.0,156.2 296.9,154.9 297.2,154.1Z" fill="#ba55d3"/>
<path d="M381.2,129.8 C381.6,128.8 382.5,128.0 383.8,127.5 C385.0,127.0 387.1,127.0 388.8,127.0 C390.4,127.0 392.3,127.1 393.8,127.5 C395.2,127.9 396.7,128.3 397.5,129.1 C398.3,129.9 398.9,131.3 398.8,132.2 C398.6,133.2 397.9,134.0 396.9,134.8 C395.8,135.5 394.0,136.0 392.5,136.6 C391.0,137.2 389.5,138.2 388.1,138.2 C386.8,138.2 385.4,137.4 384.4,136.6 C383.3,135.8 382.4,134.6 381.9,133.5 C381.4,132.4 380.9,130.8 381.2,129.8Z" fill="#ba55d3"/>
<path d="M383.5,147.2 C383.7,146.3 384.8,145.3 385.6,144.8 C386.5,144.2 387.8,143.4 388.8,143.8 C389.7,144.1 390.7,145.5 391.2,146.6 C391.8,147.7 392.1,149.2 391.9,150.4 C391.7,151.5 390.8,153.1 390.0,153.5 C389.2,153.9 387.8,153.4 386.9,152.9 C385.9,152.4 384.9,151.3 384.4,150.4 C383.8,149.4 383.3,148.2 383.5,147.2Z" fill="#ba55d3"/>
<path d="M406.9,136.6 C407.0,136.2 408.1,135.9 408.5,136.0 C408.9,136.1 409.5,137.1 409.4,137.5 C409.3,137.9 408.4,138.6 408.0,138.5 C407.6,138.4 406.8,137.0 406.9,136.6Z" fill="#ba55d3"/>
<path d="M338.7,185.3 C339.2,183.5 340.0,182.2 341.2,181.2 C342.5,180.3 344.6,179.9 346.4,179.7 C348.2,179.5 350.6,180.8 352.0,180.2 C353.4,179.6 354.0,177.9 354.5,176.1 C355.1,174.3 352.4,170.6 355.1,169.5 C357.7,168.4 367.8,164.4 370.4,169.5 C373.0,174.6 371.2,194.8 370.4,200.2 C369.6,205.5 367.2,200.9 365.8,201.7 C364.3,202.5 362.7,203.7 361.7,204.8 C360.7,205.8 360.1,206.5 359.7,207.8 C359.2,209.2 359.1,211.1 359.1,213.0 C359.1,214.8 359.9,217.7 359.7,219.1 C359.4,220.5 358.6,221.8 357.6,221.1 C356.7,220.5 355.2,217.0 354.0,215.0 C352.8,213.0 351.9,210.7 350.5,208.9 C349.0,207.0 347.0,205.3 345.3,203.7 C343.6,202.2 341.4,201.5 340.2,199.7 C339.0,197.8 338.4,194.9 338.2,192.5 C337.9,190.1 338.2,187.2 338.7,185.3Z" fill="#1e78eb"/>
<path d="M355.1,172.0 C356.1,171.7 359.1,172.4 360.7,173.1 C362.3,173.7 363.7,174.8 364.8,176.1 C365.8,177.5 366.3,179.4 366.8,181.2 C367.3,183.1 367.5,185.3 367.8,187.4 C368.2,189.4 368.4,191.8 368.9,193.5 C369.4,195.2 370.7,196.4 370.9,197.6 C371.1,198.8 370.7,200.0 369.9,200.7 C369.0,201.4 367.2,201.0 365.8,201.7 C364.4,202.4 362.7,203.7 361.7,204.8 C360.7,205.8 360.1,206.5 359.7,207.8 C359.2,209.2 359.3,211.2 359.1,213.0 C359.0,214.7 359.1,217.6 358.6,218.1 C358.2,218.6 357.3,217.2 356.6,216.0 C355.9,214.8 355.1,212.6 354.5,210.9 C353.9,209.2 353.9,207.3 353.0,205.8 C352.2,204.3 350.7,203.1 349.4,201.7 C348.2,200.3 346.7,199.1 345.3,197.6 C344.0,196.1 342.1,194.2 341.2,192.5 C340.4,190.8 340.1,188.7 340.2,187.4 C340.3,186.0 340.9,184.7 341.8,184.3 C342.6,183.9 344.1,184.4 345.3,184.8 C346.6,185.3 348.3,186.8 349.4,186.9 C350.5,187.0 351.2,186.4 352.0,185.3 C352.8,184.2 353.6,181.9 354.0,180.2 C354.5,178.5 354.4,176.5 354.5,175.1 C354.7,173.7 354.0,172.4 355.1,172.0Z" fill="#87cefa"/>
<path d="M353.0,186.4 C353.7,185.7 355.3,186.7 356.6,187.4 C357.9,188.1 359.4,189.3 360.7,190.5 C362.0,191.6 363.4,193.2 364.3,194.5 C365.1,195.9 365.9,197.5 365.8,198.6 C365.7,199.7 364.8,200.7 363.7,201.2 C362.7,201.7 360.9,202.0 359.7,201.7 C358.5,201.4 357.5,200.7 356.6,199.7 C355.7,198.6 354.7,196.9 354.0,195.6 C353.4,194.2 352.7,193.0 352.5,191.5 C352.3,189.9 352.3,187.0 353.0,186.4Z" fill="#1e78eb"/>
<path d="M345.3,191.5 C345.6,190.5 346.7,190.0 347.4,190.2 C348.0,190.5 349.0,191.9 349.2,193.0 C349.5,194.2 349.2,196.2 348.9,197.1 C348.6,198.0 347.9,198.8 347.4,198.6 C346.9,198.5 346.2,197.3 345.9,196.1 C345.5,194.9 345.1,192.4 345.3,191.5Z" fill="#bdbdbd" stroke="#777" stroke-width="0.4" stroke-linejoin="round"/>
<path d="M356.6,181.0 C356.8,180.4 357.9,180.0 358.4,180.2 C359.0,180.4 359.7,181.6 359.9,182.3 C360.0,183.0 359.6,184.2 359.1,184.5 C358.7,184.9 357.8,184.9 357.4,184.3 C357.0,183.7 356.4,181.7 356.6,181.0Z" fill="#bdbdbd" stroke="#777" stroke-width="0.4" stroke-linejoin="round"/>
<path d="M301.5,267.1 C301.5,266.3 302.5,265.7 303.8,265.5 C305.0,265.3 307.4,265.5 308.8,265.9 C310.1,266.2 311.5,267.0 311.9,267.8 C312.3,268.5 312.0,269.7 311.2,270.2 C310.5,270.8 308.8,270.8 307.5,270.9 C306.2,270.9 304.8,271.1 303.8,270.5 C302.8,269.9 301.5,268.0 301.5,267.1Z" fill="#ffffff" stroke="#555" stroke-width="0.6" stroke-linejoin="round"/>
<path d="M413.8,191.0 C413.8,191.0 414.0,188.4 415.0,187.2 C416.0,186.1 418.3,184.5 420.0,184.1 C421.7,183.7 423.3,184.2 425.0,184.8 C426.7,185.3 428.3,187.0 430.0,187.2 C431.7,187.5 433.3,186.6 435.0,186.0 C436.7,185.4 438.3,183.8 440.0,183.5 C441.7,183.2 443.3,183.7 445.0,184.1 C446.7,184.5 448.3,185.5 450.0,186.0 C451.7,186.5 453.1,187.0 455.0,187.2 C456.9,187.5 459.4,187.4 461.2,187.2 C463.1,187.1 466.2,186.6 466.2,186.6 C466.2,186.6 466.2,191.0 466.2,191.0 C466.2,191.0 413.8,191.0 413.8,191.0Z" fill="#ffffff"/>
<path d="M462.0,61.2 C463.2,60.0 466.2,55.8 469.5,53.8 C472.8,51.7 477.8,50.0 482.0,48.8 C486.2,47.5 492.4,46.7 494.5,46.2" fill="none" stroke="#111" stroke-width="0.75" stroke-linejoin="round"/>
<path d="M514.5,45.5 C515.8,46.2 519.1,48.8 522.0,50.0 C524.9,51.2 528.7,50.8 532.0,52.5 C535.3,54.2 538.5,58.5 542.0,60.0 C545.5,61.5 551.4,61.0 553.2,61.2" fill="none" stroke="#111" stroke-width="0.75" stroke-linejoin="round"/>
<path d="M483.2,142.5 C484.7,142.1 488.9,140.6 492.0,140.0 C495.1,139.4 498.7,139.4 502.0,138.8 C505.3,138.1 508.7,135.8 512.0,136.2 C515.3,136.7 518.2,140.6 522.0,141.2 C525.8,141.9 532.4,140.2 534.5,140.0" fill="none" stroke="#111" stroke-width="0.75" stroke-linejoin="round"/>
<path d="M483.2,142.5 C482.8,143.8 482.4,148.3 480.8,150.0 C479.1,151.7 474.5,150.8 473.2,152.5 C472.0,154.2 471.4,159.2 473.2,160.0 C475.1,160.8 482.0,156.7 484.5,157.5 C487.0,158.3 487.8,162.9 488.2,165.0 C488.7,167.1 488.5,168.3 487.0,170.0 C485.5,171.7 481.2,172.0 479.5,175.0 C477.8,178.0 477.4,185.8 477.0,188.0" fill="none" stroke="#111" stroke-width="0.75" stroke-linejoin="round"/>
<path d="M139.5,55.8 C139.7,56.8 139.9,60.3 140.6,62.0 C141.3,63.7 143.0,64.3 143.8,65.8 C144.5,67.2 144.0,69.5 145.0,70.8 C146.0,72.0 148.5,73.0 150.0,73.2 C151.5,73.5 152.3,72.5 153.8,72.0 C155.2,71.5 157.1,70.0 158.8,70.1 C160.4,70.2 162.5,71.8 163.8,72.6 C165.0,73.5 164.8,74.4 166.2,75.1 C167.7,75.9 171.0,76.8 172.5,77.0 C174.0,77.2 174.2,76.0 175.0,76.4 C175.8,76.8 176.5,78.1 177.5,79.5 C178.5,80.9 179.8,82.9 181.2,84.5 C182.7,86.1 184.6,87.4 186.2,88.9 C187.9,90.3 189.6,91.7 191.2,93.2 C192.9,94.8 194.4,96.8 196.2,98.2 C198.1,99.7 200.6,100.8 202.5,102.0 C204.4,103.2 205.6,104.5 207.5,105.8 C209.4,107.0 211.7,108.2 213.8,109.5 C215.8,110.8 218.5,112.2 220.0,113.2 C221.5,114.3 221.7,115.2 222.5,116.0 C223.3,116.8 224.6,117.9 225.0,118.2" fill="none" stroke="#555" stroke-width="0.6" stroke-linejoin="round"/>
<path d="M158.1,45.8 C159.7,47.5 165.1,53.7 167.5,56.4 C169.9,59.1 170.2,59.5 172.5,62.0 C174.8,64.5 179.0,69.4 181.2,71.4 C183.5,73.4 185.0,72.5 186.2,73.9 C187.5,75.2 188.1,77.7 188.8,79.5 C189.4,81.3 189.0,82.6 190.0,84.5 C191.0,86.4 193.3,88.9 195.0,90.8 C196.7,92.6 198.5,94.4 200.0,95.8 C201.5,97.1 202.1,97.6 203.8,98.9 C205.4,100.1 207.9,101.9 210.0,103.2 C212.1,104.6 214.2,105.5 216.2,107.0 C218.3,108.5 221.0,110.5 222.5,112.0 C224.0,113.5 224.6,115.1 225.0,115.8" fill="none" stroke="#111" stroke-width="0.75" stroke-linejoin="round"/>
<path d="M231.2,87.0 C230.7,88.0 229.0,91.0 228.1,93.2 C227.3,95.5 226.2,98.2 226.2,100.8 C226.2,103.2 227.7,105.8 228.1,108.2 C228.5,110.8 228.6,114.5 228.8,115.8" fill="none" stroke="#111" stroke-width="0.75" stroke-linejoin="round"/>
<path d="M231.2,87.0 C231.9,86.4 233.8,84.5 235.0,83.2 C236.2,82.0 237.5,79.9 238.8,79.5 C240.0,79.1 241.4,80.4 242.5,80.8 C243.6,81.1 245.1,81.3 245.6,81.4" fill="none" stroke="#111" stroke-width="0.75" stroke-linejoin="round"/>
<path d="M260.0,116.0 C259.6,117.0 258.4,120.2 257.5,122.2 C256.6,124.3 255.0,126.2 254.4,128.5 C253.8,130.8 253.8,133.4 253.8,136.0 C253.8,138.6 254.3,142.8 254.4,144.1" fill="none" stroke="#111" stroke-width="0.75" stroke-linejoin="round"/>
<path d="M281.2,116.0 C281.5,116.8 281.5,119.4 282.5,121.0 C283.5,122.6 286.0,124.1 287.5,125.4 C289.0,126.6 290.2,127.1 291.2,128.5 C292.3,129.9 293.4,131.6 293.8,133.5 C294.1,135.4 292.9,137.8 293.1,139.8 C293.3,141.7 295.0,143.3 295.0,145.4 C295.0,147.5 293.6,150.1 293.1,152.2 C292.6,154.4 291.9,156.2 291.9,158.5 C291.9,160.8 292.6,163.7 293.1,166.0 C293.6,168.3 294.5,170.2 295.0,172.2 C295.5,174.3 295.6,176.4 296.2,178.5 C296.9,180.6 297.3,183.4 298.8,184.8 C300.2,186.1 302.7,186.1 305.0,186.6 C307.3,187.1 310.0,187.8 312.5,187.9 C315.0,188.0 317.5,187.5 320.0,187.2 C322.5,187.0 325.4,187.2 327.5,186.6 C329.6,186.0 330.8,184.9 332.5,183.5 C334.2,182.1 335.6,179.9 337.5,178.5 C339.4,177.1 341.7,175.8 343.8,175.4 C345.8,175.0 348.1,175.7 350.0,176.0 C351.9,176.3 354.2,177.0 355.0,177.2" fill="none" stroke="#111" stroke-width="0.75" stroke-linejoin="round"/>
<path d="M293.8,133.5 C294.6,133.9 297.1,136.0 298.8,136.0 C300.4,136.0 301.9,134.4 303.8,133.5 C305.6,132.6 308.1,130.4 310.0,130.4 C311.9,130.4 313.5,133.6 315.0,133.5 C316.5,133.4 317.3,130.7 318.8,129.8 C320.2,128.8 321.5,128.4 323.8,127.9 C326.0,127.4 329.6,127.1 332.5,126.6 C335.4,126.1 338.5,125.3 341.2,124.8 C344.0,124.2 346.5,123.1 348.8,123.5 C351.0,123.9 354.0,126.6 355.0,127.2" fill="none" stroke="#111" stroke-width="0.75" stroke-linejoin="round"/>
<path d="M306.9,190.0 C307.3,190.8 309.1,193.3 309.4,195.0 C309.7,196.7 309.7,198.3 308.8,200.0 C307.8,201.7 305.2,203.1 303.8,205.0 C302.3,206.9 300.9,209.2 300.0,211.2 C299.1,213.3 299.2,215.9 298.1,217.5 C297.1,219.1 295.4,219.6 293.8,220.6 C292.1,221.7 289.4,222.6 288.1,223.8 C286.9,224.9 286.2,226.0 286.2,227.5 C286.2,229.0 288.5,230.9 288.1,232.5 C287.7,234.1 285.1,235.7 283.8,236.9 C282.4,238.0 281.2,239.2 280.0,239.4 C278.8,239.6 276.9,238.3 276.2,238.1" fill="none" stroke="#111" stroke-width="0.75" stroke-linejoin="round"/>
<path d="M303.8,205.0 C304.2,205.8 305.6,208.1 306.2,210.0 C306.9,211.9 306.7,214.2 307.5,216.2 C308.3,218.3 310.0,220.4 311.2,222.5 C312.5,224.6 314.1,226.9 315.0,228.8 C315.9,230.6 317.0,232.1 316.9,233.8 C316.8,235.4 315.0,237.1 314.4,238.8 C313.8,240.4 313.0,242.1 313.1,243.8 C313.2,245.4 313.9,247.1 315.0,248.8 C316.1,250.4 319.1,251.9 320.0,253.8 C320.9,255.6 321.0,258.3 320.6,260.0 C320.2,261.7 318.0,263.3 317.5,264.0" fill="none" stroke="#111" stroke-width="0.75" stroke-linejoin="round"/>
<path d="M320.0,230.0 C321.2,230.2 325.0,230.7 327.5,231.2 C330.0,231.8 332.9,233.8 335.0,233.1 C337.1,232.5 338.3,229.9 340.0,227.5 C341.7,225.1 344.4,221.9 345.0,218.8 C345.6,215.6 343.8,211.5 343.8,208.8 C343.8,206.0 344.8,203.5 345.0,202.5" fill="none" stroke="#111" stroke-width="0.75" stroke-linejoin="round"/>
<path d="M373.8,45.5 C373.3,46.1 372.3,47.8 371.2,48.9 C370.2,50.0 368.1,50.9 367.5,52.0 C366.9,53.1 366.9,54.7 367.5,55.8 C368.1,56.8 369.6,57.9 371.2,58.2 C372.9,58.6 375.2,57.9 377.5,57.6 C379.8,57.4 382.5,56.5 385.0,56.8 C387.5,57.0 389.8,58.2 392.5,58.9 C395.2,59.5 398.8,60.0 401.2,60.8 C403.8,61.5 405.4,62.9 407.5,63.2 C409.6,63.6 411.5,63.0 413.8,62.6 C416.0,62.2 418.5,60.5 421.2,60.8 C424.0,61.0 427.5,63.6 430.0,63.9 C432.5,64.2 434.0,62.5 436.2,62.6 C438.5,62.7 441.2,63.8 443.8,64.5 C446.2,65.2 448.8,67.0 451.2,67.0 C453.8,67.0 456.5,65.5 458.8,64.5 C461.0,63.5 464.0,61.4 465.0,60.8" fill="none" stroke="#111" stroke-width="0.75" stroke-linejoin="round"/>
<path d="M413.8,191.0 C414.0,190.4 414.0,188.4 415.0,187.2 C416.0,186.1 418.3,184.5 420.0,184.1 C421.7,183.7 423.3,184.2 425.0,184.8 C426.7,185.3 428.3,187.0 430.0,187.2 C431.7,187.5 433.3,186.6 435.0,186.0 C436.7,185.4 438.3,183.8 440.0,183.5 C441.7,183.2 443.3,183.7 445.0,184.1 C446.7,184.5 448.3,185.5 450.0,186.0 C451.7,186.5 453.1,187.0 455.0,187.2 C456.9,187.5 459.4,187.4 461.2,187.2 C463.1,187.1 465.4,186.7 466.2,186.6" fill="none" stroke="#555" stroke-width="0.8" stroke-linejoin="round"/>
<path d="M355.0,129.8 C355.8,130.6 358.1,133.5 360.0,134.8 C361.9,136.0 364.8,135.8 366.2,137.2 C367.7,138.7 367.9,141.4 368.8,143.5 C369.6,145.6 370.8,147.2 371.2,149.8 C371.7,152.2 371.2,155.6 371.2,158.5 C371.2,161.4 371.2,165.8 371.2,167.2" fill="none" stroke="#111" stroke-width="0.75" stroke-linejoin="round"/>
<path d="M363.8,167.2 C365.0,167.3 368.5,167.7 371.2,167.5 C374.0,167.3 377.3,166.4 380.0,166.0 C382.7,165.6 385.0,165.6 387.5,165.4 C390.0,165.2 392.5,165.3 395.0,164.8 C397.5,164.2 400.0,163.3 402.5,162.2 C405.0,161.2 407.7,159.0 410.0,158.5 C412.3,158.0 414.2,159.1 416.2,159.1 C418.3,159.1 421.0,157.9 422.5,158.5 C424.0,159.1 423.8,161.6 425.0,162.9 C426.2,164.1 427.9,165.5 430.0,166.0 C432.1,166.5 435.4,165.5 437.5,166.0 C439.6,166.5 440.6,168.3 442.5,169.1 C444.4,170.0 446.5,171.0 448.8,171.0 C451.0,171.0 453.5,169.8 456.2,169.1 C459.0,168.5 463.5,167.6 465.0,167.2" fill="none" stroke="#111" stroke-width="0.75" stroke-linejoin="round"/>
<path d="M395.0,164.8 C395.0,165.8 394.0,168.9 395.0,171.0 C396.0,173.1 399.4,175.8 401.2,177.2 C403.1,178.7 405.0,178.3 406.2,179.8 C407.5,181.2 409.0,184.3 408.8,186.0 C408.5,187.7 405.6,189.3 405.0,190.0" fill="none" stroke="#111" stroke-width="0.75" stroke-linejoin="round"/>
<path d="M355.0,177.2 C356.0,176.8 359.7,176.0 361.2,174.8 C362.8,173.5 363.8,171.0 364.4,169.8 C365.0,168.5 364.9,167.7 365.0,167.2" fill="none" stroke="#111" stroke-width="0.75" stroke-linejoin="round"/>
<path d="M358.6,219.1 C358.7,218.1 359.0,214.8 359.1,213.0 C359.3,211.1 359.2,209.2 359.7,207.8 C360.1,206.5 360.7,205.8 361.7,204.8 C362.7,203.7 364.5,202.5 365.8,201.7 C367.1,200.9 368.5,200.3 369.4,200.2 C370.2,200.1 370.7,201.0 370.9,201.2" fill="none" stroke="#555" stroke-width="0.8" stroke-linejoin="round"/>
<path d="M372.4,79.9 C372.5,80.5 372.9,82.9 372.9,84.0 C372.9,85.0 372.8,84.8 372.4,86.0 C372.0,87.2 371.5,89.4 370.3,91.1 C369.1,92.8 366.8,94.8 365.2,96.2 C363.7,97.7 362.8,99.0 361.1,99.8 C359.5,100.7 356.5,100.2 355.5,101.3 C354.5,102.4 355.0,104.6 355.0,106.5 C355.0,108.3 355.0,110.9 355.5,112.6 C356.0,114.3 357.8,115.3 358.1,116.7 C358.3,118.0 357.9,119.6 357.0,120.8 C356.2,122.0 354.1,123.2 353.0,123.8 C351.8,124.4 350.8,124.3 350.4,124.4" fill="none" stroke="#111" stroke-width="0.75" stroke-linejoin="round"/>
<g font-size="4.6" fill="#fff" text-anchor="middle" font-weight="bold">
<text x="472.0" y="80.5">-4</text>
<text x="531.5" y="74.5">-4</text>
<text x="477.5" y="101.5">-6</text>
<text x="496.2" y="112.0">-4</text>
<text x="507.5" y="129.0">-4</text>
<text x="478.2" y="143.8">-4</text>
<text x="547.8" y="177.0">-2</text>
<text x="660.8" y="173.8">-2</text>
<text x="649.5" y="170.8">0</text>
<text x="486.9" y="211.5">-2</text>
<text x="503.1" y="212.4">-2</text>
<text x="508.1" y="247.0">-4</text>
<text x="547.2" y="238.2">-2</text>
<text x="558.8" y="238.9">-4</text>
<text x="508.5" y="278.9">0</text>
<text x="523.5" y="286.0">0</text>
<text x="564.4" y="271.4">-4</text>
<text x="552.5" y="324.5">-2</text>
<text x="515.0" y="335.1">0</text>
<text x="565.6" y="335.5">0</text>
<text x="608.8" y="212.4">-2</text>
<text x="635.6" y="224.5">-4</text>
<text x="581.2" y="232.4">-6</text>
<text x="584.4" y="248.6">-6</text>
<text x="660.0" y="253.0">-2</text>
<text x="641.9" y="193.0">-4</text>
<text x="579.8" y="282.0">-2</text>
<text x="640.2" y="277.2">-4</text>
<text x="662.5" y="292.2">-2</text>
<text x="611.0" y="330.5">-2</text>
<text x="660.6" y="335.1">-2</text>
<text x="148.8" y="199.2">0</text>
<text x="148.8" y="220.5">-2</text>
<text x="156.2" y="240.5">0</text>
<text x="168.0" y="250.0">-2</text>
<text x="355.6" y="347.2">-2</text>
<text x="537.5" y="346.2">0</text>
<text x="585.6" y="364.1">-6</text>
<text x="565.6" y="338.2">-4</text>
<text x="660.2" y="335.7">-2</text>
<text x="649.1" y="343.7">-2</text>
<text x="665.1" y="346.4">-4</text>
<text x="614.1" y="356.5">0</text>
<text x="611.1" y="368.0">-4</text>
<text x="270.0" y="67.0">-6</text>
<text x="289.8" y="66.0">-4</text>
<text x="335.0" y="58.0">-4</text>
<text x="331.9" y="72.6">-4</text>
<text x="305.0" y="103.0">-6</text>
<text x="345.0" y="110.8">-6</text>
<text x="270.4" y="111.4">10</text>
<text x="285.6" y="101.1">-6</text>
<text x="277.2" y="155.8">-4</text>
<text x="286.2" y="176.0">-6</text>
<text x="294.0" y="189.1">-8</text>
<text x="319.8" y="185.4">-8</text>
<text x="345.0" y="142.9">-4</text>
<text x="351.2" y="187.2">-4</text>
<text x="311.2" y="118.2">-6</text>
<text x="286.2" y="201.2">-8</text>
<text x="322.5" y="211.2">-6</text>
<text x="341.5" y="201.5">-6</text>
<text x="346.5" y="231.2">-4</text>
<text x="301.9" y="250.0">-4</text>
<text x="266.9" y="219.0">-2</text>
<text x="334.0" y="309.4">-4</text>
<text x="333.5" y="320.2">-2</text>
<text x="322.5" y="309.4">0</text>
<text x="378.1" y="79.5">-2</text>
<text x="451.0" y="63.0">-2</text>
<text x="375.6" y="101.0">-6</text>
<text x="459.0" y="107.4">-6</text>
<text x="378.8" y="137.9">-6</text>
<text x="358.8" y="143.8">-6</text>
<text x="415.0" y="135.8">-4</text>
<text x="412.2" y="154.1">-8</text>
<text x="439.0" y="153.9">-6</text>
<text x="456.2" y="157.5">-4</text>
<text x="386.9" y="172.2">-4</text>
<text x="368.1" y="188.5">-2</text>
<text x="377.2" y="204.0">-4</text>
<text x="358.8" y="272.8">-4</text>
<text x="358.1" y="290.9">-6</text>
<text x="380.4" y="306.5">-2</text>
</g>
</g></g>
<!-- FRAME -->
<rect x="139.5" y="45.5" width="541" height="461.5" fill="none" stroke="#222" stroke-width="1.3"/>
<!-- TICKS -->
<g stroke="#222" stroke-width="1.2">
<line x1="126" y1="49.5" x2="139" y2="49.5"/><line x1="126" y1="138" x2="139" y2="138"/><line x1="126" y1="224.5" x2="139" y2="224.5"/>
<line x1="126" y1="308.3" x2="139" y2="308.3"/><line x1="126" y1="389.4" x2="139" y2="389.4"/><line x1="126" y1="469" x2="139" y2="469"/>
<line x1="275.5" y1="507" x2="275.5" y2="520"/><line x1="340.2" y1="507" x2="340.2" y2="520"/><line x1="405" y1="507" x2="405" y2="520"/>
<line x1="470" y1="507" x2="470" y2="520"/><line x1="534.7" y1="507" x2="534.7" y2="520"/><line x1="599.5" y1="507" x2="599.5" y2="520"/><line x1="664.3" y1="507" x2="664.3" y2="520"/>
</g>
<g font-size="11" fill="#111" text-anchor="end" stroke="#111" stroke-width="0.25">
<text x="119.5" y="53.5">44°N</text><text x="119.5" y="142">42°N</text><text x="119.5" y="228.5">40°N</text>
<text x="119.5" y="312.3">38°N</text><text x="119.5" y="393.4">36°N</text><text x="119.5" y="473">34°N</text>
</g>
<g font-size="11" fill="#111" text-anchor="middle" stroke="#111" stroke-width="0.25">
<text x="275.5" y="537">20°E</text><text x="340.2" y="537">22°E</text><text x="405" y="537">24°E</text><text x="470" y="537">26°E</text>
<text x="534.7" y="537">28°E</text><text x="599.5" y="537">30°E</text><text x="664.3" y="537">32°E</text>
</g>
<!-- COLORBAR -->
<g>
<rect x="688" y="47" width="15.4" height="65.6" fill="#fff"/>
<rect x="688" y="112.6" width="15.4" height="66.2" fill="#87cefa"/>
<rect x="688" y="178.3" width="15.4" height="66.2" fill="#1e78eb"/>
<rect x="688" y="244" width="15.4" height="66.2" fill="#1423af"/>
<rect x="688" y="309.7" width="15.4" height="66.2" fill="#00008b"/>
<rect x="688" y="375.4" width="15.4" height="66" fill="#960fd7"/>
<rect x="688" y="440.9" width="15.4" height="65.6" fill="#ba55d3"/>
<rect x="688" y="47" width="15.4" height="459.5" fill="none" stroke="#777" stroke-width="0.9"/>
</g>
<g font-size="15.3" fill="#111">
<text x="706" y="123.5">0</text><text x="705" y="189.2">-2</text><text x="705" y="254.9">-4</text><text x="705" y="320.6">-6</text><text x="705" y="386.3">-8</text><text x="705" y="451.8">-10</text>
</g>
<!-- LOGO -->
<g>
<path d="M125,519.2 L137,519.2 L149.5,533 L162,519.2 L174,519.2 L174,544.6 L160.5,544.6 L160.5,534 L149.5,544.6 L138.5,534 L138.5,544.6 L125,544.6 Z" fill="#0a14c8"/>
<circle cx="125.8" cy="517.8" r="7.6" fill="#fdd516"/>
<text x="180.5" y="527.6" font-size="12.6" fill="#1a22cc" textLength="39" lengthAdjust="spacingAndGlyphs">Meteo</text>
<text x="180.5" y="536.6" font-size="6.6" fill="#1a22cc" stroke="#1a22cc" stroke-width="0.15" textLength="23.5" lengthAdjust="spacingAndGlyphs">Όλα για</text>
<text x="180.5" y="544.4" font-size="6.6" fill="#1a22cc" stroke="#1a22cc" stroke-width="0.15" textLength="32.5" lengthAdjust="spacingAndGlyphs">τον καιρό</text>
</g>
<!-- FOOTER -->
<text x="440.5" y="565.6" font-size="12.4" fill="#222" textLength="290" lengthAdjust="spacingAndGlyphs">National Observatory of Athens, Greece - meteo.gr</text>
</svg>
</body></html>
